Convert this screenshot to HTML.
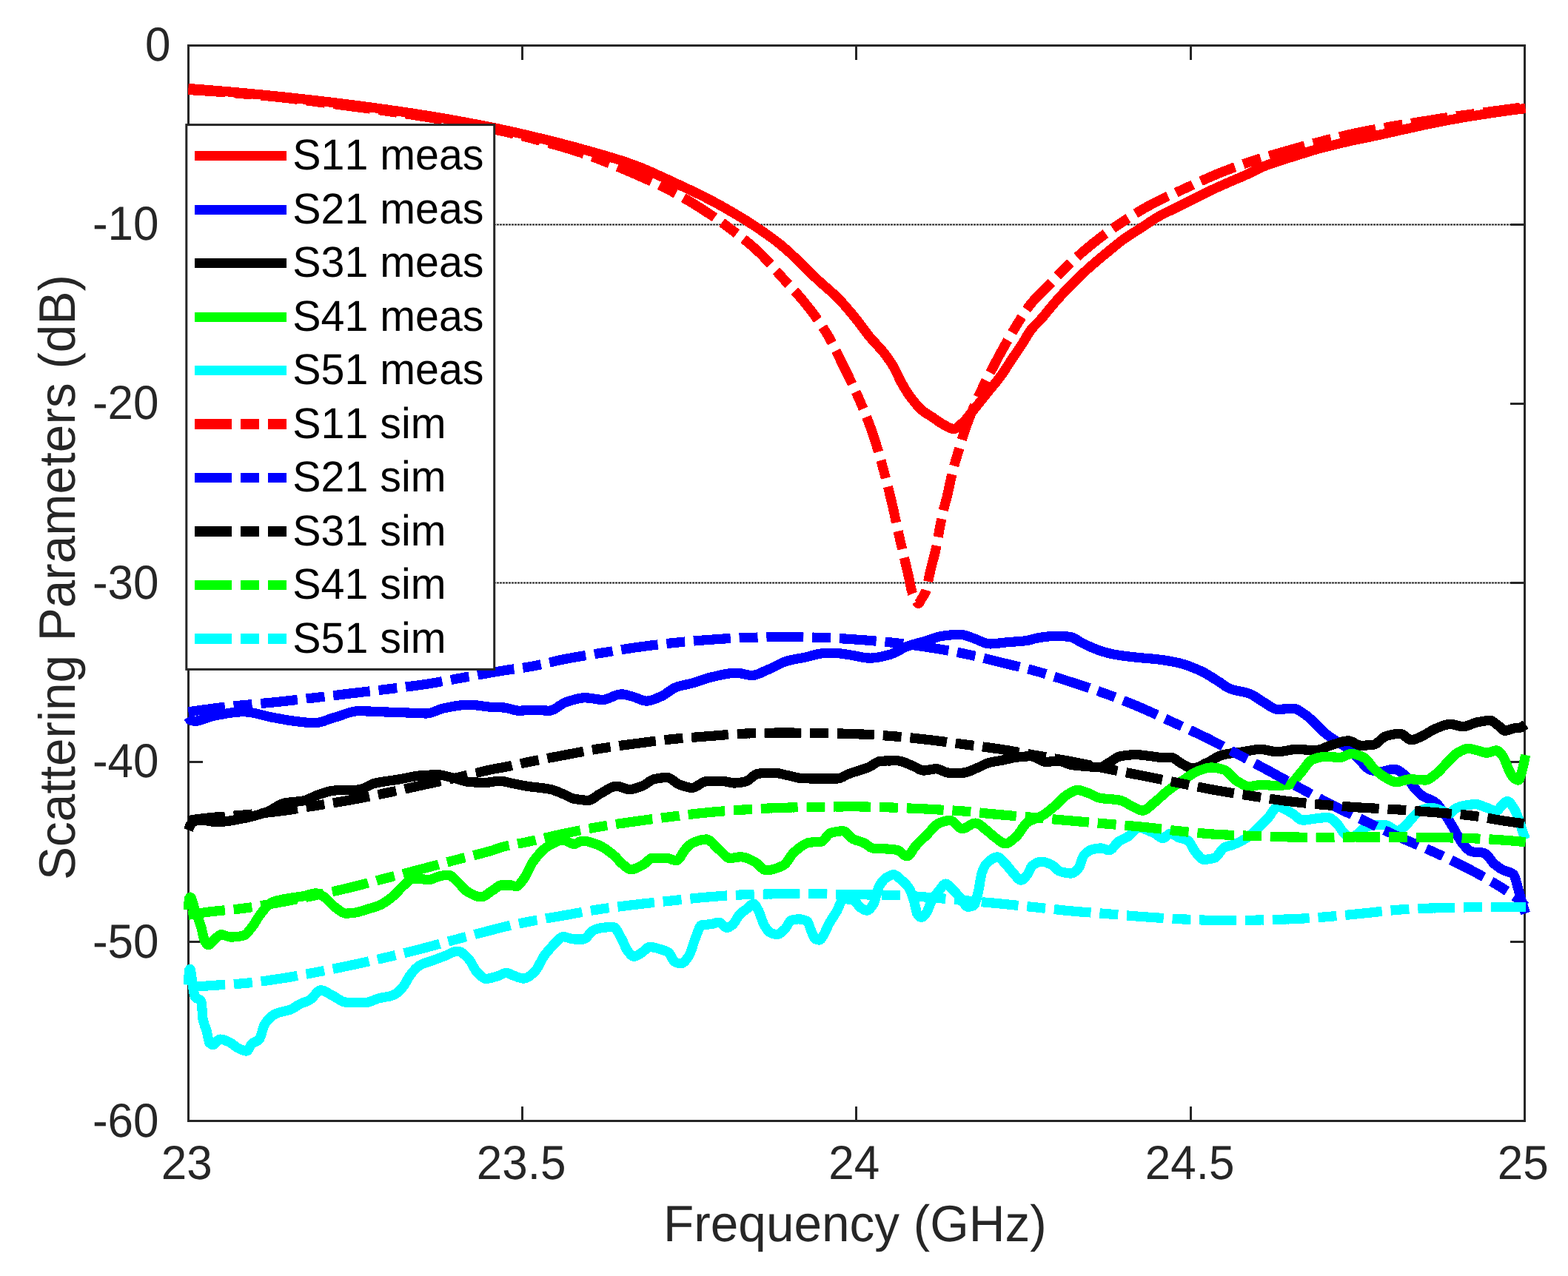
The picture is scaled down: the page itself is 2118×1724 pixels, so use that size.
<!DOCTYPE html>
<html lang="en"><head><meta charset="utf-8">
<style>html,body{margin:0;padding:0;background:#fff;}body{width:2118px;height:1724px;overflow:hidden;}svg{display:block;}text{font-family:'Liberation Sans', sans-serif;font-kerning:none;text-rendering:geometricPrecision;}</style>
</head><body>
<svg width="2118" height="1724" viewBox="0 0 2118 1724">
<rect x="0" y="0" width="2118" height="1724" fill="#ffffff"/>
<g stroke="#262626" stroke-width="1" shape-rendering="crispEdges" fill="none">
<line x1="255" y1="303.5" x2="2041" y2="303.5" stroke-dasharray="3 1"/>
<line x1="256" y1="302.5" x2="2041" y2="302.5" stroke-dasharray="1 3"/>
<line x1="258" y1="302.5" x2="2041" y2="302.5" stroke-dasharray="1 3" stroke-opacity="0.6"/>
<line x1="256" y1="304.5" x2="2041" y2="304.5" stroke-dasharray="1 3"/>
<line x1="258" y1="304.5" x2="2041" y2="304.5" stroke-dasharray="1 3" stroke-opacity="0.6"/>
<line x1="255" y1="787.5" x2="2041" y2="787.5" stroke-dasharray="3 1"/>
<line x1="256" y1="786.5" x2="2041" y2="786.5" stroke-dasharray="1 3"/>
<line x1="258" y1="786.5" x2="2041" y2="786.5" stroke-dasharray="1 3" stroke-opacity="0.6"/>
<line x1="256" y1="788.5" x2="2041" y2="788.5" stroke-dasharray="1 3"/>
<line x1="258" y1="788.5" x2="2041" y2="788.5" stroke-dasharray="1 3" stroke-opacity="0.6"/>
</g>
<rect x="254.5" y="61.5" width="1805.0" height="1453.0" fill="none" stroke="#262626" stroke-width="3"/>
<rect x="256" y="302.0" width="18" height="3" fill="#262626"/>
<rect x="2040" y="302.0" width="18" height="3" fill="#262626"/>
<rect x="256" y="544.0" width="18" height="3" fill="#262626"/>
<rect x="2040" y="544.0" width="18" height="3" fill="#262626"/>
<rect x="256" y="786.0" width="18" height="3" fill="#262626"/>
<rect x="2040" y="786.0" width="18" height="3" fill="#262626"/>
<rect x="256" y="1028.0" width="18" height="3" fill="#262626"/>
<rect x="2040" y="1028.0" width="18" height="3" fill="#262626"/>
<rect x="256" y="1271.0" width="18" height="3" fill="#262626"/>
<rect x="2040" y="1271.0" width="18" height="3" fill="#262626"/>
<rect x="704.0" y="63" width="3" height="18" fill="#262626"/>
<rect x="704.0" y="1495" width="3" height="18" fill="#262626"/>
<rect x="1155.0" y="63" width="3" height="18" fill="#262626"/>
<rect x="1155.0" y="1495" width="3" height="18" fill="#262626"/>
<rect x="1607.0" y="63" width="3" height="18" fill="#262626"/>
<rect x="1607.0" y="1495" width="3" height="18" fill="#262626"/>
<g fill="none" stroke-linejoin="round" stroke-linecap="butt">
<path stroke="#ff0000" stroke-width="11.8" d="M254.5 119.5 L256.5 119.6 L258.5 119.8 L260.5 120.0 L262.5 120.1 L264.5 120.3 L266.5 120.4 L268.5 120.6 L270.5 120.7 L272.5 120.9 L274.5 121.0 L276.5 121.2 L278.5 121.4 L280.5 121.5 L282.5 121.7 L284.5 121.8 L286.5 122.0 L288.5 122.2 L290.5 122.3 L292.5 122.5 L294.5 122.7 L296.5 122.8 L298.5 123.0 L300.5 123.2 L302.5 123.4 L304.5 123.5 L306.5 123.7 L308.5 123.9 L310.5 124.0 L312.5 124.2 L314.5 124.4 L316.5 124.6 L318.5 124.8 L320.5 124.9 L322.5 125.1 L324.5 125.3 L326.5 125.5 L328.5 125.7 L330.5 125.8 L332.5 126.0 L334.5 126.2 L336.5 126.4 L338.5 126.6 L340.5 126.8 L342.5 127.0 L344.5 127.2 L346.5 127.3 L348.5 127.5 L350.5 127.7 L352.5 127.9 L353.3 128.0 L354.5 128.1 L356.5 128.3 L358.5 128.5 L360.5 128.7 L362.5 128.9 L364.5 129.1 L366.5 129.3 L368.5 129.5 L370.5 129.7 L372.5 129.9 L374.5 130.1 L376.5 130.3 L378.5 130.5 L380.5 130.7 L382.5 130.9 L384.5 131.1 L386.5 131.4 L388.5 131.6 L390.5 131.8 L392.5 132.0 L394.5 132.2 L396.5 132.4 L398.5 132.6 L400.5 132.9 L402.5 133.1 L404.5 133.3 L406.5 133.5 L408.5 133.7 L410.5 134.0 L412.5 134.2 L414.5 134.4 L416.5 134.6 L418.5 134.9 L420.5 135.1 L422.5 135.3 L424.5 135.6 L426.5 135.8 L428.5 136.0 L430.5 136.2 L432.5 136.5 L434.5 136.7 L436.5 136.9 L438.5 137.2 L440.5 137.4 L442.5 137.7 L444.5 137.9 L446.5 138.1 L448.5 138.4 L450.5 138.6 L452.5 138.9 L454.5 139.1 L456.5 139.4 L458.5 139.6 L460.5 139.8 L462.5 140.1 L464.5 140.3 L466.5 140.6 L466.6 140.6 L468.5 140.8 L470.5 141.1 L472.5 141.3 L474.5 141.6 L476.5 141.8 L478.5 142.1 L480.5 142.4 L482.5 142.6 L484.5 142.9 L486.5 143.1 L488.5 143.4 L490.5 143.7 L492.5 143.9 L494.5 144.2 L496.5 144.5 L498.5 144.7 L500.5 145.0 L502.5 145.3 L504.5 145.5 L506.5 145.8 L508.5 146.1 L510.5 146.3 L512.5 146.6 L514.5 146.9 L516.5 147.2 L518.5 147.5 L520.5 147.7 L522.5 148.0 L524.5 148.3 L526.5 148.6 L528.5 148.9 L530.5 149.2 L532.5 149.4 L534.5 149.7 L536.5 150.0 L538.5 150.3 L540.5 150.6 L542.5 150.9 L544.5 151.2 L546.5 151.5 L548.5 151.8 L550.5 152.1 L552.5 152.4 L554.5 152.7 L556.5 153.0 L558.5 153.3 L560.5 153.6 L562.5 153.9 L564.5 154.2 L566.5 154.6 L568.5 154.9 L570.5 155.2 L572.5 155.5 L574.5 155.8 L576.5 156.1 L578.5 156.5 L580.0 156.7 L580.5 156.8 L582.5 157.1 L584.5 157.4 L586.5 157.8 L588.5 158.1 L590.5 158.4 L592.5 158.8 L594.5 159.1 L596.5 159.4 L598.5 159.8 L600.5 160.1 L602.5 160.5 L604.5 160.8 L606.5 161.2 L608.5 161.5 L610.5 161.9 L612.5 162.2 L614.5 162.6 L616.5 163.0 L618.5 163.3 L620.5 163.7 L622.5 164.1 L624.5 164.4 L626.5 164.8 L628.5 165.2 L630.5 165.5 L632.5 165.9 L634.5 166.3 L636.5 166.7 L638.5 167.1 L640.5 167.4 L642.5 167.8 L644.5 168.2 L646.5 168.6 L648.5 169.0 L650.5 169.4 L652.5 169.8 L654.5 170.2 L656.5 170.6 L658.5 171.0 L660.5 171.4 L662.5 171.8 L664.5 172.2 L666.5 172.6 L668.5 173.0 L669.0 173.1 L670.5 173.4 L672.5 173.8 L674.5 174.2 L676.5 174.7 L678.5 175.1 L680.5 175.5 L682.5 175.9 L684.5 176.4 L686.5 176.8 L688.5 177.2 L690.5 177.7 L692.5 178.1 L694.5 178.6 L696.5 179.0 L698.5 179.5 L700.5 179.9 L702.5 180.4 L704.5 180.9 L706.5 181.3 L708.5 181.8 L710.5 182.3 L712.5 182.7 L714.5 183.2 L716.5 183.7 L718.5 184.1 L720.5 184.6 L722.5 185.1 L724.5 185.6 L726.5 186.1 L728.5 186.5 L730.0 186.9 L730.5 187.0 L732.5 187.5 L734.5 188.0 L736.5 188.5 L738.5 189.0 L740.5 189.5 L742.5 190.0 L744.5 190.5 L746.5 191.0 L748.5 191.5 L750.5 192.0 L752.5 192.5 L754.5 193.0 L756.5 193.5 L758.5 194.0 L760.5 194.6 L762.5 195.1 L764.5 195.6 L766.5 196.1 L768.5 196.7 L770.5 197.2 L772.5 197.7 L774.5 198.3 L776.5 198.8 L778.5 199.3 L780.5 199.9 L782.5 200.4 L784.5 201.0 L786.5 201.5 L788.5 202.1 L790.5 202.6 L791.4 202.9 L792.5 203.2 L794.5 203.8 L796.5 204.3 L798.5 204.9 L800.5 205.5 L802.5 206.0 L804.5 206.6 L806.5 207.1 L808.5 207.7 L810.5 208.3 L812.5 208.9 L814.5 209.4 L816.5 210.0 L818.5 210.6 L820.5 211.2 L822.5 211.8 L824.5 212.4 L826.5 213.0 L828.5 213.6 L830.5 214.2 L832.5 214.8 L834.5 215.5 L836.5 216.1 L838.5 216.7 L840.5 217.4 L842.5 218.0 L844.5 218.7 L846.5 219.4 L848.5 220.1 L850.5 220.8 L852.5 221.5 L852.8 221.6 L854.5 222.2 L856.5 223.0 L858.5 223.7 L860.5 224.5 L862.5 225.2 L864.5 226.0 L866.5 226.8 L868.5 227.7 L870.5 228.5 L872.5 229.3 L874.5 230.2 L876.5 231.0 L878.5 231.9 L880.5 232.8 L882.5 233.7 L884.5 234.6 L886.5 235.4 L888.5 236.4 L890.5 237.3 L892.5 238.2 L894.5 239.1 L896.5 240.0 L898.5 240.9 L900.5 241.9 L902.5 242.8 L904.5 243.7 L906.5 244.7 L908.5 245.6 L910.5 246.5 L912.5 247.5 L914.1 248.2 L914.5 248.4 L916.5 249.3 L918.5 250.2 L920.5 251.2 L922.5 252.1 L924.5 253.1 L926.5 254.0 L928.5 254.9 L930.5 255.9 L932.5 256.8 L934.5 257.8 L936.5 258.8 L938.5 259.7 L940.5 260.7 L942.5 261.7 L944.5 262.6 L946.5 263.6 L948.5 264.6 L950.5 265.6 L952.5 266.6 L954.5 267.7 L956.5 268.7 L958.5 269.7 L960.5 270.8 L962.5 271.8 L964.5 272.9 L966.5 273.9 L968.5 275.0 L970.5 276.1 L972.5 277.2 L974.5 278.3 L975.5 278.9 L976.5 279.5 L978.5 280.6 L980.5 281.7 L982.5 282.9 L984.5 284.0 L986.5 285.2 L988.5 286.3 L990.5 287.5 L992.5 288.7 L994.5 289.9 L996.5 291.1 L998.5 292.3 L1000.5 293.5 L1002.5 294.7 L1004.5 295.9 L1006.5 297.2 L1008.5 298.4 L1010.5 299.7 L1012.5 301.0 L1014.5 302.3 L1016.5 303.5 L1018.5 304.9 L1020.5 306.2 L1022.5 307.5 L1024.5 308.8 L1026.5 310.2 L1028.5 311.6 L1030.5 313.0 L1032.5 314.3 L1034.5 315.8 L1036.5 317.2 L1038.5 318.6 L1040.5 320.1 L1042.5 321.5 L1044.5 323.0 L1046.5 324.5 L1048.5 326.0 L1050.5 327.6 L1051.3 328.2 L1052.5 329.1 L1054.5 330.7 L1056.5 332.4 L1058.5 334.1 L1060.5 335.8 L1062.5 337.6 L1064.5 339.3 L1066.5 341.2 L1068.5 343.0 L1070.5 344.9 L1072.5 346.8 L1074.5 348.7 L1076.5 350.6 L1078.5 352.6 L1080.5 354.6 L1082.5 356.5 L1084.5 358.5 L1086.5 360.5 L1088.5 362.4 L1090.5 364.4 L1092.5 366.4 L1094.5 368.4 L1096.5 370.3 L1098.5 372.2 L1100.5 374.2 L1102.5 376.1 L1104.5 378.0 L1106.5 379.8 L1106.7 380.0 L1108.5 381.6 L1110.5 383.4 L1112.5 385.2 L1114.5 387.0 L1116.5 388.7 L1118.5 390.5 L1120.5 392.2 L1122.5 394.0 L1124.5 395.8 L1126.5 397.7 L1128.5 399.6 L1130.5 401.5 L1132.5 403.5 L1132.6 403.6 L1134.5 405.6 L1136.5 407.7 L1138.5 409.9 L1140.5 412.1 L1142.5 414.4 L1144.5 416.7 L1146.5 419.1 L1148.5 421.4 L1150.5 423.8 L1152.5 426.3 L1154.5 428.7 L1156.2 430.8 L1156.5 431.2 L1158.5 433.7 L1160.5 436.3 L1162.5 438.9 L1164.5 441.6 L1166.5 444.3 L1168.5 447.0 L1170.5 449.7 L1172.5 452.3 L1174.5 454.8 L1175.1 455.5 L1176.5 457.2 L1178.5 459.4 L1180.5 461.6 L1182.5 463.8 L1184.5 465.9 L1186.5 468.1 L1188.5 470.3 L1190.5 472.5 L1192.5 474.9 L1194.0 476.8 L1194.5 477.4 L1196.5 480.1 L1198.5 482.8 L1200.5 485.6 L1202.5 488.5 L1204.5 491.6 L1206.5 494.9 L1207.0 495.7 L1208.5 498.4 L1210.5 502.4 L1212.5 506.6 L1214.5 510.8 L1216.5 514.9 L1217.6 516.9 L1218.5 518.5 L1220.5 522.0 L1222.5 525.4 L1224.5 528.6 L1226.5 531.7 L1228.5 534.6 L1229.4 535.8 L1230.5 537.3 L1232.5 539.9 L1234.5 542.4 L1236.5 544.9 L1238.5 547.2 L1240.5 549.4 L1242.5 551.5 L1244.5 553.4 L1246.0 554.7 L1246.5 555.1 L1248.5 556.7 L1250.5 558.1 L1252.5 559.3 L1254.5 560.6 L1256.5 561.8 L1258.5 563.1 L1260.1 564.1 L1260.5 564.4 L1262.5 565.8 L1264.5 567.2 L1266.5 568.6 L1268.5 570.0 L1270.5 571.4 L1272.5 572.6 L1274.3 573.6 L1274.5 573.7 L1276.5 574.8 L1278.5 575.9 L1280.5 577.0 L1282.5 578.0 L1284.5 578.8 L1286.5 579.3 L1288.4 579.5 L1288.5 579.5 L1290.5 579.1 L1292.5 578.0 L1294.5 576.5 L1296.5 574.7 L1298.5 572.8 L1300.2 571.2 L1300.5 570.9 L1302.5 569.0 L1304.5 566.9 L1306.5 564.5 L1308.5 562.1 L1310.5 559.5 L1312.5 557.0 L1314.4 554.7 L1314.5 554.6 L1316.5 552.2 L1318.5 549.7 L1320.5 547.2 L1322.5 544.7 L1324.5 542.2 L1326.5 539.7 L1328.5 537.1 L1330.5 534.6 L1332.5 532.1 L1333.3 531.1 L1334.5 529.6 L1336.5 527.2 L1338.5 524.7 L1340.5 522.3 L1342.5 519.9 L1344.5 517.5 L1346.5 515.0 L1348.5 512.4 L1350.5 509.8 L1352.2 507.5 L1352.5 507.1 L1354.5 504.2 L1356.5 501.3 L1358.5 498.2 L1360.5 495.1 L1362.5 492.0 L1364.5 488.9 L1366.3 486.2 L1366.5 485.9 L1368.5 482.9 L1370.5 480.0 L1372.5 477.0 L1374.5 474.1 L1376.5 471.1 L1378.5 468.1 L1380.5 465.0 L1382.5 461.8 L1384.5 458.4 L1386.5 455.0 L1388.5 451.7 L1390.5 448.6 L1392.3 446.1 L1392.5 445.8 L1394.5 443.4 L1396.5 441.2 L1398.5 439.1 L1400.5 437.1 L1402.5 435.1 L1404.5 433.0 L1406.5 430.8 L1408.5 428.5 L1410.5 426.1 L1412.5 423.7 L1414.5 421.2 L1416.5 418.8 L1418.5 416.3 L1420.5 413.9 L1422.5 411.5 L1423.3 410.6 L1424.5 409.2 L1426.5 406.9 L1428.5 404.7 L1430.5 402.4 L1432.5 400.2 L1434.5 398.0 L1436.5 395.8 L1438.5 393.6 L1440.5 391.5 L1442.5 389.4 L1444.5 387.3 L1446.5 385.2 L1447.2 384.5 L1448.5 383.2 L1450.5 381.2 L1452.5 379.2 L1454.5 377.2 L1456.5 375.3 L1458.5 373.4 L1460.5 371.5 L1462.5 369.6 L1464.5 367.7 L1466.5 365.9 L1468.5 364.1 L1470.5 362.3 L1470.8 362.0 L1472.5 360.5 L1474.5 358.7 L1476.5 357.0 L1478.5 355.3 L1480.5 353.6 L1482.5 351.9 L1484.5 350.2 L1486.5 348.5 L1488.5 346.9 L1490.5 345.2 L1492.5 343.6 L1494.4 342.0 L1494.5 341.9 L1496.5 340.3 L1498.5 338.6 L1500.5 336.9 L1502.5 335.3 L1504.5 333.6 L1506.5 332.0 L1508.5 330.4 L1510.5 328.8 L1512.5 327.2 L1514.5 325.7 L1516.5 324.2 L1518.0 323.1 L1518.5 322.7 L1520.5 321.3 L1522.5 320.0 L1524.5 318.6 L1526.5 317.3 L1528.5 316.0 L1530.5 314.7 L1532.5 313.5 L1534.5 312.2 L1536.5 311.0 L1538.5 309.7 L1540.5 308.4 L1541.6 307.7 L1542.5 307.1 L1544.5 305.8 L1546.5 304.5 L1548.5 303.1 L1550.5 301.8 L1552.5 300.4 L1554.5 299.1 L1556.5 297.8 L1558.5 296.5 L1560.5 295.2 L1562.5 294.0 L1564.5 292.9 L1565.3 292.4 L1566.5 291.7 L1568.5 290.6 L1570.5 289.6 L1572.5 288.6 L1574.5 287.6 L1576.5 286.6 L1578.5 285.6 L1580.5 284.7 L1582.5 283.7 L1584.5 282.8 L1586.5 281.8 L1588.5 280.8 L1588.9 280.6 L1590.5 279.8 L1592.5 278.8 L1594.5 277.8 L1596.5 276.8 L1598.5 275.8 L1600.5 274.8 L1602.5 273.8 L1604.5 272.8 L1606.5 271.8 L1608.5 270.8 L1610.5 269.8 L1612.5 268.8 L1614.5 267.8 L1616.5 266.8 L1618.5 265.8 L1620.5 264.8 L1622.5 263.7 L1624.5 262.7 L1626.5 261.7 L1628.5 260.7 L1630.5 259.7 L1632.5 258.7 L1634.5 257.8 L1636.1 257.0 L1636.5 256.8 L1638.5 255.9 L1640.5 254.9 L1642.5 254.0 L1644.5 253.1 L1646.5 252.2 L1648.5 251.3 L1650.5 250.4 L1652.5 249.6 L1654.5 248.7 L1656.5 247.8 L1658.5 246.9 L1659.7 246.4 L1660.5 246.0 L1662.5 245.2 L1664.5 244.3 L1666.5 243.5 L1668.5 242.6 L1670.5 241.8 L1672.5 240.9 L1674.5 240.1 L1676.5 239.2 L1678.5 238.3 L1680.5 237.5 L1682.5 236.6 L1683.3 236.2 L1684.5 235.7 L1686.5 234.7 L1688.5 233.7 L1690.5 232.8 L1692.5 231.8 L1694.5 230.8 L1696.5 229.8 L1698.5 228.8 L1700.5 227.8 L1702.5 226.9 L1704.5 226.0 L1706.5 225.2 L1706.9 225.0 L1708.5 224.4 L1710.5 223.6 L1712.5 222.8 L1714.5 222.1 L1716.5 221.4 L1718.5 220.7 L1720.5 220.0 L1722.5 219.3 L1724.5 218.7 L1726.5 218.0 L1728.5 217.4 L1730.5 216.7 L1732.5 216.0 L1734.5 215.4 L1736.5 214.8 L1738.5 214.1 L1740.5 213.5 L1742.5 212.9 L1744.5 212.3 L1746.5 211.6 L1748.5 211.0 L1750.5 210.4 L1752.5 209.8 L1754.1 209.3 L1754.5 209.2 L1756.5 208.5 L1758.5 207.9 L1760.5 207.3 L1762.5 206.6 L1764.5 206.0 L1766.5 205.4 L1768.5 204.7 L1770.5 204.1 L1772.5 203.5 L1774.5 202.9 L1776.5 202.3 L1777.7 202.0 L1778.5 201.8 L1780.5 201.2 L1782.5 200.7 L1784.5 200.2 L1786.5 199.7 L1788.5 199.2 L1790.5 198.7 L1792.5 198.2 L1794.5 197.7 L1796.5 197.2 L1798.5 196.7 L1800.5 196.2 L1801.3 196.0 L1802.5 195.7 L1804.5 195.2 L1806.5 194.7 L1808.5 194.2 L1810.5 193.7 L1812.5 193.2 L1814.5 192.7 L1816.5 192.3 L1818.5 191.8 L1820.5 191.3 L1822.5 190.8 L1824.5 190.4 L1824.9 190.3 L1826.5 189.9 L1828.5 189.5 L1830.5 189.1 L1832.5 188.7 L1834.5 188.3 L1836.5 187.9 L1838.5 187.5 L1840.5 187.0 L1842.5 186.6 L1844.5 186.2 L1846.5 185.8 L1848.5 185.4 L1850.5 185.0 L1852.5 184.5 L1854.5 184.1 L1856.5 183.7 L1858.5 183.3 L1860.5 182.8 L1862.5 182.4 L1864.5 182.0 L1866.5 181.5 L1868.5 181.1 L1870.5 180.7 L1872.1 180.3 L1872.5 180.2 L1874.5 179.8 L1876.5 179.3 L1878.5 178.9 L1880.5 178.4 L1882.5 178.0 L1884.5 177.5 L1886.5 177.1 L1888.5 176.6 L1890.5 176.2 L1892.5 175.7 L1894.5 175.3 L1895.8 175.0 L1896.5 174.8 L1898.5 174.4 L1900.5 174.0 L1902.5 173.5 L1904.5 173.1 L1906.5 172.6 L1908.5 172.2 L1910.5 171.8 L1912.5 171.3 L1914.5 170.9 L1916.5 170.4 L1918.5 170.0 L1920.5 169.6 L1922.5 169.1 L1924.5 168.7 L1926.5 168.3 L1928.5 167.8 L1930.5 167.4 L1932.5 167.0 L1934.5 166.6 L1936.5 166.2 L1938.5 165.8 L1940.5 165.4 L1942.5 165.0 L1944.5 164.6 L1946.5 164.2 L1948.5 163.8 L1950.0 163.5 L1950.5 163.4 L1952.5 163.0 L1954.5 162.7 L1956.5 162.3 L1958.5 161.9 L1960.5 161.6 L1962.5 161.2 L1964.5 160.9 L1966.5 160.5 L1968.5 160.2 L1970.5 159.8 L1972.5 159.5 L1974.5 159.1 L1976.5 158.8 L1978.5 158.4 L1980.5 158.1 L1982.5 157.8 L1984.5 157.5 L1986.5 157.1 L1988.5 156.8 L1990.5 156.5 L1992.5 156.2 L1994.5 155.9 L1996.5 155.5 L1998.5 155.2 L2000.0 155.0 L2000.5 154.9 L2002.5 154.6 L2004.5 154.3 L2006.5 154.0 L2008.5 153.7 L2010.5 153.4 L2012.5 153.1 L2014.5 152.8 L2016.5 152.5 L2018.5 152.2 L2020.5 151.9 L2022.5 151.6 L2024.5 151.3 L2026.5 151.1 L2028.5 150.8 L2030.5 150.5 L2032.5 150.2 L2034.5 149.9 L2036.5 149.7 L2038.5 149.4 L2040.5 149.1 L2042.5 148.8 L2044.5 148.6 L2046.5 148.3 L2048.5 148.0 L2050.5 147.8 L2052.5 147.5 L2054.5 147.3 L2056.5 147.0 L2058.5 146.7 L2060.5 146.5"/>
<path stroke="#ff0000" stroke-width="13.2" shape-rendering="crispEdges" d="M254.5 119.5 L256.5 119.6 L258.5 119.8 L260.5 120.0 L262.5 120.1 L264.5 120.3 L266.5 120.4 L268.5 120.6 L270.5 120.7 L272.5 120.9 L274.5 121.0 L276.5 121.2 L278.5 121.4 L280.5 121.5 L282.5 121.7 L284.5 121.8 L286.5 122.0 L288.5 122.2 L290.5 122.3 L292.5 122.5 L294.5 122.7 L296.5 122.8 L298.5 123.0 L300.5 123.2 L302.5 123.4 L304.5 123.5 L306.5 123.7 L308.5 123.9 L310.5 124.0 L312.5 124.2 L314.5 124.4 L316.5 124.6 L318.5 124.8 L320.5 124.9 L322.5 125.1 L324.5 125.3 L326.5 125.5 L328.5 125.7 L330.5 125.8 L332.5 126.0 L334.5 126.2 L336.5 126.4 L338.5 126.6 L340.5 126.8 L342.5 127.0 L344.5 127.2 L346.5 127.3 L348.5 127.5 L350.5 127.7 L352.5 127.9 L353.3 128.0 L354.5 128.1 L356.5 128.3 L358.5 128.5 L360.5 128.7 L362.5 128.9 L364.5 129.1 L366.5 129.3 L368.5 129.5 L370.5 129.7 L372.5 129.9 L374.5 130.1 L376.5 130.3 L378.5 130.5 L380.5 130.7 L382.5 130.9 L384.5 131.1 L386.5 131.4 L388.5 131.6 L390.5 131.8 L392.5 132.0 L394.5 132.2 L396.5 132.4 L398.5 132.6 L400.5 132.9 L402.5 133.1 L404.5 133.3 L406.5 133.5 L408.5 133.7 L410.5 134.0 L412.5 134.2 L414.5 134.4 L416.5 134.6 L418.5 134.9 L420.5 135.1 L422.5 135.3 L424.5 135.6 L426.5 135.8 L428.5 136.0 L430.5 136.2 L432.5 136.5 L434.5 136.7 L436.5 136.9 L438.5 137.2 L440.5 137.4 L442.5 137.7 L444.5 137.9 L446.5 138.1 L448.5 138.4 L450.5 138.6 L452.5 138.9 L454.5 139.1 L456.5 139.4 L458.5 139.6 L460.5 139.8 L462.5 140.1 L464.5 140.3 L466.5 140.6 L466.6 140.6 L468.5 140.8 L470.5 141.1 L472.5 141.3 L474.5 141.6 L476.5 141.8 L478.5 142.1 L480.5 142.4 L482.5 142.6 L484.5 142.9 L486.5 143.1 L488.5 143.4 L490.5 143.7 L492.5 143.9 L494.5 144.2 L496.5 144.5 L498.5 144.7 L500.5 145.0 L502.5 145.3 L504.5 145.5 L506.5 145.8 L508.5 146.1 L510.5 146.3 L512.5 146.6 L514.5 146.9 L516.5 147.2 L518.5 147.5 L520.5 147.7 L522.5 148.0 L524.5 148.3 L526.5 148.6 L528.5 148.9 L530.5 149.2 L532.5 149.4 L534.5 149.7 L536.5 150.0 L538.5 150.3 L540.5 150.6 L542.5 150.9 L544.5 151.2 L546.5 151.5 L548.5 151.8 L550.5 152.1 L552.5 152.4 L554.5 152.7 L556.5 153.0 L558.5 153.3 L560.5 153.6 L562.5 153.9 L564.5 154.2 L566.5 154.6 L568.5 154.9 L570.5 155.2 L572.5 155.5 L574.5 155.8 L576.5 156.1 L578.5 156.5 L580.0 156.7 L580.5 156.8 L582.5 157.1 L584.5 157.4 L586.5 157.8 L588.5 158.1 L590.5 158.4 L592.5 158.8 L594.5 159.1 L596.5 159.4 L598.5 159.8 L600.5 160.1 L602.5 160.5 L604.5 160.8 L606.5 161.2 L608.5 161.5 L610.5 161.9 L612.5 162.2 L614.5 162.6 L616.5 163.0 L618.5 163.3 L620.5 163.7 L622.5 164.1 L624.5 164.4 L626.5 164.8 L628.5 165.2 L630.5 165.5 L632.5 165.9 L634.5 166.3 L636.5 166.7 L638.5 167.1 L640.5 167.4 L642.5 167.8 L644.5 168.2 L646.5 168.6 L648.5 169.0 L650.5 169.4 L652.5 169.8 L654.5 170.2 L656.5 170.6 L658.5 171.0 L660.5 171.4 L662.5 171.8 L664.5 172.2 L666.5 172.6 L668.5 173.0 L669.0 173.1 L670.5 173.4 L672.5 173.8 L674.5 174.2 L676.5 174.7 L678.5 175.1 L680.5 175.5 L682.5 175.9 L684.5 176.4 L686.5 176.8 L688.5 177.2 L690.5 177.7 L692.5 178.1 L694.5 178.6 L696.5 179.0 L698.5 179.5 L700.5 179.9 L702.5 180.4 L704.5 180.9 L706.5 181.3 L708.5 181.8 L710.5 182.3 L712.5 182.7 L714.5 183.2 L716.5 183.7 L718.5 184.1 L720.5 184.6 L722.5 185.1 L724.5 185.6 L726.5 186.1 L728.5 186.5 L730.0 186.9 L730.5 187.0 L732.5 187.5 L734.5 188.0 L736.5 188.5 L738.5 189.0 L740.5 189.5 L742.5 190.0 L744.5 190.5 L746.5 191.0 L748.5 191.5 L750.5 192.0 L752.5 192.5 L754.5 193.0 L756.5 193.5 L758.5 194.0 L760.5 194.6 L762.5 195.1 L764.5 195.6 L766.5 196.1 L768.5 196.7 L770.5 197.2 L772.5 197.7 L774.5 198.3 L776.5 198.8 L778.5 199.3 L780.5 199.9 L782.5 200.4 L784.5 201.0 L786.5 201.5 L788.5 202.1 L790.5 202.6 L791.4 202.9 L792.5 203.2 L794.5 203.8 L796.5 204.3 L798.5 204.9 L800.5 205.5 L802.5 206.0 L804.5 206.6 L806.5 207.1 L808.5 207.7 L810.5 208.3 L812.5 208.9 L814.5 209.4 L816.5 210.0 L818.5 210.6 L820.5 211.2 L822.5 211.8 L824.5 212.4 L826.5 213.0 L828.5 213.6 L830.5 214.2 L832.5 214.8 L834.5 215.5 L836.5 216.1 L838.5 216.7 L840.5 217.4 L842.5 218.0 L844.5 218.7 L846.5 219.4 L848.5 220.1 L850.5 220.8 L852.5 221.5 L852.8 221.6 L854.5 222.2 L856.5 223.0 L858.5 223.7 L860.5 224.5 L862.5 225.2 L864.5 226.0 L866.5 226.8 L868.5 227.7 L870.5 228.5 L872.5 229.3 L874.5 230.2 L876.5 231.0 L878.5 231.9 L880.5 232.8 L882.5 233.7 L884.5 234.6 L886.5 235.4 L888.5 236.4 L890.5 237.3 L892.5 238.2 L894.5 239.1 L896.5 240.0 L898.5 240.9 L900.5 241.9 L902.5 242.8 L904.5 243.7 L906.5 244.7 L908.5 245.6 L910.5 246.5 L912.5 247.5 L914.1 248.2 L914.5 248.4 L916.5 249.3 L918.5 250.2 L920.5 251.2 L922.5 252.1 L924.5 253.1 L926.5 254.0 L928.5 254.9 L930.5 255.9 L932.5 256.8 L934.5 257.8 L936.5 258.8 L938.5 259.7 L940.5 260.7 L942.5 261.7 L944.5 262.6 L946.5 263.6 L948.5 264.6 L950.5 265.6 L952.5 266.6 L954.5 267.7 L956.5 268.7 L958.5 269.7 L960.5 270.8 L962.5 271.8 L964.5 272.9 L966.5 273.9 L968.5 275.0 L970.5 276.1 L972.5 277.2 L974.5 278.3 L975.5 278.9 L976.5 279.5 L978.5 280.6 L980.5 281.7 L982.5 282.9 L984.5 284.0 L986.5 285.2 L988.5 286.3 L990.5 287.5 L992.5 288.7 L994.5 289.9 L996.5 291.1 L998.5 292.3 L1000.5 293.5 L1002.5 294.7 L1004.5 295.9 L1006.5 297.2 L1008.5 298.4 L1010.5 299.7 L1012.5 301.0 L1014.5 302.3 L1016.5 303.5 L1018.5 304.9 L1020.5 306.2 L1022.5 307.5 L1024.5 308.8 L1026.5 310.2 L1028.5 311.6 L1030.5 313.0 L1032.5 314.3 L1034.5 315.8 L1036.5 317.2 L1038.5 318.6 L1040.5 320.1 L1042.5 321.5 L1044.5 323.0 L1046.5 324.5 L1048.5 326.0 L1050.5 327.6 L1051.3 328.2 L1052.5 329.1 L1054.5 330.7 L1056.5 332.4 L1058.5 334.1 L1060.5 335.8 L1062.5 337.6 L1064.5 339.3 L1066.5 341.2 L1068.5 343.0 L1070.5 344.9 L1072.5 346.8 L1074.5 348.7 L1076.5 350.6 L1078.5 352.6 L1080.5 354.6 L1082.5 356.5 L1084.5 358.5 L1086.5 360.5 L1088.5 362.4 L1090.5 364.4 L1092.5 366.4 L1094.5 368.4 L1096.5 370.3 L1098.5 372.2 L1100.5 374.2 L1102.5 376.1 L1104.5 378.0 L1106.5 379.8 L1106.7 380.0 L1108.5 381.6 L1110.5 383.4 L1112.5 385.2 L1114.5 387.0 L1116.5 388.7 L1118.5 390.5 L1120.5 392.2 L1122.5 394.0 L1124.5 395.8 L1126.5 397.7 L1128.5 399.6 L1130.5 401.5 L1132.5 403.5 L1132.6 403.6 L1134.5 405.6 L1136.5 407.7 L1138.5 409.9 L1140.5 412.1 L1142.5 414.4 L1144.5 416.7 L1146.5 419.1 L1148.5 421.4 L1150.5 423.8 L1152.5 426.3 L1154.5 428.7 L1156.2 430.8 L1156.5 431.2 L1158.5 433.7 L1160.5 436.3 L1162.5 438.9 L1164.5 441.6 L1166.5 444.3 L1168.5 447.0 L1170.5 449.7 L1172.5 452.3 L1174.5 454.8 L1175.1 455.5 L1176.5 457.2 L1178.5 459.4 L1180.5 461.6 L1182.5 463.8 L1184.5 465.9 L1186.5 468.1 L1188.5 470.3 L1190.5 472.5 L1192.5 474.9 L1194.0 476.8 L1194.5 477.4 L1196.5 480.1 L1198.5 482.8 L1200.5 485.6 L1202.5 488.5 L1204.5 491.6 L1206.5 494.9 L1207.0 495.7 L1208.5 498.4 L1210.5 502.4 L1212.5 506.6 L1214.5 510.8 L1216.5 514.9 L1217.6 516.9 L1218.5 518.5 L1220.5 522.0 L1222.5 525.4 L1224.5 528.6 L1226.5 531.7 L1228.5 534.6 L1229.4 535.8 L1230.5 537.3 L1232.5 539.9 L1234.5 542.4 L1236.5 544.9 L1238.5 547.2 L1240.5 549.4 L1242.5 551.5 L1244.5 553.4 L1246.0 554.7 L1246.5 555.1 L1248.5 556.7 L1250.5 558.1 L1252.5 559.3 L1254.5 560.6 L1256.5 561.8 L1258.5 563.1 L1260.1 564.1 L1260.5 564.4 L1262.5 565.8 L1264.5 567.2 L1266.5 568.6 L1268.5 570.0 L1270.5 571.4 L1272.5 572.6 L1274.3 573.6 L1274.5 573.7 L1276.5 574.8 L1278.5 575.9 L1280.5 577.0 L1282.5 578.0 L1284.5 578.8 L1286.5 579.3 L1288.4 579.5 L1288.5 579.5 L1290.5 579.1 L1292.5 578.0 L1294.5 576.5 L1296.5 574.7 L1298.5 572.8 L1300.2 571.2 L1300.5 570.9 L1302.5 569.0 L1304.5 566.9 L1306.5 564.5 L1308.5 562.1 L1310.5 559.5 L1312.5 557.0 L1314.4 554.7 L1314.5 554.6 L1316.5 552.2 L1318.5 549.7 L1320.5 547.2 L1322.5 544.7 L1324.5 542.2 L1326.5 539.7 L1328.5 537.1 L1330.5 534.6 L1332.5 532.1 L1333.3 531.1 L1334.5 529.6 L1336.5 527.2 L1338.5 524.7 L1340.5 522.3 L1342.5 519.9 L1344.5 517.5 L1346.5 515.0 L1348.5 512.4 L1350.5 509.8 L1352.2 507.5 L1352.5 507.1 L1354.5 504.2 L1356.5 501.3 L1358.5 498.2 L1360.5 495.1 L1362.5 492.0 L1364.5 488.9 L1366.3 486.2 L1366.5 485.9 L1368.5 482.9 L1370.5 480.0 L1372.5 477.0 L1374.5 474.1 L1376.5 471.1 L1378.5 468.1 L1380.5 465.0 L1382.5 461.8 L1384.5 458.4 L1386.5 455.0 L1388.5 451.7 L1390.5 448.6 L1392.3 446.1 L1392.5 445.8 L1394.5 443.4 L1396.5 441.2 L1398.5 439.1 L1400.5 437.1 L1402.5 435.1 L1404.5 433.0 L1406.5 430.8 L1408.5 428.5 L1410.5 426.1 L1412.5 423.7 L1414.5 421.2 L1416.5 418.8 L1418.5 416.3 L1420.5 413.9 L1422.5 411.5 L1423.3 410.6 L1424.5 409.2 L1426.5 406.9 L1428.5 404.7 L1430.5 402.4 L1432.5 400.2 L1434.5 398.0 L1436.5 395.8 L1438.5 393.6 L1440.5 391.5 L1442.5 389.4 L1444.5 387.3 L1446.5 385.2 L1447.2 384.5 L1448.5 383.2 L1450.5 381.2 L1452.5 379.2 L1454.5 377.2 L1456.5 375.3 L1458.5 373.4 L1460.5 371.5 L1462.5 369.6 L1464.5 367.7 L1466.5 365.9 L1468.5 364.1 L1470.5 362.3 L1470.8 362.0 L1472.5 360.5 L1474.5 358.7 L1476.5 357.0 L1478.5 355.3 L1480.5 353.6 L1482.5 351.9 L1484.5 350.2 L1486.5 348.5 L1488.5 346.9 L1490.5 345.2 L1492.5 343.6 L1494.4 342.0 L1494.5 341.9 L1496.5 340.3 L1498.5 338.6 L1500.5 336.9 L1502.5 335.3 L1504.5 333.6 L1506.5 332.0 L1508.5 330.4 L1510.5 328.8 L1512.5 327.2 L1514.5 325.7 L1516.5 324.2 L1518.0 323.1 L1518.5 322.7 L1520.5 321.3 L1522.5 320.0 L1524.5 318.6 L1526.5 317.3 L1528.5 316.0 L1530.5 314.7 L1532.5 313.5 L1534.5 312.2 L1536.5 311.0 L1538.5 309.7 L1540.5 308.4 L1541.6 307.7 L1542.5 307.1 L1544.5 305.8 L1546.5 304.5 L1548.5 303.1 L1550.5 301.8 L1552.5 300.4 L1554.5 299.1 L1556.5 297.8 L1558.5 296.5 L1560.5 295.2 L1562.5 294.0 L1564.5 292.9 L1565.3 292.4 L1566.5 291.7 L1568.5 290.6 L1570.5 289.6 L1572.5 288.6 L1574.5 287.6 L1576.5 286.6 L1578.5 285.6 L1580.5 284.7 L1582.5 283.7 L1584.5 282.8 L1586.5 281.8 L1588.5 280.8 L1588.9 280.6 L1590.5 279.8 L1592.5 278.8 L1594.5 277.8 L1596.5 276.8 L1598.5 275.8 L1600.5 274.8 L1602.5 273.8 L1604.5 272.8 L1606.5 271.8 L1608.5 270.8 L1610.5 269.8 L1612.5 268.8 L1614.5 267.8 L1616.5 266.8 L1618.5 265.8 L1620.5 264.8 L1622.5 263.7 L1624.5 262.7 L1626.5 261.7 L1628.5 260.7 L1630.5 259.7 L1632.5 258.7 L1634.5 257.8 L1636.1 257.0 L1636.5 256.8 L1638.5 255.9 L1640.5 254.9 L1642.5 254.0 L1644.5 253.1 L1646.5 252.2 L1648.5 251.3 L1650.5 250.4 L1652.5 249.6 L1654.5 248.7 L1656.5 247.8 L1658.5 246.9 L1659.7 246.4 L1660.5 246.0 L1662.5 245.2 L1664.5 244.3 L1666.5 243.5 L1668.5 242.6 L1670.5 241.8 L1672.5 240.9 L1674.5 240.1 L1676.5 239.2 L1678.5 238.3 L1680.5 237.5 L1682.5 236.6 L1683.3 236.2 L1684.5 235.7 L1686.5 234.7 L1688.5 233.7 L1690.5 232.8 L1692.5 231.8 L1694.5 230.8 L1696.5 229.8 L1698.5 228.8 L1700.5 227.8 L1702.5 226.9 L1704.5 226.0 L1706.5 225.2 L1706.9 225.0 L1708.5 224.4 L1710.5 223.6 L1712.5 222.8 L1714.5 222.1 L1716.5 221.4 L1718.5 220.7 L1720.5 220.0 L1722.5 219.3 L1724.5 218.7 L1726.5 218.0 L1728.5 217.4 L1730.5 216.7 L1732.5 216.0 L1734.5 215.4 L1736.5 214.8 L1738.5 214.1 L1740.5 213.5 L1742.5 212.9 L1744.5 212.3 L1746.5 211.6 L1748.5 211.0 L1750.5 210.4 L1752.5 209.8 L1754.1 209.3 L1754.5 209.2 L1756.5 208.5 L1758.5 207.9 L1760.5 207.3 L1762.5 206.6 L1764.5 206.0 L1766.5 205.4 L1768.5 204.7 L1770.5 204.1 L1772.5 203.5 L1774.5 202.9 L1776.5 202.3 L1777.7 202.0 L1778.5 201.8 L1780.5 201.2 L1782.5 200.7 L1784.5 200.2 L1786.5 199.7 L1788.5 199.2 L1790.5 198.7 L1792.5 198.2 L1794.5 197.7 L1796.5 197.2 L1798.5 196.7 L1800.5 196.2 L1801.3 196.0 L1802.5 195.7 L1804.5 195.2 L1806.5 194.7 L1808.5 194.2 L1810.5 193.7 L1812.5 193.2 L1814.5 192.7 L1816.5 192.3 L1818.5 191.8 L1820.5 191.3 L1822.5 190.8 L1824.5 190.4 L1824.9 190.3 L1826.5 189.9 L1828.5 189.5 L1830.5 189.1 L1832.5 188.7 L1834.5 188.3 L1836.5 187.9 L1838.5 187.5 L1840.5 187.0 L1842.5 186.6 L1844.5 186.2 L1846.5 185.8 L1848.5 185.4 L1850.5 185.0 L1852.5 184.5 L1854.5 184.1 L1856.5 183.7 L1858.5 183.3 L1860.5 182.8 L1862.5 182.4 L1864.5 182.0 L1866.5 181.5 L1868.5 181.1 L1870.5 180.7 L1872.1 180.3 L1872.5 180.2 L1874.5 179.8 L1876.5 179.3 L1878.5 178.9 L1880.5 178.4 L1882.5 178.0 L1884.5 177.5 L1886.5 177.1 L1888.5 176.6 L1890.5 176.2 L1892.5 175.7 L1894.5 175.3 L1895.8 175.0 L1896.5 174.8 L1898.5 174.4 L1900.5 174.0 L1902.5 173.5 L1904.5 173.1 L1906.5 172.6 L1908.5 172.2 L1910.5 171.8 L1912.5 171.3 L1914.5 170.9 L1916.5 170.4 L1918.5 170.0 L1920.5 169.6 L1922.5 169.1 L1924.5 168.7 L1926.5 168.3 L1928.5 167.8 L1930.5 167.4 L1932.5 167.0 L1934.5 166.6 L1936.5 166.2 L1938.5 165.8 L1940.5 165.4 L1942.5 165.0 L1944.5 164.6 L1946.5 164.2 L1948.5 163.8 L1950.0 163.5 L1950.5 163.4 L1952.5 163.0 L1954.5 162.7 L1956.5 162.3 L1958.5 161.9 L1960.5 161.6 L1962.5 161.2 L1964.5 160.9 L1966.5 160.5 L1968.5 160.2 L1970.5 159.8 L1972.5 159.5 L1974.5 159.1 L1976.5 158.8 L1978.5 158.4 L1980.5 158.1 L1982.5 157.8 L1984.5 157.5 L1986.5 157.1 L1988.5 156.8 L1990.5 156.5 L1992.5 156.2 L1994.5 155.9 L1996.5 155.5 L1998.5 155.2 L2000.0 155.0 L2000.5 154.9 L2002.5 154.6 L2004.5 154.3 L2006.5 154.0 L2008.5 153.7 L2010.5 153.4 L2012.5 153.1 L2014.5 152.8 L2016.5 152.5 L2018.5 152.2 L2020.5 151.9 L2022.5 151.6 L2024.5 151.3 L2026.5 151.1 L2028.5 150.8 L2030.5 150.5 L2032.5 150.2 L2034.5 149.9 L2036.5 149.7 L2038.5 149.4 L2040.5 149.1 L2042.5 148.8 L2044.5 148.6 L2046.5 148.3 L2048.5 148.0 L2050.5 147.8 L2052.5 147.5 L2054.5 147.3 L2056.5 147.0 L2058.5 146.7 L2060.5 146.5"/>
<path stroke="#0000ff" stroke-width="11.8" d="M254.5 969.0 L256.5 972.4 L257.5 973.2 L258.5 973.5 L260.5 973.9 L262.5 974.1 L264.0 974.2 L264.5 974.2 L266.5 974.0 L268.5 973.6 L270.5 973.0 L272.5 972.3 L274.5 971.6 L276.5 970.9 L278.5 970.3 L278.7 970.2 L280.5 969.7 L282.5 969.1 L284.5 968.5 L286.5 967.9 L288.5 967.4 L290.5 966.8 L292.5 966.4 L293.1 966.3 L294.5 966.0 L296.5 965.7 L298.5 965.3 L300.5 965.0 L302.5 964.6 L304.5 964.3 L306.5 963.9 L308.5 963.6 L310.5 963.3 L312.5 963.0 L314.5 962.8 L316.5 962.6 L318.5 962.3 L320.5 962.2 L322.5 962.0 L324.5 961.9 L326.5 961.8 L328.5 961.8 L329.2 961.8 L330.5 961.8 L332.5 961.9 L334.5 962.1 L336.5 962.3 L338.5 962.6 L340.5 962.9 L342.5 963.3 L344.5 963.7 L346.5 964.2 L348.5 964.7 L350.5 965.2 L352.5 965.7 L354.5 966.2 L356.5 966.7 L358.5 967.2 L360.5 967.7 L362.5 968.2 L364.5 968.6 L366.5 969.0 L367.5 969.2 L368.5 969.4 L370.5 969.7 L372.5 970.1 L374.5 970.5 L376.5 970.8 L378.5 971.2 L380.5 971.6 L382.5 971.9 L384.5 972.3 L386.5 972.6 L388.5 973.0 L390.5 973.3 L392.5 973.6 L394.5 973.9 L396.5 974.1 L398.5 974.4 L399.4 974.5 L400.5 974.6 L402.5 974.9 L404.5 975.1 L406.5 975.3 L408.5 975.6 L410.5 975.8 L412.5 976.0 L414.5 976.2 L416.5 976.4 L418.5 976.5 L420.5 976.6 L422.5 976.7 L424.5 976.7 L424.8 976.7 L426.5 976.6 L428.5 976.4 L430.5 976.1 L432.5 975.7 L434.5 975.2 L436.5 974.6 L438.5 973.9 L440.5 973.2 L442.5 972.5 L444.5 971.8 L446.5 971.1 L448.5 970.4 L450.5 969.8 L452.5 969.2 L454.5 968.6 L456.5 968.0 L458.5 967.3 L460.5 966.7 L462.5 965.9 L464.5 965.2 L466.5 964.5 L468.5 963.8 L470.5 963.2 L472.5 962.6 L474.5 962.1 L476.5 961.6 L478.5 961.2 L480.5 960.9 L482.5 960.8 L484.3 960.7 L484.5 960.7 L486.5 960.7 L488.5 960.7 L490.5 960.8 L492.5 960.8 L494.5 960.9 L496.5 961.0 L498.5 961.0 L500.5 961.1 L502.5 961.2 L504.5 961.3 L506.5 961.4 L508.5 961.5 L510.5 961.6 L512.5 961.7 L514.5 961.7 L516.2 961.8 L516.5 961.8 L518.5 961.9 L520.5 961.9 L522.5 962.0 L524.5 962.1 L526.5 962.2 L528.5 962.2 L530.5 962.3 L532.5 962.4 L534.5 962.4 L536.5 962.5 L538.5 962.6 L540.5 962.6 L542.5 962.7 L544.5 962.8 L546.5 962.8 L548.1 962.9 L548.5 962.9 L550.5 963.0 L552.5 963.1 L554.5 963.2 L556.5 963.3 L558.5 963.4 L560.5 963.5 L562.5 963.5 L564.5 963.6 L566.5 963.7 L568.5 963.8 L570.5 963.8 L572.5 963.9 L574.5 963.9 L575.7 963.9 L576.5 963.9 L578.5 963.7 L580.5 963.3 L582.5 962.9 L584.5 962.2 L586.5 961.5 L588.5 960.8 L590.5 960.0 L592.5 959.2 L594.5 958.4 L596.5 957.7 L598.5 957.1 L600.5 956.6 L601.2 956.5 L602.5 956.3 L604.5 955.9 L606.5 955.5 L608.5 955.1 L610.5 954.7 L612.5 954.4 L614.5 954.0 L616.5 953.7 L618.5 953.4 L620.5 953.1 L622.5 952.9 L624.5 952.7 L626.5 952.5 L628.5 952.3 L630.5 952.2 L632.5 952.2 L633.1 952.2 L634.5 952.2 L636.5 952.3 L638.5 952.4 L640.5 952.6 L642.5 952.8 L644.5 953.0 L646.5 953.2 L648.5 953.5 L650.5 953.8 L652.5 954.1 L654.5 954.3 L656.5 954.6 L658.5 954.8 L660.5 955.1 L662.5 955.2 L664.5 955.4 L664.9 955.4 L666.5 955.5 L668.5 955.6 L670.5 955.6 L672.5 955.7 L674.5 955.7 L676.5 955.8 L678.5 955.9 L680.0 956.0 L680.5 956.0 L682.5 956.3 L684.5 956.7 L686.5 957.1 L688.5 957.7 L690.5 958.2 L692.5 958.8 L694.5 959.3 L696.5 959.7 L698.5 960.0 L700.5 960.2 L701.2 960.2 L702.5 960.2 L704.5 960.1 L706.5 960.0 L708.5 959.9 L710.5 959.8 L712.5 959.7 L714.5 959.5 L716.5 959.4 L718.5 959.3 L720.5 959.2 L722.5 959.2 L724.5 959.2 L726.5 959.3 L728.5 959.4 L730.5 959.6 L732.5 959.7 L734.5 959.9 L736.5 960.0 L738.5 960.1 L740.5 960.2 L741.6 960.2 L742.5 960.2 L744.5 959.8 L746.5 959.1 L748.5 958.2 L750.5 957.1 L752.5 955.8 L754.5 954.4 L756.5 953.1 L758.5 951.8 L760.5 950.5 L762.5 949.5 L764.5 948.7 L765.0 948.5 L766.5 948.0 L768.5 947.4 L770.5 946.8 L772.5 946.1 L774.5 945.6 L776.5 945.0 L778.5 944.5 L780.5 944.0 L782.5 943.6 L784.5 943.3 L786.5 943.0 L788.5 942.9 L790.5 942.8 L792.5 942.9 L794.5 943.0 L796.5 943.2 L798.5 943.5 L800.5 943.8 L802.5 944.1 L804.5 944.5 L806.5 944.8 L808.5 945.0 L810.5 945.3 L812.5 945.4 L813.9 945.4 L814.5 945.4 L816.5 945.2 L818.5 944.8 L820.5 944.1 L822.5 943.4 L824.5 942.6 L826.5 941.7 L828.5 940.8 L830.5 940.0 L832.5 939.2 L834.5 938.6 L836.5 938.2 L838.5 937.9 L839.3 937.9 L840.5 937.9 L842.5 938.1 L844.5 938.5 L846.5 939.0 L848.5 939.5 L850.5 940.1 L852.5 940.6 L854.2 941.1 L854.5 941.2 L856.5 941.8 L858.5 942.5 L860.5 943.3 L862.5 944.2 L864.5 945.0 L866.5 945.8 L868.5 946.4 L870.5 946.8 L872.5 947.1 L873.3 947.1 L874.5 947.1 L876.5 946.8 L878.5 946.4 L880.5 945.9 L882.5 945.2 L884.5 944.5 L886.5 943.7 L888.5 942.8 L890.5 941.9 L892.5 941.1 L894.5 940.2 L896.5 939.1 L898.5 937.8 L900.5 936.4 L902.5 935.0 L904.5 933.6 L906.5 932.3 L908.5 931.0 L910.5 929.8 L912.5 928.9 L913.7 928.4 L914.5 928.1 L916.5 927.5 L918.5 926.9 L920.5 926.4 L922.5 925.9 L924.5 925.5 L926.5 925.0 L928.5 924.6 L930.5 924.1 L932.5 923.7 L934.5 923.1 L935.0 923.0 L936.5 922.6 L938.5 922.0 L940.5 921.3 L942.5 920.7 L944.5 920.0 L946.5 919.3 L948.5 918.6 L950.5 918.0 L952.5 917.3 L954.5 916.7 L956.5 916.1 L958.5 915.5 L960.5 915.0 L962.5 914.5 L962.6 914.5 L964.5 914.1 L966.5 913.6 L968.5 913.2 L970.5 912.7 L972.5 912.3 L974.5 911.8 L976.5 911.4 L978.5 911.0 L980.5 910.6 L982.5 910.3 L984.5 910.0 L986.5 909.7 L988.5 909.5 L990.5 909.3 L992.5 909.2 L994.5 909.2 L996.5 909.3 L998.5 909.5 L1000.5 909.8 L1002.5 910.2 L1004.5 910.7 L1006.5 911.1 L1008.5 911.5 L1010.5 911.9 L1012.5 912.2 L1014.5 912.4 L1015.7 912.4 L1016.5 912.4 L1018.5 912.2 L1020.5 911.8 L1022.5 911.2 L1024.5 910.5 L1026.5 909.7 L1028.5 908.8 L1030.5 907.8 L1032.5 906.9 L1034.5 906.0 L1036.5 905.2 L1036.9 905.0 L1038.5 904.3 L1040.5 903.4 L1042.5 902.5 L1044.5 901.5 L1046.5 900.4 L1048.5 899.4 L1050.5 898.4 L1052.5 897.4 L1054.5 896.4 L1056.5 895.5 L1058.5 894.6 L1060.5 893.9 L1062.4 893.3 L1062.5 893.3 L1064.5 892.7 L1066.5 892.2 L1068.5 891.8 L1070.5 891.3 L1072.5 890.9 L1074.5 890.5 L1076.5 890.1 L1078.5 889.8 L1080.5 889.4 L1082.5 889.1 L1084.5 888.7 L1086.5 888.3 L1087.9 888.0 L1088.5 887.9 L1090.5 887.4 L1092.5 886.9 L1094.5 886.4 L1096.5 885.8 L1098.5 885.3 L1100.5 884.7 L1102.5 884.2 L1104.5 883.8 L1106.5 883.4 L1108.5 883.1 L1110.5 882.8 L1112.5 882.7 L1113.4 882.7 L1114.5 882.7 L1116.5 882.7 L1118.5 882.7 L1120.5 882.7 L1122.5 882.7 L1124.5 882.7 L1126.5 882.7 L1128.5 882.7 L1130.0 882.7 L1130.5 882.7 L1132.5 882.8 L1134.5 882.9 L1136.5 883.1 L1138.5 883.4 L1140.5 883.7 L1142.5 884.0 L1144.5 884.3 L1146.5 884.6 L1147.6 884.8 L1148.5 884.9 L1150.5 885.2 L1152.5 885.6 L1154.5 886.0 L1156.5 886.4 L1158.5 886.8 L1160.5 887.2 L1162.5 887.6 L1164.5 888.0 L1166.5 888.3 L1168.5 888.6 L1170.5 888.9 L1172.5 889.0 L1174.5 889.1 L1175.2 889.1 L1176.5 889.1 L1178.5 889.0 L1180.5 888.8 L1182.5 888.6 L1184.5 888.3 L1186.5 888.0 L1188.5 887.6 L1190.5 887.2 L1192.5 886.8 L1194.5 886.3 L1196.5 885.8 L1198.5 885.3 L1200.5 884.8 L1200.7 884.8 L1202.5 884.3 L1204.5 883.6 L1206.5 882.8 L1208.5 881.8 L1210.5 880.9 L1212.5 879.8 L1214.5 878.7 L1216.5 877.7 L1218.5 876.6 L1220.5 875.6 L1222.5 874.6 L1224.5 873.7 L1226.2 873.1 L1226.5 873.0 L1228.5 872.3 L1230.5 871.7 L1232.5 871.0 L1234.5 870.5 L1236.5 869.9 L1238.5 869.3 L1240.5 868.8 L1242.5 868.3 L1244.5 867.7 L1246.5 867.2 L1248.5 866.6 L1250.5 866.1 L1251.7 865.7 L1252.5 865.5 L1254.5 864.8 L1256.5 864.1 L1258.5 863.4 L1260.5 862.7 L1262.5 862.0 L1264.5 861.4 L1266.5 860.8 L1268.5 860.2 L1270.5 859.7 L1272.5 859.4 L1273.0 859.3 L1274.5 859.1 L1276.5 858.8 L1278.5 858.6 L1280.5 858.3 L1282.5 858.1 L1284.5 857.9 L1286.5 857.7 L1288.5 857.5 L1290.5 857.4 L1292.5 857.3 L1294.5 857.2 L1296.3 857.2 L1296.5 857.2 L1298.5 857.3 L1300.5 857.6 L1302.5 858.1 L1304.5 858.7 L1306.5 859.3 L1308.5 860.0 L1310.5 860.8 L1312.5 861.5 L1314.5 862.2 L1315.5 862.5 L1316.5 862.8 L1318.5 863.6 L1320.5 864.4 L1322.5 865.4 L1324.5 866.3 L1326.5 867.2 L1328.5 868.0 L1330.5 868.8 L1332.5 869.3 L1334.5 869.7 L1336.5 869.9 L1336.7 869.9 L1338.5 869.9 L1340.5 869.8 L1342.5 869.7 L1344.5 869.5 L1346.5 869.3 L1348.5 869.1 L1350.5 868.9 L1352.5 868.6 L1354.5 868.4 L1356.5 868.2 L1358.5 867.9 L1360.1 867.8 L1360.5 867.8 L1362.5 867.6 L1364.5 867.5 L1366.5 867.3 L1368.5 867.2 L1370.5 867.0 L1372.5 866.9 L1374.5 866.7 L1376.5 866.6 L1378.5 866.4 L1380.5 866.3 L1382.5 866.1 L1384.5 865.8 L1385.6 865.7 L1386.5 865.6 L1388.5 865.2 L1390.5 864.8 L1392.5 864.3 L1394.5 863.8 L1396.5 863.2 L1398.5 862.7 L1400.5 862.2 L1402.5 861.8 L1404.5 861.4 L1404.7 861.4 L1406.5 861.1 L1408.5 860.9 L1410.5 860.6 L1412.5 860.3 L1414.5 860.1 L1416.5 859.9 L1418.5 859.7 L1420.5 859.5 L1422.5 859.4 L1424.5 859.3 L1426.0 859.3 L1426.5 859.3 L1428.5 859.3 L1430.5 859.4 L1432.5 859.4 L1434.5 859.5 L1436.5 859.7 L1438.5 859.8 L1440.5 860.0 L1442.5 860.1 L1444.5 860.3 L1445.1 860.4 L1446.5 860.6 L1448.5 861.3 L1450.5 862.1 L1452.5 863.2 L1454.5 864.4 L1456.5 865.7 L1458.5 866.9 L1460.5 868.1 L1462.1 868.9 L1462.5 869.1 L1464.5 870.0 L1466.5 871.0 L1468.5 871.9 L1470.5 872.9 L1472.5 873.8 L1474.5 874.7 L1476.5 875.6 L1478.5 876.4 L1480.5 877.1 L1481.2 877.4 L1482.5 877.9 L1484.5 878.6 L1486.5 879.3 L1488.5 879.9 L1490.5 880.6 L1492.5 881.2 L1494.5 881.8 L1496.5 882.3 L1498.5 882.8 L1500.5 883.3 L1502.4 883.7 L1502.5 883.7 L1504.5 884.1 L1506.5 884.5 L1508.5 884.8 L1510.5 885.1 L1512.5 885.4 L1514.5 885.7 L1516.5 886.0 L1518.5 886.2 L1520.5 886.5 L1522.5 886.8 L1523.7 886.9 L1524.5 887.0 L1526.5 887.2 L1528.5 887.5 L1530.5 887.7 L1532.5 887.9 L1534.5 888.1 L1536.5 888.3 L1538.5 888.5 L1540.5 888.7 L1542.5 888.9 L1544.5 889.1 L1544.9 889.1 L1546.5 889.2 L1548.5 889.4 L1550.5 889.6 L1552.5 889.7 L1554.5 889.9 L1556.5 890.1 L1558.5 890.2 L1560.0 890.4 L1560.5 890.5 L1562.5 890.7 L1564.5 890.9 L1566.5 891.2 L1568.5 891.4 L1570.5 891.7 L1572.5 892.0 L1574.5 892.3 L1576.5 892.7 L1578.5 893.0 L1580.5 893.4 L1582.5 893.7 L1584.5 894.1 L1586.5 894.5 L1588.5 894.9 L1590.5 895.4 L1591.9 895.7 L1592.5 895.8 L1594.5 896.3 L1596.5 896.9 L1598.5 897.4 L1600.5 898.1 L1602.5 898.7 L1604.5 899.4 L1606.5 900.1 L1608.5 900.9 L1610.5 901.7 L1612.5 902.5 L1614.5 903.3 L1616.5 904.2 L1618.5 905.0 L1620.5 905.9 L1622.5 906.8 L1623.7 907.4 L1624.5 907.8 L1626.5 908.8 L1628.5 909.9 L1630.5 911.0 L1632.5 912.2 L1634.5 913.5 L1636.5 914.7 L1638.5 916.0 L1640.5 917.3 L1642.5 918.5 L1644.5 919.8 L1645.0 920.1 L1646.5 921.0 L1648.5 922.4 L1650.5 923.8 L1652.5 925.2 L1654.5 926.6 L1656.5 927.9 L1658.5 929.1 L1660.5 930.1 L1662.0 930.7 L1662.5 930.9 L1664.5 931.5 L1666.5 932.1 L1668.5 932.6 L1670.5 933.1 L1672.5 933.5 L1674.5 933.9 L1676.5 934.3 L1678.5 934.7 L1680.5 935.1 L1682.5 935.6 L1684.5 936.1 L1686.5 936.8 L1687.5 937.1 L1688.5 937.5 L1690.5 938.4 L1692.5 939.5 L1694.5 940.6 L1696.5 941.9 L1698.5 943.3 L1700.5 944.7 L1702.5 946.0 L1704.5 947.4 L1706.5 948.6 L1708.5 949.8 L1708.7 949.9 L1710.5 951.0 L1712.5 952.2 L1714.5 953.6 L1716.5 954.9 L1718.5 956.1 L1720.5 957.1 L1722.5 957.9 L1724.5 958.3 L1725.7 958.4 L1726.5 958.4 L1728.5 958.3 L1730.5 958.3 L1732.5 958.1 L1734.5 958.0 L1736.5 957.8 L1738.5 957.7 L1740.5 957.5 L1742.5 957.4 L1744.5 957.3 L1746.5 957.3 L1747.0 957.3 L1748.5 957.4 L1750.5 957.9 L1752.5 958.8 L1754.5 959.9 L1756.5 961.2 L1758.5 962.5 L1760.5 963.9 L1761.8 964.7 L1762.5 965.2 L1764.5 966.6 L1766.5 968.2 L1768.5 969.9 L1770.5 971.7 L1772.5 973.6 L1774.5 975.4 L1776.5 977.3 L1776.7 977.5 L1778.5 979.2 L1780.5 981.3 L1782.5 983.4 L1784.5 985.4 L1786.5 987.5 L1788.5 989.3 L1789.5 990.2 L1790.5 991.0 L1792.5 992.6 L1794.5 994.1 L1796.5 995.6 L1798.5 997.0 L1800.5 998.3 L1802.5 999.7 L1804.3 1000.9 L1804.5 1001.0 L1806.5 1002.3 L1808.5 1003.5 L1810.5 1004.7 L1812.5 1005.8 L1814.5 1007.0 L1816.5 1008.2 L1818.5 1009.5 L1820.5 1010.9 L1821.3 1011.5 L1822.5 1012.5 L1824.5 1014.3 L1826.5 1016.2 L1828.5 1018.3 L1830.5 1020.5 L1832.5 1022.6 L1834.5 1024.7 L1836.2 1026.4 L1836.5 1026.7 L1838.5 1028.8 L1840.5 1031.1 L1842.5 1033.4 L1844.5 1035.5 L1846.5 1037.5 L1848.5 1039.0 L1850.5 1040.0 L1851.1 1040.2 L1852.5 1040.5 L1854.5 1041.0 L1856.5 1041.4 L1858.5 1041.7 L1860.5 1042.0 L1862.5 1042.2 L1864.5 1042.3 L1865.9 1042.3 L1866.5 1042.3 L1868.5 1042.1 L1870.5 1041.7 L1872.5 1041.2 L1874.5 1040.7 L1876.5 1040.1 L1878.5 1039.6 L1880.5 1039.3 L1882.5 1039.1 L1882.9 1039.1 L1884.5 1039.2 L1886.5 1039.8 L1888.5 1040.7 L1890.5 1041.9 L1892.5 1043.4 L1894.5 1044.9 L1896.5 1046.5 L1897.8 1047.6 L1898.5 1048.2 L1900.5 1050.4 L1902.5 1053.1 L1904.5 1056.0 L1906.5 1059.1 L1908.5 1061.9 L1910.5 1064.5 L1910.6 1064.6 L1912.5 1066.8 L1914.5 1069.0 L1916.5 1071.1 L1918.5 1073.0 L1920.5 1074.7 L1921.2 1075.2 L1922.5 1076.0 L1924.5 1077.1 L1926.5 1078.1 L1928.5 1078.9 L1930.5 1079.7 L1932.5 1080.5 L1934.5 1081.5 L1936.5 1082.6 L1938.2 1083.7 L1938.5 1083.9 L1940.5 1085.7 L1942.5 1087.8 L1944.5 1090.2 L1946.5 1092.9 L1948.5 1095.7 L1950.5 1098.4 L1950.9 1099.0 L1952.5 1101.3 L1954.5 1104.3 L1956.5 1107.5 L1958.5 1110.8 L1960.5 1114.2 L1962.5 1117.5 L1963.7 1119.5 L1964.5 1120.8 L1966.5 1124.4 L1968.5 1128.2 L1970.5 1131.8 L1972.5 1135.3 L1974.5 1138.2 L1975.5 1139.5 L1976.5 1140.7 L1978.5 1143.1 L1980.5 1145.3 L1982.5 1147.4 L1984.5 1149.0 L1986.5 1150.2 L1988.0 1150.7 L1988.5 1150.8 L1990.5 1151.1 L1992.5 1151.3 L1994.5 1151.4 L1996.5 1151.5 L1998.5 1151.7 L2000.5 1151.8 L2002.5 1152.1 L2004.0 1152.3 L2004.5 1152.4 L2006.5 1153.5 L2008.5 1155.2 L2010.5 1157.5 L2012.5 1160.1 L2014.5 1162.7 L2016.5 1165.2 L2018.5 1167.3 L2019.1 1167.8 L2020.5 1168.9 L2022.5 1170.5 L2024.5 1171.9 L2026.5 1173.3 L2028.5 1174.5 L2029.7 1175.2 L2030.5 1175.6 L2032.5 1176.4 L2034.5 1177.1 L2036.5 1177.7 L2038.5 1178.3 L2040.5 1179.1 L2042.5 1180.1 L2044.5 1181.6 L2046.5 1185.6 L2048.5 1192.7 L2050.5 1200.4 L2050.9 1201.8 L2052.5 1207.5 L2054.5 1214.9 L2056.2 1220.9 L2056.5 1221.9 L2058.5 1228.2 L2060.5 1234.0"/>
<path stroke="#0000ff" stroke-width="13.2" shape-rendering="crispEdges" d="M254.5 969.0 L256.5 972.4 L257.5 973.2 L258.5 973.5 L260.5 973.9 L262.5 974.1 L264.0 974.2 L264.5 974.2 L266.5 974.0 L268.5 973.6 L270.5 973.0 L272.5 972.3 L274.5 971.6 L276.5 970.9 L278.5 970.3 L278.7 970.2 L280.5 969.7 L282.5 969.1 L284.5 968.5 L286.5 967.9 L288.5 967.4 L290.5 966.8 L292.5 966.4 L293.1 966.3 L294.5 966.0 L296.5 965.7 L298.5 965.3 L300.5 965.0 L302.5 964.6 L304.5 964.3 L306.5 963.9 L308.5 963.6 L310.5 963.3 L312.5 963.0 L314.5 962.8 L316.5 962.6 L318.5 962.3 L320.5 962.2 L322.5 962.0 L324.5 961.9 L326.5 961.8 L328.5 961.8 L329.2 961.8 L330.5 961.8 L332.5 961.9 L334.5 962.1 L336.5 962.3 L338.5 962.6 L340.5 962.9 L342.5 963.3 L344.5 963.7 L346.5 964.2 L348.5 964.7 L350.5 965.2 L352.5 965.7 L354.5 966.2 L356.5 966.7 L358.5 967.2 L360.5 967.7 L362.5 968.2 L364.5 968.6 L366.5 969.0 L367.5 969.2 L368.5 969.4 L370.5 969.7 L372.5 970.1 L374.5 970.5 L376.5 970.8 L378.5 971.2 L380.5 971.6 L382.5 971.9 L384.5 972.3 L386.5 972.6 L388.5 973.0 L390.5 973.3 L392.5 973.6 L394.5 973.9 L396.5 974.1 L398.5 974.4 L399.4 974.5 L400.5 974.6 L402.5 974.9 L404.5 975.1 L406.5 975.3 L408.5 975.6 L410.5 975.8 L412.5 976.0 L414.5 976.2 L416.5 976.4 L418.5 976.5 L420.5 976.6 L422.5 976.7 L424.5 976.7 L424.8 976.7 L426.5 976.6 L428.5 976.4 L430.5 976.1 L432.5 975.7 L434.5 975.2 L436.5 974.6 L438.5 973.9 L440.5 973.2 L442.5 972.5 L444.5 971.8 L446.5 971.1 L448.5 970.4 L450.5 969.8 L452.5 969.2 L454.5 968.6 L456.5 968.0 L458.5 967.3 L460.5 966.7 L462.5 965.9 L464.5 965.2 L466.5 964.5 L468.5 963.8 L470.5 963.2 L472.5 962.6 L474.5 962.1 L476.5 961.6 L478.5 961.2 L480.5 960.9 L482.5 960.8 L484.3 960.7 L484.5 960.7 L486.5 960.7 L488.5 960.7 L490.5 960.8 L492.5 960.8 L494.5 960.9 L496.5 961.0 L498.5 961.0 L500.5 961.1 L502.5 961.2 L504.5 961.3 L506.5 961.4 L508.5 961.5 L510.5 961.6 L512.5 961.7 L514.5 961.7 L516.2 961.8 L516.5 961.8 L518.5 961.9 L520.5 961.9 L522.5 962.0 L524.5 962.1 L526.5 962.2 L528.5 962.2 L530.5 962.3 L532.5 962.4 L534.5 962.4 L536.5 962.5 L538.5 962.6 L540.5 962.6 L542.5 962.7 L544.5 962.8 L546.5 962.8 L548.1 962.9 L548.5 962.9 L550.5 963.0 L552.5 963.1 L554.5 963.2 L556.5 963.3 L558.5 963.4 L560.5 963.5 L562.5 963.5 L564.5 963.6 L566.5 963.7 L568.5 963.8 L570.5 963.8 L572.5 963.9 L574.5 963.9 L575.7 963.9 L576.5 963.9 L578.5 963.7 L580.5 963.3 L582.5 962.9 L584.5 962.2 L586.5 961.5 L588.5 960.8 L590.5 960.0 L592.5 959.2 L594.5 958.4 L596.5 957.7 L598.5 957.1 L600.5 956.6 L601.2 956.5 L602.5 956.3 L604.5 955.9 L606.5 955.5 L608.5 955.1 L610.5 954.7 L612.5 954.4 L614.5 954.0 L616.5 953.7 L618.5 953.4 L620.5 953.1 L622.5 952.9 L624.5 952.7 L626.5 952.5 L628.5 952.3 L630.5 952.2 L632.5 952.2 L633.1 952.2 L634.5 952.2 L636.5 952.3 L638.5 952.4 L640.5 952.6 L642.5 952.8 L644.5 953.0 L646.5 953.2 L648.5 953.5 L650.5 953.8 L652.5 954.1 L654.5 954.3 L656.5 954.6 L658.5 954.8 L660.5 955.1 L662.5 955.2 L664.5 955.4 L664.9 955.4 L666.5 955.5 L668.5 955.6 L670.5 955.6 L672.5 955.7 L674.5 955.7 L676.5 955.8 L678.5 955.9 L680.0 956.0 L680.5 956.0 L682.5 956.3 L684.5 956.7 L686.5 957.1 L688.5 957.7 L690.5 958.2 L692.5 958.8 L694.5 959.3 L696.5 959.7 L698.5 960.0 L700.5 960.2 L701.2 960.2 L702.5 960.2 L704.5 960.1 L706.5 960.0 L708.5 959.9 L710.5 959.8 L712.5 959.7 L714.5 959.5 L716.5 959.4 L718.5 959.3 L720.5 959.2 L722.5 959.2 L724.5 959.2 L726.5 959.3 L728.5 959.4 L730.5 959.6 L732.5 959.7 L734.5 959.9 L736.5 960.0 L738.5 960.1 L740.5 960.2 L741.6 960.2 L742.5 960.2 L744.5 959.8 L746.5 959.1 L748.5 958.2 L750.5 957.1 L752.5 955.8 L754.5 954.4 L756.5 953.1 L758.5 951.8 L760.5 950.5 L762.5 949.5 L764.5 948.7 L765.0 948.5 L766.5 948.0 L768.5 947.4 L770.5 946.8 L772.5 946.1 L774.5 945.6 L776.5 945.0 L778.5 944.5 L780.5 944.0 L782.5 943.6 L784.5 943.3 L786.5 943.0 L788.5 942.9 L790.5 942.8 L792.5 942.9 L794.5 943.0 L796.5 943.2 L798.5 943.5 L800.5 943.8 L802.5 944.1 L804.5 944.5 L806.5 944.8 L808.5 945.0 L810.5 945.3 L812.5 945.4 L813.9 945.4 L814.5 945.4 L816.5 945.2 L818.5 944.8 L820.5 944.1 L822.5 943.4 L824.5 942.6 L826.5 941.7 L828.5 940.8 L830.5 940.0 L832.5 939.2 L834.5 938.6 L836.5 938.2 L838.5 937.9 L839.3 937.9 L840.5 937.9 L842.5 938.1 L844.5 938.5 L846.5 939.0 L848.5 939.5 L850.5 940.1 L852.5 940.6 L854.2 941.1 L854.5 941.2 L856.5 941.8 L858.5 942.5 L860.5 943.3 L862.5 944.2 L864.5 945.0 L866.5 945.8 L868.5 946.4 L870.5 946.8 L872.5 947.1 L873.3 947.1 L874.5 947.1 L876.5 946.8 L878.5 946.4 L880.5 945.9 L882.5 945.2 L884.5 944.5 L886.5 943.7 L888.5 942.8 L890.5 941.9 L892.5 941.1 L894.5 940.2 L896.5 939.1 L898.5 937.8 L900.5 936.4 L902.5 935.0 L904.5 933.6 L906.5 932.3 L908.5 931.0 L910.5 929.8 L912.5 928.9 L913.7 928.4 L914.5 928.1 L916.5 927.5 L918.5 926.9 L920.5 926.4 L922.5 925.9 L924.5 925.5 L926.5 925.0 L928.5 924.6 L930.5 924.1 L932.5 923.7 L934.5 923.1 L935.0 923.0 L936.5 922.6 L938.5 922.0 L940.5 921.3 L942.5 920.7 L944.5 920.0 L946.5 919.3 L948.5 918.6 L950.5 918.0 L952.5 917.3 L954.5 916.7 L956.5 916.1 L958.5 915.5 L960.5 915.0 L962.5 914.5 L962.6 914.5 L964.5 914.1 L966.5 913.6 L968.5 913.2 L970.5 912.7 L972.5 912.3 L974.5 911.8 L976.5 911.4 L978.5 911.0 L980.5 910.6 L982.5 910.3 L984.5 910.0 L986.5 909.7 L988.5 909.5 L990.5 909.3 L992.5 909.2 L994.5 909.2 L996.5 909.3 L998.5 909.5 L1000.5 909.8 L1002.5 910.2 L1004.5 910.7 L1006.5 911.1 L1008.5 911.5 L1010.5 911.9 L1012.5 912.2 L1014.5 912.4 L1015.7 912.4 L1016.5 912.4 L1018.5 912.2 L1020.5 911.8 L1022.5 911.2 L1024.5 910.5 L1026.5 909.7 L1028.5 908.8 L1030.5 907.8 L1032.5 906.9 L1034.5 906.0 L1036.5 905.2 L1036.9 905.0 L1038.5 904.3 L1040.5 903.4 L1042.5 902.5 L1044.5 901.5 L1046.5 900.4 L1048.5 899.4 L1050.5 898.4 L1052.5 897.4 L1054.5 896.4 L1056.5 895.5 L1058.5 894.6 L1060.5 893.9 L1062.4 893.3 L1062.5 893.3 L1064.5 892.7 L1066.5 892.2 L1068.5 891.8 L1070.5 891.3 L1072.5 890.9 L1074.5 890.5 L1076.5 890.1 L1078.5 889.8 L1080.5 889.4 L1082.5 889.1 L1084.5 888.7 L1086.5 888.3 L1087.9 888.0 L1088.5 887.9 L1090.5 887.4 L1092.5 886.9 L1094.5 886.4 L1096.5 885.8 L1098.5 885.3 L1100.5 884.7 L1102.5 884.2 L1104.5 883.8 L1106.5 883.4 L1108.5 883.1 L1110.5 882.8 L1112.5 882.7 L1113.4 882.7 L1114.5 882.7 L1116.5 882.7 L1118.5 882.7 L1120.5 882.7 L1122.5 882.7 L1124.5 882.7 L1126.5 882.7 L1128.5 882.7 L1130.0 882.7 L1130.5 882.7 L1132.5 882.8 L1134.5 882.9 L1136.5 883.1 L1138.5 883.4 L1140.5 883.7 L1142.5 884.0 L1144.5 884.3 L1146.5 884.6 L1147.6 884.8 L1148.5 884.9 L1150.5 885.2 L1152.5 885.6 L1154.5 886.0 L1156.5 886.4 L1158.5 886.8 L1160.5 887.2 L1162.5 887.6 L1164.5 888.0 L1166.5 888.3 L1168.5 888.6 L1170.5 888.9 L1172.5 889.0 L1174.5 889.1 L1175.2 889.1 L1176.5 889.1 L1178.5 889.0 L1180.5 888.8 L1182.5 888.6 L1184.5 888.3 L1186.5 888.0 L1188.5 887.6 L1190.5 887.2 L1192.5 886.8 L1194.5 886.3 L1196.5 885.8 L1198.5 885.3 L1200.5 884.8 L1200.7 884.8 L1202.5 884.3 L1204.5 883.6 L1206.5 882.8 L1208.5 881.8 L1210.5 880.9 L1212.5 879.8 L1214.5 878.7 L1216.5 877.7 L1218.5 876.6 L1220.5 875.6 L1222.5 874.6 L1224.5 873.7 L1226.2 873.1 L1226.5 873.0 L1228.5 872.3 L1230.5 871.7 L1232.5 871.0 L1234.5 870.5 L1236.5 869.9 L1238.5 869.3 L1240.5 868.8 L1242.5 868.3 L1244.5 867.7 L1246.5 867.2 L1248.5 866.6 L1250.5 866.1 L1251.7 865.7 L1252.5 865.5 L1254.5 864.8 L1256.5 864.1 L1258.5 863.4 L1260.5 862.7 L1262.5 862.0 L1264.5 861.4 L1266.5 860.8 L1268.5 860.2 L1270.5 859.7 L1272.5 859.4 L1273.0 859.3 L1274.5 859.1 L1276.5 858.8 L1278.5 858.6 L1280.5 858.3 L1282.5 858.1 L1284.5 857.9 L1286.5 857.7 L1288.5 857.5 L1290.5 857.4 L1292.5 857.3 L1294.5 857.2 L1296.3 857.2 L1296.5 857.2 L1298.5 857.3 L1300.5 857.6 L1302.5 858.1 L1304.5 858.7 L1306.5 859.3 L1308.5 860.0 L1310.5 860.8 L1312.5 861.5 L1314.5 862.2 L1315.5 862.5 L1316.5 862.8 L1318.5 863.6 L1320.5 864.4 L1322.5 865.4 L1324.5 866.3 L1326.5 867.2 L1328.5 868.0 L1330.5 868.8 L1332.5 869.3 L1334.5 869.7 L1336.5 869.9 L1336.7 869.9 L1338.5 869.9 L1340.5 869.8 L1342.5 869.7 L1344.5 869.5 L1346.5 869.3 L1348.5 869.1 L1350.5 868.9 L1352.5 868.6 L1354.5 868.4 L1356.5 868.2 L1358.5 867.9 L1360.1 867.8 L1360.5 867.8 L1362.5 867.6 L1364.5 867.5 L1366.5 867.3 L1368.5 867.2 L1370.5 867.0 L1372.5 866.9 L1374.5 866.7 L1376.5 866.6 L1378.5 866.4 L1380.5 866.3 L1382.5 866.1 L1384.5 865.8 L1385.6 865.7 L1386.5 865.6 L1388.5 865.2 L1390.5 864.8 L1392.5 864.3 L1394.5 863.8 L1396.5 863.2 L1398.5 862.7 L1400.5 862.2 L1402.5 861.8 L1404.5 861.4 L1404.7 861.4 L1406.5 861.1 L1408.5 860.9 L1410.5 860.6 L1412.5 860.3 L1414.5 860.1 L1416.5 859.9 L1418.5 859.7 L1420.5 859.5 L1422.5 859.4 L1424.5 859.3 L1426.0 859.3 L1426.5 859.3 L1428.5 859.3 L1430.5 859.4 L1432.5 859.4 L1434.5 859.5 L1436.5 859.7 L1438.5 859.8 L1440.5 860.0 L1442.5 860.1 L1444.5 860.3 L1445.1 860.4 L1446.5 860.6 L1448.5 861.3 L1450.5 862.1 L1452.5 863.2 L1454.5 864.4 L1456.5 865.7 L1458.5 866.9 L1460.5 868.1 L1462.1 868.9 L1462.5 869.1 L1464.5 870.0 L1466.5 871.0 L1468.5 871.9 L1470.5 872.9 L1472.5 873.8 L1474.5 874.7 L1476.5 875.6 L1478.5 876.4 L1480.5 877.1 L1481.2 877.4 L1482.5 877.9 L1484.5 878.6 L1486.5 879.3 L1488.5 879.9 L1490.5 880.6 L1492.5 881.2 L1494.5 881.8 L1496.5 882.3 L1498.5 882.8 L1500.5 883.3 L1502.4 883.7 L1502.5 883.7 L1504.5 884.1 L1506.5 884.5 L1508.5 884.8 L1510.5 885.1 L1512.5 885.4 L1514.5 885.7 L1516.5 886.0 L1518.5 886.2 L1520.5 886.5 L1522.5 886.8 L1523.7 886.9 L1524.5 887.0 L1526.5 887.2 L1528.5 887.5 L1530.5 887.7 L1532.5 887.9 L1534.5 888.1 L1536.5 888.3 L1538.5 888.5 L1540.5 888.7 L1542.5 888.9 L1544.5 889.1 L1544.9 889.1 L1546.5 889.2 L1548.5 889.4 L1550.5 889.6 L1552.5 889.7 L1554.5 889.9 L1556.5 890.1 L1558.5 890.2 L1560.0 890.4 L1560.5 890.5 L1562.5 890.7 L1564.5 890.9 L1566.5 891.2 L1568.5 891.4 L1570.5 891.7 L1572.5 892.0 L1574.5 892.3 L1576.5 892.7 L1578.5 893.0 L1580.5 893.4 L1582.5 893.7 L1584.5 894.1 L1586.5 894.5 L1588.5 894.9 L1590.5 895.4 L1591.9 895.7 L1592.5 895.8 L1594.5 896.3 L1596.5 896.9 L1598.5 897.4 L1600.5 898.1 L1602.5 898.7 L1604.5 899.4 L1606.5 900.1 L1608.5 900.9 L1610.5 901.7 L1612.5 902.5 L1614.5 903.3 L1616.5 904.2 L1618.5 905.0 L1620.5 905.9 L1622.5 906.8 L1623.7 907.4 L1624.5 907.8 L1626.5 908.8 L1628.5 909.9 L1630.5 911.0 L1632.5 912.2 L1634.5 913.5 L1636.5 914.7 L1638.5 916.0 L1640.5 917.3 L1642.5 918.5 L1644.5 919.8 L1645.0 920.1 L1646.5 921.0 L1648.5 922.4 L1650.5 923.8 L1652.5 925.2 L1654.5 926.6 L1656.5 927.9 L1658.5 929.1 L1660.5 930.1 L1662.0 930.7 L1662.5 930.9 L1664.5 931.5 L1666.5 932.1 L1668.5 932.6 L1670.5 933.1 L1672.5 933.5 L1674.5 933.9 L1676.5 934.3 L1678.5 934.7 L1680.5 935.1 L1682.5 935.6 L1684.5 936.1 L1686.5 936.8 L1687.5 937.1 L1688.5 937.5 L1690.5 938.4 L1692.5 939.5 L1694.5 940.6 L1696.5 941.9 L1698.5 943.3 L1700.5 944.7 L1702.5 946.0 L1704.5 947.4 L1706.5 948.6 L1708.5 949.8 L1708.7 949.9 L1710.5 951.0 L1712.5 952.2 L1714.5 953.6 L1716.5 954.9 L1718.5 956.1 L1720.5 957.1 L1722.5 957.9 L1724.5 958.3 L1725.7 958.4 L1726.5 958.4 L1728.5 958.3 L1730.5 958.3 L1732.5 958.1 L1734.5 958.0 L1736.5 957.8 L1738.5 957.7 L1740.5 957.5 L1742.5 957.4 L1744.5 957.3 L1746.5 957.3 L1747.0 957.3 L1748.5 957.4 L1750.5 957.9 L1752.5 958.8 L1754.5 959.9 L1756.5 961.2 L1758.5 962.5 L1760.5 963.9 L1761.8 964.7 L1762.5 965.2 L1764.5 966.6 L1766.5 968.2 L1768.5 969.9 L1770.5 971.7 L1772.5 973.6 L1774.5 975.4 L1776.5 977.3 L1776.7 977.5 L1778.5 979.2 L1780.5 981.3 L1782.5 983.4 L1784.5 985.4 L1786.5 987.5 L1788.5 989.3 L1789.5 990.2 L1790.5 991.0 L1792.5 992.6 L1794.5 994.1 L1796.5 995.6 L1798.5 997.0 L1800.5 998.3 L1802.5 999.7 L1804.3 1000.9 L1804.5 1001.0 L1806.5 1002.3 L1808.5 1003.5 L1810.5 1004.7 L1812.5 1005.8 L1814.5 1007.0 L1816.5 1008.2 L1818.5 1009.5 L1820.5 1010.9 L1821.3 1011.5 L1822.5 1012.5 L1824.5 1014.3 L1826.5 1016.2 L1828.5 1018.3 L1830.5 1020.5 L1832.5 1022.6 L1834.5 1024.7 L1836.2 1026.4 L1836.5 1026.7 L1838.5 1028.8 L1840.5 1031.1 L1842.5 1033.4 L1844.5 1035.5 L1846.5 1037.5 L1848.5 1039.0 L1850.5 1040.0 L1851.1 1040.2 L1852.5 1040.5 L1854.5 1041.0 L1856.5 1041.4 L1858.5 1041.7 L1860.5 1042.0 L1862.5 1042.2 L1864.5 1042.3 L1865.9 1042.3 L1866.5 1042.3 L1868.5 1042.1 L1870.5 1041.7 L1872.5 1041.2 L1874.5 1040.7 L1876.5 1040.1 L1878.5 1039.6 L1880.5 1039.3 L1882.5 1039.1 L1882.9 1039.1 L1884.5 1039.2 L1886.5 1039.8 L1888.5 1040.7 L1890.5 1041.9 L1892.5 1043.4 L1894.5 1044.9 L1896.5 1046.5 L1897.8 1047.6 L1898.5 1048.2 L1900.5 1050.4 L1902.5 1053.1 L1904.5 1056.0 L1906.5 1059.1 L1908.5 1061.9 L1910.5 1064.5 L1910.6 1064.6 L1912.5 1066.8 L1914.5 1069.0 L1916.5 1071.1 L1918.5 1073.0 L1920.5 1074.7 L1921.2 1075.2 L1922.5 1076.0 L1924.5 1077.1 L1926.5 1078.1 L1928.5 1078.9 L1930.5 1079.7 L1932.5 1080.5 L1934.5 1081.5 L1936.5 1082.6 L1938.2 1083.7 L1938.5 1083.9 L1940.5 1085.7 L1942.5 1087.8 L1944.5 1090.2 L1946.5 1092.9 L1948.5 1095.7 L1950.5 1098.4 L1950.9 1099.0 L1952.5 1101.3 L1954.5 1104.3 L1956.5 1107.5 L1958.5 1110.8 L1960.5 1114.2 L1962.5 1117.5 L1963.7 1119.5 L1964.5 1120.8 L1966.5 1124.4 L1968.5 1128.2 L1970.5 1131.8 L1972.5 1135.3 L1974.5 1138.2 L1975.5 1139.5 L1976.5 1140.7 L1978.5 1143.1 L1980.5 1145.3 L1982.5 1147.4 L1984.5 1149.0 L1986.5 1150.2 L1988.0 1150.7 L1988.5 1150.8 L1990.5 1151.1 L1992.5 1151.3 L1994.5 1151.4 L1996.5 1151.5 L1998.5 1151.7 L2000.5 1151.8 L2002.5 1152.1 L2004.0 1152.3 L2004.5 1152.4 L2006.5 1153.5 L2008.5 1155.2 L2010.5 1157.5 L2012.5 1160.1 L2014.5 1162.7 L2016.5 1165.2 L2018.5 1167.3 L2019.1 1167.8 L2020.5 1168.9 L2022.5 1170.5 L2024.5 1171.9 L2026.5 1173.3 L2028.5 1174.5 L2029.7 1175.2 L2030.5 1175.6 L2032.5 1176.4 L2034.5 1177.1 L2036.5 1177.7 L2038.5 1178.3 L2040.5 1179.1 L2042.5 1180.1 L2044.5 1181.6 L2046.5 1185.6 L2048.5 1192.7 L2050.5 1200.4 L2050.9 1201.8 L2052.5 1207.5 L2054.5 1214.9 L2056.2 1220.9 L2056.5 1221.9 L2058.5 1228.2 L2060.5 1234.0"/>
<path stroke="#000000" stroke-width="11.8" d="M254.5 1121.5 L256.5 1115.8 L257.5 1114.0 L258.5 1112.8 L260.5 1110.9 L262.5 1109.7 L263.0 1109.5 L264.5 1109.0 L266.5 1108.4 L268.5 1108.1 L269.7 1108.0 L270.5 1108.0 L272.5 1108.1 L274.5 1108.3 L276.5 1108.5 L278.5 1108.8 L280.5 1109.1 L282.5 1109.4 L284.5 1109.7 L286.5 1110.0 L288.5 1110.2 L290.5 1110.4 L292.5 1110.5 L293.1 1110.5 L294.5 1110.5 L296.5 1110.4 L298.5 1110.3 L300.5 1110.2 L302.5 1110.0 L304.5 1109.8 L306.5 1109.6 L308.5 1109.3 L310.5 1109.0 L312.5 1108.7 L314.5 1108.4 L316.5 1108.0 L318.5 1107.7 L320.5 1107.3 L322.5 1106.9 L324.5 1106.5 L326.5 1106.1 L328.5 1105.8 L330.5 1105.4 L331.4 1105.2 L332.5 1105.0 L334.5 1104.6 L336.5 1104.1 L338.5 1103.7 L340.5 1103.2 L342.5 1102.7 L344.5 1102.1 L346.5 1101.5 L348.5 1100.9 L350.5 1100.3 L352.5 1099.7 L354.5 1099.0 L356.5 1098.3 L358.5 1097.6 L360.5 1096.9 L361.1 1096.7 L362.5 1096.1 L364.5 1095.2 L366.5 1094.1 L368.5 1093.0 L370.5 1091.8 L372.5 1090.5 L374.5 1089.3 L376.5 1088.2 L378.5 1087.2 L380.5 1086.3 L382.5 1085.5 L384.5 1085.0 L386.5 1084.6 L388.5 1084.3 L390.5 1084.1 L392.5 1083.8 L394.5 1083.6 L396.5 1083.4 L398.5 1083.3 L400.5 1083.1 L402.5 1082.9 L404.5 1082.7 L406.5 1082.4 L408.5 1082.1 L410.0 1081.8 L410.5 1081.7 L412.5 1081.2 L414.5 1080.5 L416.5 1079.7 L418.5 1078.8 L420.5 1077.9 L422.5 1076.9 L424.5 1076.0 L426.5 1075.1 L428.5 1074.3 L430.5 1073.5 L431.2 1073.3 L432.5 1072.9 L434.5 1072.3 L436.5 1071.6 L438.5 1071.0 L440.5 1070.4 L442.5 1069.8 L444.5 1069.3 L446.5 1068.8 L448.5 1068.5 L450.5 1068.2 L452.5 1068.0 L454.5 1067.9 L456.5 1067.8 L458.5 1067.7 L460.5 1067.7 L462.5 1067.6 L464.5 1067.6 L466.5 1067.5 L468.5 1067.5 L470.5 1067.5 L472.5 1067.4 L474.5 1067.4 L476.5 1067.3 L478.5 1067.3 L480.5 1067.2 L482.5 1067.1 L484.3 1067.0 L484.5 1067.0 L486.5 1066.7 L488.5 1066.1 L490.5 1065.4 L492.5 1064.5 L494.5 1063.5 L496.5 1062.4 L498.5 1061.4 L500.5 1060.4 L502.5 1059.5 L504.5 1058.8 L505.6 1058.5 L506.5 1058.3 L508.5 1057.8 L510.5 1057.4 L512.5 1057.0 L514.5 1056.7 L516.5 1056.3 L518.5 1056.0 L520.5 1055.7 L522.5 1055.4 L524.5 1055.1 L526.5 1054.8 L528.5 1054.6 L530.5 1054.3 L532.5 1054.0 L534.5 1053.7 L536.5 1053.4 L537.5 1053.2 L538.5 1053.0 L540.5 1052.7 L542.5 1052.3 L544.5 1051.9 L546.5 1051.5 L548.5 1051.1 L550.5 1050.7 L552.5 1050.3 L554.5 1049.9 L556.5 1049.5 L558.5 1049.2 L560.5 1048.8 L562.5 1048.5 L564.5 1048.3 L566.5 1048.0 L568.5 1047.9 L569.3 1047.8 L570.5 1047.7 L572.5 1047.6 L574.5 1047.4 L576.5 1047.3 L578.5 1047.2 L580.5 1047.1 L582.5 1047.0 L584.5 1046.9 L586.5 1046.9 L588.5 1046.8 L590.5 1046.8 L590.6 1046.8 L592.5 1046.9 L594.5 1047.0 L596.5 1047.3 L598.5 1047.7 L600.5 1048.1 L602.5 1048.6 L604.5 1049.2 L606.5 1049.7 L608.5 1050.2 L610.5 1050.7 L611.8 1051.0 L612.5 1051.2 L614.5 1051.7 L616.5 1052.2 L618.5 1052.8 L620.5 1053.4 L622.5 1054.0 L624.5 1054.6 L626.5 1055.1 L628.5 1055.6 L630.5 1056.0 L632.5 1056.2 L633.1 1056.3 L634.5 1056.4 L636.5 1056.6 L638.5 1056.7 L640.5 1056.9 L642.5 1057.0 L644.5 1057.1 L646.5 1057.2 L648.5 1057.3 L650.5 1057.4 L652.5 1057.4 L654.3 1057.4 L654.5 1057.4 L656.5 1057.3 L658.5 1057.2 L660.5 1057.0 L662.5 1056.7 L664.5 1056.4 L666.5 1056.1 L668.5 1055.8 L670.5 1055.6 L672.5 1055.4 L674.5 1055.3 L675.6 1055.3 L676.5 1055.3 L678.5 1055.5 L680.5 1055.8 L682.5 1056.2 L684.5 1056.7 L686.5 1057.2 L688.5 1057.7 L690.0 1058.0 L690.5 1058.1 L692.5 1058.5 L694.5 1058.9 L696.5 1059.3 L698.5 1059.7 L700.5 1060.1 L702.5 1060.5 L704.5 1060.9 L706.5 1061.3 L708.5 1061.6 L710.5 1062.0 L711.9 1062.2 L712.5 1062.3 L714.5 1062.6 L716.5 1062.9 L718.5 1063.1 L720.5 1063.4 L722.5 1063.6 L724.5 1063.8 L726.5 1064.0 L728.5 1064.2 L730.5 1064.5 L732.5 1064.7 L734.5 1065.0 L736.5 1065.2 L738.5 1065.6 L740.5 1065.9 L742.5 1066.3 L743.7 1066.5 L744.5 1066.7 L746.5 1067.2 L748.5 1067.8 L750.5 1068.6 L752.5 1069.4 L754.5 1070.2 L756.5 1071.0 L758.5 1071.9 L760.5 1072.7 L760.7 1072.8 L762.5 1073.6 L764.5 1074.5 L766.5 1075.6 L768.5 1076.6 L770.5 1077.5 L772.5 1078.3 L774.5 1079.0 L775.6 1079.2 L776.5 1079.4 L778.5 1079.7 L780.5 1080.0 L782.5 1080.3 L784.5 1080.6 L786.5 1080.8 L788.5 1081.0 L790.5 1081.2 L792.5 1081.3 L794.5 1081.3 L794.7 1081.3 L796.5 1081.1 L798.5 1080.4 L800.5 1079.4 L802.5 1078.1 L804.5 1076.7 L806.5 1075.2 L808.5 1073.7 L810.5 1072.5 L811.7 1071.8 L812.5 1071.4 L814.5 1070.3 L816.5 1069.1 L818.5 1067.9 L820.5 1066.7 L822.5 1065.6 L824.5 1064.5 L826.5 1063.6 L828.5 1062.9 L830.5 1062.4 L832.5 1062.2 L833.0 1062.2 L834.5 1062.3 L836.5 1062.7 L838.5 1063.3 L840.5 1064.0 L842.5 1064.7 L844.5 1065.4 L846.5 1066.0 L848.5 1066.4 L850.0 1066.5 L850.5 1066.5 L852.5 1066.4 L854.5 1066.1 L856.5 1065.6 L858.5 1065.1 L860.5 1064.5 L862.5 1063.8 L864.5 1063.1 L866.5 1062.4 L867.0 1062.2 L868.5 1061.6 L870.5 1060.5 L872.5 1059.2 L874.5 1057.8 L876.5 1056.4 L878.5 1055.1 L880.5 1053.9 L882.5 1053.0 L884.0 1052.6 L884.5 1052.5 L886.5 1052.1 L888.5 1051.7 L890.5 1051.4 L892.5 1051.1 L894.5 1050.9 L896.5 1050.7 L898.5 1050.6 L900.5 1050.5 L901.0 1050.5 L902.5 1050.7 L904.5 1051.4 L906.5 1052.5 L908.5 1053.8 L910.5 1055.3 L912.5 1056.9 L914.5 1058.3 L916.5 1059.5 L918.0 1060.1 L918.5 1060.3 L920.5 1061.0 L922.5 1061.7 L924.5 1062.3 L926.5 1062.9 L928.5 1063.5 L930.5 1063.9 L932.5 1064.2 L934.5 1064.3 L935.0 1064.3 L936.5 1064.2 L938.5 1063.5 L940.5 1062.6 L942.5 1061.4 L944.5 1060.1 L946.5 1058.8 L948.5 1057.6 L950.5 1056.6 L952.5 1056.0 L954.1 1055.8 L954.5 1055.8 L956.5 1055.8 L958.5 1055.8 L960.5 1055.8 L962.5 1055.8 L964.5 1055.8 L966.5 1055.8 L968.5 1055.8 L970.5 1055.8 L972.5 1055.8 L974.5 1055.8 L976.5 1055.8 L977.4 1055.8 L978.5 1055.8 L980.5 1056.0 L982.5 1056.4 L984.5 1056.8 L986.5 1057.3 L988.5 1057.6 L990.5 1057.9 L992.3 1058.0 L992.5 1058.0 L994.5 1057.9 L996.5 1057.8 L998.5 1057.5 L1000.5 1057.2 L1002.5 1056.8 L1004.5 1056.4 L1006.5 1056.0 L1007.2 1055.8 L1008.5 1055.4 L1010.5 1054.3 L1012.5 1052.9 L1014.5 1051.2 L1016.5 1049.5 L1018.5 1047.9 L1020.5 1046.6 L1022.5 1045.6 L1024.2 1045.2 L1024.5 1045.2 L1026.5 1045.0 L1028.5 1044.8 L1030.5 1044.7 L1032.5 1044.5 L1034.5 1044.4 L1036.5 1044.3 L1038.5 1044.2 L1040.5 1044.2 L1042.5 1044.1 L1044.5 1044.1 L1045.4 1044.1 L1046.5 1044.1 L1048.5 1044.3 L1050.5 1044.6 L1052.5 1045.0 L1054.5 1045.4 L1056.5 1045.9 L1058.5 1046.4 L1060.5 1046.9 L1062.4 1047.3 L1062.5 1047.3 L1064.5 1047.7 L1066.5 1048.2 L1068.5 1048.7 L1070.5 1049.2 L1072.5 1049.7 L1074.5 1050.2 L1076.5 1050.7 L1078.5 1051.0 L1080.5 1051.3 L1082.5 1051.5 L1083.7 1051.6 L1084.5 1051.6 L1086.5 1051.7 L1088.5 1051.8 L1090.5 1051.8 L1092.5 1051.9 L1094.5 1051.9 L1096.5 1051.9 L1098.5 1052.0 L1100.5 1052.0 L1102.5 1052.0 L1104.5 1052.0 L1104.9 1052.0 L1106.5 1052.0 L1108.5 1052.0 L1110.5 1052.0 L1112.5 1052.0 L1114.5 1052.0 L1116.5 1052.0 L1118.5 1052.0 L1120.5 1052.0 L1122.5 1052.0 L1124.5 1052.0 L1126.5 1052.0 L1128.5 1052.0 L1130.5 1052.0 L1130.6 1052.0 L1132.5 1051.8 L1134.5 1051.3 L1136.5 1050.6 L1138.5 1049.7 L1140.5 1048.6 L1142.5 1047.6 L1144.5 1046.6 L1146.5 1045.6 L1147.6 1045.2 L1148.5 1044.9 L1150.5 1044.2 L1152.5 1043.5 L1154.5 1042.9 L1156.5 1042.3 L1158.5 1041.6 L1160.5 1041.0 L1162.5 1040.4 L1164.5 1039.8 L1166.5 1039.1 L1168.5 1038.4 L1170.5 1037.7 L1172.5 1036.9 L1173.1 1036.7 L1174.5 1036.1 L1176.5 1035.0 L1178.5 1033.7 L1180.5 1032.4 L1182.5 1031.1 L1184.5 1030.0 L1186.5 1029.0 L1188.5 1028.4 L1190.1 1028.2 L1190.5 1028.2 L1192.5 1028.1 L1194.5 1028.1 L1196.5 1028.0 L1198.5 1027.9 L1200.5 1027.9 L1202.5 1027.9 L1204.5 1027.8 L1206.5 1027.8 L1208.5 1027.8 L1210.5 1027.8 L1211.4 1027.8 L1212.5 1027.8 L1214.5 1028.1 L1216.5 1028.4 L1218.5 1029.0 L1220.5 1029.7 L1222.5 1030.4 L1224.5 1031.2 L1226.5 1032.1 L1228.5 1032.9 L1230.5 1033.8 L1232.5 1034.6 L1232.6 1034.6 L1234.5 1035.4 L1236.5 1036.5 L1238.5 1037.6 L1240.5 1038.7 L1242.5 1039.7 L1244.5 1040.5 L1246.5 1040.9 L1247.5 1041.0 L1248.5 1041.0 L1250.5 1040.8 L1252.5 1040.5 L1254.5 1040.2 L1256.5 1039.8 L1258.5 1039.4 L1260.5 1039.1 L1262.5 1038.9 L1264.5 1038.8 L1266.5 1039.0 L1268.5 1039.5 L1270.5 1040.3 L1272.5 1041.2 L1274.5 1042.1 L1276.5 1043.0 L1278.5 1043.7 L1280.5 1044.0 L1281.5 1044.1 L1282.5 1044.1 L1284.5 1044.1 L1286.5 1044.1 L1288.5 1044.1 L1290.5 1044.1 L1292.5 1044.1 L1294.5 1044.1 L1296.5 1044.1 L1298.5 1044.1 L1300.5 1044.1 L1300.6 1044.1 L1302.5 1044.0 L1304.5 1043.6 L1306.5 1043.1 L1308.5 1042.4 L1310.5 1041.7 L1312.5 1040.8 L1314.5 1039.9 L1316.5 1039.0 L1318.5 1038.2 L1319.7 1037.7 L1320.5 1037.4 L1322.5 1036.5 L1324.5 1035.6 L1326.5 1034.6 L1328.5 1033.6 L1330.5 1032.6 L1332.5 1031.7 L1334.5 1031.0 L1336.5 1030.4 L1336.7 1030.3 L1338.5 1029.9 L1340.5 1029.4 L1342.5 1029.1 L1344.5 1028.7 L1346.5 1028.4 L1348.5 1028.1 L1350.5 1027.8 L1352.5 1027.4 L1353.7 1027.2 L1354.5 1027.0 L1356.5 1026.6 L1358.5 1026.2 L1360.5 1025.7 L1362.5 1025.2 L1364.5 1024.8 L1366.5 1024.3 L1368.5 1023.9 L1370.5 1023.5 L1372.5 1023.2 L1374.5 1023.0 L1375.0 1022.9 L1376.5 1022.8 L1378.5 1022.6 L1380.5 1022.4 L1382.5 1022.2 L1384.5 1022.1 L1386.5 1022.0 L1388.5 1021.9 L1390.5 1021.8 L1392.0 1021.8 L1392.5 1021.8 L1394.5 1022.1 L1396.5 1022.7 L1398.5 1023.5 L1400.5 1024.5 L1402.5 1025.5 L1404.5 1026.5 L1406.5 1027.5 L1408.5 1028.4 L1410.5 1029.0 L1412.5 1029.3 L1413.2 1029.3 L1414.5 1029.3 L1416.5 1029.2 L1418.5 1029.0 L1420.5 1028.9 L1422.5 1028.7 L1424.5 1028.5 L1426.5 1028.3 L1428.5 1028.2 L1430.2 1028.2 L1430.5 1028.2 L1432.5 1028.4 L1434.5 1028.9 L1436.5 1029.6 L1438.5 1030.4 L1440.5 1031.3 L1442.5 1032.1 L1444.5 1032.9 L1446.5 1033.4 L1447.2 1033.5 L1448.5 1033.7 L1450.5 1033.9 L1452.5 1034.2 L1454.5 1034.4 L1456.5 1034.6 L1458.5 1034.8 L1460.5 1034.9 L1462.5 1035.1 L1464.5 1035.2 L1466.5 1035.4 L1468.5 1035.5 L1470.5 1035.7 L1470.6 1035.7 L1472.5 1035.9 L1474.5 1036.0 L1476.5 1036.2 L1478.5 1036.4 L1480.5 1036.5 L1482.5 1036.6 L1484.5 1036.7 L1485.4 1036.7 L1486.5 1036.6 L1488.5 1036.1 L1490.5 1035.1 L1492.5 1033.9 L1494.5 1032.6 L1496.5 1031.3 L1498.2 1030.3 L1498.5 1030.1 L1500.5 1028.9 L1502.5 1027.6 L1504.5 1026.2 L1506.5 1024.8 L1508.5 1023.6 L1510.5 1022.6 L1512.5 1021.9 L1513.1 1021.8 L1514.5 1021.6 L1516.5 1021.2 L1518.5 1020.9 L1520.5 1020.7 L1522.5 1020.4 L1524.5 1020.2 L1526.5 1020.0 L1528.5 1019.9 L1530.5 1019.8 L1532.5 1019.7 L1534.3 1019.7 L1534.5 1019.7 L1536.5 1019.7 L1538.5 1019.8 L1540.5 1020.0 L1542.5 1020.2 L1544.5 1020.4 L1546.5 1020.7 L1548.5 1020.9 L1550.5 1021.2 L1552.5 1021.4 L1554.5 1021.7 L1555.5 1021.8 L1556.5 1021.9 L1558.5 1022.2 L1560.5 1022.5 L1562.5 1022.8 L1564.5 1023.1 L1566.5 1023.3 L1568.5 1023.5 L1570.0 1023.5 L1570.5 1023.5 L1572.5 1023.5 L1574.5 1023.4 L1576.5 1023.3 L1578.5 1023.2 L1580.5 1023.2 L1581.2 1023.2 L1582.5 1023.3 L1584.5 1024.0 L1586.5 1025.1 L1588.5 1026.4 L1590.5 1027.9 L1592.5 1029.4 L1594.5 1030.8 L1596.1 1031.7 L1596.5 1031.9 L1598.5 1033.0 L1600.5 1034.1 L1602.5 1035.2 L1604.5 1036.2 L1606.5 1037.1 L1608.5 1037.7 L1610.5 1038.0 L1611.0 1038.0 L1612.5 1037.9 L1614.5 1037.6 L1616.5 1037.0 L1618.5 1036.3 L1620.5 1035.4 L1622.5 1034.4 L1624.5 1033.4 L1626.5 1032.3 L1628.5 1031.3 L1630.1 1030.6 L1630.5 1030.4 L1632.5 1029.5 L1634.5 1028.4 L1636.5 1027.3 L1638.5 1026.1 L1640.5 1024.9 L1642.5 1023.8 L1644.5 1022.7 L1646.5 1021.8 L1648.5 1020.9 L1650.5 1020.2 L1651.4 1020.0 L1652.5 1019.7 L1654.5 1019.3 L1656.5 1018.9 L1658.5 1018.5 L1660.5 1018.2 L1662.5 1017.9 L1664.5 1017.6 L1666.5 1017.3 L1668.5 1017.1 L1670.5 1016.8 L1672.5 1016.6 L1674.5 1016.3 L1676.5 1016.1 L1678.5 1015.8 L1679.0 1015.7 L1680.5 1015.5 L1682.5 1015.1 L1684.5 1014.8 L1686.5 1014.4 L1688.5 1014.1 L1690.5 1013.7 L1692.5 1013.4 L1694.5 1013.1 L1696.5 1012.8 L1698.5 1012.7 L1700.5 1012.5 L1702.4 1012.5 L1702.5 1012.5 L1704.5 1012.6 L1706.5 1012.8 L1708.5 1013.0 L1710.5 1013.4 L1712.5 1013.8 L1714.5 1014.2 L1716.5 1014.6 L1718.5 1015.0 L1720.5 1015.3 L1722.5 1015.5 L1724.5 1015.7 L1725.7 1015.7 L1726.5 1015.7 L1728.5 1015.6 L1730.5 1015.4 L1732.5 1015.1 L1734.5 1014.8 L1736.5 1014.5 L1738.5 1014.1 L1740.5 1013.7 L1742.5 1013.4 L1744.5 1013.0 L1746.5 1012.8 L1748.5 1012.6 L1750.5 1012.5 L1751.2 1012.5 L1752.5 1012.5 L1754.5 1012.6 L1756.5 1012.6 L1758.5 1012.7 L1760.5 1012.8 L1762.5 1013.0 L1764.5 1013.1 L1766.5 1013.2 L1768.5 1013.3 L1770.5 1013.4 L1772.5 1013.5 L1774.5 1013.6 L1776.5 1013.6 L1776.7 1013.6 L1778.5 1013.5 L1780.5 1013.2 L1782.5 1012.8 L1784.5 1012.2 L1786.5 1011.5 L1788.5 1010.7 L1790.5 1009.8 L1792.5 1009.0 L1794.5 1008.2 L1796.5 1007.4 L1798.5 1006.7 L1800.1 1006.2 L1800.5 1006.1 L1802.5 1005.5 L1804.5 1004.8 L1806.5 1004.2 L1808.5 1003.5 L1810.5 1002.9 L1812.5 1002.3 L1814.5 1001.8 L1816.5 1001.4 L1818.5 1001.1 L1820.5 1000.9 L1821.3 1000.9 L1822.5 1001.0 L1824.5 1001.5 L1826.5 1002.3 L1828.5 1003.3 L1830.5 1004.4 L1832.5 1005.5 L1834.5 1006.4 L1836.5 1007.0 L1838.3 1007.2 L1838.5 1007.2 L1840.5 1007.2 L1842.5 1007.1 L1844.5 1007.1 L1846.5 1006.9 L1848.5 1006.8 L1850.5 1006.7 L1852.5 1006.5 L1854.5 1006.3 L1855.3 1006.2 L1856.5 1005.9 L1858.5 1005.0 L1860.5 1003.6 L1862.5 1001.9 L1864.5 1000.0 L1866.5 998.2 L1868.5 996.5 L1870.5 995.2 L1872.3 994.5 L1872.5 994.4 L1874.5 993.9 L1876.5 993.4 L1878.5 992.9 L1880.5 992.5 L1882.5 992.1 L1884.5 991.8 L1886.5 991.6 L1888.5 991.4 L1890.5 991.3 L1891.4 991.3 L1892.5 991.4 L1894.5 992.3 L1896.5 993.6 L1898.5 995.3 L1900.5 996.9 L1902.5 998.4 L1904.5 999.5 L1906.3 999.8 L1906.5 999.8 L1908.5 999.6 L1910.5 999.1 L1912.5 998.5 L1914.5 997.6 L1916.5 996.7 L1918.5 995.7 L1920.5 994.8 L1921.2 994.5 L1922.5 993.9 L1924.5 992.8 L1926.5 991.6 L1928.5 990.4 L1930.5 989.1 L1932.5 987.9 L1934.5 986.7 L1936.5 985.7 L1938.2 984.9 L1938.5 984.8 L1940.5 984.0 L1942.5 983.1 L1944.5 982.3 L1946.5 981.5 L1948.5 980.8 L1950.5 980.1 L1952.5 979.5 L1954.5 979.0 L1956.5 978.7 L1958.5 978.5 L1959.4 978.5 L1960.5 978.5 L1962.5 978.8 L1964.5 979.2 L1966.5 979.7 L1968.5 980.3 L1970.5 980.8 L1972.5 981.3 L1974.5 981.6 L1976.4 981.7 L1976.5 981.7 L1978.5 981.5 L1980.5 981.1 L1982.5 980.5 L1984.5 979.8 L1986.5 979.0 L1988.5 978.1 L1990.5 977.3 L1992.5 976.6 L1994.5 976.0 L1995.5 975.8 L1996.5 975.6 L1998.5 975.2 L2000.5 974.9 L2002.5 974.5 L2004.5 974.2 L2006.5 973.9 L2008.5 973.7 L2010.5 973.6 L2012.5 973.5 L2012.7 973.5 L2014.5 973.8 L2016.5 974.8 L2018.5 976.2 L2020.5 977.8 L2022.5 979.3 L2023.3 979.9 L2024.5 980.8 L2026.5 982.8 L2028.5 984.8 L2030.5 986.4 L2032.5 987.3 L2032.9 987.3 L2034.5 987.2 L2036.5 986.7 L2038.5 986.0 L2040.5 985.3 L2042.5 984.6 L2044.5 984.1 L2046.5 983.8 L2048.5 983.7 L2050.5 983.5 L2052.5 983.2 L2053.0 983.1 L2054.5 982.7 L2056.5 981.7 L2058.5 980.3 L2060.5 978.8"/>
<path stroke="#000000" stroke-width="13.2" shape-rendering="crispEdges" d="M254.5 1121.5 L256.5 1115.8 L257.5 1114.0 L258.5 1112.8 L260.5 1110.9 L262.5 1109.7 L263.0 1109.5 L264.5 1109.0 L266.5 1108.4 L268.5 1108.1 L269.7 1108.0 L270.5 1108.0 L272.5 1108.1 L274.5 1108.3 L276.5 1108.5 L278.5 1108.8 L280.5 1109.1 L282.5 1109.4 L284.5 1109.7 L286.5 1110.0 L288.5 1110.2 L290.5 1110.4 L292.5 1110.5 L293.1 1110.5 L294.5 1110.5 L296.5 1110.4 L298.5 1110.3 L300.5 1110.2 L302.5 1110.0 L304.5 1109.8 L306.5 1109.6 L308.5 1109.3 L310.5 1109.0 L312.5 1108.7 L314.5 1108.4 L316.5 1108.0 L318.5 1107.7 L320.5 1107.3 L322.5 1106.9 L324.5 1106.5 L326.5 1106.1 L328.5 1105.8 L330.5 1105.4 L331.4 1105.2 L332.5 1105.0 L334.5 1104.6 L336.5 1104.1 L338.5 1103.7 L340.5 1103.2 L342.5 1102.7 L344.5 1102.1 L346.5 1101.5 L348.5 1100.9 L350.5 1100.3 L352.5 1099.7 L354.5 1099.0 L356.5 1098.3 L358.5 1097.6 L360.5 1096.9 L361.1 1096.7 L362.5 1096.1 L364.5 1095.2 L366.5 1094.1 L368.5 1093.0 L370.5 1091.8 L372.5 1090.5 L374.5 1089.3 L376.5 1088.2 L378.5 1087.2 L380.5 1086.3 L382.5 1085.5 L384.5 1085.0 L386.5 1084.6 L388.5 1084.3 L390.5 1084.1 L392.5 1083.8 L394.5 1083.6 L396.5 1083.4 L398.5 1083.3 L400.5 1083.1 L402.5 1082.9 L404.5 1082.7 L406.5 1082.4 L408.5 1082.1 L410.0 1081.8 L410.5 1081.7 L412.5 1081.2 L414.5 1080.5 L416.5 1079.7 L418.5 1078.8 L420.5 1077.9 L422.5 1076.9 L424.5 1076.0 L426.5 1075.1 L428.5 1074.3 L430.5 1073.5 L431.2 1073.3 L432.5 1072.9 L434.5 1072.3 L436.5 1071.6 L438.5 1071.0 L440.5 1070.4 L442.5 1069.8 L444.5 1069.3 L446.5 1068.8 L448.5 1068.5 L450.5 1068.2 L452.5 1068.0 L454.5 1067.9 L456.5 1067.8 L458.5 1067.7 L460.5 1067.7 L462.5 1067.6 L464.5 1067.6 L466.5 1067.5 L468.5 1067.5 L470.5 1067.5 L472.5 1067.4 L474.5 1067.4 L476.5 1067.3 L478.5 1067.3 L480.5 1067.2 L482.5 1067.1 L484.3 1067.0 L484.5 1067.0 L486.5 1066.7 L488.5 1066.1 L490.5 1065.4 L492.5 1064.5 L494.5 1063.5 L496.5 1062.4 L498.5 1061.4 L500.5 1060.4 L502.5 1059.5 L504.5 1058.8 L505.6 1058.5 L506.5 1058.3 L508.5 1057.8 L510.5 1057.4 L512.5 1057.0 L514.5 1056.7 L516.5 1056.3 L518.5 1056.0 L520.5 1055.7 L522.5 1055.4 L524.5 1055.1 L526.5 1054.8 L528.5 1054.6 L530.5 1054.3 L532.5 1054.0 L534.5 1053.7 L536.5 1053.4 L537.5 1053.2 L538.5 1053.0 L540.5 1052.7 L542.5 1052.3 L544.5 1051.9 L546.5 1051.5 L548.5 1051.1 L550.5 1050.7 L552.5 1050.3 L554.5 1049.9 L556.5 1049.5 L558.5 1049.2 L560.5 1048.8 L562.5 1048.5 L564.5 1048.3 L566.5 1048.0 L568.5 1047.9 L569.3 1047.8 L570.5 1047.7 L572.5 1047.6 L574.5 1047.4 L576.5 1047.3 L578.5 1047.2 L580.5 1047.1 L582.5 1047.0 L584.5 1046.9 L586.5 1046.9 L588.5 1046.8 L590.5 1046.8 L590.6 1046.8 L592.5 1046.9 L594.5 1047.0 L596.5 1047.3 L598.5 1047.7 L600.5 1048.1 L602.5 1048.6 L604.5 1049.2 L606.5 1049.7 L608.5 1050.2 L610.5 1050.7 L611.8 1051.0 L612.5 1051.2 L614.5 1051.7 L616.5 1052.2 L618.5 1052.8 L620.5 1053.4 L622.5 1054.0 L624.5 1054.6 L626.5 1055.1 L628.5 1055.6 L630.5 1056.0 L632.5 1056.2 L633.1 1056.3 L634.5 1056.4 L636.5 1056.6 L638.5 1056.7 L640.5 1056.9 L642.5 1057.0 L644.5 1057.1 L646.5 1057.2 L648.5 1057.3 L650.5 1057.4 L652.5 1057.4 L654.3 1057.4 L654.5 1057.4 L656.5 1057.3 L658.5 1057.2 L660.5 1057.0 L662.5 1056.7 L664.5 1056.4 L666.5 1056.1 L668.5 1055.8 L670.5 1055.6 L672.5 1055.4 L674.5 1055.3 L675.6 1055.3 L676.5 1055.3 L678.5 1055.5 L680.5 1055.8 L682.5 1056.2 L684.5 1056.7 L686.5 1057.2 L688.5 1057.7 L690.0 1058.0 L690.5 1058.1 L692.5 1058.5 L694.5 1058.9 L696.5 1059.3 L698.5 1059.7 L700.5 1060.1 L702.5 1060.5 L704.5 1060.9 L706.5 1061.3 L708.5 1061.6 L710.5 1062.0 L711.9 1062.2 L712.5 1062.3 L714.5 1062.6 L716.5 1062.9 L718.5 1063.1 L720.5 1063.4 L722.5 1063.6 L724.5 1063.8 L726.5 1064.0 L728.5 1064.2 L730.5 1064.5 L732.5 1064.7 L734.5 1065.0 L736.5 1065.2 L738.5 1065.6 L740.5 1065.9 L742.5 1066.3 L743.7 1066.5 L744.5 1066.7 L746.5 1067.2 L748.5 1067.8 L750.5 1068.6 L752.5 1069.4 L754.5 1070.2 L756.5 1071.0 L758.5 1071.9 L760.5 1072.7 L760.7 1072.8 L762.5 1073.6 L764.5 1074.5 L766.5 1075.6 L768.5 1076.6 L770.5 1077.5 L772.5 1078.3 L774.5 1079.0 L775.6 1079.2 L776.5 1079.4 L778.5 1079.7 L780.5 1080.0 L782.5 1080.3 L784.5 1080.6 L786.5 1080.8 L788.5 1081.0 L790.5 1081.2 L792.5 1081.3 L794.5 1081.3 L794.7 1081.3 L796.5 1081.1 L798.5 1080.4 L800.5 1079.4 L802.5 1078.1 L804.5 1076.7 L806.5 1075.2 L808.5 1073.7 L810.5 1072.5 L811.7 1071.8 L812.5 1071.4 L814.5 1070.3 L816.5 1069.1 L818.5 1067.9 L820.5 1066.7 L822.5 1065.6 L824.5 1064.5 L826.5 1063.6 L828.5 1062.9 L830.5 1062.4 L832.5 1062.2 L833.0 1062.2 L834.5 1062.3 L836.5 1062.7 L838.5 1063.3 L840.5 1064.0 L842.5 1064.7 L844.5 1065.4 L846.5 1066.0 L848.5 1066.4 L850.0 1066.5 L850.5 1066.5 L852.5 1066.4 L854.5 1066.1 L856.5 1065.6 L858.5 1065.1 L860.5 1064.5 L862.5 1063.8 L864.5 1063.1 L866.5 1062.4 L867.0 1062.2 L868.5 1061.6 L870.5 1060.5 L872.5 1059.2 L874.5 1057.8 L876.5 1056.4 L878.5 1055.1 L880.5 1053.9 L882.5 1053.0 L884.0 1052.6 L884.5 1052.5 L886.5 1052.1 L888.5 1051.7 L890.5 1051.4 L892.5 1051.1 L894.5 1050.9 L896.5 1050.7 L898.5 1050.6 L900.5 1050.5 L901.0 1050.5 L902.5 1050.7 L904.5 1051.4 L906.5 1052.5 L908.5 1053.8 L910.5 1055.3 L912.5 1056.9 L914.5 1058.3 L916.5 1059.5 L918.0 1060.1 L918.5 1060.3 L920.5 1061.0 L922.5 1061.7 L924.5 1062.3 L926.5 1062.9 L928.5 1063.5 L930.5 1063.9 L932.5 1064.2 L934.5 1064.3 L935.0 1064.3 L936.5 1064.2 L938.5 1063.5 L940.5 1062.6 L942.5 1061.4 L944.5 1060.1 L946.5 1058.8 L948.5 1057.6 L950.5 1056.6 L952.5 1056.0 L954.1 1055.8 L954.5 1055.8 L956.5 1055.8 L958.5 1055.8 L960.5 1055.8 L962.5 1055.8 L964.5 1055.8 L966.5 1055.8 L968.5 1055.8 L970.5 1055.8 L972.5 1055.8 L974.5 1055.8 L976.5 1055.8 L977.4 1055.8 L978.5 1055.8 L980.5 1056.0 L982.5 1056.4 L984.5 1056.8 L986.5 1057.3 L988.5 1057.6 L990.5 1057.9 L992.3 1058.0 L992.5 1058.0 L994.5 1057.9 L996.5 1057.8 L998.5 1057.5 L1000.5 1057.2 L1002.5 1056.8 L1004.5 1056.4 L1006.5 1056.0 L1007.2 1055.8 L1008.5 1055.4 L1010.5 1054.3 L1012.5 1052.9 L1014.5 1051.2 L1016.5 1049.5 L1018.5 1047.9 L1020.5 1046.6 L1022.5 1045.6 L1024.2 1045.2 L1024.5 1045.2 L1026.5 1045.0 L1028.5 1044.8 L1030.5 1044.7 L1032.5 1044.5 L1034.5 1044.4 L1036.5 1044.3 L1038.5 1044.2 L1040.5 1044.2 L1042.5 1044.1 L1044.5 1044.1 L1045.4 1044.1 L1046.5 1044.1 L1048.5 1044.3 L1050.5 1044.6 L1052.5 1045.0 L1054.5 1045.4 L1056.5 1045.9 L1058.5 1046.4 L1060.5 1046.9 L1062.4 1047.3 L1062.5 1047.3 L1064.5 1047.7 L1066.5 1048.2 L1068.5 1048.7 L1070.5 1049.2 L1072.5 1049.7 L1074.5 1050.2 L1076.5 1050.7 L1078.5 1051.0 L1080.5 1051.3 L1082.5 1051.5 L1083.7 1051.6 L1084.5 1051.6 L1086.5 1051.7 L1088.5 1051.8 L1090.5 1051.8 L1092.5 1051.9 L1094.5 1051.9 L1096.5 1051.9 L1098.5 1052.0 L1100.5 1052.0 L1102.5 1052.0 L1104.5 1052.0 L1104.9 1052.0 L1106.5 1052.0 L1108.5 1052.0 L1110.5 1052.0 L1112.5 1052.0 L1114.5 1052.0 L1116.5 1052.0 L1118.5 1052.0 L1120.5 1052.0 L1122.5 1052.0 L1124.5 1052.0 L1126.5 1052.0 L1128.5 1052.0 L1130.5 1052.0 L1130.6 1052.0 L1132.5 1051.8 L1134.5 1051.3 L1136.5 1050.6 L1138.5 1049.7 L1140.5 1048.6 L1142.5 1047.6 L1144.5 1046.6 L1146.5 1045.6 L1147.6 1045.2 L1148.5 1044.9 L1150.5 1044.2 L1152.5 1043.5 L1154.5 1042.9 L1156.5 1042.3 L1158.5 1041.6 L1160.5 1041.0 L1162.5 1040.4 L1164.5 1039.8 L1166.5 1039.1 L1168.5 1038.4 L1170.5 1037.7 L1172.5 1036.9 L1173.1 1036.7 L1174.5 1036.1 L1176.5 1035.0 L1178.5 1033.7 L1180.5 1032.4 L1182.5 1031.1 L1184.5 1030.0 L1186.5 1029.0 L1188.5 1028.4 L1190.1 1028.2 L1190.5 1028.2 L1192.5 1028.1 L1194.5 1028.1 L1196.5 1028.0 L1198.5 1027.9 L1200.5 1027.9 L1202.5 1027.9 L1204.5 1027.8 L1206.5 1027.8 L1208.5 1027.8 L1210.5 1027.8 L1211.4 1027.8 L1212.5 1027.8 L1214.5 1028.1 L1216.5 1028.4 L1218.5 1029.0 L1220.5 1029.7 L1222.5 1030.4 L1224.5 1031.2 L1226.5 1032.1 L1228.5 1032.9 L1230.5 1033.8 L1232.5 1034.6 L1232.6 1034.6 L1234.5 1035.4 L1236.5 1036.5 L1238.5 1037.6 L1240.5 1038.7 L1242.5 1039.7 L1244.5 1040.5 L1246.5 1040.9 L1247.5 1041.0 L1248.5 1041.0 L1250.5 1040.8 L1252.5 1040.5 L1254.5 1040.2 L1256.5 1039.8 L1258.5 1039.4 L1260.5 1039.1 L1262.5 1038.9 L1264.5 1038.8 L1266.5 1039.0 L1268.5 1039.5 L1270.5 1040.3 L1272.5 1041.2 L1274.5 1042.1 L1276.5 1043.0 L1278.5 1043.7 L1280.5 1044.0 L1281.5 1044.1 L1282.5 1044.1 L1284.5 1044.1 L1286.5 1044.1 L1288.5 1044.1 L1290.5 1044.1 L1292.5 1044.1 L1294.5 1044.1 L1296.5 1044.1 L1298.5 1044.1 L1300.5 1044.1 L1300.6 1044.1 L1302.5 1044.0 L1304.5 1043.6 L1306.5 1043.1 L1308.5 1042.4 L1310.5 1041.7 L1312.5 1040.8 L1314.5 1039.9 L1316.5 1039.0 L1318.5 1038.2 L1319.7 1037.7 L1320.5 1037.4 L1322.5 1036.5 L1324.5 1035.6 L1326.5 1034.6 L1328.5 1033.6 L1330.5 1032.6 L1332.5 1031.7 L1334.5 1031.0 L1336.5 1030.4 L1336.7 1030.3 L1338.5 1029.9 L1340.5 1029.4 L1342.5 1029.1 L1344.5 1028.7 L1346.5 1028.4 L1348.5 1028.1 L1350.5 1027.8 L1352.5 1027.4 L1353.7 1027.2 L1354.5 1027.0 L1356.5 1026.6 L1358.5 1026.2 L1360.5 1025.7 L1362.5 1025.2 L1364.5 1024.8 L1366.5 1024.3 L1368.5 1023.9 L1370.5 1023.5 L1372.5 1023.2 L1374.5 1023.0 L1375.0 1022.9 L1376.5 1022.8 L1378.5 1022.6 L1380.5 1022.4 L1382.5 1022.2 L1384.5 1022.1 L1386.5 1022.0 L1388.5 1021.9 L1390.5 1021.8 L1392.0 1021.8 L1392.5 1021.8 L1394.5 1022.1 L1396.5 1022.7 L1398.5 1023.5 L1400.5 1024.5 L1402.5 1025.5 L1404.5 1026.5 L1406.5 1027.5 L1408.5 1028.4 L1410.5 1029.0 L1412.5 1029.3 L1413.2 1029.3 L1414.5 1029.3 L1416.5 1029.2 L1418.5 1029.0 L1420.5 1028.9 L1422.5 1028.7 L1424.5 1028.5 L1426.5 1028.3 L1428.5 1028.2 L1430.2 1028.2 L1430.5 1028.2 L1432.5 1028.4 L1434.5 1028.9 L1436.5 1029.6 L1438.5 1030.4 L1440.5 1031.3 L1442.5 1032.1 L1444.5 1032.9 L1446.5 1033.4 L1447.2 1033.5 L1448.5 1033.7 L1450.5 1033.9 L1452.5 1034.2 L1454.5 1034.4 L1456.5 1034.6 L1458.5 1034.8 L1460.5 1034.9 L1462.5 1035.1 L1464.5 1035.2 L1466.5 1035.4 L1468.5 1035.5 L1470.5 1035.7 L1470.6 1035.7 L1472.5 1035.9 L1474.5 1036.0 L1476.5 1036.2 L1478.5 1036.4 L1480.5 1036.5 L1482.5 1036.6 L1484.5 1036.7 L1485.4 1036.7 L1486.5 1036.6 L1488.5 1036.1 L1490.5 1035.1 L1492.5 1033.9 L1494.5 1032.6 L1496.5 1031.3 L1498.2 1030.3 L1498.5 1030.1 L1500.5 1028.9 L1502.5 1027.6 L1504.5 1026.2 L1506.5 1024.8 L1508.5 1023.6 L1510.5 1022.6 L1512.5 1021.9 L1513.1 1021.8 L1514.5 1021.6 L1516.5 1021.2 L1518.5 1020.9 L1520.5 1020.7 L1522.5 1020.4 L1524.5 1020.2 L1526.5 1020.0 L1528.5 1019.9 L1530.5 1019.8 L1532.5 1019.7 L1534.3 1019.7 L1534.5 1019.7 L1536.5 1019.7 L1538.5 1019.8 L1540.5 1020.0 L1542.5 1020.2 L1544.5 1020.4 L1546.5 1020.7 L1548.5 1020.9 L1550.5 1021.2 L1552.5 1021.4 L1554.5 1021.7 L1555.5 1021.8 L1556.5 1021.9 L1558.5 1022.2 L1560.5 1022.5 L1562.5 1022.8 L1564.5 1023.1 L1566.5 1023.3 L1568.5 1023.5 L1570.0 1023.5 L1570.5 1023.5 L1572.5 1023.5 L1574.5 1023.4 L1576.5 1023.3 L1578.5 1023.2 L1580.5 1023.2 L1581.2 1023.2 L1582.5 1023.3 L1584.5 1024.0 L1586.5 1025.1 L1588.5 1026.4 L1590.5 1027.9 L1592.5 1029.4 L1594.5 1030.8 L1596.1 1031.7 L1596.5 1031.9 L1598.5 1033.0 L1600.5 1034.1 L1602.5 1035.2 L1604.5 1036.2 L1606.5 1037.1 L1608.5 1037.7 L1610.5 1038.0 L1611.0 1038.0 L1612.5 1037.9 L1614.5 1037.6 L1616.5 1037.0 L1618.5 1036.3 L1620.5 1035.4 L1622.5 1034.4 L1624.5 1033.4 L1626.5 1032.3 L1628.5 1031.3 L1630.1 1030.6 L1630.5 1030.4 L1632.5 1029.5 L1634.5 1028.4 L1636.5 1027.3 L1638.5 1026.1 L1640.5 1024.9 L1642.5 1023.8 L1644.5 1022.7 L1646.5 1021.8 L1648.5 1020.9 L1650.5 1020.2 L1651.4 1020.0 L1652.5 1019.7 L1654.5 1019.3 L1656.5 1018.9 L1658.5 1018.5 L1660.5 1018.2 L1662.5 1017.9 L1664.5 1017.6 L1666.5 1017.3 L1668.5 1017.1 L1670.5 1016.8 L1672.5 1016.6 L1674.5 1016.3 L1676.5 1016.1 L1678.5 1015.8 L1679.0 1015.7 L1680.5 1015.5 L1682.5 1015.1 L1684.5 1014.8 L1686.5 1014.4 L1688.5 1014.1 L1690.5 1013.7 L1692.5 1013.4 L1694.5 1013.1 L1696.5 1012.8 L1698.5 1012.7 L1700.5 1012.5 L1702.4 1012.5 L1702.5 1012.5 L1704.5 1012.6 L1706.5 1012.8 L1708.5 1013.0 L1710.5 1013.4 L1712.5 1013.8 L1714.5 1014.2 L1716.5 1014.6 L1718.5 1015.0 L1720.5 1015.3 L1722.5 1015.5 L1724.5 1015.7 L1725.7 1015.7 L1726.5 1015.7 L1728.5 1015.6 L1730.5 1015.4 L1732.5 1015.1 L1734.5 1014.8 L1736.5 1014.5 L1738.5 1014.1 L1740.5 1013.7 L1742.5 1013.4 L1744.5 1013.0 L1746.5 1012.8 L1748.5 1012.6 L1750.5 1012.5 L1751.2 1012.5 L1752.5 1012.5 L1754.5 1012.6 L1756.5 1012.6 L1758.5 1012.7 L1760.5 1012.8 L1762.5 1013.0 L1764.5 1013.1 L1766.5 1013.2 L1768.5 1013.3 L1770.5 1013.4 L1772.5 1013.5 L1774.5 1013.6 L1776.5 1013.6 L1776.7 1013.6 L1778.5 1013.5 L1780.5 1013.2 L1782.5 1012.8 L1784.5 1012.2 L1786.5 1011.5 L1788.5 1010.7 L1790.5 1009.8 L1792.5 1009.0 L1794.5 1008.2 L1796.5 1007.4 L1798.5 1006.7 L1800.1 1006.2 L1800.5 1006.1 L1802.5 1005.5 L1804.5 1004.8 L1806.5 1004.2 L1808.5 1003.5 L1810.5 1002.9 L1812.5 1002.3 L1814.5 1001.8 L1816.5 1001.4 L1818.5 1001.1 L1820.5 1000.9 L1821.3 1000.9 L1822.5 1001.0 L1824.5 1001.5 L1826.5 1002.3 L1828.5 1003.3 L1830.5 1004.4 L1832.5 1005.5 L1834.5 1006.4 L1836.5 1007.0 L1838.3 1007.2 L1838.5 1007.2 L1840.5 1007.2 L1842.5 1007.1 L1844.5 1007.1 L1846.5 1006.9 L1848.5 1006.8 L1850.5 1006.7 L1852.5 1006.5 L1854.5 1006.3 L1855.3 1006.2 L1856.5 1005.9 L1858.5 1005.0 L1860.5 1003.6 L1862.5 1001.9 L1864.5 1000.0 L1866.5 998.2 L1868.5 996.5 L1870.5 995.2 L1872.3 994.5 L1872.5 994.4 L1874.5 993.9 L1876.5 993.4 L1878.5 992.9 L1880.5 992.5 L1882.5 992.1 L1884.5 991.8 L1886.5 991.6 L1888.5 991.4 L1890.5 991.3 L1891.4 991.3 L1892.5 991.4 L1894.5 992.3 L1896.5 993.6 L1898.5 995.3 L1900.5 996.9 L1902.5 998.4 L1904.5 999.5 L1906.3 999.8 L1906.5 999.8 L1908.5 999.6 L1910.5 999.1 L1912.5 998.5 L1914.5 997.6 L1916.5 996.7 L1918.5 995.7 L1920.5 994.8 L1921.2 994.5 L1922.5 993.9 L1924.5 992.8 L1926.5 991.6 L1928.5 990.4 L1930.5 989.1 L1932.5 987.9 L1934.5 986.7 L1936.5 985.7 L1938.2 984.9 L1938.5 984.8 L1940.5 984.0 L1942.5 983.1 L1944.5 982.3 L1946.5 981.5 L1948.5 980.8 L1950.5 980.1 L1952.5 979.5 L1954.5 979.0 L1956.5 978.7 L1958.5 978.5 L1959.4 978.5 L1960.5 978.5 L1962.5 978.8 L1964.5 979.2 L1966.5 979.7 L1968.5 980.3 L1970.5 980.8 L1972.5 981.3 L1974.5 981.6 L1976.4 981.7 L1976.5 981.7 L1978.5 981.5 L1980.5 981.1 L1982.5 980.5 L1984.5 979.8 L1986.5 979.0 L1988.5 978.1 L1990.5 977.3 L1992.5 976.6 L1994.5 976.0 L1995.5 975.8 L1996.5 975.6 L1998.5 975.2 L2000.5 974.9 L2002.5 974.5 L2004.5 974.2 L2006.5 973.9 L2008.5 973.7 L2010.5 973.6 L2012.5 973.5 L2012.7 973.5 L2014.5 973.8 L2016.5 974.8 L2018.5 976.2 L2020.5 977.8 L2022.5 979.3 L2023.3 979.9 L2024.5 980.8 L2026.5 982.8 L2028.5 984.8 L2030.5 986.4 L2032.5 987.3 L2032.9 987.3 L2034.5 987.2 L2036.5 986.7 L2038.5 986.0 L2040.5 985.3 L2042.5 984.6 L2044.5 984.1 L2046.5 983.8 L2048.5 983.7 L2050.5 983.5 L2052.5 983.2 L2053.0 983.1 L2054.5 982.7 L2056.5 981.7 L2058.5 980.3 L2060.5 978.8"/>
<path stroke="#00ff00" stroke-width="11.8" d="M254.5 1229.0 L255.4 1214.0 L256.5 1212.5 L257.2 1212.2 L258.5 1213.6 L260.5 1219.6 L262.5 1227.0 L263.4 1229.9 L264.5 1232.9 L266.5 1238.0 L268.5 1243.2 L270.5 1248.8 L271.9 1253.2 L272.5 1255.5 L274.5 1264.8 L276.1 1270.2 L276.5 1271.0 L278.5 1274.3 L280.5 1276.4 L281.4 1276.6 L282.5 1276.4 L284.5 1275.0 L286.5 1273.0 L288.5 1270.6 L290.5 1268.5 L291.0 1268.1 L292.5 1266.8 L294.5 1264.9 L296.5 1263.4 L298.4 1262.8 L298.5 1262.8 L300.5 1263.0 L302.5 1263.5 L304.5 1264.1 L306.5 1264.8 L308.5 1265.4 L310.5 1265.9 L312.2 1266.0 L312.5 1266.0 L314.5 1266.0 L316.5 1265.9 L318.5 1265.7 L320.5 1265.5 L322.5 1265.2 L324.5 1264.9 L326.5 1264.5 L328.5 1264.1 L329.2 1263.9 L330.5 1263.4 L332.5 1261.9 L334.5 1259.9 L336.5 1257.5 L338.5 1254.9 L339.9 1253.2 L340.5 1252.5 L342.5 1249.7 L344.5 1246.5 L346.5 1243.3 L348.5 1240.0 L350.5 1236.9 L352.5 1234.2 L352.6 1234.1 L354.5 1231.8 L356.5 1229.3 L358.5 1226.9 L360.5 1224.7 L362.5 1222.7 L364.5 1221.0 L366.5 1219.7 L367.5 1219.2 L368.5 1218.8 L370.5 1218.1 L372.5 1217.4 L374.5 1216.8 L376.5 1216.3 L378.5 1215.9 L380.5 1215.4 L382.5 1215.0 L384.5 1214.7 L386.5 1214.3 L388.5 1213.9 L388.7 1213.9 L390.5 1213.6 L392.5 1213.3 L394.5 1212.9 L396.5 1212.7 L398.5 1212.4 L400.5 1212.1 L402.5 1211.9 L404.5 1211.6 L406.5 1211.3 L408.5 1211.0 L410.0 1210.7 L410.5 1210.6 L412.5 1210.1 L414.5 1209.6 L416.5 1209.0 L418.5 1208.4 L420.5 1207.9 L422.5 1207.4 L424.5 1207.1 L426.5 1206.9 L427.0 1206.9 L428.5 1207.1 L430.5 1207.7 L432.5 1208.7 L434.5 1209.8 L436.5 1211.1 L437.6 1211.8 L438.5 1212.4 L440.5 1214.0 L442.5 1215.9 L444.5 1217.9 L446.5 1220.0 L448.5 1222.1 L450.5 1224.0 L452.5 1225.6 L454.5 1227.1 L456.5 1228.6 L458.5 1230.2 L460.5 1231.6 L462.5 1232.7 L464.5 1233.6 L466.5 1234.1 L467.3 1234.1 L468.5 1234.1 L470.5 1234.0 L472.5 1233.9 L474.5 1233.7 L476.5 1233.5 L478.5 1233.2 L480.1 1233.0 L480.5 1232.9 L482.5 1232.6 L484.5 1232.1 L486.5 1231.5 L488.5 1230.9 L490.5 1230.3 L492.5 1229.6 L494.5 1229.0 L495.0 1228.8 L496.5 1228.3 L498.5 1227.8 L500.5 1227.2 L502.5 1226.6 L504.5 1226.0 L506.5 1225.3 L508.5 1224.6 L510.5 1223.9 L512.5 1223.1 L514.1 1222.4 L514.5 1222.2 L516.5 1221.2 L518.5 1220.0 L520.5 1218.8 L522.5 1217.4 L524.5 1215.9 L526.5 1214.4 L528.5 1212.8 L530.5 1211.2 L531.1 1210.7 L532.5 1209.5 L534.5 1207.6 L536.5 1205.5 L538.5 1203.3 L540.5 1201.1 L542.5 1199.1 L544.5 1197.1 L545.9 1195.9 L546.5 1195.4 L548.5 1193.6 L550.5 1191.7 L552.5 1189.9 L554.5 1188.4 L556.5 1187.3 L558.5 1186.9 L558.7 1186.9 L560.5 1186.9 L562.5 1187.0 L564.5 1187.2 L566.5 1187.4 L568.5 1187.6 L570.5 1187.8 L572.5 1188.0 L574.5 1188.2 L576.5 1188.3 L578.5 1188.4 L580.0 1188.4 L580.5 1188.4 L582.5 1188.1 L584.5 1187.4 L586.5 1186.6 L588.5 1185.7 L590.5 1184.9 L592.5 1184.2 L592.7 1184.2 L594.5 1183.8 L596.5 1183.3 L598.5 1182.9 L600.5 1182.5 L602.5 1182.3 L604.5 1182.1 L605.4 1182.1 L606.5 1182.2 L608.5 1183.0 L610.5 1184.4 L612.5 1186.1 L614.5 1188.1 L616.5 1190.0 L618.2 1191.6 L618.5 1191.9 L620.5 1193.8 L622.5 1196.1 L624.5 1198.4 L626.5 1200.6 L628.5 1202.6 L630.5 1204.2 L630.9 1204.4 L632.5 1205.3 L634.5 1206.5 L636.5 1207.5 L638.5 1208.6 L640.5 1209.5 L642.5 1210.3 L644.5 1211.0 L646.5 1211.4 L648.5 1211.7 L650.0 1211.8 L650.5 1211.8 L652.5 1211.4 L654.5 1210.5 L656.5 1209.3 L658.5 1207.9 L660.5 1206.3 L662.5 1204.9 L664.5 1203.5 L664.9 1203.3 L666.5 1202.3 L668.5 1200.8 L670.5 1199.3 L672.5 1197.9 L674.5 1196.7 L676.5 1196.0 L677.7 1195.9 L678.5 1195.9 L680.5 1195.9 L682.5 1195.9 L684.5 1195.9 L686.5 1195.9 L688.5 1196.0 L690.0 1196.0 L690.5 1196.0 L692.5 1196.5 L694.5 1197.2 L696.5 1197.7 L697.0 1197.7 L698.5 1197.4 L700.5 1196.0 L702.5 1193.9 L704.5 1191.3 L706.5 1188.6 L707.6 1187.1 L708.5 1185.9 L710.5 1182.5 L712.5 1178.6 L714.5 1174.4 L716.5 1170.3 L718.5 1166.6 L720.4 1163.7 L720.5 1163.6 L722.5 1161.0 L724.5 1158.4 L726.5 1156.0 L728.5 1153.7 L730.5 1151.6 L732.5 1149.6 L734.5 1147.7 L736.5 1146.0 L738.5 1144.5 L740.5 1143.1 L741.6 1142.5 L742.5 1142.0 L744.5 1140.9 L746.5 1139.8 L748.5 1138.7 L750.5 1137.8 L752.5 1136.9 L754.5 1136.2 L756.5 1135.6 L758.5 1135.2 L760.5 1135.1 L760.7 1135.1 L762.5 1135.3 L764.5 1136.0 L766.5 1136.9 L768.5 1137.9 L770.5 1139.0 L772.5 1139.8 L774.5 1140.3 L775.6 1140.4 L776.5 1140.3 L778.5 1139.6 L780.5 1138.5 L782.5 1137.3 L784.5 1136.4 L786.2 1136.1 L786.5 1136.1 L788.5 1136.2 L790.5 1136.4 L792.5 1136.7 L794.5 1137.2 L796.5 1137.7 L798.5 1138.3 L800.5 1138.9 L802.5 1139.6 L804.5 1140.3 L806.5 1141.0 L807.5 1141.4 L808.5 1141.8 L810.5 1142.7 L812.5 1143.7 L814.5 1144.8 L816.5 1146.1 L818.5 1147.4 L820.5 1148.8 L822.5 1150.3 L824.5 1151.9 L826.5 1153.4 L828.5 1155.0 L828.7 1155.2 L830.5 1156.8 L832.5 1158.8 L834.5 1161.0 L836.5 1163.2 L838.5 1165.3 L840.5 1167.2 L841.5 1168.0 L842.5 1168.8 L844.5 1170.5 L846.5 1172.2 L848.5 1173.6 L850.5 1174.5 L852.1 1174.8 L852.5 1174.8 L854.5 1174.6 L856.5 1174.1 L858.5 1173.4 L860.5 1172.5 L862.5 1171.6 L864.5 1170.5 L866.5 1169.4 L868.5 1168.3 L869.1 1168.0 L870.5 1167.1 L872.5 1165.5 L874.5 1163.6 L876.5 1161.8 L878.5 1160.3 L880.5 1159.3 L881.8 1159.1 L882.5 1159.1 L884.5 1159.1 L886.5 1159.1 L888.5 1159.1 L890.5 1159.2 L892.5 1159.2 L894.5 1159.3 L896.5 1159.3 L898.5 1159.4 L900.5 1159.5 L901.0 1159.5 L902.5 1159.7 L904.5 1160.2 L906.5 1160.9 L908.5 1161.6 L910.5 1162.2 L912.5 1162.6 L913.7 1162.7 L914.5 1162.6 L916.5 1161.2 L918.5 1158.8 L920.5 1155.7 L922.5 1152.3 L924.5 1149.2 L926.5 1146.7 L928.5 1144.6 L930.5 1142.6 L932.5 1140.9 L934.5 1139.5 L935.0 1139.3 L936.5 1138.6 L938.5 1137.8 L940.5 1137.0 L942.5 1136.2 L944.5 1135.6 L946.5 1135.0 L948.5 1134.6 L950.5 1134.2 L952.5 1134.1 L954.1 1134.0 L954.5 1134.0 L956.5 1134.5 L958.5 1135.6 L960.5 1137.2 L962.5 1139.1 L964.5 1141.2 L966.5 1143.4 L968.5 1145.4 L970.5 1147.3 L971.1 1147.8 L972.5 1149.0 L974.5 1151.0 L976.5 1153.0 L978.5 1155.1 L980.5 1156.9 L982.5 1158.4 L984.5 1159.3 L986.0 1159.5 L986.5 1159.5 L988.5 1159.4 L990.5 1159.1 L992.5 1158.8 L994.5 1158.5 L996.5 1158.1 L998.5 1157.9 L1000.5 1157.8 L1000.8 1157.8 L1002.5 1157.9 L1004.5 1158.2 L1006.5 1158.7 L1008.5 1159.4 L1010.5 1160.2 L1012.5 1161.0 L1014.5 1162.0 L1016.5 1163.0 L1018.5 1164.0 L1020.0 1164.8 L1020.5 1165.1 L1022.5 1166.5 L1024.5 1168.3 L1026.5 1170.3 L1028.5 1172.3 L1030.5 1174.0 L1032.5 1175.2 L1034.5 1175.8 L1034.8 1175.8 L1036.5 1175.8 L1038.5 1175.6 L1040.5 1175.3 L1042.5 1174.9 L1044.5 1174.4 L1046.5 1173.9 L1048.5 1173.2 L1050.5 1172.5 L1052.5 1171.7 L1054.5 1170.8 L1056.5 1169.9 L1058.2 1169.1 L1058.5 1168.9 L1060.5 1167.4 L1062.5 1165.1 L1064.5 1162.3 L1066.5 1159.3 L1068.5 1156.3 L1070.5 1153.6 L1072.5 1151.4 L1073.0 1151.0 L1074.5 1149.8 L1076.5 1148.1 L1078.5 1146.5 L1080.5 1145.0 L1082.5 1143.5 L1084.5 1142.2 L1086.5 1141.0 L1088.5 1139.9 L1090.5 1139.1 L1092.5 1138.5 L1094.3 1138.2 L1094.5 1138.2 L1096.5 1138.0 L1098.5 1137.9 L1100.5 1137.8 L1102.5 1137.7 L1104.5 1137.6 L1106.5 1137.5 L1108.5 1137.3 L1109.2 1137.2 L1110.5 1136.8 L1112.5 1135.2 L1114.5 1132.9 L1116.5 1130.4 L1118.5 1128.0 L1120.5 1126.2 L1121.9 1125.5 L1122.5 1125.3 L1124.5 1124.8 L1126.5 1124.3 L1128.5 1123.9 L1130.5 1123.6 L1132.5 1123.3 L1134.5 1123.0 L1136.5 1122.9 L1138.5 1122.8 L1139.1 1122.8 L1140.5 1123.1 L1142.5 1124.3 L1144.5 1126.2 L1146.5 1128.4 L1148.5 1130.6 L1150.5 1132.5 L1151.9 1133.4 L1152.5 1133.7 L1154.5 1134.6 L1156.5 1135.3 L1158.5 1135.9 L1160.5 1136.5 L1162.5 1137.1 L1164.5 1137.8 L1166.5 1138.6 L1166.7 1138.7 L1168.5 1139.7 L1170.5 1141.0 L1172.5 1142.5 L1174.5 1144.0 L1176.5 1145.2 L1178.5 1145.9 L1179.5 1146.1 L1180.5 1146.2 L1182.5 1146.3 L1184.5 1146.4 L1186.5 1146.5 L1188.5 1146.6 L1190.5 1146.6 L1192.5 1146.7 L1194.4 1146.8 L1194.5 1146.8 L1196.5 1146.9 L1198.5 1147.0 L1200.5 1147.2 L1202.5 1147.3 L1204.5 1147.5 L1206.5 1147.7 L1208.5 1147.9 L1210.5 1148.2 L1211.4 1148.3 L1212.5 1148.6 L1214.5 1149.7 L1216.5 1151.2 L1218.5 1153.0 L1220.5 1154.7 L1222.5 1156.0 L1224.5 1156.7 L1225.2 1156.8 L1226.5 1156.5 L1228.5 1154.8 L1230.5 1152.3 L1232.5 1149.2 L1234.5 1146.1 L1236.5 1143.4 L1236.9 1142.9 L1238.5 1141.2 L1240.5 1139.1 L1242.5 1137.1 L1244.5 1135.1 L1246.5 1133.1 L1248.5 1131.2 L1250.5 1129.3 L1251.7 1128.1 L1252.5 1127.3 L1254.5 1125.2 L1256.5 1123.0 L1258.5 1120.7 L1260.5 1118.5 L1262.5 1116.5 L1264.5 1114.7 L1266.5 1113.2 L1268.5 1112.2 L1268.7 1112.1 L1270.5 1111.4 L1272.5 1110.7 L1274.5 1110.1 L1276.5 1109.5 L1278.5 1109.0 L1280.5 1108.7 L1282.5 1108.5 L1283.6 1108.5 L1284.5 1108.6 L1286.5 1109.5 L1288.5 1111.0 L1290.5 1113.0 L1292.5 1115.0 L1294.5 1117.0 L1296.5 1118.6 L1298.5 1119.5 L1299.5 1119.6 L1300.5 1119.5 L1302.5 1119.1 L1304.5 1118.2 L1306.5 1117.1 L1308.5 1115.9 L1310.5 1114.7 L1312.5 1113.6 L1314.5 1112.7 L1316.5 1112.2 L1317.6 1112.1 L1318.5 1112.2 L1320.5 1112.7 L1322.5 1113.7 L1324.5 1115.1 L1326.5 1116.7 L1328.5 1118.4 L1330.5 1120.1 L1332.5 1121.7 L1334.5 1123.3 L1336.5 1125.0 L1338.5 1126.8 L1340.5 1128.5 L1342.5 1130.2 L1344.5 1131.8 L1345.2 1132.3 L1346.5 1133.2 L1348.5 1134.8 L1350.5 1136.3 L1352.5 1137.8 L1354.5 1138.9 L1356.5 1139.6 L1358.0 1139.8 L1358.5 1139.8 L1360.5 1139.4 L1362.5 1138.5 L1364.5 1137.2 L1366.5 1135.7 L1368.5 1134.0 L1370.5 1132.2 L1372.5 1130.5 L1372.8 1130.2 L1374.5 1128.5 L1376.5 1125.9 L1378.5 1123.0 L1380.5 1119.9 L1382.5 1116.9 L1384.5 1114.2 L1386.5 1112.1 L1387.7 1111.1 L1388.5 1110.6 L1390.5 1109.4 L1392.5 1108.5 L1394.5 1107.6 L1396.5 1106.9 L1398.5 1106.1 L1400.5 1105.4 L1402.5 1104.6 L1404.5 1103.8 L1406.5 1102.8 L1406.8 1102.6 L1408.5 1101.6 L1410.5 1100.3 L1412.5 1098.9 L1414.5 1097.4 L1416.5 1095.8 L1418.5 1094.2 L1420.5 1092.5 L1422.5 1090.9 L1423.8 1089.8 L1424.5 1089.2 L1426.5 1087.4 L1428.5 1085.5 L1430.5 1083.5 L1432.5 1081.5 L1434.5 1079.5 L1436.5 1077.6 L1438.5 1075.9 L1440.5 1074.3 L1442.5 1073.0 L1442.9 1072.8 L1444.5 1071.9 L1446.5 1070.8 L1448.5 1069.7 L1450.5 1068.7 L1452.5 1068.0 L1454.5 1067.6 L1455.7 1067.5 L1456.5 1067.5 L1458.5 1067.8 L1460.5 1068.2 L1462.5 1068.8 L1464.5 1069.5 L1466.5 1070.3 L1468.5 1071.0 L1470.5 1071.8 L1470.6 1071.8 L1472.5 1072.5 L1474.5 1073.5 L1476.5 1074.5 L1478.5 1075.5 L1480.5 1076.4 L1482.5 1077.3 L1484.5 1077.9 L1485.4 1078.1 L1486.5 1078.3 L1488.5 1078.6 L1490.5 1078.9 L1492.5 1079.1 L1494.5 1079.3 L1496.5 1079.5 L1498.5 1079.6 L1500.5 1079.8 L1502.5 1079.9 L1504.5 1080.1 L1506.5 1080.3 L1508.5 1080.6 L1510.5 1080.8 L1512.5 1081.2 L1513.1 1081.3 L1514.5 1081.7 L1516.5 1082.4 L1518.5 1083.3 L1520.5 1084.4 L1522.5 1085.6 L1524.5 1086.8 L1526.5 1088.0 L1528.5 1089.0 L1530.1 1089.8 L1530.5 1090.0 L1532.5 1090.9 L1534.5 1092.0 L1536.5 1093.0 L1538.5 1093.9 L1540.5 1094.6 L1542.5 1095.0 L1543.9 1095.1 L1544.5 1095.1 L1546.5 1094.5 L1548.5 1093.4 L1550.5 1091.9 L1552.5 1090.2 L1554.5 1088.3 L1556.5 1086.6 L1557.7 1085.6 L1558.5 1085.0 L1560.5 1083.3 L1562.5 1081.6 L1564.5 1079.8 L1566.5 1078.0 L1568.5 1076.2 L1570.5 1074.3 L1572.5 1072.6 L1574.5 1070.8 L1576.5 1069.2 L1577.0 1068.8 L1578.5 1067.6 L1580.5 1066.1 L1582.5 1064.7 L1584.5 1063.2 L1586.5 1061.8 L1588.5 1060.4 L1590.5 1059.1 L1592.5 1057.7 L1594.5 1056.4 L1596.5 1055.1 L1598.2 1054.0 L1598.5 1053.8 L1600.5 1052.5 L1602.5 1051.1 L1604.5 1049.7 L1606.5 1048.4 L1608.5 1047.0 L1610.5 1045.7 L1612.5 1044.5 L1614.5 1043.4 L1616.5 1042.4 L1618.5 1041.6 L1619.5 1041.2 L1620.5 1040.9 L1622.5 1040.2 L1624.5 1039.5 L1626.5 1038.8 L1628.5 1038.2 L1630.5 1037.7 L1632.5 1037.3 L1634.5 1037.1 L1636.5 1037.0 L1638.5 1037.1 L1640.5 1037.2 L1642.5 1037.5 L1644.5 1037.8 L1646.5 1038.3 L1648.5 1038.8 L1650.5 1039.3 L1652.5 1039.9 L1653.5 1040.2 L1654.5 1040.6 L1656.5 1041.8 L1658.5 1043.5 L1660.5 1045.4 L1662.5 1047.6 L1664.5 1049.7 L1666.5 1051.8 L1668.5 1053.6 L1670.5 1055.0 L1672.5 1056.2 L1674.5 1057.4 L1676.5 1058.6 L1678.5 1059.7 L1680.5 1060.7 L1682.5 1061.5 L1684.5 1062.1 L1686.5 1062.5 L1687.5 1062.5 L1688.5 1062.5 L1690.5 1062.3 L1692.5 1062.0 L1694.5 1061.7 L1696.5 1061.3 L1698.5 1060.9 L1700.5 1060.6 L1702.5 1060.4 L1704.5 1060.3 L1706.5 1060.3 L1708.5 1060.5 L1710.5 1060.6 L1712.5 1060.8 L1714.5 1061.0 L1716.5 1061.2 L1718.5 1061.3 L1720.5 1061.4 L1721.5 1061.4 L1722.5 1061.4 L1724.5 1061.4 L1726.5 1061.3 L1728.5 1061.2 L1730.5 1061.1 L1732.5 1061.0 L1734.5 1060.9 L1736.5 1060.7 L1738.5 1060.5 L1740.5 1060.3 L1740.6 1060.3 L1742.5 1059.7 L1744.5 1058.5 L1746.5 1056.7 L1748.5 1054.5 L1750.5 1052.1 L1752.5 1049.5 L1754.5 1047.0 L1756.5 1044.5 L1757.6 1043.3 L1758.5 1042.3 L1760.5 1039.8 L1762.5 1037.0 L1764.5 1034.3 L1766.5 1031.6 L1768.5 1029.3 L1770.5 1027.5 L1772.5 1026.3 L1774.5 1025.6 L1776.5 1024.9 L1778.5 1024.3 L1780.5 1023.7 L1782.5 1023.3 L1784.5 1022.9 L1786.5 1022.6 L1788.5 1022.5 L1789.5 1022.5 L1790.5 1022.5 L1792.5 1022.5 L1794.5 1022.6 L1796.5 1022.7 L1798.5 1022.8 L1800.5 1022.9 L1802.5 1023.0 L1804.5 1023.1 L1806.5 1023.1 L1808.5 1023.2 L1810.5 1023.2 L1810.7 1023.2 L1812.5 1023.0 L1814.5 1022.4 L1816.5 1021.5 L1818.5 1020.5 L1820.5 1019.6 L1822.5 1018.9 L1824.5 1018.5 L1825.0 1018.5 L1826.5 1018.6 L1828.5 1018.8 L1830.5 1019.1 L1832.5 1019.6 L1834.5 1020.3 L1836.5 1021.0 L1838.5 1021.8 L1840.5 1022.6 L1842.0 1023.3 L1842.5 1023.6 L1844.5 1025.0 L1846.5 1027.1 L1848.5 1029.5 L1850.5 1032.1 L1852.5 1034.6 L1854.5 1037.0 L1856.0 1038.5 L1856.5 1039.0 L1858.5 1040.8 L1860.5 1042.5 L1862.5 1044.2 L1864.5 1045.8 L1866.5 1047.3 L1868.5 1048.7 L1870.5 1049.9 L1871.0 1050.2 L1872.5 1051.0 L1874.5 1052.2 L1876.5 1053.3 L1878.5 1054.4 L1880.5 1055.3 L1882.5 1056.0 L1884.5 1056.4 L1886.0 1056.5 L1886.5 1056.5 L1888.5 1056.3 L1890.5 1056.0 L1892.5 1055.5 L1894.5 1054.9 L1896.5 1054.4 L1898.5 1053.8 L1900.5 1053.3 L1902.5 1053.0 L1904.5 1052.8 L1905.0 1052.8 L1906.5 1052.8 L1908.5 1052.9 L1910.5 1053.0 L1912.5 1053.2 L1914.5 1053.3 L1916.5 1053.5 L1918.5 1053.7 L1920.5 1053.8 L1922.5 1053.9 L1924.5 1054.0 L1925.5 1054.0 L1926.5 1053.9 L1928.5 1053.4 L1930.5 1052.5 L1932.5 1051.2 L1934.5 1049.7 L1936.5 1048.2 L1938.5 1046.7 L1939.0 1046.3 L1940.5 1045.1 L1942.5 1043.4 L1944.5 1041.4 L1946.5 1039.3 L1948.5 1037.1 L1950.5 1034.9 L1952.5 1032.8 L1954.0 1031.3 L1954.5 1030.8 L1956.5 1028.7 L1958.5 1026.6 L1960.5 1024.4 L1962.5 1022.3 L1964.5 1020.4 L1966.5 1018.7 L1968.5 1017.3 L1969.0 1017.0 L1970.5 1016.2 L1972.5 1015.1 L1974.5 1014.1 L1976.5 1013.2 L1978.5 1012.4 L1980.5 1011.8 L1982.5 1011.5 L1983.5 1011.5 L1984.5 1011.5 L1986.5 1011.7 L1988.5 1012.1 L1990.5 1012.6 L1992.5 1013.1 L1994.5 1013.6 L1996.0 1014.0 L1996.5 1014.1 L1998.5 1014.7 L2000.5 1015.3 L2002.5 1016.0 L2004.5 1016.6 L2006.5 1017.0 L2008.4 1017.1 L2008.5 1017.1 L2010.5 1016.9 L2012.5 1016.3 L2014.5 1015.6 L2016.5 1014.9 L2018.5 1014.3 L2020.5 1013.9 L2021.2 1013.9 L2022.5 1014.2 L2024.5 1015.4 L2026.5 1017.4 L2028.5 1019.8 L2029.7 1021.3 L2030.5 1022.5 L2032.5 1026.6 L2034.5 1031.6 L2036.5 1036.7 L2038.2 1040.4 L2038.5 1041.0 L2040.5 1045.0 L2042.5 1048.6 L2044.5 1051.0 L2046.5 1052.5 L2048.5 1053.6 L2050.5 1054.2 L2050.9 1054.2 L2052.5 1052.3 L2054.5 1046.4 L2056.2 1040.4 L2056.5 1039.3 L2058.5 1030.8 L2060.5 1020.2"/>
<path stroke="#00ff00" stroke-width="13.2" shape-rendering="crispEdges" d="M254.5 1229.0 L255.4 1214.0 L256.5 1212.5 L257.2 1212.2 L258.5 1213.6 L260.5 1219.6 L262.5 1227.0 L263.4 1229.9 L264.5 1232.9 L266.5 1238.0 L268.5 1243.2 L270.5 1248.8 L271.9 1253.2 L272.5 1255.5 L274.5 1264.8 L276.1 1270.2 L276.5 1271.0 L278.5 1274.3 L280.5 1276.4 L281.4 1276.6 L282.5 1276.4 L284.5 1275.0 L286.5 1273.0 L288.5 1270.6 L290.5 1268.5 L291.0 1268.1 L292.5 1266.8 L294.5 1264.9 L296.5 1263.4 L298.4 1262.8 L298.5 1262.8 L300.5 1263.0 L302.5 1263.5 L304.5 1264.1 L306.5 1264.8 L308.5 1265.4 L310.5 1265.9 L312.2 1266.0 L312.5 1266.0 L314.5 1266.0 L316.5 1265.9 L318.5 1265.7 L320.5 1265.5 L322.5 1265.2 L324.5 1264.9 L326.5 1264.5 L328.5 1264.1 L329.2 1263.9 L330.5 1263.4 L332.5 1261.9 L334.5 1259.9 L336.5 1257.5 L338.5 1254.9 L339.9 1253.2 L340.5 1252.5 L342.5 1249.7 L344.5 1246.5 L346.5 1243.3 L348.5 1240.0 L350.5 1236.9 L352.5 1234.2 L352.6 1234.1 L354.5 1231.8 L356.5 1229.3 L358.5 1226.9 L360.5 1224.7 L362.5 1222.7 L364.5 1221.0 L366.5 1219.7 L367.5 1219.2 L368.5 1218.8 L370.5 1218.1 L372.5 1217.4 L374.5 1216.8 L376.5 1216.3 L378.5 1215.9 L380.5 1215.4 L382.5 1215.0 L384.5 1214.7 L386.5 1214.3 L388.5 1213.9 L388.7 1213.9 L390.5 1213.6 L392.5 1213.3 L394.5 1212.9 L396.5 1212.7 L398.5 1212.4 L400.5 1212.1 L402.5 1211.9 L404.5 1211.6 L406.5 1211.3 L408.5 1211.0 L410.0 1210.7 L410.5 1210.6 L412.5 1210.1 L414.5 1209.6 L416.5 1209.0 L418.5 1208.4 L420.5 1207.9 L422.5 1207.4 L424.5 1207.1 L426.5 1206.9 L427.0 1206.9 L428.5 1207.1 L430.5 1207.7 L432.5 1208.7 L434.5 1209.8 L436.5 1211.1 L437.6 1211.8 L438.5 1212.4 L440.5 1214.0 L442.5 1215.9 L444.5 1217.9 L446.5 1220.0 L448.5 1222.1 L450.5 1224.0 L452.5 1225.6 L454.5 1227.1 L456.5 1228.6 L458.5 1230.2 L460.5 1231.6 L462.5 1232.7 L464.5 1233.6 L466.5 1234.1 L467.3 1234.1 L468.5 1234.1 L470.5 1234.0 L472.5 1233.9 L474.5 1233.7 L476.5 1233.5 L478.5 1233.2 L480.1 1233.0 L480.5 1232.9 L482.5 1232.6 L484.5 1232.1 L486.5 1231.5 L488.5 1230.9 L490.5 1230.3 L492.5 1229.6 L494.5 1229.0 L495.0 1228.8 L496.5 1228.3 L498.5 1227.8 L500.5 1227.2 L502.5 1226.6 L504.5 1226.0 L506.5 1225.3 L508.5 1224.6 L510.5 1223.9 L512.5 1223.1 L514.1 1222.4 L514.5 1222.2 L516.5 1221.2 L518.5 1220.0 L520.5 1218.8 L522.5 1217.4 L524.5 1215.9 L526.5 1214.4 L528.5 1212.8 L530.5 1211.2 L531.1 1210.7 L532.5 1209.5 L534.5 1207.6 L536.5 1205.5 L538.5 1203.3 L540.5 1201.1 L542.5 1199.1 L544.5 1197.1 L545.9 1195.9 L546.5 1195.4 L548.5 1193.6 L550.5 1191.7 L552.5 1189.9 L554.5 1188.4 L556.5 1187.3 L558.5 1186.9 L558.7 1186.9 L560.5 1186.9 L562.5 1187.0 L564.5 1187.2 L566.5 1187.4 L568.5 1187.6 L570.5 1187.8 L572.5 1188.0 L574.5 1188.2 L576.5 1188.3 L578.5 1188.4 L580.0 1188.4 L580.5 1188.4 L582.5 1188.1 L584.5 1187.4 L586.5 1186.6 L588.5 1185.7 L590.5 1184.9 L592.5 1184.2 L592.7 1184.2 L594.5 1183.8 L596.5 1183.3 L598.5 1182.9 L600.5 1182.5 L602.5 1182.3 L604.5 1182.1 L605.4 1182.1 L606.5 1182.2 L608.5 1183.0 L610.5 1184.4 L612.5 1186.1 L614.5 1188.1 L616.5 1190.0 L618.2 1191.6 L618.5 1191.9 L620.5 1193.8 L622.5 1196.1 L624.5 1198.4 L626.5 1200.6 L628.5 1202.6 L630.5 1204.2 L630.9 1204.4 L632.5 1205.3 L634.5 1206.5 L636.5 1207.5 L638.5 1208.6 L640.5 1209.5 L642.5 1210.3 L644.5 1211.0 L646.5 1211.4 L648.5 1211.7 L650.0 1211.8 L650.5 1211.8 L652.5 1211.4 L654.5 1210.5 L656.5 1209.3 L658.5 1207.9 L660.5 1206.3 L662.5 1204.9 L664.5 1203.5 L664.9 1203.3 L666.5 1202.3 L668.5 1200.8 L670.5 1199.3 L672.5 1197.9 L674.5 1196.7 L676.5 1196.0 L677.7 1195.9 L678.5 1195.9 L680.5 1195.9 L682.5 1195.9 L684.5 1195.9 L686.5 1195.9 L688.5 1196.0 L690.0 1196.0 L690.5 1196.0 L692.5 1196.5 L694.5 1197.2 L696.5 1197.7 L697.0 1197.7 L698.5 1197.4 L700.5 1196.0 L702.5 1193.9 L704.5 1191.3 L706.5 1188.6 L707.6 1187.1 L708.5 1185.9 L710.5 1182.5 L712.5 1178.6 L714.5 1174.4 L716.5 1170.3 L718.5 1166.6 L720.4 1163.7 L720.5 1163.6 L722.5 1161.0 L724.5 1158.4 L726.5 1156.0 L728.5 1153.7 L730.5 1151.6 L732.5 1149.6 L734.5 1147.7 L736.5 1146.0 L738.5 1144.5 L740.5 1143.1 L741.6 1142.5 L742.5 1142.0 L744.5 1140.9 L746.5 1139.8 L748.5 1138.7 L750.5 1137.8 L752.5 1136.9 L754.5 1136.2 L756.5 1135.6 L758.5 1135.2 L760.5 1135.1 L760.7 1135.1 L762.5 1135.3 L764.5 1136.0 L766.5 1136.9 L768.5 1137.9 L770.5 1139.0 L772.5 1139.8 L774.5 1140.3 L775.6 1140.4 L776.5 1140.3 L778.5 1139.6 L780.5 1138.5 L782.5 1137.3 L784.5 1136.4 L786.2 1136.1 L786.5 1136.1 L788.5 1136.2 L790.5 1136.4 L792.5 1136.7 L794.5 1137.2 L796.5 1137.7 L798.5 1138.3 L800.5 1138.9 L802.5 1139.6 L804.5 1140.3 L806.5 1141.0 L807.5 1141.4 L808.5 1141.8 L810.5 1142.7 L812.5 1143.7 L814.5 1144.8 L816.5 1146.1 L818.5 1147.4 L820.5 1148.8 L822.5 1150.3 L824.5 1151.9 L826.5 1153.4 L828.5 1155.0 L828.7 1155.2 L830.5 1156.8 L832.5 1158.8 L834.5 1161.0 L836.5 1163.2 L838.5 1165.3 L840.5 1167.2 L841.5 1168.0 L842.5 1168.8 L844.5 1170.5 L846.5 1172.2 L848.5 1173.6 L850.5 1174.5 L852.1 1174.8 L852.5 1174.8 L854.5 1174.6 L856.5 1174.1 L858.5 1173.4 L860.5 1172.5 L862.5 1171.6 L864.5 1170.5 L866.5 1169.4 L868.5 1168.3 L869.1 1168.0 L870.5 1167.1 L872.5 1165.5 L874.5 1163.6 L876.5 1161.8 L878.5 1160.3 L880.5 1159.3 L881.8 1159.1 L882.5 1159.1 L884.5 1159.1 L886.5 1159.1 L888.5 1159.1 L890.5 1159.2 L892.5 1159.2 L894.5 1159.3 L896.5 1159.3 L898.5 1159.4 L900.5 1159.5 L901.0 1159.5 L902.5 1159.7 L904.5 1160.2 L906.5 1160.9 L908.5 1161.6 L910.5 1162.2 L912.5 1162.6 L913.7 1162.7 L914.5 1162.6 L916.5 1161.2 L918.5 1158.8 L920.5 1155.7 L922.5 1152.3 L924.5 1149.2 L926.5 1146.7 L928.5 1144.6 L930.5 1142.6 L932.5 1140.9 L934.5 1139.5 L935.0 1139.3 L936.5 1138.6 L938.5 1137.8 L940.5 1137.0 L942.5 1136.2 L944.5 1135.6 L946.5 1135.0 L948.5 1134.6 L950.5 1134.2 L952.5 1134.1 L954.1 1134.0 L954.5 1134.0 L956.5 1134.5 L958.5 1135.6 L960.5 1137.2 L962.5 1139.1 L964.5 1141.2 L966.5 1143.4 L968.5 1145.4 L970.5 1147.3 L971.1 1147.8 L972.5 1149.0 L974.5 1151.0 L976.5 1153.0 L978.5 1155.1 L980.5 1156.9 L982.5 1158.4 L984.5 1159.3 L986.0 1159.5 L986.5 1159.5 L988.5 1159.4 L990.5 1159.1 L992.5 1158.8 L994.5 1158.5 L996.5 1158.1 L998.5 1157.9 L1000.5 1157.8 L1000.8 1157.8 L1002.5 1157.9 L1004.5 1158.2 L1006.5 1158.7 L1008.5 1159.4 L1010.5 1160.2 L1012.5 1161.0 L1014.5 1162.0 L1016.5 1163.0 L1018.5 1164.0 L1020.0 1164.8 L1020.5 1165.1 L1022.5 1166.5 L1024.5 1168.3 L1026.5 1170.3 L1028.5 1172.3 L1030.5 1174.0 L1032.5 1175.2 L1034.5 1175.8 L1034.8 1175.8 L1036.5 1175.8 L1038.5 1175.6 L1040.5 1175.3 L1042.5 1174.9 L1044.5 1174.4 L1046.5 1173.9 L1048.5 1173.2 L1050.5 1172.5 L1052.5 1171.7 L1054.5 1170.8 L1056.5 1169.9 L1058.2 1169.1 L1058.5 1168.9 L1060.5 1167.4 L1062.5 1165.1 L1064.5 1162.3 L1066.5 1159.3 L1068.5 1156.3 L1070.5 1153.6 L1072.5 1151.4 L1073.0 1151.0 L1074.5 1149.8 L1076.5 1148.1 L1078.5 1146.5 L1080.5 1145.0 L1082.5 1143.5 L1084.5 1142.2 L1086.5 1141.0 L1088.5 1139.9 L1090.5 1139.1 L1092.5 1138.5 L1094.3 1138.2 L1094.5 1138.2 L1096.5 1138.0 L1098.5 1137.9 L1100.5 1137.8 L1102.5 1137.7 L1104.5 1137.6 L1106.5 1137.5 L1108.5 1137.3 L1109.2 1137.2 L1110.5 1136.8 L1112.5 1135.2 L1114.5 1132.9 L1116.5 1130.4 L1118.5 1128.0 L1120.5 1126.2 L1121.9 1125.5 L1122.5 1125.3 L1124.5 1124.8 L1126.5 1124.3 L1128.5 1123.9 L1130.5 1123.6 L1132.5 1123.3 L1134.5 1123.0 L1136.5 1122.9 L1138.5 1122.8 L1139.1 1122.8 L1140.5 1123.1 L1142.5 1124.3 L1144.5 1126.2 L1146.5 1128.4 L1148.5 1130.6 L1150.5 1132.5 L1151.9 1133.4 L1152.5 1133.7 L1154.5 1134.6 L1156.5 1135.3 L1158.5 1135.9 L1160.5 1136.5 L1162.5 1137.1 L1164.5 1137.8 L1166.5 1138.6 L1166.7 1138.7 L1168.5 1139.7 L1170.5 1141.0 L1172.5 1142.5 L1174.5 1144.0 L1176.5 1145.2 L1178.5 1145.9 L1179.5 1146.1 L1180.5 1146.2 L1182.5 1146.3 L1184.5 1146.4 L1186.5 1146.5 L1188.5 1146.6 L1190.5 1146.6 L1192.5 1146.7 L1194.4 1146.8 L1194.5 1146.8 L1196.5 1146.9 L1198.5 1147.0 L1200.5 1147.2 L1202.5 1147.3 L1204.5 1147.5 L1206.5 1147.7 L1208.5 1147.9 L1210.5 1148.2 L1211.4 1148.3 L1212.5 1148.6 L1214.5 1149.7 L1216.5 1151.2 L1218.5 1153.0 L1220.5 1154.7 L1222.5 1156.0 L1224.5 1156.7 L1225.2 1156.8 L1226.5 1156.5 L1228.5 1154.8 L1230.5 1152.3 L1232.5 1149.2 L1234.5 1146.1 L1236.5 1143.4 L1236.9 1142.9 L1238.5 1141.2 L1240.5 1139.1 L1242.5 1137.1 L1244.5 1135.1 L1246.5 1133.1 L1248.5 1131.2 L1250.5 1129.3 L1251.7 1128.1 L1252.5 1127.3 L1254.5 1125.2 L1256.5 1123.0 L1258.5 1120.7 L1260.5 1118.5 L1262.5 1116.5 L1264.5 1114.7 L1266.5 1113.2 L1268.5 1112.2 L1268.7 1112.1 L1270.5 1111.4 L1272.5 1110.7 L1274.5 1110.1 L1276.5 1109.5 L1278.5 1109.0 L1280.5 1108.7 L1282.5 1108.5 L1283.6 1108.5 L1284.5 1108.6 L1286.5 1109.5 L1288.5 1111.0 L1290.5 1113.0 L1292.5 1115.0 L1294.5 1117.0 L1296.5 1118.6 L1298.5 1119.5 L1299.5 1119.6 L1300.5 1119.5 L1302.5 1119.1 L1304.5 1118.2 L1306.5 1117.1 L1308.5 1115.9 L1310.5 1114.7 L1312.5 1113.6 L1314.5 1112.7 L1316.5 1112.2 L1317.6 1112.1 L1318.5 1112.2 L1320.5 1112.7 L1322.5 1113.7 L1324.5 1115.1 L1326.5 1116.7 L1328.5 1118.4 L1330.5 1120.1 L1332.5 1121.7 L1334.5 1123.3 L1336.5 1125.0 L1338.5 1126.8 L1340.5 1128.5 L1342.5 1130.2 L1344.5 1131.8 L1345.2 1132.3 L1346.5 1133.2 L1348.5 1134.8 L1350.5 1136.3 L1352.5 1137.8 L1354.5 1138.9 L1356.5 1139.6 L1358.0 1139.8 L1358.5 1139.8 L1360.5 1139.4 L1362.5 1138.5 L1364.5 1137.2 L1366.5 1135.7 L1368.5 1134.0 L1370.5 1132.2 L1372.5 1130.5 L1372.8 1130.2 L1374.5 1128.5 L1376.5 1125.9 L1378.5 1123.0 L1380.5 1119.9 L1382.5 1116.9 L1384.5 1114.2 L1386.5 1112.1 L1387.7 1111.1 L1388.5 1110.6 L1390.5 1109.4 L1392.5 1108.5 L1394.5 1107.6 L1396.5 1106.9 L1398.5 1106.1 L1400.5 1105.4 L1402.5 1104.6 L1404.5 1103.8 L1406.5 1102.8 L1406.8 1102.6 L1408.5 1101.6 L1410.5 1100.3 L1412.5 1098.9 L1414.5 1097.4 L1416.5 1095.8 L1418.5 1094.2 L1420.5 1092.5 L1422.5 1090.9 L1423.8 1089.8 L1424.5 1089.2 L1426.5 1087.4 L1428.5 1085.5 L1430.5 1083.5 L1432.5 1081.5 L1434.5 1079.5 L1436.5 1077.6 L1438.5 1075.9 L1440.5 1074.3 L1442.5 1073.0 L1442.9 1072.8 L1444.5 1071.9 L1446.5 1070.8 L1448.5 1069.7 L1450.5 1068.7 L1452.5 1068.0 L1454.5 1067.6 L1455.7 1067.5 L1456.5 1067.5 L1458.5 1067.8 L1460.5 1068.2 L1462.5 1068.8 L1464.5 1069.5 L1466.5 1070.3 L1468.5 1071.0 L1470.5 1071.8 L1470.6 1071.8 L1472.5 1072.5 L1474.5 1073.5 L1476.5 1074.5 L1478.5 1075.5 L1480.5 1076.4 L1482.5 1077.3 L1484.5 1077.9 L1485.4 1078.1 L1486.5 1078.3 L1488.5 1078.6 L1490.5 1078.9 L1492.5 1079.1 L1494.5 1079.3 L1496.5 1079.5 L1498.5 1079.6 L1500.5 1079.8 L1502.5 1079.9 L1504.5 1080.1 L1506.5 1080.3 L1508.5 1080.6 L1510.5 1080.8 L1512.5 1081.2 L1513.1 1081.3 L1514.5 1081.7 L1516.5 1082.4 L1518.5 1083.3 L1520.5 1084.4 L1522.5 1085.6 L1524.5 1086.8 L1526.5 1088.0 L1528.5 1089.0 L1530.1 1089.8 L1530.5 1090.0 L1532.5 1090.9 L1534.5 1092.0 L1536.5 1093.0 L1538.5 1093.9 L1540.5 1094.6 L1542.5 1095.0 L1543.9 1095.1 L1544.5 1095.1 L1546.5 1094.5 L1548.5 1093.4 L1550.5 1091.9 L1552.5 1090.2 L1554.5 1088.3 L1556.5 1086.6 L1557.7 1085.6 L1558.5 1085.0 L1560.5 1083.3 L1562.5 1081.6 L1564.5 1079.8 L1566.5 1078.0 L1568.5 1076.2 L1570.5 1074.3 L1572.5 1072.6 L1574.5 1070.8 L1576.5 1069.2 L1577.0 1068.8 L1578.5 1067.6 L1580.5 1066.1 L1582.5 1064.7 L1584.5 1063.2 L1586.5 1061.8 L1588.5 1060.4 L1590.5 1059.1 L1592.5 1057.7 L1594.5 1056.4 L1596.5 1055.1 L1598.2 1054.0 L1598.5 1053.8 L1600.5 1052.5 L1602.5 1051.1 L1604.5 1049.7 L1606.5 1048.4 L1608.5 1047.0 L1610.5 1045.7 L1612.5 1044.5 L1614.5 1043.4 L1616.5 1042.4 L1618.5 1041.6 L1619.5 1041.2 L1620.5 1040.9 L1622.5 1040.2 L1624.5 1039.5 L1626.5 1038.8 L1628.5 1038.2 L1630.5 1037.7 L1632.5 1037.3 L1634.5 1037.1 L1636.5 1037.0 L1638.5 1037.1 L1640.5 1037.2 L1642.5 1037.5 L1644.5 1037.8 L1646.5 1038.3 L1648.5 1038.8 L1650.5 1039.3 L1652.5 1039.9 L1653.5 1040.2 L1654.5 1040.6 L1656.5 1041.8 L1658.5 1043.5 L1660.5 1045.4 L1662.5 1047.6 L1664.5 1049.7 L1666.5 1051.8 L1668.5 1053.6 L1670.5 1055.0 L1672.5 1056.2 L1674.5 1057.4 L1676.5 1058.6 L1678.5 1059.7 L1680.5 1060.7 L1682.5 1061.5 L1684.5 1062.1 L1686.5 1062.5 L1687.5 1062.5 L1688.5 1062.5 L1690.5 1062.3 L1692.5 1062.0 L1694.5 1061.7 L1696.5 1061.3 L1698.5 1060.9 L1700.5 1060.6 L1702.5 1060.4 L1704.5 1060.3 L1706.5 1060.3 L1708.5 1060.5 L1710.5 1060.6 L1712.5 1060.8 L1714.5 1061.0 L1716.5 1061.2 L1718.5 1061.3 L1720.5 1061.4 L1721.5 1061.4 L1722.5 1061.4 L1724.5 1061.4 L1726.5 1061.3 L1728.5 1061.2 L1730.5 1061.1 L1732.5 1061.0 L1734.5 1060.9 L1736.5 1060.7 L1738.5 1060.5 L1740.5 1060.3 L1740.6 1060.3 L1742.5 1059.7 L1744.5 1058.5 L1746.5 1056.7 L1748.5 1054.5 L1750.5 1052.1 L1752.5 1049.5 L1754.5 1047.0 L1756.5 1044.5 L1757.6 1043.3 L1758.5 1042.3 L1760.5 1039.8 L1762.5 1037.0 L1764.5 1034.3 L1766.5 1031.6 L1768.5 1029.3 L1770.5 1027.5 L1772.5 1026.3 L1774.5 1025.6 L1776.5 1024.9 L1778.5 1024.3 L1780.5 1023.7 L1782.5 1023.3 L1784.5 1022.9 L1786.5 1022.6 L1788.5 1022.5 L1789.5 1022.5 L1790.5 1022.5 L1792.5 1022.5 L1794.5 1022.6 L1796.5 1022.7 L1798.5 1022.8 L1800.5 1022.9 L1802.5 1023.0 L1804.5 1023.1 L1806.5 1023.1 L1808.5 1023.2 L1810.5 1023.2 L1810.7 1023.2 L1812.5 1023.0 L1814.5 1022.4 L1816.5 1021.5 L1818.5 1020.5 L1820.5 1019.6 L1822.5 1018.9 L1824.5 1018.5 L1825.0 1018.5 L1826.5 1018.6 L1828.5 1018.8 L1830.5 1019.1 L1832.5 1019.6 L1834.5 1020.3 L1836.5 1021.0 L1838.5 1021.8 L1840.5 1022.6 L1842.0 1023.3 L1842.5 1023.6 L1844.5 1025.0 L1846.5 1027.1 L1848.5 1029.5 L1850.5 1032.1 L1852.5 1034.6 L1854.5 1037.0 L1856.0 1038.5 L1856.5 1039.0 L1858.5 1040.8 L1860.5 1042.5 L1862.5 1044.2 L1864.5 1045.8 L1866.5 1047.3 L1868.5 1048.7 L1870.5 1049.9 L1871.0 1050.2 L1872.5 1051.0 L1874.5 1052.2 L1876.5 1053.3 L1878.5 1054.4 L1880.5 1055.3 L1882.5 1056.0 L1884.5 1056.4 L1886.0 1056.5 L1886.5 1056.5 L1888.5 1056.3 L1890.5 1056.0 L1892.5 1055.5 L1894.5 1054.9 L1896.5 1054.4 L1898.5 1053.8 L1900.5 1053.3 L1902.5 1053.0 L1904.5 1052.8 L1905.0 1052.8 L1906.5 1052.8 L1908.5 1052.9 L1910.5 1053.0 L1912.5 1053.2 L1914.5 1053.3 L1916.5 1053.5 L1918.5 1053.7 L1920.5 1053.8 L1922.5 1053.9 L1924.5 1054.0 L1925.5 1054.0 L1926.5 1053.9 L1928.5 1053.4 L1930.5 1052.5 L1932.5 1051.2 L1934.5 1049.7 L1936.5 1048.2 L1938.5 1046.7 L1939.0 1046.3 L1940.5 1045.1 L1942.5 1043.4 L1944.5 1041.4 L1946.5 1039.3 L1948.5 1037.1 L1950.5 1034.9 L1952.5 1032.8 L1954.0 1031.3 L1954.5 1030.8 L1956.5 1028.7 L1958.5 1026.6 L1960.5 1024.4 L1962.5 1022.3 L1964.5 1020.4 L1966.5 1018.7 L1968.5 1017.3 L1969.0 1017.0 L1970.5 1016.2 L1972.5 1015.1 L1974.5 1014.1 L1976.5 1013.2 L1978.5 1012.4 L1980.5 1011.8 L1982.5 1011.5 L1983.5 1011.5 L1984.5 1011.5 L1986.5 1011.7 L1988.5 1012.1 L1990.5 1012.6 L1992.5 1013.1 L1994.5 1013.6 L1996.0 1014.0 L1996.5 1014.1 L1998.5 1014.7 L2000.5 1015.3 L2002.5 1016.0 L2004.5 1016.6 L2006.5 1017.0 L2008.4 1017.1 L2008.5 1017.1 L2010.5 1016.9 L2012.5 1016.3 L2014.5 1015.6 L2016.5 1014.9 L2018.5 1014.3 L2020.5 1013.9 L2021.2 1013.9 L2022.5 1014.2 L2024.5 1015.4 L2026.5 1017.4 L2028.5 1019.8 L2029.7 1021.3 L2030.5 1022.5 L2032.5 1026.6 L2034.5 1031.6 L2036.5 1036.7 L2038.2 1040.4 L2038.5 1041.0 L2040.5 1045.0 L2042.5 1048.6 L2044.5 1051.0 L2046.5 1052.5 L2048.5 1053.6 L2050.5 1054.2 L2050.9 1054.2 L2052.5 1052.3 L2054.5 1046.4 L2056.2 1040.4 L2056.5 1039.3 L2058.5 1030.8 L2060.5 1020.2"/>
<path stroke="#00ffff" stroke-width="11.8" d="M254.5 1330.5 L255.4 1311.0 L256.5 1309.7 L257.2 1309.5 L258.5 1316.6 L260.2 1331.8 L260.5 1333.5 L262.5 1344.2 L263.4 1346.7 L264.5 1348.0 L266.5 1349.2 L268.5 1349.9 L270.5 1351.2 L271.9 1353.1 L272.5 1357.6 L274.0 1376.5 L274.5 1379.0 L276.5 1385.7 L278.5 1390.8 L279.3 1393.5 L280.5 1399.7 L282.5 1408.3 L284.5 1410.2 L286.5 1411.3 L287.8 1411.5 L288.5 1411.4 L290.5 1410.1 L292.5 1407.9 L294.5 1405.7 L296.5 1404.3 L297.4 1404.1 L298.5 1404.2 L300.5 1404.5 L302.5 1405.0 L304.5 1405.8 L306.5 1406.7 L308.5 1407.6 L310.1 1408.3 L310.5 1408.5 L312.5 1409.6 L314.5 1411.1 L316.5 1412.6 L318.5 1414.1 L320.5 1415.5 L322.5 1416.6 L322.9 1416.8 L324.5 1417.5 L326.5 1418.3 L328.5 1419.0 L330.5 1419.6 L332.5 1420.0 L333.5 1420.0 L334.5 1419.5 L336.5 1416.4 L338.5 1412.4 L339.9 1410.5 L340.5 1410.0 L342.5 1408.7 L344.5 1407.8 L346.5 1407.0 L348.5 1405.8 L350.5 1404.1 L352.5 1399.4 L354.5 1392.0 L356.5 1385.8 L356.9 1385.0 L358.5 1382.5 L360.5 1379.8 L362.5 1377.4 L364.5 1375.3 L366.5 1373.5 L368.5 1372.0 L370.5 1370.7 L371.7 1370.1 L372.5 1369.7 L374.5 1368.9 L376.5 1368.2 L378.5 1367.7 L380.5 1367.1 L382.5 1366.7 L384.5 1366.2 L386.5 1365.7 L388.5 1365.2 L390.5 1364.6 L392.5 1363.9 L393.0 1363.7 L394.5 1363.0 L396.5 1361.9 L398.5 1360.7 L400.5 1359.4 L402.5 1358.1 L404.5 1356.9 L405.7 1356.3 L406.5 1355.9 L408.5 1355.1 L410.5 1354.3 L412.5 1353.6 L414.5 1352.9 L416.5 1352.0 L418.5 1351.0 L420.5 1349.5 L422.5 1347.4 L424.5 1345.1 L426.5 1342.7 L428.5 1340.5 L430.5 1338.8 L432.5 1337.9 L433.3 1337.8 L434.5 1337.9 L436.5 1338.3 L438.5 1339.1 L440.5 1340.2 L442.5 1341.3 L444.5 1342.6 L446.5 1343.7 L448.2 1344.6 L448.5 1344.7 L450.5 1345.8 L452.5 1347.0 L454.5 1348.3 L456.5 1349.6 L458.5 1350.8 L460.5 1351.9 L462.5 1352.9 L464.5 1353.6 L466.5 1354.0 L467.3 1354.1 L468.5 1354.2 L470.5 1354.3 L472.5 1354.4 L474.5 1354.4 L476.5 1354.5 L478.5 1354.6 L480.5 1354.6 L482.5 1354.7 L484.5 1354.7 L486.5 1354.8 L488.5 1354.8 L490.5 1354.8 L492.5 1354.8 L492.8 1354.8 L494.5 1354.7 L496.5 1354.4 L498.5 1353.8 L500.5 1353.2 L502.5 1352.4 L504.5 1351.6 L506.5 1350.7 L508.5 1349.9 L510.5 1349.2 L512.0 1348.8 L512.5 1348.7 L514.5 1348.2 L516.5 1347.8 L518.5 1347.5 L520.5 1347.1 L522.5 1346.8 L524.5 1346.4 L526.5 1346.0 L528.5 1345.4 L530.5 1344.8 L531.1 1344.6 L532.5 1344.0 L534.5 1342.8 L536.5 1341.3 L538.5 1339.5 L540.5 1337.5 L542.5 1335.4 L543.8 1334.0 L544.5 1333.2 L546.5 1330.2 L548.5 1326.8 L550.5 1323.1 L552.5 1319.7 L554.4 1317.0 L554.5 1316.9 L556.5 1314.4 L558.5 1312.0 L560.5 1309.8 L562.5 1307.8 L564.5 1306.1 L566.5 1304.6 L567.2 1304.2 L568.5 1303.5 L570.5 1302.6 L572.5 1301.7 L574.5 1301.0 L576.5 1300.3 L578.5 1299.7 L580.5 1299.1 L582.5 1298.4 L584.2 1297.8 L584.5 1297.7 L586.5 1296.9 L588.5 1296.2 L590.5 1295.5 L592.5 1294.7 L594.5 1294.0 L596.5 1293.2 L598.5 1292.5 L600.5 1291.8 L601.2 1291.5 L602.5 1291.0 L604.5 1290.1 L606.5 1289.1 L608.5 1288.1 L610.5 1287.1 L612.5 1286.3 L614.5 1285.6 L616.5 1285.2 L618.2 1285.1 L618.5 1285.1 L620.5 1285.5 L622.5 1286.3 L624.5 1287.6 L626.5 1289.2 L628.5 1291.1 L630.5 1293.1 L632.5 1295.1 L633.1 1295.7 L634.5 1297.4 L636.5 1300.6 L638.5 1304.3 L640.5 1308.0 L642.5 1311.2 L643.7 1312.7 L644.5 1313.5 L646.5 1315.7 L648.5 1317.7 L650.5 1319.5 L652.5 1321.0 L654.5 1322.0 L656.4 1322.3 L656.5 1322.3 L658.5 1322.2 L660.5 1321.9 L662.5 1321.5 L664.5 1321.0 L666.5 1320.5 L668.5 1319.9 L670.5 1319.3 L671.3 1319.1 L672.5 1318.7 L674.5 1317.9 L676.5 1316.9 L678.5 1316.0 L680.5 1315.2 L682.5 1314.7 L684.1 1314.5 L684.5 1314.5 L686.5 1315.0 L688.5 1315.8 L690.5 1316.9 L692.5 1317.7 L692.7 1317.8 L694.5 1318.4 L696.5 1319.2 L698.5 1319.9 L700.5 1320.6 L702.5 1321.2 L704.5 1321.7 L706.5 1322.0 L707.6 1322.0 L708.5 1321.9 L710.5 1321.5 L712.5 1320.6 L714.5 1319.4 L716.5 1317.9 L718.5 1316.2 L720.5 1314.4 L722.5 1312.5 L724.5 1310.1 L726.5 1306.9 L728.5 1303.2 L730.5 1299.3 L732.5 1295.6 L734.5 1292.2 L735.2 1291.2 L736.5 1289.4 L738.5 1286.9 L740.5 1284.4 L742.5 1282.1 L744.5 1279.9 L746.5 1277.8 L748.0 1276.3 L748.5 1275.8 L750.5 1273.7 L752.5 1271.4 L754.5 1269.3 L756.5 1267.5 L758.5 1266.2 L760.5 1265.7 L760.7 1265.7 L762.5 1265.8 L764.5 1266.2 L766.5 1266.8 L768.5 1267.4 L770.5 1268.0 L772.5 1268.5 L774.5 1268.9 L775.6 1268.9 L776.5 1268.9 L778.5 1268.9 L780.5 1268.9 L782.5 1268.9 L784.5 1268.9 L786.5 1268.9 L788.4 1268.9 L788.5 1268.9 L790.5 1268.2 L792.5 1266.4 L794.5 1264.1 L796.5 1261.5 L798.5 1259.2 L800.5 1257.5 L801.1 1257.2 L802.5 1256.6 L804.5 1255.8 L806.5 1255.1 L808.5 1254.5 L810.5 1254.0 L812.5 1253.6 L813.9 1253.4 L814.5 1253.3 L816.5 1253.1 L818.5 1253.0 L820.5 1252.8 L822.5 1252.7 L824.5 1252.6 L826.5 1252.5 L828.5 1252.5 L828.7 1252.5 L830.5 1253.2 L832.5 1255.5 L834.5 1258.8 L836.5 1262.6 L838.5 1266.4 L839.3 1267.8 L840.5 1270.0 L842.5 1274.4 L844.5 1278.9 L846.5 1282.9 L847.8 1284.8 L848.5 1285.7 L850.5 1288.1 L852.5 1290.3 L854.5 1291.8 L856.3 1292.3 L856.5 1292.3 L858.5 1291.9 L860.5 1291.1 L862.5 1289.9 L864.5 1288.6 L866.5 1287.3 L867.0 1287.0 L868.5 1285.9 L870.5 1284.2 L872.5 1282.3 L874.5 1280.7 L876.5 1279.7 L877.6 1279.5 L878.5 1279.5 L880.5 1279.7 L882.5 1280.0 L884.5 1280.4 L886.5 1280.9 L888.5 1281.5 L890.5 1282.1 L892.5 1282.7 L894.5 1283.3 L896.5 1283.9 L898.5 1284.6 L900.5 1285.5 L902.5 1286.6 L903.1 1287.0 L904.5 1288.5 L906.5 1291.9 L908.5 1295.8 L910.5 1298.8 L911.6 1299.7 L912.5 1300.1 L914.5 1300.8 L916.5 1301.4 L918.5 1301.7 L920.1 1301.8 L920.5 1301.8 L922.5 1301.0 L924.5 1299.4 L926.5 1297.2 L928.5 1294.4 L930.5 1291.5 L930.7 1291.2 L932.5 1287.5 L934.5 1281.9 L936.5 1275.5 L938.5 1269.6 L939.2 1267.8 L940.5 1264.5 L942.5 1258.9 L944.5 1254.0 L946.5 1250.6 L947.7 1249.8 L948.5 1249.7 L950.5 1249.4 L952.5 1249.3 L954.5 1249.2 L956.5 1249.0 L958.5 1248.9 L960.5 1248.7 L962.5 1248.3 L964.5 1247.7 L966.5 1247.1 L968.5 1246.5 L970.5 1246.2 L971.1 1246.2 L972.5 1246.5 L974.5 1247.9 L976.5 1249.9 L978.5 1251.8 L980.5 1253.1 L981.7 1253.4 L982.5 1253.3 L984.5 1252.7 L986.5 1251.5 L988.5 1250.1 L990.2 1248.7 L990.5 1248.4 L992.5 1245.9 L994.5 1242.5 L996.5 1239.0 L998.5 1236.2 L998.7 1236.0 L1000.5 1234.2 L1002.5 1232.5 L1004.5 1231.0 L1006.5 1229.6 L1008.5 1228.1 L1009.3 1227.5 L1010.5 1226.5 L1012.5 1224.5 L1014.5 1222.6 L1016.5 1221.4 L1017.8 1221.1 L1018.5 1221.3 L1020.5 1223.2 L1022.5 1226.6 L1024.2 1229.6 L1024.5 1230.1 L1026.5 1234.8 L1028.5 1240.5 L1030.5 1246.1 L1032.5 1250.5 L1032.7 1250.8 L1034.5 1253.5 L1036.5 1256.3 L1038.5 1258.5 L1040.5 1260.1 L1041.2 1260.4 L1042.5 1260.9 L1044.5 1261.6 L1046.5 1262.1 L1048.5 1262.4 L1049.7 1262.5 L1050.5 1262.4 L1052.5 1261.7 L1054.5 1260.4 L1056.5 1258.7 L1058.5 1256.8 L1060.3 1255.1 L1060.5 1254.9 L1062.5 1252.1 L1064.5 1248.6 L1066.5 1245.4 L1068.5 1243.5 L1068.8 1243.4 L1070.5 1243.0 L1072.5 1242.6 L1074.5 1242.2 L1076.5 1242.0 L1078.5 1241.9 L1079.4 1241.9 L1080.5 1241.9 L1082.5 1242.1 L1084.5 1242.5 L1086.5 1243.1 L1088.5 1243.8 L1090.1 1244.5 L1090.5 1244.8 L1092.5 1248.6 L1094.5 1254.4 L1096.4 1259.3 L1096.5 1259.5 L1098.5 1264.0 L1100.5 1267.8 L1101.7 1268.9 L1102.5 1269.2 L1104.5 1269.7 L1106.5 1270.0 L1107.1 1270.0 L1108.5 1269.3 L1110.5 1266.6 L1112.5 1263.1 L1113.4 1261.5 L1114.5 1259.5 L1116.5 1255.1 L1118.5 1250.6 L1119.8 1248.0 L1120.5 1246.7 L1122.5 1243.4 L1124.5 1240.2 L1126.5 1237.2 L1128.5 1234.1 L1130.5 1230.8 L1130.6 1230.6 L1132.5 1226.6 L1134.5 1221.6 L1136.5 1217.3 L1138.5 1214.9 L1139.1 1214.7 L1140.5 1214.7 L1142.5 1214.8 L1144.5 1214.9 L1146.5 1215.0 L1148.5 1215.3 L1150.5 1215.5 L1151.9 1215.7 L1152.5 1215.9 L1154.5 1217.2 L1156.5 1219.5 L1158.5 1222.1 L1160.5 1224.5 L1162.5 1226.3 L1164.5 1227.6 L1166.5 1228.8 L1168.5 1229.7 L1170.5 1230.2 L1171.0 1230.2 L1172.5 1229.8 L1174.5 1228.4 L1176.5 1226.2 L1178.5 1223.5 L1179.5 1222.1 L1180.5 1220.2 L1182.5 1214.1 L1184.5 1206.8 L1186.5 1200.1 L1188.0 1196.6 L1188.5 1195.8 L1190.5 1192.8 L1192.5 1190.2 L1194.5 1188.1 L1196.5 1186.3 L1198.5 1185.0 L1198.6 1184.9 L1200.5 1183.9 L1202.5 1182.9 L1204.5 1182.1 L1206.5 1181.7 L1207.1 1181.7 L1208.5 1181.9 L1210.5 1182.9 L1212.5 1184.4 L1214.5 1186.2 L1216.5 1188.1 L1217.7 1189.2 L1218.5 1189.9 L1220.5 1191.6 L1222.5 1193.5 L1224.5 1195.6 L1226.5 1198.1 L1228.4 1200.9 L1228.5 1201.1 L1230.5 1205.3 L1232.5 1210.8 L1234.5 1217.2 L1234.7 1217.8 L1236.5 1225.6 L1238.5 1233.8 L1239.0 1234.8 L1240.5 1236.9 L1242.5 1238.8 L1244.3 1239.5 L1244.5 1239.5 L1246.5 1238.7 L1248.5 1236.8 L1250.5 1234.3 L1251.7 1232.7 L1252.5 1231.4 L1254.5 1226.7 L1256.5 1221.3 L1258.1 1217.8 L1258.5 1217.1 L1260.5 1213.8 L1262.5 1210.9 L1264.5 1208.2 L1266.5 1205.6 L1268.5 1203.2 L1268.7 1203.0 L1270.5 1200.6 L1272.5 1197.9 L1274.5 1195.5 L1276.5 1194.2 L1277.2 1194.1 L1278.5 1194.3 L1280.5 1195.5 L1282.5 1197.3 L1284.5 1199.5 L1286.5 1201.7 L1287.8 1203.0 L1288.5 1203.7 L1290.5 1205.7 L1292.5 1207.8 L1294.5 1210.1 L1296.5 1212.4 L1298.5 1214.7 L1300.5 1217.6 L1302.5 1220.8 L1304.5 1223.7 L1306.5 1225.2 L1307.0 1225.3 L1308.5 1225.2 L1310.5 1224.9 L1312.5 1224.4 L1314.5 1223.7 L1315.5 1223.2 L1316.5 1222.0 L1318.5 1216.5 L1320.5 1208.5 L1321.8 1203.0 L1322.5 1199.6 L1324.5 1187.3 L1326.1 1179.6 L1326.5 1178.4 L1328.5 1173.3 L1330.5 1169.5 L1332.5 1166.9 L1334.5 1165.0 L1336.5 1163.2 L1338.5 1161.5 L1340.5 1160.2 L1342.5 1159.1 L1344.5 1158.3 L1346.5 1157.9 L1347.3 1157.9 L1348.5 1158.1 L1350.5 1159.2 L1352.5 1160.9 L1354.5 1163.1 L1356.5 1165.3 L1358.0 1166.9 L1358.5 1167.4 L1360.5 1169.7 L1362.5 1172.2 L1364.5 1174.7 L1366.5 1177.2 L1368.5 1179.5 L1368.6 1179.6 L1370.5 1181.7 L1372.5 1184.1 L1374.5 1186.4 L1376.5 1188.2 L1378.5 1189.1 L1379.2 1189.2 L1380.5 1188.9 L1382.5 1187.6 L1384.5 1185.6 L1386.5 1183.2 L1387.7 1181.7 L1388.5 1180.5 L1390.5 1176.4 L1392.5 1172.2 L1394.1 1170.0 L1394.5 1169.7 L1396.5 1168.2 L1398.5 1166.9 L1400.5 1165.8 L1402.5 1164.9 L1404.5 1164.3 L1406.5 1164.1 L1406.8 1164.1 L1408.5 1164.2 L1410.5 1164.5 L1412.5 1165.1 L1414.5 1165.8 L1416.5 1166.6 L1418.5 1167.4 L1419.6 1167.9 L1420.5 1168.4 L1422.5 1169.8 L1424.5 1171.5 L1426.5 1173.5 L1428.5 1175.3 L1430.5 1176.7 L1432.3 1177.5 L1432.5 1177.6 L1434.5 1178.1 L1436.5 1178.6 L1438.5 1179.0 L1440.5 1179.4 L1442.5 1179.7 L1444.5 1179.9 L1446.5 1180.0 L1447.2 1180.0 L1448.5 1179.8 L1450.5 1179.0 L1452.5 1177.5 L1454.5 1175.7 L1456.5 1173.5 L1456.8 1173.2 L1458.5 1170.0 L1460.5 1164.1 L1462.5 1158.3 L1464.2 1155.2 L1464.5 1154.9 L1466.5 1153.0 L1468.5 1151.3 L1470.5 1149.9 L1472.5 1148.8 L1474.5 1148.0 L1476.5 1147.4 L1476.9 1147.3 L1478.5 1147.0 L1480.5 1146.6 L1482.5 1146.4 L1484.5 1146.1 L1486.5 1146.0 L1487.6 1146.0 L1488.5 1146.1 L1490.5 1146.5 L1492.5 1147.2 L1494.5 1148.0 L1496.5 1148.6 L1498.2 1148.8 L1498.5 1148.8 L1500.5 1148.0 L1502.5 1146.3 L1504.5 1144.1 L1506.5 1141.6 L1508.5 1139.3 L1510.5 1137.4 L1510.9 1137.1 L1512.5 1136.1 L1514.5 1135.0 L1516.5 1134.0 L1518.5 1133.1 L1520.5 1132.1 L1522.5 1131.0 L1523.7 1130.3 L1524.5 1129.7 L1526.5 1128.0 L1528.5 1125.8 L1530.5 1123.6 L1532.5 1121.5 L1534.5 1119.7 L1536.5 1118.5 L1538.5 1118.0 L1540.5 1118.2 L1542.5 1118.6 L1544.5 1119.3 L1546.5 1120.2 L1548.5 1121.1 L1550.5 1122.0 L1552.5 1122.9 L1553.4 1123.3 L1554.5 1123.7 L1556.5 1124.6 L1558.5 1125.5 L1560.0 1126.2 L1560.5 1126.5 L1562.5 1127.8 L1564.5 1129.4 L1566.5 1131.0 L1568.5 1132.1 L1570.5 1132.6 L1570.6 1132.6 L1572.5 1132.1 L1574.5 1130.6 L1576.5 1128.9 L1578.5 1127.2 L1580.5 1126.3 L1581.2 1126.2 L1582.5 1126.4 L1584.5 1127.1 L1586.5 1128.3 L1588.5 1129.6 L1590.5 1130.8 L1591.9 1131.5 L1592.5 1131.7 L1594.5 1132.4 L1596.5 1132.9 L1598.5 1133.5 L1600.5 1134.0 L1602.5 1134.8 L1604.5 1135.7 L1604.6 1135.8 L1606.5 1137.6 L1608.5 1140.5 L1610.5 1144.1 L1612.5 1147.7 L1614.5 1150.8 L1615.2 1151.7 L1616.5 1153.2 L1618.5 1155.6 L1620.5 1157.9 L1622.5 1159.8 L1624.5 1161.0 L1625.9 1161.3 L1626.5 1161.3 L1628.5 1161.2 L1630.5 1161.1 L1632.5 1160.8 L1634.5 1160.5 L1636.5 1160.1 L1638.5 1159.7 L1640.5 1159.2 L1640.7 1159.1 L1642.5 1158.1 L1644.5 1156.1 L1646.5 1153.4 L1648.5 1150.6 L1650.5 1148.0 L1652.5 1146.0 L1653.5 1145.3 L1654.5 1144.8 L1656.5 1144.0 L1658.5 1143.4 L1660.5 1142.8 L1662.5 1142.3 L1664.5 1141.7 L1666.2 1141.1 L1666.5 1141.0 L1668.5 1140.2 L1670.5 1139.3 L1672.5 1138.4 L1674.5 1137.5 L1676.5 1136.5 L1678.5 1135.4 L1680.5 1134.2 L1682.5 1133.0 L1683.2 1132.6 L1684.5 1131.7 L1686.5 1130.2 L1688.5 1128.6 L1690.5 1126.9 L1692.5 1125.0 L1694.5 1123.2 L1696.5 1121.3 L1698.1 1119.8 L1698.5 1119.4 L1700.5 1117.6 L1702.5 1115.7 L1704.5 1113.7 L1706.5 1111.7 L1708.5 1109.7 L1710.5 1107.7 L1712.5 1105.5 L1713.0 1105.0 L1714.5 1103.2 L1716.5 1100.2 L1718.5 1097.1 L1720.5 1094.2 L1722.5 1091.8 L1724.5 1090.4 L1725.7 1090.1 L1726.5 1090.1 L1728.5 1090.4 L1730.5 1091.0 L1732.5 1091.7 L1734.5 1092.7 L1736.5 1093.8 L1738.5 1094.9 L1740.5 1096.1 L1742.5 1097.3 L1744.5 1098.4 L1744.8 1098.6 L1746.5 1099.6 L1748.5 1101.2 L1750.5 1102.9 L1752.5 1104.5 L1754.5 1106.1 L1756.5 1107.3 L1758.5 1108.0 L1759.7 1108.1 L1760.5 1108.1 L1762.5 1108.0 L1764.5 1107.8 L1766.5 1107.5 L1768.5 1107.2 L1770.5 1106.9 L1772.5 1106.6 L1774.5 1106.3 L1776.5 1106.1 L1777.0 1106.0 L1778.5 1105.8 L1780.5 1105.6 L1782.5 1105.4 L1784.5 1105.1 L1786.5 1104.9 L1788.5 1104.7 L1790.5 1104.6 L1792.5 1104.5 L1794.0 1104.5 L1794.5 1104.5 L1796.5 1105.1 L1798.5 1106.2 L1800.5 1107.8 L1802.5 1109.6 L1804.5 1111.6 L1806.0 1113.0 L1806.5 1113.5 L1808.5 1116.0 L1810.5 1119.0 L1812.5 1122.0 L1814.5 1124.6 L1815.2 1125.3 L1816.5 1126.6 L1818.5 1128.6 L1820.5 1130.3 L1822.5 1131.4 L1823.7 1131.6 L1824.5 1131.6 L1826.5 1131.0 L1828.5 1130.1 L1830.5 1128.9 L1832.5 1127.6 L1834.3 1126.4 L1834.5 1126.3 L1836.5 1124.7 L1838.5 1122.7 L1840.5 1120.7 L1842.5 1118.9 L1844.5 1117.7 L1844.9 1117.5 L1846.5 1117.0 L1848.5 1116.4 L1850.5 1115.8 L1852.5 1115.3 L1854.5 1115.0 L1856.5 1114.7 L1858.5 1114.5 L1859.8 1114.5 L1860.5 1114.5 L1862.5 1114.5 L1864.5 1114.6 L1866.5 1114.7 L1868.5 1114.7 L1870.5 1114.9 L1872.5 1115.0 L1874.5 1115.5 L1876.5 1116.5 L1878.5 1117.9 L1880.5 1119.3 L1882.5 1120.7 L1884.5 1121.8 L1886.5 1122.4 L1887.3 1122.5 L1888.5 1122.4 L1890.5 1121.6 L1892.5 1120.4 L1894.5 1118.9 L1896.5 1117.4 L1897.0 1117.0 L1898.5 1115.7 L1900.5 1113.6 L1902.5 1111.3 L1904.5 1108.8 L1906.5 1106.4 L1908.5 1104.2 L1908.6 1104.1 L1910.5 1102.1 L1912.5 1100.0 L1914.5 1098.0 L1916.5 1096.2 L1918.5 1094.9 L1919.3 1094.6 L1920.5 1094.2 L1922.5 1093.5 L1924.5 1093.0 L1926.5 1092.4 L1928.5 1092.0 L1930.5 1091.7 L1932.5 1091.5 L1934.1 1091.5 L1934.5 1091.5 L1936.5 1091.7 L1938.5 1092.1 L1940.5 1092.7 L1942.5 1093.4 L1944.5 1094.1 L1946.5 1094.9 L1946.9 1095.0 L1948.5 1095.7 L1950.5 1096.7 L1952.5 1097.9 L1954.5 1098.8 L1956.5 1099.4 L1957.5 1099.5 L1958.5 1099.3 L1960.5 1097.8 L1962.5 1095.6 L1964.5 1093.5 L1966.0 1092.4 L1966.5 1092.2 L1968.5 1091.3 L1970.5 1090.4 L1972.5 1089.7 L1974.5 1089.1 L1976.5 1088.6 L1978.5 1088.2 L1978.7 1088.2 L1980.5 1087.9 L1982.5 1087.6 L1984.5 1087.4 L1986.5 1087.1 L1988.5 1086.9 L1990.5 1086.8 L1992.5 1086.7 L1993.6 1086.7 L1994.5 1086.7 L1996.5 1087.0 L1998.5 1087.6 L2000.5 1088.3 L2002.5 1089.1 L2004.5 1089.9 L2006.5 1090.7 L2008.4 1091.4 L2008.5 1091.4 L2010.5 1092.2 L2012.5 1093.0 L2014.5 1093.9 L2016.5 1094.7 L2018.5 1095.3 L2020.5 1095.6 L2021.2 1095.6 L2022.5 1095.2 L2024.5 1093.4 L2026.5 1090.8 L2028.5 1088.3 L2029.7 1087.1 L2030.5 1086.4 L2032.5 1084.5 L2034.5 1082.9 L2036.0 1082.5 L2036.5 1082.5 L2038.5 1083.6 L2040.5 1085.7 L2042.5 1088.5 L2044.5 1091.4 L2046.5 1094.9 L2048.5 1099.3 L2050.5 1104.4 L2052.0 1108.4 L2052.5 1109.8 L2054.5 1116.2 L2056.5 1122.9 L2057.3 1125.3 L2058.5 1128.6 L2060.5 1133.8"/>
<path stroke="#00ffff" stroke-width="13.2" shape-rendering="crispEdges" d="M254.5 1330.5 L255.4 1311.0 L256.5 1309.7 L257.2 1309.5 L258.5 1316.6 L260.2 1331.8 L260.5 1333.5 L262.5 1344.2 L263.4 1346.7 L264.5 1348.0 L266.5 1349.2 L268.5 1349.9 L270.5 1351.2 L271.9 1353.1 L272.5 1357.6 L274.0 1376.5 L274.5 1379.0 L276.5 1385.7 L278.5 1390.8 L279.3 1393.5 L280.5 1399.7 L282.5 1408.3 L284.5 1410.2 L286.5 1411.3 L287.8 1411.5 L288.5 1411.4 L290.5 1410.1 L292.5 1407.9 L294.5 1405.7 L296.5 1404.3 L297.4 1404.1 L298.5 1404.2 L300.5 1404.5 L302.5 1405.0 L304.5 1405.8 L306.5 1406.7 L308.5 1407.6 L310.1 1408.3 L310.5 1408.5 L312.5 1409.6 L314.5 1411.1 L316.5 1412.6 L318.5 1414.1 L320.5 1415.5 L322.5 1416.6 L322.9 1416.8 L324.5 1417.5 L326.5 1418.3 L328.5 1419.0 L330.5 1419.6 L332.5 1420.0 L333.5 1420.0 L334.5 1419.5 L336.5 1416.4 L338.5 1412.4 L339.9 1410.5 L340.5 1410.0 L342.5 1408.7 L344.5 1407.8 L346.5 1407.0 L348.5 1405.8 L350.5 1404.1 L352.5 1399.4 L354.5 1392.0 L356.5 1385.8 L356.9 1385.0 L358.5 1382.5 L360.5 1379.8 L362.5 1377.4 L364.5 1375.3 L366.5 1373.5 L368.5 1372.0 L370.5 1370.7 L371.7 1370.1 L372.5 1369.7 L374.5 1368.9 L376.5 1368.2 L378.5 1367.7 L380.5 1367.1 L382.5 1366.7 L384.5 1366.2 L386.5 1365.7 L388.5 1365.2 L390.5 1364.6 L392.5 1363.9 L393.0 1363.7 L394.5 1363.0 L396.5 1361.9 L398.5 1360.7 L400.5 1359.4 L402.5 1358.1 L404.5 1356.9 L405.7 1356.3 L406.5 1355.9 L408.5 1355.1 L410.5 1354.3 L412.5 1353.6 L414.5 1352.9 L416.5 1352.0 L418.5 1351.0 L420.5 1349.5 L422.5 1347.4 L424.5 1345.1 L426.5 1342.7 L428.5 1340.5 L430.5 1338.8 L432.5 1337.9 L433.3 1337.8 L434.5 1337.9 L436.5 1338.3 L438.5 1339.1 L440.5 1340.2 L442.5 1341.3 L444.5 1342.6 L446.5 1343.7 L448.2 1344.6 L448.5 1344.7 L450.5 1345.8 L452.5 1347.0 L454.5 1348.3 L456.5 1349.6 L458.5 1350.8 L460.5 1351.9 L462.5 1352.9 L464.5 1353.6 L466.5 1354.0 L467.3 1354.1 L468.5 1354.2 L470.5 1354.3 L472.5 1354.4 L474.5 1354.4 L476.5 1354.5 L478.5 1354.6 L480.5 1354.6 L482.5 1354.7 L484.5 1354.7 L486.5 1354.8 L488.5 1354.8 L490.5 1354.8 L492.5 1354.8 L492.8 1354.8 L494.5 1354.7 L496.5 1354.4 L498.5 1353.8 L500.5 1353.2 L502.5 1352.4 L504.5 1351.6 L506.5 1350.7 L508.5 1349.9 L510.5 1349.2 L512.0 1348.8 L512.5 1348.7 L514.5 1348.2 L516.5 1347.8 L518.5 1347.5 L520.5 1347.1 L522.5 1346.8 L524.5 1346.4 L526.5 1346.0 L528.5 1345.4 L530.5 1344.8 L531.1 1344.6 L532.5 1344.0 L534.5 1342.8 L536.5 1341.3 L538.5 1339.5 L540.5 1337.5 L542.5 1335.4 L543.8 1334.0 L544.5 1333.2 L546.5 1330.2 L548.5 1326.8 L550.5 1323.1 L552.5 1319.7 L554.4 1317.0 L554.5 1316.9 L556.5 1314.4 L558.5 1312.0 L560.5 1309.8 L562.5 1307.8 L564.5 1306.1 L566.5 1304.6 L567.2 1304.2 L568.5 1303.5 L570.5 1302.6 L572.5 1301.7 L574.5 1301.0 L576.5 1300.3 L578.5 1299.7 L580.5 1299.1 L582.5 1298.4 L584.2 1297.8 L584.5 1297.7 L586.5 1296.9 L588.5 1296.2 L590.5 1295.5 L592.5 1294.7 L594.5 1294.0 L596.5 1293.2 L598.5 1292.5 L600.5 1291.8 L601.2 1291.5 L602.5 1291.0 L604.5 1290.1 L606.5 1289.1 L608.5 1288.1 L610.5 1287.1 L612.5 1286.3 L614.5 1285.6 L616.5 1285.2 L618.2 1285.1 L618.5 1285.1 L620.5 1285.5 L622.5 1286.3 L624.5 1287.6 L626.5 1289.2 L628.5 1291.1 L630.5 1293.1 L632.5 1295.1 L633.1 1295.7 L634.5 1297.4 L636.5 1300.6 L638.5 1304.3 L640.5 1308.0 L642.5 1311.2 L643.7 1312.7 L644.5 1313.5 L646.5 1315.7 L648.5 1317.7 L650.5 1319.5 L652.5 1321.0 L654.5 1322.0 L656.4 1322.3 L656.5 1322.3 L658.5 1322.2 L660.5 1321.9 L662.5 1321.5 L664.5 1321.0 L666.5 1320.5 L668.5 1319.9 L670.5 1319.3 L671.3 1319.1 L672.5 1318.7 L674.5 1317.9 L676.5 1316.9 L678.5 1316.0 L680.5 1315.2 L682.5 1314.7 L684.1 1314.5 L684.5 1314.5 L686.5 1315.0 L688.5 1315.8 L690.5 1316.9 L692.5 1317.7 L692.7 1317.8 L694.5 1318.4 L696.5 1319.2 L698.5 1319.9 L700.5 1320.6 L702.5 1321.2 L704.5 1321.7 L706.5 1322.0 L707.6 1322.0 L708.5 1321.9 L710.5 1321.5 L712.5 1320.6 L714.5 1319.4 L716.5 1317.9 L718.5 1316.2 L720.5 1314.4 L722.5 1312.5 L724.5 1310.1 L726.5 1306.9 L728.5 1303.2 L730.5 1299.3 L732.5 1295.6 L734.5 1292.2 L735.2 1291.2 L736.5 1289.4 L738.5 1286.9 L740.5 1284.4 L742.5 1282.1 L744.5 1279.9 L746.5 1277.8 L748.0 1276.3 L748.5 1275.8 L750.5 1273.7 L752.5 1271.4 L754.5 1269.3 L756.5 1267.5 L758.5 1266.2 L760.5 1265.7 L760.7 1265.7 L762.5 1265.8 L764.5 1266.2 L766.5 1266.8 L768.5 1267.4 L770.5 1268.0 L772.5 1268.5 L774.5 1268.9 L775.6 1268.9 L776.5 1268.9 L778.5 1268.9 L780.5 1268.9 L782.5 1268.9 L784.5 1268.9 L786.5 1268.9 L788.4 1268.9 L788.5 1268.9 L790.5 1268.2 L792.5 1266.4 L794.5 1264.1 L796.5 1261.5 L798.5 1259.2 L800.5 1257.5 L801.1 1257.2 L802.5 1256.6 L804.5 1255.8 L806.5 1255.1 L808.5 1254.5 L810.5 1254.0 L812.5 1253.6 L813.9 1253.4 L814.5 1253.3 L816.5 1253.1 L818.5 1253.0 L820.5 1252.8 L822.5 1252.7 L824.5 1252.6 L826.5 1252.5 L828.5 1252.5 L828.7 1252.5 L830.5 1253.2 L832.5 1255.5 L834.5 1258.8 L836.5 1262.6 L838.5 1266.4 L839.3 1267.8 L840.5 1270.0 L842.5 1274.4 L844.5 1278.9 L846.5 1282.9 L847.8 1284.8 L848.5 1285.7 L850.5 1288.1 L852.5 1290.3 L854.5 1291.8 L856.3 1292.3 L856.5 1292.3 L858.5 1291.9 L860.5 1291.1 L862.5 1289.9 L864.5 1288.6 L866.5 1287.3 L867.0 1287.0 L868.5 1285.9 L870.5 1284.2 L872.5 1282.3 L874.5 1280.7 L876.5 1279.7 L877.6 1279.5 L878.5 1279.5 L880.5 1279.7 L882.5 1280.0 L884.5 1280.4 L886.5 1280.9 L888.5 1281.5 L890.5 1282.1 L892.5 1282.7 L894.5 1283.3 L896.5 1283.9 L898.5 1284.6 L900.5 1285.5 L902.5 1286.6 L903.1 1287.0 L904.5 1288.5 L906.5 1291.9 L908.5 1295.8 L910.5 1298.8 L911.6 1299.7 L912.5 1300.1 L914.5 1300.8 L916.5 1301.4 L918.5 1301.7 L920.1 1301.8 L920.5 1301.8 L922.5 1301.0 L924.5 1299.4 L926.5 1297.2 L928.5 1294.4 L930.5 1291.5 L930.7 1291.2 L932.5 1287.5 L934.5 1281.9 L936.5 1275.5 L938.5 1269.6 L939.2 1267.8 L940.5 1264.5 L942.5 1258.9 L944.5 1254.0 L946.5 1250.6 L947.7 1249.8 L948.5 1249.7 L950.5 1249.4 L952.5 1249.3 L954.5 1249.2 L956.5 1249.0 L958.5 1248.9 L960.5 1248.7 L962.5 1248.3 L964.5 1247.7 L966.5 1247.1 L968.5 1246.5 L970.5 1246.2 L971.1 1246.2 L972.5 1246.5 L974.5 1247.9 L976.5 1249.9 L978.5 1251.8 L980.5 1253.1 L981.7 1253.4 L982.5 1253.3 L984.5 1252.7 L986.5 1251.5 L988.5 1250.1 L990.2 1248.7 L990.5 1248.4 L992.5 1245.9 L994.5 1242.5 L996.5 1239.0 L998.5 1236.2 L998.7 1236.0 L1000.5 1234.2 L1002.5 1232.5 L1004.5 1231.0 L1006.5 1229.6 L1008.5 1228.1 L1009.3 1227.5 L1010.5 1226.5 L1012.5 1224.5 L1014.5 1222.6 L1016.5 1221.4 L1017.8 1221.1 L1018.5 1221.3 L1020.5 1223.2 L1022.5 1226.6 L1024.2 1229.6 L1024.5 1230.1 L1026.5 1234.8 L1028.5 1240.5 L1030.5 1246.1 L1032.5 1250.5 L1032.7 1250.8 L1034.5 1253.5 L1036.5 1256.3 L1038.5 1258.5 L1040.5 1260.1 L1041.2 1260.4 L1042.5 1260.9 L1044.5 1261.6 L1046.5 1262.1 L1048.5 1262.4 L1049.7 1262.5 L1050.5 1262.4 L1052.5 1261.7 L1054.5 1260.4 L1056.5 1258.7 L1058.5 1256.8 L1060.3 1255.1 L1060.5 1254.9 L1062.5 1252.1 L1064.5 1248.6 L1066.5 1245.4 L1068.5 1243.5 L1068.8 1243.4 L1070.5 1243.0 L1072.5 1242.6 L1074.5 1242.2 L1076.5 1242.0 L1078.5 1241.9 L1079.4 1241.9 L1080.5 1241.9 L1082.5 1242.1 L1084.5 1242.5 L1086.5 1243.1 L1088.5 1243.8 L1090.1 1244.5 L1090.5 1244.8 L1092.5 1248.6 L1094.5 1254.4 L1096.4 1259.3 L1096.5 1259.5 L1098.5 1264.0 L1100.5 1267.8 L1101.7 1268.9 L1102.5 1269.2 L1104.5 1269.7 L1106.5 1270.0 L1107.1 1270.0 L1108.5 1269.3 L1110.5 1266.6 L1112.5 1263.1 L1113.4 1261.5 L1114.5 1259.5 L1116.5 1255.1 L1118.5 1250.6 L1119.8 1248.0 L1120.5 1246.7 L1122.5 1243.4 L1124.5 1240.2 L1126.5 1237.2 L1128.5 1234.1 L1130.5 1230.8 L1130.6 1230.6 L1132.5 1226.6 L1134.5 1221.6 L1136.5 1217.3 L1138.5 1214.9 L1139.1 1214.7 L1140.5 1214.7 L1142.5 1214.8 L1144.5 1214.9 L1146.5 1215.0 L1148.5 1215.3 L1150.5 1215.5 L1151.9 1215.7 L1152.5 1215.9 L1154.5 1217.2 L1156.5 1219.5 L1158.5 1222.1 L1160.5 1224.5 L1162.5 1226.3 L1164.5 1227.6 L1166.5 1228.8 L1168.5 1229.7 L1170.5 1230.2 L1171.0 1230.2 L1172.5 1229.8 L1174.5 1228.4 L1176.5 1226.2 L1178.5 1223.5 L1179.5 1222.1 L1180.5 1220.2 L1182.5 1214.1 L1184.5 1206.8 L1186.5 1200.1 L1188.0 1196.6 L1188.5 1195.8 L1190.5 1192.8 L1192.5 1190.2 L1194.5 1188.1 L1196.5 1186.3 L1198.5 1185.0 L1198.6 1184.9 L1200.5 1183.9 L1202.5 1182.9 L1204.5 1182.1 L1206.5 1181.7 L1207.1 1181.7 L1208.5 1181.9 L1210.5 1182.9 L1212.5 1184.4 L1214.5 1186.2 L1216.5 1188.1 L1217.7 1189.2 L1218.5 1189.9 L1220.5 1191.6 L1222.5 1193.5 L1224.5 1195.6 L1226.5 1198.1 L1228.4 1200.9 L1228.5 1201.1 L1230.5 1205.3 L1232.5 1210.8 L1234.5 1217.2 L1234.7 1217.8 L1236.5 1225.6 L1238.5 1233.8 L1239.0 1234.8 L1240.5 1236.9 L1242.5 1238.8 L1244.3 1239.5 L1244.5 1239.5 L1246.5 1238.7 L1248.5 1236.8 L1250.5 1234.3 L1251.7 1232.7 L1252.5 1231.4 L1254.5 1226.7 L1256.5 1221.3 L1258.1 1217.8 L1258.5 1217.1 L1260.5 1213.8 L1262.5 1210.9 L1264.5 1208.2 L1266.5 1205.6 L1268.5 1203.2 L1268.7 1203.0 L1270.5 1200.6 L1272.5 1197.9 L1274.5 1195.5 L1276.5 1194.2 L1277.2 1194.1 L1278.5 1194.3 L1280.5 1195.5 L1282.5 1197.3 L1284.5 1199.5 L1286.5 1201.7 L1287.8 1203.0 L1288.5 1203.7 L1290.5 1205.7 L1292.5 1207.8 L1294.5 1210.1 L1296.5 1212.4 L1298.5 1214.7 L1300.5 1217.6 L1302.5 1220.8 L1304.5 1223.7 L1306.5 1225.2 L1307.0 1225.3 L1308.5 1225.2 L1310.5 1224.9 L1312.5 1224.4 L1314.5 1223.7 L1315.5 1223.2 L1316.5 1222.0 L1318.5 1216.5 L1320.5 1208.5 L1321.8 1203.0 L1322.5 1199.6 L1324.5 1187.3 L1326.1 1179.6 L1326.5 1178.4 L1328.5 1173.3 L1330.5 1169.5 L1332.5 1166.9 L1334.5 1165.0 L1336.5 1163.2 L1338.5 1161.5 L1340.5 1160.2 L1342.5 1159.1 L1344.5 1158.3 L1346.5 1157.9 L1347.3 1157.9 L1348.5 1158.1 L1350.5 1159.2 L1352.5 1160.9 L1354.5 1163.1 L1356.5 1165.3 L1358.0 1166.9 L1358.5 1167.4 L1360.5 1169.7 L1362.5 1172.2 L1364.5 1174.7 L1366.5 1177.2 L1368.5 1179.5 L1368.6 1179.6 L1370.5 1181.7 L1372.5 1184.1 L1374.5 1186.4 L1376.5 1188.2 L1378.5 1189.1 L1379.2 1189.2 L1380.5 1188.9 L1382.5 1187.6 L1384.5 1185.6 L1386.5 1183.2 L1387.7 1181.7 L1388.5 1180.5 L1390.5 1176.4 L1392.5 1172.2 L1394.1 1170.0 L1394.5 1169.7 L1396.5 1168.2 L1398.5 1166.9 L1400.5 1165.8 L1402.5 1164.9 L1404.5 1164.3 L1406.5 1164.1 L1406.8 1164.1 L1408.5 1164.2 L1410.5 1164.5 L1412.5 1165.1 L1414.5 1165.8 L1416.5 1166.6 L1418.5 1167.4 L1419.6 1167.9 L1420.5 1168.4 L1422.5 1169.8 L1424.5 1171.5 L1426.5 1173.5 L1428.5 1175.3 L1430.5 1176.7 L1432.3 1177.5 L1432.5 1177.6 L1434.5 1178.1 L1436.5 1178.6 L1438.5 1179.0 L1440.5 1179.4 L1442.5 1179.7 L1444.5 1179.9 L1446.5 1180.0 L1447.2 1180.0 L1448.5 1179.8 L1450.5 1179.0 L1452.5 1177.5 L1454.5 1175.7 L1456.5 1173.5 L1456.8 1173.2 L1458.5 1170.0 L1460.5 1164.1 L1462.5 1158.3 L1464.2 1155.2 L1464.5 1154.9 L1466.5 1153.0 L1468.5 1151.3 L1470.5 1149.9 L1472.5 1148.8 L1474.5 1148.0 L1476.5 1147.4 L1476.9 1147.3 L1478.5 1147.0 L1480.5 1146.6 L1482.5 1146.4 L1484.5 1146.1 L1486.5 1146.0 L1487.6 1146.0 L1488.5 1146.1 L1490.5 1146.5 L1492.5 1147.2 L1494.5 1148.0 L1496.5 1148.6 L1498.2 1148.8 L1498.5 1148.8 L1500.5 1148.0 L1502.5 1146.3 L1504.5 1144.1 L1506.5 1141.6 L1508.5 1139.3 L1510.5 1137.4 L1510.9 1137.1 L1512.5 1136.1 L1514.5 1135.0 L1516.5 1134.0 L1518.5 1133.1 L1520.5 1132.1 L1522.5 1131.0 L1523.7 1130.3 L1524.5 1129.7 L1526.5 1128.0 L1528.5 1125.8 L1530.5 1123.6 L1532.5 1121.5 L1534.5 1119.7 L1536.5 1118.5 L1538.5 1118.0 L1540.5 1118.2 L1542.5 1118.6 L1544.5 1119.3 L1546.5 1120.2 L1548.5 1121.1 L1550.5 1122.0 L1552.5 1122.9 L1553.4 1123.3 L1554.5 1123.7 L1556.5 1124.6 L1558.5 1125.5 L1560.0 1126.2 L1560.5 1126.5 L1562.5 1127.8 L1564.5 1129.4 L1566.5 1131.0 L1568.5 1132.1 L1570.5 1132.6 L1570.6 1132.6 L1572.5 1132.1 L1574.5 1130.6 L1576.5 1128.9 L1578.5 1127.2 L1580.5 1126.3 L1581.2 1126.2 L1582.5 1126.4 L1584.5 1127.1 L1586.5 1128.3 L1588.5 1129.6 L1590.5 1130.8 L1591.9 1131.5 L1592.5 1131.7 L1594.5 1132.4 L1596.5 1132.9 L1598.5 1133.5 L1600.5 1134.0 L1602.5 1134.8 L1604.5 1135.7 L1604.6 1135.8 L1606.5 1137.6 L1608.5 1140.5 L1610.5 1144.1 L1612.5 1147.7 L1614.5 1150.8 L1615.2 1151.7 L1616.5 1153.2 L1618.5 1155.6 L1620.5 1157.9 L1622.5 1159.8 L1624.5 1161.0 L1625.9 1161.3 L1626.5 1161.3 L1628.5 1161.2 L1630.5 1161.1 L1632.5 1160.8 L1634.5 1160.5 L1636.5 1160.1 L1638.5 1159.7 L1640.5 1159.2 L1640.7 1159.1 L1642.5 1158.1 L1644.5 1156.1 L1646.5 1153.4 L1648.5 1150.6 L1650.5 1148.0 L1652.5 1146.0 L1653.5 1145.3 L1654.5 1144.8 L1656.5 1144.0 L1658.5 1143.4 L1660.5 1142.8 L1662.5 1142.3 L1664.5 1141.7 L1666.2 1141.1 L1666.5 1141.0 L1668.5 1140.2 L1670.5 1139.3 L1672.5 1138.4 L1674.5 1137.5 L1676.5 1136.5 L1678.5 1135.4 L1680.5 1134.2 L1682.5 1133.0 L1683.2 1132.6 L1684.5 1131.7 L1686.5 1130.2 L1688.5 1128.6 L1690.5 1126.9 L1692.5 1125.0 L1694.5 1123.2 L1696.5 1121.3 L1698.1 1119.8 L1698.5 1119.4 L1700.5 1117.6 L1702.5 1115.7 L1704.5 1113.7 L1706.5 1111.7 L1708.5 1109.7 L1710.5 1107.7 L1712.5 1105.5 L1713.0 1105.0 L1714.5 1103.2 L1716.5 1100.2 L1718.5 1097.1 L1720.5 1094.2 L1722.5 1091.8 L1724.5 1090.4 L1725.7 1090.1 L1726.5 1090.1 L1728.5 1090.4 L1730.5 1091.0 L1732.5 1091.7 L1734.5 1092.7 L1736.5 1093.8 L1738.5 1094.9 L1740.5 1096.1 L1742.5 1097.3 L1744.5 1098.4 L1744.8 1098.6 L1746.5 1099.6 L1748.5 1101.2 L1750.5 1102.9 L1752.5 1104.5 L1754.5 1106.1 L1756.5 1107.3 L1758.5 1108.0 L1759.7 1108.1 L1760.5 1108.1 L1762.5 1108.0 L1764.5 1107.8 L1766.5 1107.5 L1768.5 1107.2 L1770.5 1106.9 L1772.5 1106.6 L1774.5 1106.3 L1776.5 1106.1 L1777.0 1106.0 L1778.5 1105.8 L1780.5 1105.6 L1782.5 1105.4 L1784.5 1105.1 L1786.5 1104.9 L1788.5 1104.7 L1790.5 1104.6 L1792.5 1104.5 L1794.0 1104.5 L1794.5 1104.5 L1796.5 1105.1 L1798.5 1106.2 L1800.5 1107.8 L1802.5 1109.6 L1804.5 1111.6 L1806.0 1113.0 L1806.5 1113.5 L1808.5 1116.0 L1810.5 1119.0 L1812.5 1122.0 L1814.5 1124.6 L1815.2 1125.3 L1816.5 1126.6 L1818.5 1128.6 L1820.5 1130.3 L1822.5 1131.4 L1823.7 1131.6 L1824.5 1131.6 L1826.5 1131.0 L1828.5 1130.1 L1830.5 1128.9 L1832.5 1127.6 L1834.3 1126.4 L1834.5 1126.3 L1836.5 1124.7 L1838.5 1122.7 L1840.5 1120.7 L1842.5 1118.9 L1844.5 1117.7 L1844.9 1117.5 L1846.5 1117.0 L1848.5 1116.4 L1850.5 1115.8 L1852.5 1115.3 L1854.5 1115.0 L1856.5 1114.7 L1858.5 1114.5 L1859.8 1114.5 L1860.5 1114.5 L1862.5 1114.5 L1864.5 1114.6 L1866.5 1114.7 L1868.5 1114.7 L1870.5 1114.9 L1872.5 1115.0 L1874.5 1115.5 L1876.5 1116.5 L1878.5 1117.9 L1880.5 1119.3 L1882.5 1120.7 L1884.5 1121.8 L1886.5 1122.4 L1887.3 1122.5 L1888.5 1122.4 L1890.5 1121.6 L1892.5 1120.4 L1894.5 1118.9 L1896.5 1117.4 L1897.0 1117.0 L1898.5 1115.7 L1900.5 1113.6 L1902.5 1111.3 L1904.5 1108.8 L1906.5 1106.4 L1908.5 1104.2 L1908.6 1104.1 L1910.5 1102.1 L1912.5 1100.0 L1914.5 1098.0 L1916.5 1096.2 L1918.5 1094.9 L1919.3 1094.6 L1920.5 1094.2 L1922.5 1093.5 L1924.5 1093.0 L1926.5 1092.4 L1928.5 1092.0 L1930.5 1091.7 L1932.5 1091.5 L1934.1 1091.5 L1934.5 1091.5 L1936.5 1091.7 L1938.5 1092.1 L1940.5 1092.7 L1942.5 1093.4 L1944.5 1094.1 L1946.5 1094.9 L1946.9 1095.0 L1948.5 1095.7 L1950.5 1096.7 L1952.5 1097.9 L1954.5 1098.8 L1956.5 1099.4 L1957.5 1099.5 L1958.5 1099.3 L1960.5 1097.8 L1962.5 1095.6 L1964.5 1093.5 L1966.0 1092.4 L1966.5 1092.2 L1968.5 1091.3 L1970.5 1090.4 L1972.5 1089.7 L1974.5 1089.1 L1976.5 1088.6 L1978.5 1088.2 L1978.7 1088.2 L1980.5 1087.9 L1982.5 1087.6 L1984.5 1087.4 L1986.5 1087.1 L1988.5 1086.9 L1990.5 1086.8 L1992.5 1086.7 L1993.6 1086.7 L1994.5 1086.7 L1996.5 1087.0 L1998.5 1087.6 L2000.5 1088.3 L2002.5 1089.1 L2004.5 1089.9 L2006.5 1090.7 L2008.4 1091.4 L2008.5 1091.4 L2010.5 1092.2 L2012.5 1093.0 L2014.5 1093.9 L2016.5 1094.7 L2018.5 1095.3 L2020.5 1095.6 L2021.2 1095.6 L2022.5 1095.2 L2024.5 1093.4 L2026.5 1090.8 L2028.5 1088.3 L2029.7 1087.1 L2030.5 1086.4 L2032.5 1084.5 L2034.5 1082.9 L2036.0 1082.5 L2036.5 1082.5 L2038.5 1083.6 L2040.5 1085.7 L2042.5 1088.5 L2044.5 1091.4 L2046.5 1094.9 L2048.5 1099.3 L2050.5 1104.4 L2052.0 1108.4 L2052.5 1109.8 L2054.5 1116.2 L2056.5 1122.9 L2057.3 1125.3 L2058.5 1128.6 L2060.5 1133.8"/>
<path stroke="#ff0000" stroke-width="11.8" stroke-dasharray="49.7 12.05 24.75 12.05" d="M254.5 121.5 L256.5 121.6 L258.5 121.7 L260.5 121.8 L262.5 122.0 L264.5 122.1 L266.5 122.2 L268.5 122.3 L270.5 122.4 L272.5 122.6 L274.5 122.7 L276.5 122.8 L278.5 123.0 L280.5 123.1 L282.5 123.2 L284.5 123.4 L286.5 123.5 L288.5 123.6 L290.5 123.8 L292.5 123.9 L294.5 124.1 L296.5 124.2 L298.5 124.4 L300.5 124.5 L302.5 124.7 L304.5 124.8 L306.5 125.0 L308.5 125.1 L310.5 125.3 L312.5 125.5 L314.5 125.6 L316.5 125.8 L318.5 125.9 L320.5 126.1 L322.5 126.3 L324.5 126.4 L326.5 126.6 L328.5 126.8 L330.5 127.0 L332.5 127.1 L334.5 127.3 L336.5 127.5 L338.5 127.7 L340.5 127.8 L342.5 128.0 L344.5 128.2 L346.5 128.4 L348.5 128.6 L350.5 128.7 L352.5 128.9 L353.3 129.0 L354.5 129.1 L356.5 129.3 L358.5 129.5 L360.5 129.7 L362.5 129.9 L364.5 130.1 L366.5 130.3 L368.5 130.5 L370.5 130.7 L372.5 130.9 L374.5 131.1 L376.5 131.4 L378.5 131.6 L380.5 131.8 L382.5 132.0 L384.5 132.3 L386.5 132.5 L388.5 132.7 L390.5 132.9 L392.5 133.2 L394.5 133.4 L396.5 133.7 L398.5 133.9 L400.5 134.1 L402.5 134.4 L404.5 134.6 L406.5 134.9 L408.5 135.1 L410.5 135.4 L412.5 135.6 L414.5 135.9 L416.5 136.1 L418.5 136.4 L420.5 136.7 L422.5 136.9 L424.5 137.2 L426.5 137.4 L428.5 137.7 L430.5 138.0 L432.5 138.2 L434.5 138.5 L436.5 138.7 L438.5 139.0 L440.5 139.3 L442.5 139.5 L444.5 139.8 L446.5 140.1 L448.5 140.3 L450.5 140.6 L452.5 140.8 L454.5 141.1 L456.5 141.4 L458.5 141.6 L460.5 141.9 L462.5 142.2 L464.5 142.4 L466.5 142.7 L466.6 142.7 L468.5 142.9 L470.5 143.2 L472.5 143.5 L474.5 143.7 L476.5 144.0 L478.5 144.3 L480.5 144.5 L482.5 144.8 L484.5 145.1 L486.5 145.3 L488.5 145.6 L490.5 145.8 L492.5 146.1 L494.5 146.4 L496.5 146.6 L498.5 146.9 L500.5 147.2 L502.5 147.5 L504.5 147.7 L506.5 148.0 L508.5 148.3 L510.5 148.5 L512.5 148.8 L514.5 149.1 L516.5 149.4 L518.5 149.6 L520.5 149.9 L522.5 150.2 L524.5 150.5 L526.5 150.8 L528.5 151.0 L530.5 151.3 L532.5 151.6 L534.5 151.9 L536.5 152.2 L538.5 152.5 L540.5 152.8 L542.5 153.1 L544.5 153.4 L546.5 153.6 L548.5 153.9 L550.5 154.2 L552.5 154.5 L554.5 154.8 L556.5 155.1 L558.5 155.4 L560.5 155.7 L562.5 156.0 L564.5 156.4 L566.5 156.7 L568.5 157.0 L570.5 157.3 L572.5 157.6 L574.5 157.9 L576.5 158.2 L578.5 158.6 L580.0 158.8 L580.5 158.9 L582.5 159.2 L584.5 159.5 L586.5 159.9 L588.5 160.2 L590.5 160.5 L592.5 160.8 L594.5 161.2 L596.5 161.5 L598.5 161.9 L600.5 162.2 L602.5 162.5 L604.5 162.9 L606.5 163.2 L608.5 163.6 L610.5 163.9 L612.5 164.3 L614.5 164.6 L616.5 165.0 L618.5 165.3 L620.5 165.7 L622.5 166.1 L624.5 166.4 L626.5 166.8 L628.5 167.2 L630.5 167.5 L632.5 167.9 L634.5 168.3 L636.5 168.7 L638.5 169.0 L640.5 169.4 L642.5 169.8 L644.5 170.2 L646.5 170.6 L648.5 171.0 L650.5 171.4 L652.5 171.8 L654.5 172.2 L656.5 172.6 L658.5 173.0 L660.5 173.4 L662.5 173.8 L664.5 174.2 L666.5 174.7 L668.5 175.1 L669.0 175.2 L670.5 175.5 L672.5 176.0 L674.5 176.4 L676.5 176.8 L678.5 177.3 L680.5 177.7 L682.5 178.2 L684.5 178.7 L686.5 179.1 L688.5 179.6 L690.5 180.1 L692.5 180.6 L694.5 181.1 L696.5 181.6 L698.5 182.1 L700.5 182.6 L702.5 183.1 L704.5 183.6 L706.5 184.1 L708.5 184.6 L710.5 185.1 L712.5 185.6 L714.5 186.2 L716.5 186.7 L718.5 187.2 L720.5 187.7 L722.5 188.3 L724.5 188.8 L726.5 189.3 L728.5 189.9 L730.5 190.4 L732.5 191.0 L734.5 191.5 L736.5 192.1 L738.5 192.6 L739.2 192.8 L740.5 193.2 L742.5 193.7 L744.5 194.3 L746.5 194.8 L748.5 195.4 L750.5 195.9 L752.5 196.5 L754.5 197.1 L756.5 197.6 L758.5 198.2 L760.5 198.8 L762.5 199.4 L764.5 200.0 L766.5 200.6 L768.5 201.2 L770.5 201.8 L772.5 202.4 L774.5 203.0 L776.5 203.6 L778.5 204.3 L780.5 204.9 L782.5 205.6 L784.5 206.2 L786.5 206.9 L788.5 207.6 L790.5 208.3 L792.5 209.0 L794.5 209.7 L796.5 210.4 L798.5 211.2 L800.5 211.9 L802.5 212.7 L804.5 213.4 L806.5 214.2 L808.5 215.0 L810.5 215.8 L812.5 216.5 L814.5 217.3 L816.5 218.1 L818.5 218.9 L820.2 219.6 L820.5 219.7 L822.5 220.5 L824.5 221.3 L826.5 222.1 L828.5 222.9 L830.5 223.7 L832.5 224.6 L834.5 225.4 L836.5 226.2 L838.5 227.0 L840.5 227.9 L842.5 228.7 L844.5 229.5 L846.5 230.4 L848.5 231.2 L850.5 232.1 L852.5 232.9 L854.5 233.8 L856.5 234.7 L858.5 235.5 L860.5 236.4 L862.5 237.3 L864.5 238.2 L866.5 239.1 L868.5 240.0 L870.5 240.9 L872.5 241.8 L874.5 242.7 L876.1 243.4 L876.5 243.6 L878.5 244.5 L880.5 245.4 L882.5 246.3 L884.5 247.3 L886.5 248.2 L888.5 249.1 L890.5 250.1 L892.5 251.1 L894.5 252.0 L896.5 253.0 L898.5 254.0 L900.5 255.0 L902.5 256.0 L904.5 257.0 L906.5 258.1 L908.5 259.1 L909.8 259.8 L910.5 260.2 L912.5 261.3 L914.5 262.4 L916.5 263.5 L918.5 264.6 L920.5 265.7 L922.5 266.9 L924.5 268.0 L926.5 269.2 L928.5 270.4 L930.5 271.5 L932.5 272.7 L934.5 273.9 L936.5 275.2 L938.5 276.4 L940.5 277.6 L942.5 278.9 L944.5 280.1 L946.5 281.4 L948.5 282.7 L950.5 284.0 L952.5 285.3 L954.5 286.6 L956.5 287.9 L958.5 289.2 L960.5 290.5 L960.8 290.7 L962.5 291.8 L964.5 293.2 L966.5 294.6 L968.5 296.0 L970.5 297.4 L972.5 298.8 L974.5 300.2 L976.5 301.7 L978.5 303.2 L980.5 304.7 L982.5 306.2 L984.5 307.7 L985.2 308.2 L986.5 309.2 L988.5 310.7 L990.5 312.2 L992.5 313.7 L994.5 315.3 L996.5 316.8 L998.5 318.3 L1000.5 319.9 L1002.5 321.4 L1004.5 323.0 L1006.5 324.6 L1008.5 326.2 L1010.5 327.9 L1012.5 329.6 L1014.5 331.2 L1016.5 333.0 L1018.5 334.7 L1020.5 336.5 L1022.5 338.3 L1023.0 338.8 L1024.5 340.2 L1026.5 342.1 L1028.5 344.1 L1030.5 346.1 L1032.5 348.2 L1034.5 350.3 L1036.5 352.5 L1038.5 354.7 L1040.5 356.9 L1042.5 359.1 L1044.5 361.4 L1046.5 363.6 L1048.5 365.9 L1050.5 368.1 L1052.5 370.4 L1054.5 372.6 L1056.5 374.8 L1058.0 376.5 L1058.5 377.0 L1060.5 379.2 L1062.5 381.4 L1064.5 383.6 L1066.5 385.7 L1068.5 387.9 L1070.5 390.1 L1072.5 392.2 L1074.5 394.4 L1076.5 396.7 L1078.5 398.9 L1080.5 401.2 L1082.5 403.5 L1084.5 405.9 L1086.5 408.3 L1088.5 410.8 L1090.5 413.3 L1092.5 415.9 L1094.5 418.4 L1096.5 421.1 L1098.5 423.7 L1100.5 426.4 L1102.5 429.2 L1104.5 432.0 L1106.5 434.8 L1108.5 437.7 L1110.5 440.7 L1112.5 443.8 L1114.5 447.0 L1116.5 450.2 L1117.3 451.5 L1118.5 453.5 L1120.5 457.0 L1122.5 460.7 L1124.5 464.5 L1126.5 468.4 L1128.5 472.4 L1130.5 476.4 L1132.5 480.5 L1134.5 484.7 L1136.5 488.8 L1138.5 492.9 L1140.0 496.0 L1140.5 497.0 L1142.5 501.1 L1144.5 505.2 L1146.5 509.2 L1148.5 513.4 L1150.5 517.5 L1152.5 521.7 L1154.5 526.0 L1156.5 530.4 L1158.5 534.8 L1160.5 539.3 L1161.0 540.5 L1162.5 544.0 L1164.5 548.7 L1166.5 553.4 L1168.5 558.3 L1170.5 563.3 L1172.5 568.4 L1174.5 573.7 L1176.5 579.2 L1178.5 584.8 L1178.7 585.4 L1180.5 590.8 L1182.5 597.0 L1184.5 603.5 L1186.5 610.3 L1188.5 617.2 L1190.5 624.3 L1192.5 631.5 L1192.8 632.6 L1194.5 638.9 L1196.5 646.4 L1198.5 654.2 L1200.5 662.2 L1202.5 670.3 L1204.5 678.7 L1204.7 679.5 L1206.5 687.3 L1208.5 696.3 L1210.5 705.6 L1212.5 714.8 L1214.5 724.0 L1215.7 729.3 L1216.5 732.8 L1218.5 741.4 L1220.5 749.8 L1222.5 758.2 L1224.5 766.7 L1226.5 775.3 L1226.9 777.0 L1228.5 784.6 L1230.5 794.5 L1232.4 801.6 L1232.5 801.9 L1234.5 806.5 L1236.5 810.0 L1238.5 813.5 L1240.5 815.5 L1240.6 815.5 L1242.5 813.4 L1244.5 809.5 L1246.5 806.4 L1248.5 803.0 L1250.5 798.8 L1250.8 798.0 L1252.5 791.8 L1254.5 781.8 L1256.5 772.0 L1258.5 763.9 L1260.5 756.4 L1262.5 748.8 L1264.5 740.2 L1264.8 738.8 L1266.5 729.7 L1268.5 718.1 L1269.3 713.7 L1270.5 707.5 L1272.5 697.4 L1274.3 689.3 L1274.5 688.5 L1276.5 681.0 L1278.5 673.9 L1279.2 671.2 L1280.5 665.6 L1282.5 656.1 L1284.5 646.6 L1286.1 639.7 L1286.5 638.1 L1288.5 630.5 L1290.5 623.4 L1292.5 616.6 L1294.5 609.9 L1295.5 606.6 L1296.5 603.3 L1298.5 596.7 L1300.5 590.3 L1302.5 584.1 L1304.5 578.1 L1306.1 573.6 L1306.5 572.5 L1308.5 567.2 L1310.5 562.0 L1312.5 557.0 L1314.5 552.2 L1316.5 547.5 L1318.5 542.9 L1320.5 538.4 L1322.5 533.9 L1323.8 531.1 L1324.5 529.6 L1326.5 525.3 L1328.5 521.2 L1330.5 517.2 L1332.5 513.2 L1334.5 509.3 L1336.5 505.5 L1338.5 501.7 L1340.4 498.0 L1340.5 497.8 L1342.5 494.0 L1344.5 490.2 L1346.5 486.4 L1348.5 482.6 L1350.5 478.9 L1352.5 475.3 L1354.5 471.6 L1356.5 468.0 L1356.9 467.3 L1358.5 464.4 L1360.5 460.9 L1362.5 457.4 L1364.5 453.9 L1366.5 450.5 L1368.5 447.1 L1370.5 443.7 L1372.5 440.4 L1373.4 439.0 L1374.5 437.2 L1376.5 434.0 L1378.5 430.8 L1380.5 427.6 L1382.5 424.5 L1384.5 421.5 L1386.5 418.5 L1388.5 415.7 L1390.5 413.0 L1392.3 410.7 L1392.5 410.5 L1394.5 408.1 L1396.5 405.8 L1398.5 403.7 L1400.5 401.6 L1402.5 399.7 L1404.5 397.7 L1406.5 395.7 L1408.5 393.8 L1410.5 391.7 L1411.8 390.4 L1412.5 389.7 L1414.5 387.6 L1416.5 385.4 L1418.5 383.3 L1420.5 381.2 L1422.5 379.0 L1424.5 376.9 L1426.5 374.8 L1428.5 372.6 L1430.5 370.6 L1432.5 368.5 L1434.5 366.5 L1436.5 364.5 L1437.8 363.2 L1438.5 362.5 L1440.5 360.6 L1442.5 358.7 L1444.5 356.8 L1446.5 354.9 L1448.5 353.0 L1450.5 351.2 L1452.5 349.3 L1454.5 347.5 L1456.5 345.7 L1458.5 343.9 L1460.5 342.1 L1462.5 340.4 L1464.5 338.7 L1466.5 337.0 L1468.5 335.3 L1470.5 333.6 L1472.5 332.0 L1473.2 331.4 L1474.5 330.3 L1476.5 328.7 L1478.5 327.2 L1480.5 325.6 L1482.5 324.0 L1484.5 322.5 L1486.5 320.9 L1488.5 319.4 L1490.5 317.9 L1492.5 316.4 L1494.5 315.0 L1496.5 313.5 L1498.5 312.1 L1500.5 310.6 L1502.5 309.2 L1504.5 307.8 L1506.5 306.4 L1508.5 305.0 L1510.5 303.7 L1512.5 302.3 L1513.3 301.8 L1514.5 301.0 L1516.5 299.7 L1518.5 298.4 L1520.5 297.0 L1522.5 295.7 L1524.5 294.5 L1526.5 293.2 L1528.5 291.9 L1530.5 290.6 L1532.5 289.4 L1534.5 288.2 L1536.5 286.9 L1538.5 285.7 L1540.5 284.5 L1542.5 283.4 L1544.5 282.2 L1546.5 281.0 L1548.5 279.9 L1550.5 278.8 L1552.5 277.7 L1554.5 276.6 L1555.8 275.9 L1556.5 275.5 L1558.5 274.5 L1560.5 273.4 L1562.5 272.4 L1564.5 271.4 L1566.5 270.4 L1568.5 269.4 L1570.5 268.5 L1572.5 267.5 L1574.5 266.6 L1576.5 265.6 L1578.5 264.7 L1580.5 263.8 L1582.5 262.9 L1584.5 262.0 L1586.5 261.1 L1588.5 260.2 L1590.5 259.2 L1592.5 258.3 L1594.5 257.4 L1596.5 256.5 L1598.5 255.6 L1600.5 254.7 L1600.7 254.6 L1602.5 253.8 L1604.5 252.8 L1606.5 251.9 L1608.5 251.0 L1610.5 250.1 L1612.5 249.1 L1614.5 248.2 L1616.5 247.3 L1618.5 246.4 L1620.5 245.5 L1622.5 244.6 L1624.5 243.7 L1626.5 242.8 L1628.5 241.9 L1630.5 241.0 L1632.5 240.1 L1634.5 239.2 L1636.5 238.4 L1638.5 237.5 L1640.5 236.7 L1642.5 235.8 L1644.5 235.0 L1645.5 234.6 L1646.5 234.2 L1648.5 233.4 L1650.5 232.6 L1652.5 231.8 L1654.5 231.0 L1656.5 230.2 L1658.5 229.5 L1660.5 228.7 L1662.5 227.9 L1664.5 227.2 L1666.5 226.4 L1668.5 225.7 L1670.5 224.9 L1672.5 224.2 L1674.5 223.5 L1676.5 222.8 L1678.5 222.1 L1680.5 221.4 L1682.5 220.7 L1684.5 220.0 L1686.5 219.3 L1688.5 218.6 L1690.4 218.0 L1690.5 218.0 L1692.5 217.3 L1694.5 216.7 L1696.5 216.0 L1698.5 215.4 L1700.5 214.8 L1702.5 214.2 L1704.5 213.6 L1706.5 213.0 L1708.5 212.4 L1710.5 211.8 L1712.5 211.2 L1714.5 210.6 L1716.5 210.0 L1718.5 209.4 L1720.5 208.9 L1722.5 208.3 L1724.5 207.7 L1726.5 207.2 L1728.5 206.6 L1730.5 206.0 L1732.5 205.5 L1734.5 204.9 L1736.5 204.3 L1737.6 204.0 L1738.5 203.7 L1740.5 203.2 L1742.5 202.6 L1744.5 202.0 L1746.5 201.5 L1748.5 200.9 L1750.5 200.3 L1752.5 199.8 L1754.5 199.2 L1756.5 198.6 L1758.5 198.1 L1760.5 197.5 L1762.5 197.0 L1764.5 196.4 L1766.5 195.9 L1768.5 195.3 L1770.5 194.8 L1772.5 194.2 L1774.5 193.7 L1776.5 193.2 L1778.5 192.6 L1780.5 192.1 L1782.5 191.6 L1784.5 191.1 L1784.8 191.0 L1786.5 190.6 L1788.5 190.1 L1790.5 189.5 L1792.5 189.0 L1794.5 188.5 L1796.5 188.0 L1798.5 187.5 L1800.5 187.0 L1802.5 186.5 L1804.5 186.0 L1806.5 185.6 L1808.5 185.1 L1810.5 184.6 L1812.5 184.1 L1814.5 183.6 L1816.5 183.2 L1818.5 182.7 L1820.5 182.2 L1822.5 181.8 L1824.5 181.3 L1826.5 180.9 L1828.5 180.5 L1830.5 180.0 L1832.5 179.6 L1834.4 179.2 L1834.5 179.2 L1836.5 178.8 L1838.5 178.4 L1840.5 178.0 L1842.5 177.6 L1844.5 177.2 L1846.5 176.8 L1848.5 176.4 L1850.5 176.0 L1852.5 175.6 L1854.5 175.3 L1856.5 174.9 L1858.5 174.5 L1860.5 174.2 L1862.5 173.8 L1864.5 173.5 L1866.5 173.1 L1868.5 172.8 L1870.5 172.4 L1872.5 172.1 L1874.5 171.7 L1876.5 171.4 L1878.5 171.0 L1880.5 170.7 L1881.6 170.5 L1882.5 170.3 L1884.5 170.0 L1886.5 169.7 L1888.5 169.4 L1890.5 169.0 L1892.5 168.7 L1894.5 168.4 L1896.5 168.1 L1898.5 167.7 L1900.0 167.5 L1900.5 167.4 L1902.5 167.1 L1904.5 166.8 L1906.5 166.4 L1908.5 166.1 L1910.5 165.8 L1912.5 165.5 L1914.5 165.1 L1916.5 164.8 L1918.5 164.5 L1920.5 164.2 L1922.5 163.8 L1924.5 163.5 L1926.5 163.2 L1928.5 162.9 L1930.5 162.5 L1932.5 162.2 L1934.5 161.9 L1936.5 161.6 L1938.5 161.3 L1940.5 161.0 L1942.5 160.6 L1944.5 160.3 L1946.5 160.0 L1948.5 159.7 L1950.0 159.5 L1950.5 159.4 L1952.5 159.1 L1954.5 158.8 L1956.5 158.5 L1958.5 158.3 L1960.5 158.0 L1962.5 157.7 L1964.5 157.4 L1966.5 157.1 L1968.5 156.8 L1970.5 156.5 L1972.5 156.3 L1974.5 156.0 L1976.5 155.7 L1978.5 155.4 L1980.5 155.2 L1982.5 154.9 L1984.5 154.6 L1986.5 154.3 L1988.5 154.1 L1990.5 153.8 L1992.5 153.5 L1994.5 153.2 L1996.5 153.0 L1998.5 152.7 L2000.0 152.5 L2000.5 152.4 L2002.5 152.2 L2004.5 151.9 L2006.5 151.6 L2008.5 151.3 L2010.5 151.1 L2012.5 150.8 L2014.5 150.5 L2016.5 150.3 L2018.5 150.0 L2020.5 149.7 L2022.5 149.5 L2024.5 149.2 L2026.5 148.9 L2028.5 148.7 L2030.5 148.4 L2032.5 148.1 L2034.5 147.9 L2036.5 147.6 L2038.5 147.4 L2040.5 147.1 L2042.5 146.8 L2044.5 146.6 L2046.5 146.3 L2048.5 146.0 L2050.5 145.8 L2052.5 145.5 L2054.5 145.3 L2056.5 145.0 L2058.5 144.8 L2060.5 144.5"/>
<path stroke="#ff0000" stroke-width="13.2" shape-rendering="crispEdges" stroke-dasharray="49.7 12.05 24.75 12.05" d="M254.5 121.5 L256.5 121.6 L258.5 121.7 L260.5 121.8 L262.5 122.0 L264.5 122.1 L266.5 122.2 L268.5 122.3 L270.5 122.4 L272.5 122.6 L274.5 122.7 L276.5 122.8 L278.5 123.0 L280.5 123.1 L282.5 123.2 L284.5 123.4 L286.5 123.5 L288.5 123.6 L290.5 123.8 L292.5 123.9 L294.5 124.1 L296.5 124.2 L298.5 124.4 L300.5 124.5 L302.5 124.7 L304.5 124.8 L306.5 125.0 L308.5 125.1 L310.5 125.3 L312.5 125.5 L314.5 125.6 L316.5 125.8 L318.5 125.9 L320.5 126.1 L322.5 126.3 L324.5 126.4 L326.5 126.6 L328.5 126.8 L330.5 127.0 L332.5 127.1 L334.5 127.3 L336.5 127.5 L338.5 127.7 L340.5 127.8 L342.5 128.0 L344.5 128.2 L346.5 128.4 L348.5 128.6 L350.5 128.7 L352.5 128.9 L353.3 129.0 L354.5 129.1 L356.5 129.3 L358.5 129.5 L360.5 129.7 L362.5 129.9 L364.5 130.1 L366.5 130.3 L368.5 130.5 L370.5 130.7 L372.5 130.9 L374.5 131.1 L376.5 131.4 L378.5 131.6 L380.5 131.8 L382.5 132.0 L384.5 132.3 L386.5 132.5 L388.5 132.7 L390.5 132.9 L392.5 133.2 L394.5 133.4 L396.5 133.7 L398.5 133.9 L400.5 134.1 L402.5 134.4 L404.5 134.6 L406.5 134.9 L408.5 135.1 L410.5 135.4 L412.5 135.6 L414.5 135.9 L416.5 136.1 L418.5 136.4 L420.5 136.7 L422.5 136.9 L424.5 137.2 L426.5 137.4 L428.5 137.7 L430.5 138.0 L432.5 138.2 L434.5 138.5 L436.5 138.7 L438.5 139.0 L440.5 139.3 L442.5 139.5 L444.5 139.8 L446.5 140.1 L448.5 140.3 L450.5 140.6 L452.5 140.8 L454.5 141.1 L456.5 141.4 L458.5 141.6 L460.5 141.9 L462.5 142.2 L464.5 142.4 L466.5 142.7 L466.6 142.7 L468.5 142.9 L470.5 143.2 L472.5 143.5 L474.5 143.7 L476.5 144.0 L478.5 144.3 L480.5 144.5 L482.5 144.8 L484.5 145.1 L486.5 145.3 L488.5 145.6 L490.5 145.8 L492.5 146.1 L494.5 146.4 L496.5 146.6 L498.5 146.9 L500.5 147.2 L502.5 147.5 L504.5 147.7 L506.5 148.0 L508.5 148.3 L510.5 148.5 L512.5 148.8 L514.5 149.1 L516.5 149.4 L518.5 149.6 L520.5 149.9 L522.5 150.2 L524.5 150.5 L526.5 150.8 L528.5 151.0 L530.5 151.3 L532.5 151.6 L534.5 151.9 L536.5 152.2 L538.5 152.5 L540.5 152.8 L542.5 153.1 L544.5 153.4 L546.5 153.6 L548.5 153.9 L550.5 154.2 L552.5 154.5 L554.5 154.8 L556.5 155.1 L558.5 155.4 L560.5 155.7 L562.5 156.0 L564.5 156.4 L566.5 156.7 L568.5 157.0 L570.5 157.3 L572.5 157.6 L574.5 157.9 L576.5 158.2 L578.5 158.6 L580.0 158.8 L580.5 158.9 L582.5 159.2 L584.5 159.5 L586.5 159.9 L588.5 160.2 L590.5 160.5 L592.5 160.8 L594.5 161.2 L596.5 161.5 L598.5 161.9 L600.5 162.2 L602.5 162.5 L604.5 162.9 L606.5 163.2 L608.5 163.6 L610.5 163.9 L612.5 164.3 L614.5 164.6 L616.5 165.0 L618.5 165.3 L620.5 165.7 L622.5 166.1 L624.5 166.4 L626.5 166.8 L628.5 167.2 L630.5 167.5 L632.5 167.9 L634.5 168.3 L636.5 168.7 L638.5 169.0 L640.5 169.4 L642.5 169.8 L644.5 170.2 L646.5 170.6 L648.5 171.0 L650.5 171.4 L652.5 171.8 L654.5 172.2 L656.5 172.6 L658.5 173.0 L660.5 173.4 L662.5 173.8 L664.5 174.2 L666.5 174.7 L668.5 175.1 L669.0 175.2 L670.5 175.5 L672.5 176.0 L674.5 176.4 L676.5 176.8 L678.5 177.3 L680.5 177.7 L682.5 178.2 L684.5 178.7 L686.5 179.1 L688.5 179.6 L690.5 180.1 L692.5 180.6 L694.5 181.1 L696.5 181.6 L698.5 182.1 L700.5 182.6 L702.5 183.1 L704.5 183.6 L706.5 184.1 L708.5 184.6 L710.5 185.1 L712.5 185.6 L714.5 186.2 L716.5 186.7 L718.5 187.2 L720.5 187.7 L722.5 188.3 L724.5 188.8 L726.5 189.3 L728.5 189.9 L730.5 190.4 L732.5 191.0 L734.5 191.5 L736.5 192.1 L738.5 192.6 L739.2 192.8 L740.5 193.2 L742.5 193.7 L744.5 194.3 L746.5 194.8 L748.5 195.4 L750.5 195.9 L752.5 196.5 L754.5 197.1 L756.5 197.6 L758.5 198.2 L760.5 198.8 L762.5 199.4 L764.5 200.0 L766.5 200.6 L768.5 201.2 L770.5 201.8 L772.5 202.4 L774.5 203.0 L776.5 203.6 L778.5 204.3 L780.5 204.9 L782.5 205.6 L784.5 206.2 L786.5 206.9 L788.5 207.6 L790.5 208.3 L792.5 209.0 L794.5 209.7 L796.5 210.4 L798.5 211.2 L800.5 211.9 L802.5 212.7 L804.5 213.4 L806.5 214.2 L808.5 215.0 L810.5 215.8 L812.5 216.5 L814.5 217.3 L816.5 218.1 L818.5 218.9 L820.2 219.6 L820.5 219.7 L822.5 220.5 L824.5 221.3 L826.5 222.1 L828.5 222.9 L830.5 223.7 L832.5 224.6 L834.5 225.4 L836.5 226.2 L838.5 227.0 L840.5 227.9 L842.5 228.7 L844.5 229.5 L846.5 230.4 L848.5 231.2 L850.5 232.1 L852.5 232.9 L854.5 233.8 L856.5 234.7 L858.5 235.5 L860.5 236.4 L862.5 237.3 L864.5 238.2 L866.5 239.1 L868.5 240.0 L870.5 240.9 L872.5 241.8 L874.5 242.7 L876.1 243.4 L876.5 243.6 L878.5 244.5 L880.5 245.4 L882.5 246.3 L884.5 247.3 L886.5 248.2 L888.5 249.1 L890.5 250.1 L892.5 251.1 L894.5 252.0 L896.5 253.0 L898.5 254.0 L900.5 255.0 L902.5 256.0 L904.5 257.0 L906.5 258.1 L908.5 259.1 L909.8 259.8 L910.5 260.2 L912.5 261.3 L914.5 262.4 L916.5 263.5 L918.5 264.6 L920.5 265.7 L922.5 266.9 L924.5 268.0 L926.5 269.2 L928.5 270.4 L930.5 271.5 L932.5 272.7 L934.5 273.9 L936.5 275.2 L938.5 276.4 L940.5 277.6 L942.5 278.9 L944.5 280.1 L946.5 281.4 L948.5 282.7 L950.5 284.0 L952.5 285.3 L954.5 286.6 L956.5 287.9 L958.5 289.2 L960.5 290.5 L960.8 290.7 L962.5 291.8 L964.5 293.2 L966.5 294.6 L968.5 296.0 L970.5 297.4 L972.5 298.8 L974.5 300.2 L976.5 301.7 L978.5 303.2 L980.5 304.7 L982.5 306.2 L984.5 307.7 L985.2 308.2 L986.5 309.2 L988.5 310.7 L990.5 312.2 L992.5 313.7 L994.5 315.3 L996.5 316.8 L998.5 318.3 L1000.5 319.9 L1002.5 321.4 L1004.5 323.0 L1006.5 324.6 L1008.5 326.2 L1010.5 327.9 L1012.5 329.6 L1014.5 331.2 L1016.5 333.0 L1018.5 334.7 L1020.5 336.5 L1022.5 338.3 L1023.0 338.8 L1024.5 340.2 L1026.5 342.1 L1028.5 344.1 L1030.5 346.1 L1032.5 348.2 L1034.5 350.3 L1036.5 352.5 L1038.5 354.7 L1040.5 356.9 L1042.5 359.1 L1044.5 361.4 L1046.5 363.6 L1048.5 365.9 L1050.5 368.1 L1052.5 370.4 L1054.5 372.6 L1056.5 374.8 L1058.0 376.5 L1058.5 377.0 L1060.5 379.2 L1062.5 381.4 L1064.5 383.6 L1066.5 385.7 L1068.5 387.9 L1070.5 390.1 L1072.5 392.2 L1074.5 394.4 L1076.5 396.7 L1078.5 398.9 L1080.5 401.2 L1082.5 403.5 L1084.5 405.9 L1086.5 408.3 L1088.5 410.8 L1090.5 413.3 L1092.5 415.9 L1094.5 418.4 L1096.5 421.1 L1098.5 423.7 L1100.5 426.4 L1102.5 429.2 L1104.5 432.0 L1106.5 434.8 L1108.5 437.7 L1110.5 440.7 L1112.5 443.8 L1114.5 447.0 L1116.5 450.2 L1117.3 451.5 L1118.5 453.5 L1120.5 457.0 L1122.5 460.7 L1124.5 464.5 L1126.5 468.4 L1128.5 472.4 L1130.5 476.4 L1132.5 480.5 L1134.5 484.7 L1136.5 488.8 L1138.5 492.9 L1140.0 496.0 L1140.5 497.0 L1142.5 501.1 L1144.5 505.2 L1146.5 509.2 L1148.5 513.4 L1150.5 517.5 L1152.5 521.7 L1154.5 526.0 L1156.5 530.4 L1158.5 534.8 L1160.5 539.3 L1161.0 540.5 L1162.5 544.0 L1164.5 548.7 L1166.5 553.4 L1168.5 558.3 L1170.5 563.3 L1172.5 568.4 L1174.5 573.7 L1176.5 579.2 L1178.5 584.8 L1178.7 585.4 L1180.5 590.8 L1182.5 597.0 L1184.5 603.5 L1186.5 610.3 L1188.5 617.2 L1190.5 624.3 L1192.5 631.5 L1192.8 632.6 L1194.5 638.9 L1196.5 646.4 L1198.5 654.2 L1200.5 662.2 L1202.5 670.3 L1204.5 678.7 L1204.7 679.5 L1206.5 687.3 L1208.5 696.3 L1210.5 705.6 L1212.5 714.8 L1214.5 724.0 L1215.7 729.3 L1216.5 732.8 L1218.5 741.4 L1220.5 749.8 L1222.5 758.2 L1224.5 766.7 L1226.5 775.3 L1226.9 777.0 L1228.5 784.6 L1230.5 794.5 L1232.4 801.6 L1232.5 801.9 L1234.5 806.5 L1236.5 810.0 L1238.5 813.5 L1240.5 815.5 L1240.6 815.5 L1242.5 813.4 L1244.5 809.5 L1246.5 806.4 L1248.5 803.0 L1250.5 798.8 L1250.8 798.0 L1252.5 791.8 L1254.5 781.8 L1256.5 772.0 L1258.5 763.9 L1260.5 756.4 L1262.5 748.8 L1264.5 740.2 L1264.8 738.8 L1266.5 729.7 L1268.5 718.1 L1269.3 713.7 L1270.5 707.5 L1272.5 697.4 L1274.3 689.3 L1274.5 688.5 L1276.5 681.0 L1278.5 673.9 L1279.2 671.2 L1280.5 665.6 L1282.5 656.1 L1284.5 646.6 L1286.1 639.7 L1286.5 638.1 L1288.5 630.5 L1290.5 623.4 L1292.5 616.6 L1294.5 609.9 L1295.5 606.6 L1296.5 603.3 L1298.5 596.7 L1300.5 590.3 L1302.5 584.1 L1304.5 578.1 L1306.1 573.6 L1306.5 572.5 L1308.5 567.2 L1310.5 562.0 L1312.5 557.0 L1314.5 552.2 L1316.5 547.5 L1318.5 542.9 L1320.5 538.4 L1322.5 533.9 L1323.8 531.1 L1324.5 529.6 L1326.5 525.3 L1328.5 521.2 L1330.5 517.2 L1332.5 513.2 L1334.5 509.3 L1336.5 505.5 L1338.5 501.7 L1340.4 498.0 L1340.5 497.8 L1342.5 494.0 L1344.5 490.2 L1346.5 486.4 L1348.5 482.6 L1350.5 478.9 L1352.5 475.3 L1354.5 471.6 L1356.5 468.0 L1356.9 467.3 L1358.5 464.4 L1360.5 460.9 L1362.5 457.4 L1364.5 453.9 L1366.5 450.5 L1368.5 447.1 L1370.5 443.7 L1372.5 440.4 L1373.4 439.0 L1374.5 437.2 L1376.5 434.0 L1378.5 430.8 L1380.5 427.6 L1382.5 424.5 L1384.5 421.5 L1386.5 418.5 L1388.5 415.7 L1390.5 413.0 L1392.3 410.7 L1392.5 410.5 L1394.5 408.1 L1396.5 405.8 L1398.5 403.7 L1400.5 401.6 L1402.5 399.7 L1404.5 397.7 L1406.5 395.7 L1408.5 393.8 L1410.5 391.7 L1411.8 390.4 L1412.5 389.7 L1414.5 387.6 L1416.5 385.4 L1418.5 383.3 L1420.5 381.2 L1422.5 379.0 L1424.5 376.9 L1426.5 374.8 L1428.5 372.6 L1430.5 370.6 L1432.5 368.5 L1434.5 366.5 L1436.5 364.5 L1437.8 363.2 L1438.5 362.5 L1440.5 360.6 L1442.5 358.7 L1444.5 356.8 L1446.5 354.9 L1448.5 353.0 L1450.5 351.2 L1452.5 349.3 L1454.5 347.5 L1456.5 345.7 L1458.5 343.9 L1460.5 342.1 L1462.5 340.4 L1464.5 338.7 L1466.5 337.0 L1468.5 335.3 L1470.5 333.6 L1472.5 332.0 L1473.2 331.4 L1474.5 330.3 L1476.5 328.7 L1478.5 327.2 L1480.5 325.6 L1482.5 324.0 L1484.5 322.5 L1486.5 320.9 L1488.5 319.4 L1490.5 317.9 L1492.5 316.4 L1494.5 315.0 L1496.5 313.5 L1498.5 312.1 L1500.5 310.6 L1502.5 309.2 L1504.5 307.8 L1506.5 306.4 L1508.5 305.0 L1510.5 303.7 L1512.5 302.3 L1513.3 301.8 L1514.5 301.0 L1516.5 299.7 L1518.5 298.4 L1520.5 297.0 L1522.5 295.7 L1524.5 294.5 L1526.5 293.2 L1528.5 291.9 L1530.5 290.6 L1532.5 289.4 L1534.5 288.2 L1536.5 286.9 L1538.5 285.7 L1540.5 284.5 L1542.5 283.4 L1544.5 282.2 L1546.5 281.0 L1548.5 279.9 L1550.5 278.8 L1552.5 277.7 L1554.5 276.6 L1555.8 275.9 L1556.5 275.5 L1558.5 274.5 L1560.5 273.4 L1562.5 272.4 L1564.5 271.4 L1566.5 270.4 L1568.5 269.4 L1570.5 268.5 L1572.5 267.5 L1574.5 266.6 L1576.5 265.6 L1578.5 264.7 L1580.5 263.8 L1582.5 262.9 L1584.5 262.0 L1586.5 261.1 L1588.5 260.2 L1590.5 259.2 L1592.5 258.3 L1594.5 257.4 L1596.5 256.5 L1598.5 255.6 L1600.5 254.7 L1600.7 254.6 L1602.5 253.8 L1604.5 252.8 L1606.5 251.9 L1608.5 251.0 L1610.5 250.1 L1612.5 249.1 L1614.5 248.2 L1616.5 247.3 L1618.5 246.4 L1620.5 245.5 L1622.5 244.6 L1624.5 243.7 L1626.5 242.8 L1628.5 241.9 L1630.5 241.0 L1632.5 240.1 L1634.5 239.2 L1636.5 238.4 L1638.5 237.5 L1640.5 236.7 L1642.5 235.8 L1644.5 235.0 L1645.5 234.6 L1646.5 234.2 L1648.5 233.4 L1650.5 232.6 L1652.5 231.8 L1654.5 231.0 L1656.5 230.2 L1658.5 229.5 L1660.5 228.7 L1662.5 227.9 L1664.5 227.2 L1666.5 226.4 L1668.5 225.7 L1670.5 224.9 L1672.5 224.2 L1674.5 223.5 L1676.5 222.8 L1678.5 222.1 L1680.5 221.4 L1682.5 220.7 L1684.5 220.0 L1686.5 219.3 L1688.5 218.6 L1690.4 218.0 L1690.5 218.0 L1692.5 217.3 L1694.5 216.7 L1696.5 216.0 L1698.5 215.4 L1700.5 214.8 L1702.5 214.2 L1704.5 213.6 L1706.5 213.0 L1708.5 212.4 L1710.5 211.8 L1712.5 211.2 L1714.5 210.6 L1716.5 210.0 L1718.5 209.4 L1720.5 208.9 L1722.5 208.3 L1724.5 207.7 L1726.5 207.2 L1728.5 206.6 L1730.5 206.0 L1732.5 205.5 L1734.5 204.9 L1736.5 204.3 L1737.6 204.0 L1738.5 203.7 L1740.5 203.2 L1742.5 202.6 L1744.5 202.0 L1746.5 201.5 L1748.5 200.9 L1750.5 200.3 L1752.5 199.8 L1754.5 199.2 L1756.5 198.6 L1758.5 198.1 L1760.5 197.5 L1762.5 197.0 L1764.5 196.4 L1766.5 195.9 L1768.5 195.3 L1770.5 194.8 L1772.5 194.2 L1774.5 193.7 L1776.5 193.2 L1778.5 192.6 L1780.5 192.1 L1782.5 191.6 L1784.5 191.1 L1784.8 191.0 L1786.5 190.6 L1788.5 190.1 L1790.5 189.5 L1792.5 189.0 L1794.5 188.5 L1796.5 188.0 L1798.5 187.5 L1800.5 187.0 L1802.5 186.5 L1804.5 186.0 L1806.5 185.6 L1808.5 185.1 L1810.5 184.6 L1812.5 184.1 L1814.5 183.6 L1816.5 183.2 L1818.5 182.7 L1820.5 182.2 L1822.5 181.8 L1824.5 181.3 L1826.5 180.9 L1828.5 180.5 L1830.5 180.0 L1832.5 179.6 L1834.4 179.2 L1834.5 179.2 L1836.5 178.8 L1838.5 178.4 L1840.5 178.0 L1842.5 177.6 L1844.5 177.2 L1846.5 176.8 L1848.5 176.4 L1850.5 176.0 L1852.5 175.6 L1854.5 175.3 L1856.5 174.9 L1858.5 174.5 L1860.5 174.2 L1862.5 173.8 L1864.5 173.5 L1866.5 173.1 L1868.5 172.8 L1870.5 172.4 L1872.5 172.1 L1874.5 171.7 L1876.5 171.4 L1878.5 171.0 L1880.5 170.7 L1881.6 170.5 L1882.5 170.3 L1884.5 170.0 L1886.5 169.7 L1888.5 169.4 L1890.5 169.0 L1892.5 168.7 L1894.5 168.4 L1896.5 168.1 L1898.5 167.7 L1900.0 167.5 L1900.5 167.4 L1902.5 167.1 L1904.5 166.8 L1906.5 166.4 L1908.5 166.1 L1910.5 165.8 L1912.5 165.5 L1914.5 165.1 L1916.5 164.8 L1918.5 164.5 L1920.5 164.2 L1922.5 163.8 L1924.5 163.5 L1926.5 163.2 L1928.5 162.9 L1930.5 162.5 L1932.5 162.2 L1934.5 161.9 L1936.5 161.6 L1938.5 161.3 L1940.5 161.0 L1942.5 160.6 L1944.5 160.3 L1946.5 160.0 L1948.5 159.7 L1950.0 159.5 L1950.5 159.4 L1952.5 159.1 L1954.5 158.8 L1956.5 158.5 L1958.5 158.3 L1960.5 158.0 L1962.5 157.7 L1964.5 157.4 L1966.5 157.1 L1968.5 156.8 L1970.5 156.5 L1972.5 156.3 L1974.5 156.0 L1976.5 155.7 L1978.5 155.4 L1980.5 155.2 L1982.5 154.9 L1984.5 154.6 L1986.5 154.3 L1988.5 154.1 L1990.5 153.8 L1992.5 153.5 L1994.5 153.2 L1996.5 153.0 L1998.5 152.7 L2000.0 152.5 L2000.5 152.4 L2002.5 152.2 L2004.5 151.9 L2006.5 151.6 L2008.5 151.3 L2010.5 151.1 L2012.5 150.8 L2014.5 150.5 L2016.5 150.3 L2018.5 150.0 L2020.5 149.7 L2022.5 149.5 L2024.5 149.2 L2026.5 148.9 L2028.5 148.7 L2030.5 148.4 L2032.5 148.1 L2034.5 147.9 L2036.5 147.6 L2038.5 147.4 L2040.5 147.1 L2042.5 146.8 L2044.5 146.6 L2046.5 146.3 L2048.5 146.0 L2050.5 145.8 L2052.5 145.5 L2054.5 145.3 L2056.5 145.0 L2058.5 144.8 L2060.5 144.5"/>
<path stroke="#0000ff" stroke-width="11.8" stroke-dasharray="49.7 12.05 24.75 12.05" d="M254.5 961.8 L256.5 961.5 L258.5 961.2 L260.5 960.9 L262.5 960.6 L264.5 960.4 L266.5 960.1 L268.5 959.8 L270.5 959.5 L272.5 959.2 L274.5 959.0 L276.5 958.7 L278.5 958.4 L280.5 958.2 L282.5 957.9 L284.5 957.6 L286.5 957.4 L288.5 957.1 L290.5 956.9 L292.5 956.6 L294.5 956.4 L296.5 956.1 L298.5 955.9 L300.5 955.7 L302.5 955.4 L303.7 955.3 L304.5 955.2 L306.5 955.0 L308.5 954.8 L310.5 954.5 L312.5 954.3 L314.5 954.1 L316.5 953.9 L318.5 953.7 L320.5 953.5 L322.5 953.3 L324.5 953.1 L326.5 952.9 L328.5 952.7 L330.5 952.5 L332.5 952.4 L334.5 952.2 L336.5 952.0 L338.5 951.8 L340.5 951.6 L342.5 951.4 L344.5 951.2 L346.5 951.1 L348.5 950.9 L350.5 950.7 L352.5 950.5 L354.5 950.3 L356.5 950.1 L358.5 949.9 L360.5 949.8 L362.5 949.6 L364.5 949.4 L366.5 949.2 L368.5 949.0 L370.5 948.8 L372.5 948.6 L374.5 948.4 L376.5 948.2 L378.1 948.0 L378.5 948.0 L380.5 947.7 L382.5 947.5 L384.5 947.3 L386.5 947.1 L388.5 946.9 L390.5 946.7 L392.5 946.4 L394.5 946.2 L396.5 946.0 L398.5 945.8 L400.5 945.5 L402.5 945.3 L404.5 945.1 L406.5 944.9 L408.5 944.6 L410.5 944.4 L412.5 944.2 L414.5 943.9 L416.5 943.7 L418.5 943.5 L420.5 943.2 L422.5 943.0 L424.5 942.8 L426.5 942.5 L428.5 942.3 L430.5 942.1 L432.5 941.8 L434.5 941.6 L436.5 941.4 L438.5 941.1 L440.5 940.9 L442.5 940.6 L444.5 940.4 L446.5 940.2 L448.5 939.9 L450.5 939.7 L452.5 939.4 L454.5 939.2 L456.5 939.0 L458.5 938.7 L460.5 938.5 L462.5 938.2 L464.5 938.0 L466.5 937.8 L468.5 937.5 L470.5 937.3 L472.5 937.0 L473.7 936.9 L474.5 936.8 L476.5 936.6 L478.5 936.3 L480.5 936.1 L482.5 935.9 L484.5 935.6 L486.5 935.4 L488.5 935.2 L490.5 934.9 L492.5 934.7 L494.5 934.5 L496.5 934.2 L498.5 934.0 L500.5 933.8 L502.5 933.5 L504.5 933.3 L506.5 933.1 L508.5 932.9 L510.5 932.6 L512.5 932.4 L514.5 932.2 L516.5 931.9 L518.5 931.7 L520.5 931.5 L522.5 931.2 L524.5 931.0 L526.5 930.8 L528.5 930.5 L530.5 930.3 L532.5 930.0 L534.5 929.8 L536.5 929.6 L538.5 929.3 L540.5 929.1 L542.5 928.8 L544.5 928.6 L546.5 928.3 L548.5 928.0 L550.5 927.8 L552.5 927.5 L554.5 927.3 L556.5 927.0 L558.5 926.7 L560.5 926.5 L562.5 926.2 L564.5 925.9 L566.5 925.6 L568.5 925.3 L570.5 925.1 L572.5 924.8 L573.6 924.6 L574.5 924.5 L576.5 924.2 L578.5 923.9 L580.5 923.5 L582.5 923.2 L584.5 922.9 L586.5 922.5 L588.5 922.2 L590.5 921.9 L592.5 921.5 L594.5 921.1 L596.5 920.8 L598.5 920.4 L600.5 920.1 L602.5 919.7 L604.5 919.3 L606.5 919.0 L608.5 918.6 L610.5 918.2 L612.5 917.9 L614.5 917.5 L616.5 917.1 L618.5 916.8 L620.5 916.4 L622.4 916.1 L622.5 916.1 L624.5 915.7 L626.5 915.4 L628.5 915.0 L630.5 914.7 L632.5 914.3 L634.5 914.0 L636.5 913.6 L638.5 913.2 L640.5 912.9 L642.5 912.5 L644.5 912.2 L646.5 911.8 L648.5 911.4 L650.5 911.1 L652.5 910.7 L654.5 910.4 L656.5 910.0 L658.5 909.6 L660.5 909.3 L662.5 908.9 L664.5 908.6 L666.5 908.3 L668.5 907.9 L670.5 907.6 L672.5 907.2 L674.5 906.9 L676.5 906.6 L678.5 906.2 L680.0 906.0 L680.5 905.9 L682.5 905.6 L684.5 905.3 L686.5 905.0 L688.5 904.7 L690.5 904.4 L692.5 904.1 L694.5 903.9 L696.5 903.6 L698.5 903.3 L700.5 903.0 L702.5 902.7 L704.5 902.5 L706.5 902.2 L708.5 901.9 L710.5 901.6 L712.5 901.3 L714.5 900.9 L716.5 900.6 L718.2 900.3 L718.5 900.2 L720.5 899.9 L722.5 899.5 L724.5 899.1 L726.5 898.7 L728.5 898.3 L730.5 897.8 L732.5 897.4 L734.5 896.9 L736.5 896.5 L738.5 896.0 L740.5 895.5 L742.5 895.1 L744.5 894.6 L746.5 894.1 L748.5 893.7 L750.5 893.2 L752.5 892.7 L754.5 892.3 L756.5 891.8 L758.5 891.4 L760.5 891.0 L762.5 890.6 L764.5 890.2 L765.0 890.1 L766.5 889.8 L768.5 889.4 L770.5 889.1 L772.5 888.7 L774.5 888.4 L776.5 888.0 L778.5 887.7 L780.5 887.3 L782.5 887.0 L784.5 886.7 L786.5 886.3 L788.5 886.0 L790.5 885.7 L792.5 885.4 L794.5 885.0 L796.5 884.7 L798.5 884.4 L800.5 884.1 L802.5 883.8 L804.5 883.4 L806.5 883.1 L808.5 882.8 L810.5 882.5 L812.5 882.2 L814.5 881.8 L816.0 881.6 L816.5 881.5 L818.5 881.2 L820.5 880.9 L822.5 880.5 L824.5 880.2 L826.5 879.9 L828.5 879.5 L830.5 879.2 L832.5 878.9 L834.5 878.5 L836.5 878.2 L838.5 877.9 L840.5 877.6 L842.5 877.2 L844.5 876.9 L846.5 876.6 L848.5 876.3 L850.5 876.0 L852.5 875.7 L854.5 875.4 L856.5 875.1 L858.5 874.8 L860.5 874.5 L862.5 874.2 L862.7 874.2 L864.5 874.0 L866.5 873.7 L868.5 873.4 L870.5 873.2 L872.5 872.9 L874.5 872.6 L876.5 872.4 L878.5 872.1 L880.5 871.9 L882.5 871.6 L884.5 871.4 L886.5 871.2 L888.5 870.9 L890.5 870.7 L892.5 870.5 L894.5 870.2 L896.5 870.0 L898.5 869.8 L900.5 869.6 L902.5 869.3 L904.5 869.1 L906.5 868.9 L908.5 868.7 L910.5 868.5 L911.6 868.4 L912.5 868.3 L914.5 868.1 L916.5 867.9 L918.5 867.7 L920.5 867.5 L922.5 867.3 L924.5 867.1 L926.5 867.0 L928.5 866.8 L930.5 866.6 L932.5 866.4 L934.5 866.2 L936.5 866.1 L938.5 865.9 L940.5 865.7 L942.5 865.6 L944.5 865.4 L946.5 865.2 L948.5 865.1 L950.5 864.9 L952.5 864.8 L954.5 864.6 L956.5 864.5 L958.5 864.3 L960.5 864.2 L962.5 864.1 L964.5 863.9 L966.5 863.8 L968.5 863.7 L970.5 863.5 L972.5 863.4 L974.5 863.3 L976.5 863.1 L978.5 863.0 L980.5 862.9 L982.5 862.8 L984.5 862.6 L986.5 862.5 L988.5 862.4 L990.5 862.3 L992.5 862.2 L994.5 862.1 L996.5 862.0 L998.5 861.9 L1000.5 861.8 L1002.5 861.7 L1004.5 861.6 L1006.5 861.6 L1008.5 861.5 L1010.5 861.4 L1011.4 861.4 L1012.5 861.4 L1014.5 861.3 L1016.5 861.2 L1018.5 861.2 L1020.5 861.1 L1022.5 861.1 L1024.5 861.0 L1026.5 861.0 L1028.5 860.9 L1030.5 860.9 L1032.5 860.8 L1034.5 860.8 L1036.5 860.7 L1038.5 860.7 L1040.5 860.6 L1042.5 860.6 L1044.5 860.5 L1046.5 860.5 L1048.5 860.5 L1050.5 860.5 L1052.5 860.4 L1054.5 860.4 L1056.5 860.4 L1058.5 860.4 L1060.3 860.4 L1060.5 860.4 L1062.5 860.4 L1064.5 860.4 L1066.5 860.4 L1068.5 860.4 L1070.5 860.5 L1072.5 860.5 L1074.5 860.5 L1076.5 860.5 L1078.5 860.6 L1080.5 860.6 L1082.5 860.7 L1084.5 860.7 L1086.5 860.8 L1088.5 860.8 L1090.5 860.9 L1092.5 860.9 L1094.5 861.0 L1096.5 861.0 L1098.5 861.1 L1100.5 861.1 L1102.5 861.2 L1104.5 861.3 L1106.5 861.3 L1108.5 861.4 L1109.2 861.4 L1110.5 861.4 L1112.5 861.5 L1114.5 861.6 L1116.5 861.7 L1118.5 861.8 L1120.5 861.8 L1122.5 861.9 L1124.5 862.0 L1126.5 862.1 L1128.5 862.3 L1130.5 862.4 L1132.5 862.5 L1134.5 862.6 L1136.5 862.7 L1138.5 862.9 L1140.5 863.0 L1142.5 863.1 L1144.5 863.3 L1146.5 863.4 L1148.5 863.5 L1150.5 863.7 L1152.5 863.8 L1154.5 863.9 L1156.5 864.1 L1158.2 864.2 L1158.5 864.2 L1160.5 864.4 L1162.5 864.5 L1164.5 864.6 L1166.5 864.8 L1168.5 864.9 L1170.5 865.1 L1172.5 865.3 L1174.5 865.4 L1176.5 865.6 L1178.5 865.7 L1180.5 865.9 L1182.5 866.1 L1184.5 866.2 L1186.5 866.4 L1188.5 866.6 L1190.5 866.8 L1192.5 867.0 L1194.5 867.1 L1196.5 867.3 L1198.5 867.5 L1200.5 867.7 L1202.5 867.9 L1204.5 868.1 L1206.5 868.3 L1207.1 868.4 L1208.5 868.5 L1210.5 868.8 L1212.5 869.0 L1214.5 869.2 L1216.5 869.4 L1218.5 869.7 L1220.5 869.9 L1222.5 870.2 L1224.5 870.4 L1226.5 870.7 L1228.5 870.9 L1230.5 871.2 L1232.5 871.5 L1234.5 871.7 L1236.5 872.0 L1238.5 872.3 L1240.5 872.6 L1242.5 872.9 L1244.5 873.2 L1246.5 873.4 L1248.5 873.7 L1250.5 874.0 L1252.5 874.3 L1254.5 874.6 L1256.5 875.0 L1258.1 875.2 L1258.5 875.3 L1260.5 875.6 L1262.5 875.9 L1264.5 876.2 L1266.5 876.5 L1268.5 876.9 L1270.5 877.2 L1272.5 877.6 L1274.5 877.9 L1276.5 878.3 L1278.5 878.6 L1280.5 879.0 L1282.5 879.3 L1284.5 879.7 L1286.5 880.1 L1288.5 880.5 L1290.5 880.8 L1292.5 881.2 L1294.5 881.6 L1296.5 882.0 L1298.5 882.4 L1300.5 882.8 L1302.5 883.2 L1304.5 883.6 L1304.8 883.7 L1306.5 884.1 L1308.5 884.5 L1310.5 884.9 L1312.5 885.4 L1314.5 885.8 L1316.5 886.3 L1318.5 886.7 L1320.5 887.2 L1322.5 887.7 L1324.5 888.2 L1326.5 888.6 L1328.5 889.1 L1330.5 889.6 L1332.5 890.1 L1334.5 890.6 L1336.5 891.1 L1338.5 891.6 L1340.5 892.1 L1342.5 892.6 L1344.5 893.1 L1346.5 893.6 L1348.5 894.1 L1350.5 894.6 L1352.5 895.1 L1353.7 895.4 L1354.5 895.6 L1356.5 896.1 L1358.5 896.6 L1360.5 897.0 L1362.5 897.5 L1364.5 898.0 L1366.5 898.5 L1368.5 899.0 L1370.5 899.5 L1372.5 899.9 L1374.5 900.4 L1376.5 900.9 L1378.5 901.4 L1380.5 901.9 L1382.5 902.4 L1384.5 902.9 L1386.5 903.4 L1388.5 903.9 L1390.5 904.4 L1392.5 904.9 L1394.5 905.5 L1396.5 906.0 L1398.5 906.5 L1400.5 907.1 L1402.5 907.7 L1404.5 908.2 L1406.5 908.8 L1408.5 909.4 L1410.5 910.0 L1412.5 910.6 L1414.5 911.2 L1416.5 911.8 L1418.5 912.4 L1420.5 913.0 L1422.5 913.7 L1424.5 914.3 L1426.5 914.9 L1428.5 915.6 L1430.5 916.2 L1432.5 916.9 L1434.5 917.5 L1436.5 918.2 L1438.5 918.8 L1440.5 919.5 L1442.5 920.1 L1444.5 920.8 L1446.5 921.4 L1448.3 922.0 L1448.5 922.1 L1450.5 922.7 L1452.5 923.4 L1454.5 924.0 L1456.5 924.7 L1458.5 925.3 L1460.5 926.0 L1462.5 926.7 L1464.5 927.3 L1466.5 928.0 L1468.5 928.7 L1470.5 929.3 L1472.5 930.0 L1474.5 930.7 L1476.5 931.4 L1478.5 932.0 L1480.5 932.7 L1482.5 933.4 L1484.5 934.1 L1486.5 934.8 L1488.5 935.6 L1490.5 936.3 L1492.5 937.0 L1494.5 937.7 L1495.0 937.9 L1496.5 938.5 L1498.5 939.2 L1500.5 939.9 L1502.5 940.7 L1504.5 941.4 L1506.5 942.2 L1508.5 943.0 L1510.5 943.7 L1512.5 944.5 L1514.5 945.3 L1516.5 946.1 L1518.5 946.9 L1520.5 947.7 L1522.5 948.5 L1524.5 949.3 L1526.5 950.1 L1528.5 950.9 L1530.5 951.7 L1532.5 952.6 L1534.5 953.4 L1536.5 954.2 L1538.5 955.1 L1540.5 955.9 L1540.7 956.0 L1542.5 956.8 L1544.5 957.6 L1546.5 958.5 L1548.5 959.4 L1550.5 960.3 L1552.5 961.2 L1554.5 962.1 L1556.5 963.0 L1558.5 963.9 L1560.5 964.8 L1562.5 965.7 L1564.5 966.6 L1566.5 967.6 L1568.5 968.5 L1570.5 969.4 L1572.5 970.4 L1574.5 971.3 L1576.5 972.2 L1578.5 973.2 L1580.5 974.1 L1582.5 975.0 L1584.5 975.9 L1585.5 976.4 L1586.5 976.9 L1588.5 977.8 L1590.5 978.7 L1592.5 979.6 L1594.5 980.5 L1596.5 981.4 L1598.5 982.3 L1600.5 983.2 L1602.5 984.2 L1604.5 985.1 L1606.5 986.0 L1608.5 986.9 L1610.5 987.8 L1612.5 988.7 L1614.5 989.7 L1616.5 990.6 L1618.5 991.5 L1620.5 992.5 L1622.5 993.4 L1624.5 994.4 L1626.5 995.4 L1628.5 996.4 L1629.0 996.6 L1630.5 997.3 L1632.5 998.3 L1634.5 999.3 L1636.5 1000.4 L1638.5 1001.4 L1640.5 1002.4 L1642.5 1003.4 L1644.5 1004.5 L1646.5 1005.5 L1648.5 1006.6 L1650.5 1007.6 L1652.5 1008.7 L1654.5 1009.8 L1656.5 1010.8 L1658.5 1011.9 L1660.5 1013.0 L1662.5 1014.0 L1664.5 1015.1 L1666.5 1016.2 L1668.5 1017.2 L1670.5 1018.3 L1672.5 1019.4 L1673.7 1020.0 L1674.5 1020.4 L1676.5 1021.5 L1678.5 1022.5 L1680.5 1023.6 L1682.5 1024.7 L1684.5 1025.7 L1686.5 1026.8 L1688.5 1027.9 L1690.5 1028.9 L1692.5 1030.0 L1694.5 1031.1 L1696.5 1032.1 L1698.5 1033.2 L1700.5 1034.3 L1702.5 1035.4 L1704.5 1036.4 L1706.5 1037.5 L1708.5 1038.6 L1710.5 1039.7 L1712.5 1040.8 L1714.5 1041.8 L1716.5 1042.9 L1717.2 1043.3 L1718.5 1044.0 L1720.5 1045.1 L1722.5 1046.2 L1724.5 1047.3 L1726.5 1048.4 L1728.5 1049.5 L1730.5 1050.6 L1732.5 1051.7 L1734.5 1052.8 L1736.5 1053.9 L1738.5 1055.1 L1740.5 1056.2 L1742.5 1057.3 L1744.5 1058.4 L1746.5 1059.5 L1748.5 1060.6 L1750.5 1061.7 L1752.5 1062.8 L1754.5 1063.9 L1756.5 1065.0 L1758.5 1066.1 L1759.7 1066.7 L1760.5 1067.1 L1762.5 1068.2 L1764.5 1069.3 L1766.5 1070.3 L1768.5 1071.4 L1770.5 1072.5 L1772.5 1073.6 L1774.5 1074.6 L1776.5 1075.7 L1778.5 1076.7 L1780.5 1077.8 L1782.5 1078.8 L1784.5 1079.9 L1786.5 1080.9 L1788.5 1082.0 L1790.5 1083.0 L1792.5 1084.1 L1794.5 1085.1 L1796.5 1086.1 L1798.5 1087.2 L1800.5 1088.2 L1802.5 1089.2 L1804.3 1090.1 L1804.5 1090.2 L1806.5 1091.2 L1808.5 1092.2 L1810.5 1093.2 L1812.5 1094.2 L1814.5 1095.2 L1816.5 1096.2 L1818.5 1097.2 L1820.5 1098.1 L1822.5 1099.1 L1824.5 1100.1 L1826.5 1101.1 L1828.5 1102.0 L1830.5 1103.0 L1832.5 1103.9 L1834.5 1104.9 L1836.5 1105.9 L1838.5 1106.8 L1840.5 1107.8 L1842.5 1108.7 L1844.5 1109.7 L1846.5 1110.6 L1847.9 1111.3 L1848.5 1111.6 L1850.5 1112.5 L1852.5 1113.5 L1854.5 1114.4 L1856.5 1115.4 L1858.5 1116.3 L1860.5 1117.3 L1862.5 1118.2 L1864.5 1119.1 L1866.5 1120.1 L1868.5 1121.0 L1870.5 1121.9 L1872.5 1122.9 L1874.5 1123.8 L1876.5 1124.7 L1878.5 1125.6 L1880.5 1126.5 L1882.5 1127.5 L1884.5 1128.4 L1886.5 1129.3 L1888.5 1130.2 L1890.5 1131.1 L1891.4 1131.5 L1892.5 1132.0 L1894.5 1132.9 L1896.5 1133.8 L1898.5 1134.6 L1900.5 1135.5 L1902.5 1136.4 L1904.5 1137.2 L1906.5 1138.1 L1908.5 1139.0 L1910.5 1139.8 L1912.5 1140.7 L1914.5 1141.5 L1916.5 1142.4 L1918.5 1143.2 L1920.5 1144.1 L1922.5 1145.0 L1924.5 1145.8 L1926.5 1146.7 L1928.5 1147.6 L1930.5 1148.4 L1932.5 1149.3 L1934.5 1150.2 L1936.5 1151.1 L1938.2 1151.9 L1938.5 1152.0 L1940.5 1153.0 L1942.5 1153.9 L1944.5 1154.8 L1946.5 1155.7 L1948.5 1156.6 L1950.5 1157.6 L1952.5 1158.5 L1954.5 1159.5 L1956.5 1160.4 L1958.5 1161.3 L1960.5 1162.3 L1962.5 1163.3 L1964.5 1164.2 L1966.5 1165.2 L1968.5 1166.2 L1970.5 1167.2 L1972.5 1168.2 L1974.5 1169.2 L1976.5 1170.2 L1978.5 1171.2 L1980.5 1172.2 L1982.5 1173.2 L1983.0 1173.5 L1984.5 1174.3 L1986.5 1175.3 L1988.5 1176.4 L1990.5 1177.4 L1992.5 1178.5 L1994.5 1179.6 L1996.5 1180.7 L1998.5 1181.8 L2000.5 1182.9 L2002.5 1184.0 L2004.5 1185.1 L2006.5 1186.2 L2008.5 1187.4 L2010.5 1188.5 L2012.5 1189.7 L2014.5 1190.9 L2016.5 1192.0 L2018.5 1193.2 L2020.5 1194.5 L2022.5 1195.7 L2024.5 1196.9 L2025.4 1197.5 L2026.5 1198.2 L2028.5 1199.4 L2030.5 1200.7 L2032.5 1202.0 L2034.5 1203.3 L2036.5 1204.6 L2038.5 1205.9 L2040.5 1207.2 L2042.5 1208.6 L2044.5 1210.1 L2046.5 1211.5 L2048.5 1213.1 L2050.5 1214.6 L2052.5 1216.3 L2053.0 1216.7 L2054.5 1218.0 L2056.5 1220.0 L2058.5 1222.0 L2060.5 1224.1"/>
<path stroke="#0000ff" stroke-width="13.2" shape-rendering="crispEdges" stroke-dasharray="49.7 12.05 24.75 12.05" d="M254.5 961.8 L256.5 961.5 L258.5 961.2 L260.5 960.9 L262.5 960.6 L264.5 960.4 L266.5 960.1 L268.5 959.8 L270.5 959.5 L272.5 959.2 L274.5 959.0 L276.5 958.7 L278.5 958.4 L280.5 958.2 L282.5 957.9 L284.5 957.6 L286.5 957.4 L288.5 957.1 L290.5 956.9 L292.5 956.6 L294.5 956.4 L296.5 956.1 L298.5 955.9 L300.5 955.7 L302.5 955.4 L303.7 955.3 L304.5 955.2 L306.5 955.0 L308.5 954.8 L310.5 954.5 L312.5 954.3 L314.5 954.1 L316.5 953.9 L318.5 953.7 L320.5 953.5 L322.5 953.3 L324.5 953.1 L326.5 952.9 L328.5 952.7 L330.5 952.5 L332.5 952.4 L334.5 952.2 L336.5 952.0 L338.5 951.8 L340.5 951.6 L342.5 951.4 L344.5 951.2 L346.5 951.1 L348.5 950.9 L350.5 950.7 L352.5 950.5 L354.5 950.3 L356.5 950.1 L358.5 949.9 L360.5 949.8 L362.5 949.6 L364.5 949.4 L366.5 949.2 L368.5 949.0 L370.5 948.8 L372.5 948.6 L374.5 948.4 L376.5 948.2 L378.1 948.0 L378.5 948.0 L380.5 947.7 L382.5 947.5 L384.5 947.3 L386.5 947.1 L388.5 946.9 L390.5 946.7 L392.5 946.4 L394.5 946.2 L396.5 946.0 L398.5 945.8 L400.5 945.5 L402.5 945.3 L404.5 945.1 L406.5 944.9 L408.5 944.6 L410.5 944.4 L412.5 944.2 L414.5 943.9 L416.5 943.7 L418.5 943.5 L420.5 943.2 L422.5 943.0 L424.5 942.8 L426.5 942.5 L428.5 942.3 L430.5 942.1 L432.5 941.8 L434.5 941.6 L436.5 941.4 L438.5 941.1 L440.5 940.9 L442.5 940.6 L444.5 940.4 L446.5 940.2 L448.5 939.9 L450.5 939.7 L452.5 939.4 L454.5 939.2 L456.5 939.0 L458.5 938.7 L460.5 938.5 L462.5 938.2 L464.5 938.0 L466.5 937.8 L468.5 937.5 L470.5 937.3 L472.5 937.0 L473.7 936.9 L474.5 936.8 L476.5 936.6 L478.5 936.3 L480.5 936.1 L482.5 935.9 L484.5 935.6 L486.5 935.4 L488.5 935.2 L490.5 934.9 L492.5 934.7 L494.5 934.5 L496.5 934.2 L498.5 934.0 L500.5 933.8 L502.5 933.5 L504.5 933.3 L506.5 933.1 L508.5 932.9 L510.5 932.6 L512.5 932.4 L514.5 932.2 L516.5 931.9 L518.5 931.7 L520.5 931.5 L522.5 931.2 L524.5 931.0 L526.5 930.8 L528.5 930.5 L530.5 930.3 L532.5 930.0 L534.5 929.8 L536.5 929.6 L538.5 929.3 L540.5 929.1 L542.5 928.8 L544.5 928.6 L546.5 928.3 L548.5 928.0 L550.5 927.8 L552.5 927.5 L554.5 927.3 L556.5 927.0 L558.5 926.7 L560.5 926.5 L562.5 926.2 L564.5 925.9 L566.5 925.6 L568.5 925.3 L570.5 925.1 L572.5 924.8 L573.6 924.6 L574.5 924.5 L576.5 924.2 L578.5 923.9 L580.5 923.5 L582.5 923.2 L584.5 922.9 L586.5 922.5 L588.5 922.2 L590.5 921.9 L592.5 921.5 L594.5 921.1 L596.5 920.8 L598.5 920.4 L600.5 920.1 L602.5 919.7 L604.5 919.3 L606.5 919.0 L608.5 918.6 L610.5 918.2 L612.5 917.9 L614.5 917.5 L616.5 917.1 L618.5 916.8 L620.5 916.4 L622.4 916.1 L622.5 916.1 L624.5 915.7 L626.5 915.4 L628.5 915.0 L630.5 914.7 L632.5 914.3 L634.5 914.0 L636.5 913.6 L638.5 913.2 L640.5 912.9 L642.5 912.5 L644.5 912.2 L646.5 911.8 L648.5 911.4 L650.5 911.1 L652.5 910.7 L654.5 910.4 L656.5 910.0 L658.5 909.6 L660.5 909.3 L662.5 908.9 L664.5 908.6 L666.5 908.3 L668.5 907.9 L670.5 907.6 L672.5 907.2 L674.5 906.9 L676.5 906.6 L678.5 906.2 L680.0 906.0 L680.5 905.9 L682.5 905.6 L684.5 905.3 L686.5 905.0 L688.5 904.7 L690.5 904.4 L692.5 904.1 L694.5 903.9 L696.5 903.6 L698.5 903.3 L700.5 903.0 L702.5 902.7 L704.5 902.5 L706.5 902.2 L708.5 901.9 L710.5 901.6 L712.5 901.3 L714.5 900.9 L716.5 900.6 L718.2 900.3 L718.5 900.2 L720.5 899.9 L722.5 899.5 L724.5 899.1 L726.5 898.7 L728.5 898.3 L730.5 897.8 L732.5 897.4 L734.5 896.9 L736.5 896.5 L738.5 896.0 L740.5 895.5 L742.5 895.1 L744.5 894.6 L746.5 894.1 L748.5 893.7 L750.5 893.2 L752.5 892.7 L754.5 892.3 L756.5 891.8 L758.5 891.4 L760.5 891.0 L762.5 890.6 L764.5 890.2 L765.0 890.1 L766.5 889.8 L768.5 889.4 L770.5 889.1 L772.5 888.7 L774.5 888.4 L776.5 888.0 L778.5 887.7 L780.5 887.3 L782.5 887.0 L784.5 886.7 L786.5 886.3 L788.5 886.0 L790.5 885.7 L792.5 885.4 L794.5 885.0 L796.5 884.7 L798.5 884.4 L800.5 884.1 L802.5 883.8 L804.5 883.4 L806.5 883.1 L808.5 882.8 L810.5 882.5 L812.5 882.2 L814.5 881.8 L816.0 881.6 L816.5 881.5 L818.5 881.2 L820.5 880.9 L822.5 880.5 L824.5 880.2 L826.5 879.9 L828.5 879.5 L830.5 879.2 L832.5 878.9 L834.5 878.5 L836.5 878.2 L838.5 877.9 L840.5 877.6 L842.5 877.2 L844.5 876.9 L846.5 876.6 L848.5 876.3 L850.5 876.0 L852.5 875.7 L854.5 875.4 L856.5 875.1 L858.5 874.8 L860.5 874.5 L862.5 874.2 L862.7 874.2 L864.5 874.0 L866.5 873.7 L868.5 873.4 L870.5 873.2 L872.5 872.9 L874.5 872.6 L876.5 872.4 L878.5 872.1 L880.5 871.9 L882.5 871.6 L884.5 871.4 L886.5 871.2 L888.5 870.9 L890.5 870.7 L892.5 870.5 L894.5 870.2 L896.5 870.0 L898.5 869.8 L900.5 869.6 L902.5 869.3 L904.5 869.1 L906.5 868.9 L908.5 868.7 L910.5 868.5 L911.6 868.4 L912.5 868.3 L914.5 868.1 L916.5 867.9 L918.5 867.7 L920.5 867.5 L922.5 867.3 L924.5 867.1 L926.5 867.0 L928.5 866.8 L930.5 866.6 L932.5 866.4 L934.5 866.2 L936.5 866.1 L938.5 865.9 L940.5 865.7 L942.5 865.6 L944.5 865.4 L946.5 865.2 L948.5 865.1 L950.5 864.9 L952.5 864.8 L954.5 864.6 L956.5 864.5 L958.5 864.3 L960.5 864.2 L962.5 864.1 L964.5 863.9 L966.5 863.8 L968.5 863.7 L970.5 863.5 L972.5 863.4 L974.5 863.3 L976.5 863.1 L978.5 863.0 L980.5 862.9 L982.5 862.8 L984.5 862.6 L986.5 862.5 L988.5 862.4 L990.5 862.3 L992.5 862.2 L994.5 862.1 L996.5 862.0 L998.5 861.9 L1000.5 861.8 L1002.5 861.7 L1004.5 861.6 L1006.5 861.6 L1008.5 861.5 L1010.5 861.4 L1011.4 861.4 L1012.5 861.4 L1014.5 861.3 L1016.5 861.2 L1018.5 861.2 L1020.5 861.1 L1022.5 861.1 L1024.5 861.0 L1026.5 861.0 L1028.5 860.9 L1030.5 860.9 L1032.5 860.8 L1034.5 860.8 L1036.5 860.7 L1038.5 860.7 L1040.5 860.6 L1042.5 860.6 L1044.5 860.5 L1046.5 860.5 L1048.5 860.5 L1050.5 860.5 L1052.5 860.4 L1054.5 860.4 L1056.5 860.4 L1058.5 860.4 L1060.3 860.4 L1060.5 860.4 L1062.5 860.4 L1064.5 860.4 L1066.5 860.4 L1068.5 860.4 L1070.5 860.5 L1072.5 860.5 L1074.5 860.5 L1076.5 860.5 L1078.5 860.6 L1080.5 860.6 L1082.5 860.7 L1084.5 860.7 L1086.5 860.8 L1088.5 860.8 L1090.5 860.9 L1092.5 860.9 L1094.5 861.0 L1096.5 861.0 L1098.5 861.1 L1100.5 861.1 L1102.5 861.2 L1104.5 861.3 L1106.5 861.3 L1108.5 861.4 L1109.2 861.4 L1110.5 861.4 L1112.5 861.5 L1114.5 861.6 L1116.5 861.7 L1118.5 861.8 L1120.5 861.8 L1122.5 861.9 L1124.5 862.0 L1126.5 862.1 L1128.5 862.3 L1130.5 862.4 L1132.5 862.5 L1134.5 862.6 L1136.5 862.7 L1138.5 862.9 L1140.5 863.0 L1142.5 863.1 L1144.5 863.3 L1146.5 863.4 L1148.5 863.5 L1150.5 863.7 L1152.5 863.8 L1154.5 863.9 L1156.5 864.1 L1158.2 864.2 L1158.5 864.2 L1160.5 864.4 L1162.5 864.5 L1164.5 864.6 L1166.5 864.8 L1168.5 864.9 L1170.5 865.1 L1172.5 865.3 L1174.5 865.4 L1176.5 865.6 L1178.5 865.7 L1180.5 865.9 L1182.5 866.1 L1184.5 866.2 L1186.5 866.4 L1188.5 866.6 L1190.5 866.8 L1192.5 867.0 L1194.5 867.1 L1196.5 867.3 L1198.5 867.5 L1200.5 867.7 L1202.5 867.9 L1204.5 868.1 L1206.5 868.3 L1207.1 868.4 L1208.5 868.5 L1210.5 868.8 L1212.5 869.0 L1214.5 869.2 L1216.5 869.4 L1218.5 869.7 L1220.5 869.9 L1222.5 870.2 L1224.5 870.4 L1226.5 870.7 L1228.5 870.9 L1230.5 871.2 L1232.5 871.5 L1234.5 871.7 L1236.5 872.0 L1238.5 872.3 L1240.5 872.6 L1242.5 872.9 L1244.5 873.2 L1246.5 873.4 L1248.5 873.7 L1250.5 874.0 L1252.5 874.3 L1254.5 874.6 L1256.5 875.0 L1258.1 875.2 L1258.5 875.3 L1260.5 875.6 L1262.5 875.9 L1264.5 876.2 L1266.5 876.5 L1268.5 876.9 L1270.5 877.2 L1272.5 877.6 L1274.5 877.9 L1276.5 878.3 L1278.5 878.6 L1280.5 879.0 L1282.5 879.3 L1284.5 879.7 L1286.5 880.1 L1288.5 880.5 L1290.5 880.8 L1292.5 881.2 L1294.5 881.6 L1296.5 882.0 L1298.5 882.4 L1300.5 882.8 L1302.5 883.2 L1304.5 883.6 L1304.8 883.7 L1306.5 884.1 L1308.5 884.5 L1310.5 884.9 L1312.5 885.4 L1314.5 885.8 L1316.5 886.3 L1318.5 886.7 L1320.5 887.2 L1322.5 887.7 L1324.5 888.2 L1326.5 888.6 L1328.5 889.1 L1330.5 889.6 L1332.5 890.1 L1334.5 890.6 L1336.5 891.1 L1338.5 891.6 L1340.5 892.1 L1342.5 892.6 L1344.5 893.1 L1346.5 893.6 L1348.5 894.1 L1350.5 894.6 L1352.5 895.1 L1353.7 895.4 L1354.5 895.6 L1356.5 896.1 L1358.5 896.6 L1360.5 897.0 L1362.5 897.5 L1364.5 898.0 L1366.5 898.5 L1368.5 899.0 L1370.5 899.5 L1372.5 899.9 L1374.5 900.4 L1376.5 900.9 L1378.5 901.4 L1380.5 901.9 L1382.5 902.4 L1384.5 902.9 L1386.5 903.4 L1388.5 903.9 L1390.5 904.4 L1392.5 904.9 L1394.5 905.5 L1396.5 906.0 L1398.5 906.5 L1400.5 907.1 L1402.5 907.7 L1404.5 908.2 L1406.5 908.8 L1408.5 909.4 L1410.5 910.0 L1412.5 910.6 L1414.5 911.2 L1416.5 911.8 L1418.5 912.4 L1420.5 913.0 L1422.5 913.7 L1424.5 914.3 L1426.5 914.9 L1428.5 915.6 L1430.5 916.2 L1432.5 916.9 L1434.5 917.5 L1436.5 918.2 L1438.5 918.8 L1440.5 919.5 L1442.5 920.1 L1444.5 920.8 L1446.5 921.4 L1448.3 922.0 L1448.5 922.1 L1450.5 922.7 L1452.5 923.4 L1454.5 924.0 L1456.5 924.7 L1458.5 925.3 L1460.5 926.0 L1462.5 926.7 L1464.5 927.3 L1466.5 928.0 L1468.5 928.7 L1470.5 929.3 L1472.5 930.0 L1474.5 930.7 L1476.5 931.4 L1478.5 932.0 L1480.5 932.7 L1482.5 933.4 L1484.5 934.1 L1486.5 934.8 L1488.5 935.6 L1490.5 936.3 L1492.5 937.0 L1494.5 937.7 L1495.0 937.9 L1496.5 938.5 L1498.5 939.2 L1500.5 939.9 L1502.5 940.7 L1504.5 941.4 L1506.5 942.2 L1508.5 943.0 L1510.5 943.7 L1512.5 944.5 L1514.5 945.3 L1516.5 946.1 L1518.5 946.9 L1520.5 947.7 L1522.5 948.5 L1524.5 949.3 L1526.5 950.1 L1528.5 950.9 L1530.5 951.7 L1532.5 952.6 L1534.5 953.4 L1536.5 954.2 L1538.5 955.1 L1540.5 955.9 L1540.7 956.0 L1542.5 956.8 L1544.5 957.6 L1546.5 958.5 L1548.5 959.4 L1550.5 960.3 L1552.5 961.2 L1554.5 962.1 L1556.5 963.0 L1558.5 963.9 L1560.5 964.8 L1562.5 965.7 L1564.5 966.6 L1566.5 967.6 L1568.5 968.5 L1570.5 969.4 L1572.5 970.4 L1574.5 971.3 L1576.5 972.2 L1578.5 973.2 L1580.5 974.1 L1582.5 975.0 L1584.5 975.9 L1585.5 976.4 L1586.5 976.9 L1588.5 977.8 L1590.5 978.7 L1592.5 979.6 L1594.5 980.5 L1596.5 981.4 L1598.5 982.3 L1600.5 983.2 L1602.5 984.2 L1604.5 985.1 L1606.5 986.0 L1608.5 986.9 L1610.5 987.8 L1612.5 988.7 L1614.5 989.7 L1616.5 990.6 L1618.5 991.5 L1620.5 992.5 L1622.5 993.4 L1624.5 994.4 L1626.5 995.4 L1628.5 996.4 L1629.0 996.6 L1630.5 997.3 L1632.5 998.3 L1634.5 999.3 L1636.5 1000.4 L1638.5 1001.4 L1640.5 1002.4 L1642.5 1003.4 L1644.5 1004.5 L1646.5 1005.5 L1648.5 1006.6 L1650.5 1007.6 L1652.5 1008.7 L1654.5 1009.8 L1656.5 1010.8 L1658.5 1011.9 L1660.5 1013.0 L1662.5 1014.0 L1664.5 1015.1 L1666.5 1016.2 L1668.5 1017.2 L1670.5 1018.3 L1672.5 1019.4 L1673.7 1020.0 L1674.5 1020.4 L1676.5 1021.5 L1678.5 1022.5 L1680.5 1023.6 L1682.5 1024.7 L1684.5 1025.7 L1686.5 1026.8 L1688.5 1027.9 L1690.5 1028.9 L1692.5 1030.0 L1694.5 1031.1 L1696.5 1032.1 L1698.5 1033.2 L1700.5 1034.3 L1702.5 1035.4 L1704.5 1036.4 L1706.5 1037.5 L1708.5 1038.6 L1710.5 1039.7 L1712.5 1040.8 L1714.5 1041.8 L1716.5 1042.9 L1717.2 1043.3 L1718.5 1044.0 L1720.5 1045.1 L1722.5 1046.2 L1724.5 1047.3 L1726.5 1048.4 L1728.5 1049.5 L1730.5 1050.6 L1732.5 1051.7 L1734.5 1052.8 L1736.5 1053.9 L1738.5 1055.1 L1740.5 1056.2 L1742.5 1057.3 L1744.5 1058.4 L1746.5 1059.5 L1748.5 1060.6 L1750.5 1061.7 L1752.5 1062.8 L1754.5 1063.9 L1756.5 1065.0 L1758.5 1066.1 L1759.7 1066.7 L1760.5 1067.1 L1762.5 1068.2 L1764.5 1069.3 L1766.5 1070.3 L1768.5 1071.4 L1770.5 1072.5 L1772.5 1073.6 L1774.5 1074.6 L1776.5 1075.7 L1778.5 1076.7 L1780.5 1077.8 L1782.5 1078.8 L1784.5 1079.9 L1786.5 1080.9 L1788.5 1082.0 L1790.5 1083.0 L1792.5 1084.1 L1794.5 1085.1 L1796.5 1086.1 L1798.5 1087.2 L1800.5 1088.2 L1802.5 1089.2 L1804.3 1090.1 L1804.5 1090.2 L1806.5 1091.2 L1808.5 1092.2 L1810.5 1093.2 L1812.5 1094.2 L1814.5 1095.2 L1816.5 1096.2 L1818.5 1097.2 L1820.5 1098.1 L1822.5 1099.1 L1824.5 1100.1 L1826.5 1101.1 L1828.5 1102.0 L1830.5 1103.0 L1832.5 1103.9 L1834.5 1104.9 L1836.5 1105.9 L1838.5 1106.8 L1840.5 1107.8 L1842.5 1108.7 L1844.5 1109.7 L1846.5 1110.6 L1847.9 1111.3 L1848.5 1111.6 L1850.5 1112.5 L1852.5 1113.5 L1854.5 1114.4 L1856.5 1115.4 L1858.5 1116.3 L1860.5 1117.3 L1862.5 1118.2 L1864.5 1119.1 L1866.5 1120.1 L1868.5 1121.0 L1870.5 1121.9 L1872.5 1122.9 L1874.5 1123.8 L1876.5 1124.7 L1878.5 1125.6 L1880.5 1126.5 L1882.5 1127.5 L1884.5 1128.4 L1886.5 1129.3 L1888.5 1130.2 L1890.5 1131.1 L1891.4 1131.5 L1892.5 1132.0 L1894.5 1132.9 L1896.5 1133.8 L1898.5 1134.6 L1900.5 1135.5 L1902.5 1136.4 L1904.5 1137.2 L1906.5 1138.1 L1908.5 1139.0 L1910.5 1139.8 L1912.5 1140.7 L1914.5 1141.5 L1916.5 1142.4 L1918.5 1143.2 L1920.5 1144.1 L1922.5 1145.0 L1924.5 1145.8 L1926.5 1146.7 L1928.5 1147.6 L1930.5 1148.4 L1932.5 1149.3 L1934.5 1150.2 L1936.5 1151.1 L1938.2 1151.9 L1938.5 1152.0 L1940.5 1153.0 L1942.5 1153.9 L1944.5 1154.8 L1946.5 1155.7 L1948.5 1156.6 L1950.5 1157.6 L1952.5 1158.5 L1954.5 1159.5 L1956.5 1160.4 L1958.5 1161.3 L1960.5 1162.3 L1962.5 1163.3 L1964.5 1164.2 L1966.5 1165.2 L1968.5 1166.2 L1970.5 1167.2 L1972.5 1168.2 L1974.5 1169.2 L1976.5 1170.2 L1978.5 1171.2 L1980.5 1172.2 L1982.5 1173.2 L1983.0 1173.5 L1984.5 1174.3 L1986.5 1175.3 L1988.5 1176.4 L1990.5 1177.4 L1992.5 1178.5 L1994.5 1179.6 L1996.5 1180.7 L1998.5 1181.8 L2000.5 1182.9 L2002.5 1184.0 L2004.5 1185.1 L2006.5 1186.2 L2008.5 1187.4 L2010.5 1188.5 L2012.5 1189.7 L2014.5 1190.9 L2016.5 1192.0 L2018.5 1193.2 L2020.5 1194.5 L2022.5 1195.7 L2024.5 1196.9 L2025.4 1197.5 L2026.5 1198.2 L2028.5 1199.4 L2030.5 1200.7 L2032.5 1202.0 L2034.5 1203.3 L2036.5 1204.6 L2038.5 1205.9 L2040.5 1207.2 L2042.5 1208.6 L2044.5 1210.1 L2046.5 1211.5 L2048.5 1213.1 L2050.5 1214.6 L2052.5 1216.3 L2053.0 1216.7 L2054.5 1218.0 L2056.5 1220.0 L2058.5 1222.0 L2060.5 1224.1"/>
<path stroke="#000000" stroke-width="11.8" stroke-dasharray="49.7 12.05 24.75 12.05" d="M254.5 1108.5 L256.5 1108.2 L258.5 1107.9 L260.5 1107.6 L262.5 1107.3 L264.5 1107.0 L266.5 1106.7 L268.5 1106.5 L270.5 1106.2 L272.5 1106.0 L274.5 1105.7 L276.5 1105.5 L278.2 1105.3 L278.5 1105.3 L280.5 1105.1 L282.5 1104.9 L284.5 1104.7 L286.5 1104.5 L288.5 1104.3 L290.5 1104.1 L292.5 1104.0 L294.5 1103.8 L296.5 1103.7 L298.5 1103.5 L300.5 1103.3 L302.5 1103.2 L304.5 1103.0 L306.5 1102.9 L308.5 1102.7 L310.5 1102.6 L312.5 1102.4 L314.5 1102.3 L316.5 1102.1 L318.5 1102.0 L320.5 1101.8 L322.5 1101.6 L324.5 1101.5 L326.5 1101.3 L327.6 1101.2 L328.5 1101.1 L330.5 1100.9 L332.5 1100.7 L334.5 1100.6 L336.5 1100.4 L338.5 1100.2 L340.5 1100.0 L342.5 1099.8 L344.5 1099.6 L346.5 1099.4 L348.5 1099.2 L350.5 1099.0 L352.5 1098.8 L354.5 1098.6 L356.5 1098.4 L358.5 1098.2 L360.5 1098.0 L362.5 1097.8 L364.5 1097.6 L366.5 1097.4 L368.5 1097.1 L370.5 1096.9 L372.5 1096.7 L374.5 1096.4 L376.5 1096.2 L378.0 1096.0 L378.5 1095.9 L380.5 1095.7 L382.5 1095.4 L384.5 1095.1 L386.5 1094.9 L388.5 1094.6 L390.5 1094.3 L392.5 1094.0 L394.5 1093.7 L396.5 1093.4 L398.5 1093.1 L400.5 1092.7 L402.5 1092.4 L404.5 1092.1 L406.5 1091.8 L408.5 1091.5 L410.5 1091.1 L412.5 1090.8 L414.5 1090.5 L416.5 1090.1 L418.5 1089.8 L420.5 1089.5 L422.5 1089.2 L424.5 1088.8 L426.0 1088.6 L426.5 1088.5 L428.5 1088.2 L430.5 1087.9 L432.5 1087.6 L434.5 1087.3 L436.5 1086.9 L438.5 1086.6 L440.5 1086.3 L442.5 1086.0 L444.5 1085.7 L446.5 1085.4 L448.5 1085.0 L450.5 1084.7 L452.5 1084.4 L454.5 1084.1 L456.5 1083.7 L458.5 1083.4 L460.5 1083.1 L462.5 1082.7 L464.5 1082.4 L466.5 1082.1 L468.5 1081.7 L470.5 1081.4 L472.5 1081.0 L473.7 1080.8 L474.5 1080.7 L476.5 1080.3 L478.5 1079.9 L480.5 1079.6 L482.5 1079.2 L484.5 1078.8 L486.5 1078.4 L488.5 1078.1 L490.5 1077.7 L492.5 1077.3 L494.5 1076.9 L496.5 1076.5 L498.5 1076.1 L500.5 1075.7 L502.5 1075.3 L504.5 1074.9 L506.5 1074.5 L508.5 1074.1 L510.5 1073.7 L512.5 1073.3 L514.5 1072.9 L516.5 1072.5 L518.5 1072.0 L520.5 1071.6 L522.5 1071.2 L522.6 1071.2 L524.5 1070.8 L526.5 1070.4 L528.5 1070.0 L530.5 1069.5 L532.5 1069.1 L534.5 1068.7 L536.5 1068.3 L538.5 1067.8 L540.5 1067.4 L542.5 1067.0 L544.5 1066.5 L546.5 1066.1 L548.5 1065.6 L550.5 1065.2 L552.5 1064.8 L554.5 1064.3 L556.5 1063.9 L558.5 1063.4 L560.5 1063.0 L562.5 1062.6 L564.5 1062.1 L566.5 1061.7 L568.5 1061.2 L570.5 1060.8 L571.4 1060.6 L572.5 1060.4 L574.5 1059.9 L576.5 1059.5 L578.5 1059.1 L580.5 1058.6 L582.5 1058.2 L584.5 1057.8 L586.5 1057.3 L588.5 1056.9 L590.5 1056.5 L592.5 1056.0 L594.5 1055.6 L596.5 1055.2 L598.5 1054.7 L600.5 1054.3 L602.5 1053.9 L604.5 1053.4 L606.5 1053.0 L608.5 1052.6 L610.5 1052.1 L612.5 1051.7 L614.5 1051.2 L616.5 1050.8 L618.5 1050.3 L620.0 1050.0 L620.5 1049.9 L622.5 1049.4 L624.5 1049.0 L626.5 1048.5 L628.5 1048.0 L630.5 1047.5 L632.5 1047.0 L634.5 1046.5 L636.5 1046.0 L638.5 1045.5 L640.5 1045.0 L642.5 1044.5 L644.5 1044.1 L646.5 1043.6 L648.5 1043.1 L650.5 1042.6 L652.5 1042.1 L654.5 1041.7 L656.5 1041.2 L658.5 1040.8 L660.5 1040.3 L662.5 1039.9 L664.5 1039.5 L665.0 1039.4 L666.5 1039.1 L668.5 1038.7 L670.5 1038.4 L672.5 1038.0 L674.5 1037.7 L676.5 1037.3 L678.5 1037.0 L680.0 1036.7 L680.5 1036.6 L682.5 1036.2 L684.5 1035.8 L686.5 1035.4 L688.5 1035.0 L690.5 1034.6 L692.5 1034.1 L694.5 1033.7 L696.5 1033.3 L698.5 1032.8 L700.5 1032.4 L702.5 1032.0 L704.5 1031.5 L706.5 1031.1 L708.5 1030.7 L710.5 1030.2 L712.5 1029.8 L714.5 1029.4 L715.1 1029.3 L716.5 1029.0 L718.5 1028.6 L720.5 1028.2 L722.5 1027.8 L724.5 1027.4 L726.5 1027.0 L728.5 1026.6 L730.5 1026.3 L732.5 1025.9 L734.5 1025.5 L736.5 1025.1 L738.5 1024.7 L740.5 1024.3 L742.5 1023.9 L744.5 1023.6 L746.5 1023.2 L748.5 1022.8 L750.5 1022.4 L752.5 1022.1 L754.5 1021.7 L756.5 1021.3 L758.5 1020.9 L760.5 1020.5 L762.5 1020.2 L762.9 1020.1 L764.5 1019.8 L766.5 1019.4 L768.5 1019.0 L770.5 1018.7 L772.5 1018.3 L774.5 1017.9 L776.5 1017.5 L778.5 1017.1 L780.5 1016.8 L782.5 1016.4 L784.5 1016.0 L786.5 1015.6 L788.5 1015.2 L790.5 1014.9 L792.5 1014.5 L794.5 1014.1 L796.5 1013.8 L798.5 1013.4 L800.5 1013.1 L802.5 1012.7 L804.5 1012.4 L806.5 1012.0 L808.5 1011.7 L810.5 1011.4 L811.7 1011.2 L812.5 1011.1 L814.5 1010.8 L816.5 1010.5 L818.5 1010.2 L820.5 1009.9 L822.5 1009.6 L824.5 1009.3 L826.5 1009.0 L828.5 1008.7 L830.5 1008.4 L832.5 1008.1 L834.5 1007.9 L836.5 1007.6 L838.5 1007.3 L840.5 1007.0 L842.5 1006.8 L844.5 1006.5 L846.5 1006.2 L848.5 1006.0 L850.5 1005.7 L852.5 1005.4 L854.5 1005.2 L856.5 1004.9 L858.5 1004.7 L860.5 1004.4 L860.6 1004.4 L862.5 1004.2 L864.5 1003.9 L866.5 1003.6 L868.5 1003.4 L870.5 1003.1 L872.5 1002.9 L874.5 1002.6 L876.5 1002.3 L878.5 1002.1 L880.5 1001.8 L882.5 1001.6 L884.5 1001.3 L886.5 1001.1 L888.5 1000.8 L890.5 1000.6 L892.5 1000.3 L894.5 1000.1 L896.5 999.9 L898.5 999.6 L900.5 999.4 L902.5 999.2 L904.5 999.0 L906.5 998.8 L908.5 998.6 L909.5 998.5 L910.5 998.4 L912.5 998.2 L914.5 998.0 L916.5 997.9 L918.5 997.7 L920.5 997.5 L922.5 997.3 L924.5 997.2 L926.5 997.0 L928.5 996.8 L930.5 996.7 L932.5 996.5 L934.5 996.4 L936.5 996.2 L938.5 996.1 L940.5 995.9 L942.5 995.8 L944.5 995.6 L946.5 995.5 L948.5 995.3 L950.5 995.2 L952.5 995.0 L954.5 994.9 L956.5 994.7 L958.3 994.6 L958.5 994.6 L960.5 994.4 L962.5 994.3 L964.5 994.1 L966.5 993.9 L968.5 993.8 L970.5 993.6 L972.5 993.4 L974.5 993.3 L976.5 993.1 L978.5 992.9 L980.5 992.8 L982.5 992.6 L984.5 992.4 L986.5 992.3 L988.5 992.1 L990.5 992.0 L992.5 991.8 L994.5 991.7 L996.5 991.6 L998.5 991.4 L1000.5 991.3 L1002.5 991.2 L1004.5 991.1 L1006.5 991.1 L1008.3 991.0 L1008.5 991.0 L1010.5 990.9 L1012.5 990.9 L1014.5 990.8 L1016.5 990.7 L1018.5 990.7 L1020.5 990.6 L1022.5 990.6 L1024.5 990.5 L1026.5 990.5 L1028.5 990.4 L1030.5 990.4 L1032.5 990.3 L1034.5 990.3 L1036.5 990.2 L1038.5 990.2 L1040.5 990.1 L1042.5 990.1 L1044.5 990.1 L1046.5 990.1 L1048.5 990.0 L1050.5 990.0 L1052.5 990.0 L1054.5 990.0 L1056.5 990.0 L1057.1 990.0 L1058.5 990.0 L1060.5 990.0 L1062.5 990.0 L1064.5 990.0 L1066.5 990.0 L1068.5 990.0 L1070.5 990.0 L1072.5 990.1 L1074.5 990.1 L1076.5 990.1 L1078.5 990.1 L1080.5 990.1 L1082.5 990.1 L1084.5 990.1 L1086.5 990.2 L1088.5 990.2 L1090.5 990.2 L1092.5 990.2 L1094.5 990.2 L1096.5 990.3 L1098.5 990.3 L1100.5 990.3 L1102.5 990.3 L1104.5 990.4 L1106.5 990.4 L1107.1 990.4 L1108.5 990.4 L1110.5 990.4 L1112.5 990.5 L1114.5 990.5 L1116.5 990.5 L1118.5 990.6 L1120.5 990.6 L1122.5 990.7 L1124.5 990.7 L1126.5 990.8 L1128.5 990.8 L1130.5 990.9 L1132.5 990.9 L1134.5 991.0 L1136.5 991.0 L1138.5 991.1 L1140.5 991.2 L1142.5 991.2 L1144.5 991.3 L1146.5 991.4 L1148.5 991.4 L1150.5 991.5 L1152.5 991.6 L1154.5 991.6 L1156.1 991.7 L1156.5 991.7 L1158.5 991.8 L1160.5 991.9 L1162.5 992.0 L1164.5 992.0 L1166.5 992.1 L1168.5 992.2 L1170.5 992.3 L1172.5 992.5 L1174.5 992.6 L1176.5 992.7 L1178.5 992.8 L1180.5 992.9 L1182.5 993.0 L1184.5 993.2 L1186.5 993.3 L1188.5 993.4 L1190.5 993.6 L1192.5 993.7 L1194.5 993.8 L1196.5 994.0 L1198.5 994.1 L1200.5 994.3 L1202.5 994.4 L1204.5 994.6 L1205.0 994.6 L1206.5 994.7 L1208.5 994.9 L1210.5 995.0 L1212.5 995.2 L1214.5 995.4 L1216.5 995.6 L1218.5 995.7 L1220.5 995.9 L1222.5 996.1 L1224.5 996.3 L1226.5 996.5 L1228.5 996.7 L1230.5 996.9 L1232.5 997.1 L1234.5 997.4 L1236.5 997.6 L1238.5 997.8 L1240.5 998.0 L1242.5 998.2 L1244.5 998.4 L1246.5 998.7 L1248.5 998.9 L1250.5 999.1 L1252.5 999.3 L1253.9 999.5 L1254.5 999.6 L1256.5 999.8 L1258.5 1000.0 L1260.5 1000.3 L1262.5 1000.5 L1264.5 1000.8 L1266.5 1001.0 L1268.5 1001.2 L1270.5 1001.5 L1272.5 1001.8 L1274.5 1002.0 L1276.5 1002.3 L1278.5 1002.5 L1280.5 1002.8 L1282.5 1003.1 L1284.5 1003.3 L1286.5 1003.6 L1288.5 1003.9 L1290.5 1004.1 L1292.5 1004.4 L1294.5 1004.7 L1296.5 1004.9 L1298.5 1005.2 L1300.5 1005.5 L1302.5 1005.7 L1303.8 1005.9 L1304.5 1006.0 L1306.5 1006.3 L1308.5 1006.5 L1310.5 1006.8 L1312.5 1007.0 L1314.5 1007.3 L1316.5 1007.5 L1318.5 1007.8 L1320.5 1008.1 L1322.5 1008.3 L1324.5 1008.6 L1326.5 1008.8 L1328.5 1009.1 L1330.5 1009.3 L1332.5 1009.6 L1334.5 1009.9 L1336.5 1010.1 L1338.5 1010.4 L1340.5 1010.7 L1342.5 1011.0 L1344.5 1011.3 L1346.5 1011.5 L1348.5 1011.8 L1350.5 1012.1 L1351.6 1012.3 L1352.5 1012.4 L1354.5 1012.7 L1356.5 1013.1 L1358.5 1013.4 L1360.5 1013.7 L1362.5 1014.0 L1364.5 1014.4 L1366.5 1014.7 L1368.5 1015.1 L1370.5 1015.4 L1372.5 1015.8 L1374.5 1016.1 L1376.5 1016.5 L1378.5 1016.9 L1380.5 1017.2 L1382.5 1017.6 L1384.5 1017.9 L1386.5 1018.3 L1388.5 1018.7 L1390.5 1019.0 L1392.5 1019.4 L1394.5 1019.7 L1396.5 1020.1 L1398.5 1020.5 L1400.5 1020.8 L1402.5 1021.1 L1404.5 1021.5 L1406.5 1021.8 L1408.5 1022.2 L1410.5 1022.5 L1412.5 1022.9 L1414.5 1023.2 L1416.5 1023.5 L1418.5 1023.9 L1420.5 1024.2 L1422.5 1024.6 L1424.5 1024.9 L1426.5 1025.2 L1428.5 1025.6 L1430.5 1025.9 L1432.5 1026.3 L1434.5 1026.6 L1436.5 1027.0 L1438.5 1027.3 L1440.5 1027.7 L1442.5 1028.0 L1444.5 1028.4 L1446.5 1028.8 L1448.5 1029.2 L1449.3 1029.3 L1450.5 1029.5 L1452.5 1029.9 L1454.5 1030.3 L1456.5 1030.7 L1458.5 1031.1 L1460.5 1031.5 L1462.5 1031.9 L1464.5 1032.3 L1466.5 1032.7 L1468.5 1033.1 L1470.5 1033.5 L1472.5 1033.9 L1474.5 1034.4 L1476.5 1034.8 L1478.5 1035.2 L1480.5 1035.6 L1482.5 1036.0 L1484.5 1036.4 L1486.5 1036.8 L1488.5 1037.3 L1490.5 1037.7 L1492.5 1038.1 L1494.5 1038.5 L1496.1 1038.8 L1496.5 1038.9 L1498.5 1039.3 L1500.5 1039.7 L1502.5 1040.1 L1504.5 1040.5 L1506.5 1040.9 L1508.5 1041.3 L1510.5 1041.7 L1512.5 1042.0 L1514.5 1042.4 L1516.5 1042.8 L1518.5 1043.2 L1520.5 1043.6 L1522.5 1044.0 L1524.5 1044.4 L1526.5 1044.8 L1528.5 1045.2 L1530.5 1045.6 L1532.5 1046.0 L1534.5 1046.4 L1536.5 1046.7 L1538.5 1047.1 L1540.5 1047.5 L1542.5 1047.9 L1544.5 1048.3 L1544.9 1048.4 L1546.5 1048.7 L1548.5 1049.1 L1550.5 1049.5 L1552.5 1049.9 L1554.5 1050.3 L1556.5 1050.7 L1558.5 1051.1 L1560.5 1051.5 L1562.5 1051.9 L1564.5 1052.3 L1566.5 1052.7 L1568.5 1053.1 L1570.5 1053.5 L1572.5 1053.9 L1574.5 1054.3 L1576.5 1054.7 L1578.5 1055.1 L1580.5 1055.5 L1582.5 1055.9 L1584.5 1056.3 L1586.5 1056.7 L1588.5 1057.1 L1590.5 1057.5 L1592.5 1057.9 L1594.0 1058.2 L1594.5 1058.3 L1596.5 1058.7 L1598.5 1059.1 L1600.5 1059.5 L1602.5 1059.9 L1604.5 1060.3 L1606.5 1060.7 L1608.5 1061.1 L1610.5 1061.5 L1612.5 1061.9 L1614.5 1062.3 L1616.5 1062.7 L1618.5 1063.1 L1620.5 1063.5 L1622.5 1063.9 L1624.5 1064.3 L1626.5 1064.7 L1628.5 1065.1 L1630.5 1065.5 L1632.5 1065.9 L1634.5 1066.3 L1636.5 1066.6 L1638.5 1067.0 L1640.5 1067.4 L1642.5 1067.7 L1642.9 1067.8 L1644.5 1068.1 L1646.5 1068.4 L1648.5 1068.8 L1650.5 1069.1 L1652.5 1069.4 L1654.5 1069.8 L1656.5 1070.1 L1658.5 1070.4 L1660.5 1070.8 L1662.5 1071.1 L1664.5 1071.4 L1666.5 1071.7 L1668.5 1072.0 L1670.5 1072.4 L1672.5 1072.7 L1674.5 1073.0 L1676.5 1073.3 L1678.5 1073.6 L1680.5 1073.9 L1682.5 1074.2 L1684.5 1074.5 L1686.5 1074.8 L1688.5 1075.1 L1690.5 1075.4 L1691.7 1075.6 L1692.5 1075.7 L1694.5 1076.0 L1696.5 1076.3 L1698.5 1076.6 L1700.5 1076.9 L1702.5 1077.2 L1704.5 1077.5 L1706.5 1077.9 L1708.5 1078.2 L1710.5 1078.5 L1712.5 1078.8 L1714.5 1079.1 L1716.5 1079.4 L1718.5 1079.6 L1720.5 1079.9 L1722.5 1080.2 L1724.5 1080.5 L1726.5 1080.8 L1728.5 1081.1 L1730.5 1081.3 L1732.5 1081.6 L1734.5 1081.9 L1736.5 1082.1 L1738.5 1082.3 L1740.5 1082.6 L1740.6 1082.6 L1742.5 1082.8 L1744.5 1083.1 L1746.5 1083.3 L1748.5 1083.5 L1750.5 1083.7 L1752.5 1083.9 L1754.5 1084.2 L1756.5 1084.4 L1758.5 1084.6 L1760.5 1084.8 L1762.5 1085.0 L1764.5 1085.2 L1766.5 1085.4 L1768.5 1085.6 L1770.5 1085.8 L1772.5 1086.0 L1774.5 1086.2 L1776.5 1086.3 L1778.5 1086.5 L1780.5 1086.7 L1782.5 1086.9 L1784.5 1087.1 L1786.5 1087.2 L1788.5 1087.4 L1789.5 1087.5 L1790.5 1087.6 L1792.5 1087.8 L1794.5 1087.9 L1796.5 1088.1 L1798.5 1088.2 L1800.5 1088.4 L1802.5 1088.6 L1804.5 1088.7 L1806.5 1088.9 L1808.5 1089.0 L1810.5 1089.2 L1812.5 1089.3 L1814.5 1089.5 L1816.5 1089.6 L1818.5 1089.8 L1820.5 1089.9 L1822.5 1090.0 L1824.5 1090.2 L1826.5 1090.3 L1828.5 1090.5 L1830.5 1090.6 L1832.5 1090.7 L1834.5 1090.9 L1836.5 1091.0 L1838.3 1091.1 L1838.5 1091.1 L1840.5 1091.2 L1842.5 1091.4 L1844.5 1091.5 L1846.5 1091.6 L1848.5 1091.7 L1850.5 1091.8 L1852.5 1091.9 L1854.5 1092.0 L1856.5 1092.1 L1858.5 1092.2 L1860.5 1092.4 L1862.5 1092.5 L1864.5 1092.6 L1866.5 1092.7 L1868.5 1092.8 L1870.5 1092.9 L1872.5 1093.0 L1874.5 1093.1 L1876.5 1093.2 L1878.5 1093.3 L1880.5 1093.4 L1882.5 1093.5 L1884.5 1093.7 L1886.5 1093.8 L1888.3 1093.9 L1888.5 1093.9 L1890.5 1094.0 L1892.5 1094.2 L1894.5 1094.3 L1896.5 1094.4 L1898.5 1094.6 L1900.5 1094.7 L1902.5 1094.9 L1904.5 1095.0 L1906.5 1095.2 L1908.5 1095.3 L1910.5 1095.5 L1912.5 1095.6 L1914.5 1095.8 L1916.5 1095.9 L1918.5 1096.1 L1920.5 1096.3 L1922.5 1096.4 L1924.5 1096.6 L1926.5 1096.7 L1928.5 1096.9 L1930.5 1097.0 L1932.5 1097.2 L1934.5 1097.4 L1936.1 1097.5 L1936.5 1097.5 L1938.5 1097.7 L1940.5 1097.8 L1942.5 1098.0 L1944.5 1098.2 L1946.5 1098.3 L1948.5 1098.5 L1950.5 1098.6 L1952.5 1098.8 L1954.5 1098.9 L1956.5 1099.1 L1958.5 1099.2 L1960.5 1099.4 L1962.5 1099.6 L1964.5 1099.7 L1966.5 1099.9 L1968.5 1100.1 L1970.5 1100.3 L1972.5 1100.4 L1974.5 1100.6 L1976.5 1100.8 L1978.5 1101.0 L1980.5 1101.2 L1982.5 1101.4 L1984.5 1101.6 L1986.0 1101.8 L1986.5 1101.9 L1988.5 1102.1 L1990.5 1102.3 L1992.5 1102.6 L1994.5 1102.9 L1996.5 1103.2 L1998.5 1103.5 L2000.5 1103.8 L2002.5 1104.1 L2004.5 1104.5 L2006.5 1104.8 L2008.5 1105.2 L2010.5 1105.5 L2012.5 1105.8 L2014.5 1106.2 L2016.5 1106.5 L2018.5 1106.9 L2020.5 1107.2 L2022.5 1107.6 L2024.5 1107.9 L2026.5 1108.3 L2028.5 1108.6 L2030.5 1108.9 L2032.5 1109.2 L2033.9 1109.4 L2034.5 1109.5 L2036.5 1109.8 L2038.5 1110.1 L2040.5 1110.3 L2042.5 1110.6 L2044.5 1110.9 L2046.5 1111.2 L2048.5 1111.4 L2050.5 1111.7 L2052.5 1112.0 L2054.5 1112.2 L2056.5 1112.5 L2058.5 1112.7 L2060.5 1113.0"/>
<path stroke="#000000" stroke-width="13.2" shape-rendering="crispEdges" stroke-dasharray="49.7 12.05 24.75 12.05" d="M254.5 1108.5 L256.5 1108.2 L258.5 1107.9 L260.5 1107.6 L262.5 1107.3 L264.5 1107.0 L266.5 1106.7 L268.5 1106.5 L270.5 1106.2 L272.5 1106.0 L274.5 1105.7 L276.5 1105.5 L278.2 1105.3 L278.5 1105.3 L280.5 1105.1 L282.5 1104.9 L284.5 1104.7 L286.5 1104.5 L288.5 1104.3 L290.5 1104.1 L292.5 1104.0 L294.5 1103.8 L296.5 1103.7 L298.5 1103.5 L300.5 1103.3 L302.5 1103.2 L304.5 1103.0 L306.5 1102.9 L308.5 1102.7 L310.5 1102.6 L312.5 1102.4 L314.5 1102.3 L316.5 1102.1 L318.5 1102.0 L320.5 1101.8 L322.5 1101.6 L324.5 1101.5 L326.5 1101.3 L327.6 1101.2 L328.5 1101.1 L330.5 1100.9 L332.5 1100.7 L334.5 1100.6 L336.5 1100.4 L338.5 1100.2 L340.5 1100.0 L342.5 1099.8 L344.5 1099.6 L346.5 1099.4 L348.5 1099.2 L350.5 1099.0 L352.5 1098.8 L354.5 1098.6 L356.5 1098.4 L358.5 1098.2 L360.5 1098.0 L362.5 1097.8 L364.5 1097.6 L366.5 1097.4 L368.5 1097.1 L370.5 1096.9 L372.5 1096.7 L374.5 1096.4 L376.5 1096.2 L378.0 1096.0 L378.5 1095.9 L380.5 1095.7 L382.5 1095.4 L384.5 1095.1 L386.5 1094.9 L388.5 1094.6 L390.5 1094.3 L392.5 1094.0 L394.5 1093.7 L396.5 1093.4 L398.5 1093.1 L400.5 1092.7 L402.5 1092.4 L404.5 1092.1 L406.5 1091.8 L408.5 1091.5 L410.5 1091.1 L412.5 1090.8 L414.5 1090.5 L416.5 1090.1 L418.5 1089.8 L420.5 1089.5 L422.5 1089.2 L424.5 1088.8 L426.0 1088.6 L426.5 1088.5 L428.5 1088.2 L430.5 1087.9 L432.5 1087.6 L434.5 1087.3 L436.5 1086.9 L438.5 1086.6 L440.5 1086.3 L442.5 1086.0 L444.5 1085.7 L446.5 1085.4 L448.5 1085.0 L450.5 1084.7 L452.5 1084.4 L454.5 1084.1 L456.5 1083.7 L458.5 1083.4 L460.5 1083.1 L462.5 1082.7 L464.5 1082.4 L466.5 1082.1 L468.5 1081.7 L470.5 1081.4 L472.5 1081.0 L473.7 1080.8 L474.5 1080.7 L476.5 1080.3 L478.5 1079.9 L480.5 1079.6 L482.5 1079.2 L484.5 1078.8 L486.5 1078.4 L488.5 1078.1 L490.5 1077.7 L492.5 1077.3 L494.5 1076.9 L496.5 1076.5 L498.5 1076.1 L500.5 1075.7 L502.5 1075.3 L504.5 1074.9 L506.5 1074.5 L508.5 1074.1 L510.5 1073.7 L512.5 1073.3 L514.5 1072.9 L516.5 1072.5 L518.5 1072.0 L520.5 1071.6 L522.5 1071.2 L522.6 1071.2 L524.5 1070.8 L526.5 1070.4 L528.5 1070.0 L530.5 1069.5 L532.5 1069.1 L534.5 1068.7 L536.5 1068.3 L538.5 1067.8 L540.5 1067.4 L542.5 1067.0 L544.5 1066.5 L546.5 1066.1 L548.5 1065.6 L550.5 1065.2 L552.5 1064.8 L554.5 1064.3 L556.5 1063.9 L558.5 1063.4 L560.5 1063.0 L562.5 1062.6 L564.5 1062.1 L566.5 1061.7 L568.5 1061.2 L570.5 1060.8 L571.4 1060.6 L572.5 1060.4 L574.5 1059.9 L576.5 1059.5 L578.5 1059.1 L580.5 1058.6 L582.5 1058.2 L584.5 1057.8 L586.5 1057.3 L588.5 1056.9 L590.5 1056.5 L592.5 1056.0 L594.5 1055.6 L596.5 1055.2 L598.5 1054.7 L600.5 1054.3 L602.5 1053.9 L604.5 1053.4 L606.5 1053.0 L608.5 1052.6 L610.5 1052.1 L612.5 1051.7 L614.5 1051.2 L616.5 1050.8 L618.5 1050.3 L620.0 1050.0 L620.5 1049.9 L622.5 1049.4 L624.5 1049.0 L626.5 1048.5 L628.5 1048.0 L630.5 1047.5 L632.5 1047.0 L634.5 1046.5 L636.5 1046.0 L638.5 1045.5 L640.5 1045.0 L642.5 1044.5 L644.5 1044.1 L646.5 1043.6 L648.5 1043.1 L650.5 1042.6 L652.5 1042.1 L654.5 1041.7 L656.5 1041.2 L658.5 1040.8 L660.5 1040.3 L662.5 1039.9 L664.5 1039.5 L665.0 1039.4 L666.5 1039.1 L668.5 1038.7 L670.5 1038.4 L672.5 1038.0 L674.5 1037.7 L676.5 1037.3 L678.5 1037.0 L680.0 1036.7 L680.5 1036.6 L682.5 1036.2 L684.5 1035.8 L686.5 1035.4 L688.5 1035.0 L690.5 1034.6 L692.5 1034.1 L694.5 1033.7 L696.5 1033.3 L698.5 1032.8 L700.5 1032.4 L702.5 1032.0 L704.5 1031.5 L706.5 1031.1 L708.5 1030.7 L710.5 1030.2 L712.5 1029.8 L714.5 1029.4 L715.1 1029.3 L716.5 1029.0 L718.5 1028.6 L720.5 1028.2 L722.5 1027.8 L724.5 1027.4 L726.5 1027.0 L728.5 1026.6 L730.5 1026.3 L732.5 1025.9 L734.5 1025.5 L736.5 1025.1 L738.5 1024.7 L740.5 1024.3 L742.5 1023.9 L744.5 1023.6 L746.5 1023.2 L748.5 1022.8 L750.5 1022.4 L752.5 1022.1 L754.5 1021.7 L756.5 1021.3 L758.5 1020.9 L760.5 1020.5 L762.5 1020.2 L762.9 1020.1 L764.5 1019.8 L766.5 1019.4 L768.5 1019.0 L770.5 1018.7 L772.5 1018.3 L774.5 1017.9 L776.5 1017.5 L778.5 1017.1 L780.5 1016.8 L782.5 1016.4 L784.5 1016.0 L786.5 1015.6 L788.5 1015.2 L790.5 1014.9 L792.5 1014.5 L794.5 1014.1 L796.5 1013.8 L798.5 1013.4 L800.5 1013.1 L802.5 1012.7 L804.5 1012.4 L806.5 1012.0 L808.5 1011.7 L810.5 1011.4 L811.7 1011.2 L812.5 1011.1 L814.5 1010.8 L816.5 1010.5 L818.5 1010.2 L820.5 1009.9 L822.5 1009.6 L824.5 1009.3 L826.5 1009.0 L828.5 1008.7 L830.5 1008.4 L832.5 1008.1 L834.5 1007.9 L836.5 1007.6 L838.5 1007.3 L840.5 1007.0 L842.5 1006.8 L844.5 1006.5 L846.5 1006.2 L848.5 1006.0 L850.5 1005.7 L852.5 1005.4 L854.5 1005.2 L856.5 1004.9 L858.5 1004.7 L860.5 1004.4 L860.6 1004.4 L862.5 1004.2 L864.5 1003.9 L866.5 1003.6 L868.5 1003.4 L870.5 1003.1 L872.5 1002.9 L874.5 1002.6 L876.5 1002.3 L878.5 1002.1 L880.5 1001.8 L882.5 1001.6 L884.5 1001.3 L886.5 1001.1 L888.5 1000.8 L890.5 1000.6 L892.5 1000.3 L894.5 1000.1 L896.5 999.9 L898.5 999.6 L900.5 999.4 L902.5 999.2 L904.5 999.0 L906.5 998.8 L908.5 998.6 L909.5 998.5 L910.5 998.4 L912.5 998.2 L914.5 998.0 L916.5 997.9 L918.5 997.7 L920.5 997.5 L922.5 997.3 L924.5 997.2 L926.5 997.0 L928.5 996.8 L930.5 996.7 L932.5 996.5 L934.5 996.4 L936.5 996.2 L938.5 996.1 L940.5 995.9 L942.5 995.8 L944.5 995.6 L946.5 995.5 L948.5 995.3 L950.5 995.2 L952.5 995.0 L954.5 994.9 L956.5 994.7 L958.3 994.6 L958.5 994.6 L960.5 994.4 L962.5 994.3 L964.5 994.1 L966.5 993.9 L968.5 993.8 L970.5 993.6 L972.5 993.4 L974.5 993.3 L976.5 993.1 L978.5 992.9 L980.5 992.8 L982.5 992.6 L984.5 992.4 L986.5 992.3 L988.5 992.1 L990.5 992.0 L992.5 991.8 L994.5 991.7 L996.5 991.6 L998.5 991.4 L1000.5 991.3 L1002.5 991.2 L1004.5 991.1 L1006.5 991.1 L1008.3 991.0 L1008.5 991.0 L1010.5 990.9 L1012.5 990.9 L1014.5 990.8 L1016.5 990.7 L1018.5 990.7 L1020.5 990.6 L1022.5 990.6 L1024.5 990.5 L1026.5 990.5 L1028.5 990.4 L1030.5 990.4 L1032.5 990.3 L1034.5 990.3 L1036.5 990.2 L1038.5 990.2 L1040.5 990.1 L1042.5 990.1 L1044.5 990.1 L1046.5 990.1 L1048.5 990.0 L1050.5 990.0 L1052.5 990.0 L1054.5 990.0 L1056.5 990.0 L1057.1 990.0 L1058.5 990.0 L1060.5 990.0 L1062.5 990.0 L1064.5 990.0 L1066.5 990.0 L1068.5 990.0 L1070.5 990.0 L1072.5 990.1 L1074.5 990.1 L1076.5 990.1 L1078.5 990.1 L1080.5 990.1 L1082.5 990.1 L1084.5 990.1 L1086.5 990.2 L1088.5 990.2 L1090.5 990.2 L1092.5 990.2 L1094.5 990.2 L1096.5 990.3 L1098.5 990.3 L1100.5 990.3 L1102.5 990.3 L1104.5 990.4 L1106.5 990.4 L1107.1 990.4 L1108.5 990.4 L1110.5 990.4 L1112.5 990.5 L1114.5 990.5 L1116.5 990.5 L1118.5 990.6 L1120.5 990.6 L1122.5 990.7 L1124.5 990.7 L1126.5 990.8 L1128.5 990.8 L1130.5 990.9 L1132.5 990.9 L1134.5 991.0 L1136.5 991.0 L1138.5 991.1 L1140.5 991.2 L1142.5 991.2 L1144.5 991.3 L1146.5 991.4 L1148.5 991.4 L1150.5 991.5 L1152.5 991.6 L1154.5 991.6 L1156.1 991.7 L1156.5 991.7 L1158.5 991.8 L1160.5 991.9 L1162.5 992.0 L1164.5 992.0 L1166.5 992.1 L1168.5 992.2 L1170.5 992.3 L1172.5 992.5 L1174.5 992.6 L1176.5 992.7 L1178.5 992.8 L1180.5 992.9 L1182.5 993.0 L1184.5 993.2 L1186.5 993.3 L1188.5 993.4 L1190.5 993.6 L1192.5 993.7 L1194.5 993.8 L1196.5 994.0 L1198.5 994.1 L1200.5 994.3 L1202.5 994.4 L1204.5 994.6 L1205.0 994.6 L1206.5 994.7 L1208.5 994.9 L1210.5 995.0 L1212.5 995.2 L1214.5 995.4 L1216.5 995.6 L1218.5 995.7 L1220.5 995.9 L1222.5 996.1 L1224.5 996.3 L1226.5 996.5 L1228.5 996.7 L1230.5 996.9 L1232.5 997.1 L1234.5 997.4 L1236.5 997.6 L1238.5 997.8 L1240.5 998.0 L1242.5 998.2 L1244.5 998.4 L1246.5 998.7 L1248.5 998.9 L1250.5 999.1 L1252.5 999.3 L1253.9 999.5 L1254.5 999.6 L1256.5 999.8 L1258.5 1000.0 L1260.5 1000.3 L1262.5 1000.5 L1264.5 1000.8 L1266.5 1001.0 L1268.5 1001.2 L1270.5 1001.5 L1272.5 1001.8 L1274.5 1002.0 L1276.5 1002.3 L1278.5 1002.5 L1280.5 1002.8 L1282.5 1003.1 L1284.5 1003.3 L1286.5 1003.6 L1288.5 1003.9 L1290.5 1004.1 L1292.5 1004.4 L1294.5 1004.7 L1296.5 1004.9 L1298.5 1005.2 L1300.5 1005.5 L1302.5 1005.7 L1303.8 1005.9 L1304.5 1006.0 L1306.5 1006.3 L1308.5 1006.5 L1310.5 1006.8 L1312.5 1007.0 L1314.5 1007.3 L1316.5 1007.5 L1318.5 1007.8 L1320.5 1008.1 L1322.5 1008.3 L1324.5 1008.6 L1326.5 1008.8 L1328.5 1009.1 L1330.5 1009.3 L1332.5 1009.6 L1334.5 1009.9 L1336.5 1010.1 L1338.5 1010.4 L1340.5 1010.7 L1342.5 1011.0 L1344.5 1011.3 L1346.5 1011.5 L1348.5 1011.8 L1350.5 1012.1 L1351.6 1012.3 L1352.5 1012.4 L1354.5 1012.7 L1356.5 1013.1 L1358.5 1013.4 L1360.5 1013.7 L1362.5 1014.0 L1364.5 1014.4 L1366.5 1014.7 L1368.5 1015.1 L1370.5 1015.4 L1372.5 1015.8 L1374.5 1016.1 L1376.5 1016.5 L1378.5 1016.9 L1380.5 1017.2 L1382.5 1017.6 L1384.5 1017.9 L1386.5 1018.3 L1388.5 1018.7 L1390.5 1019.0 L1392.5 1019.4 L1394.5 1019.7 L1396.5 1020.1 L1398.5 1020.5 L1400.5 1020.8 L1402.5 1021.1 L1404.5 1021.5 L1406.5 1021.8 L1408.5 1022.2 L1410.5 1022.5 L1412.5 1022.9 L1414.5 1023.2 L1416.5 1023.5 L1418.5 1023.9 L1420.5 1024.2 L1422.5 1024.6 L1424.5 1024.9 L1426.5 1025.2 L1428.5 1025.6 L1430.5 1025.9 L1432.5 1026.3 L1434.5 1026.6 L1436.5 1027.0 L1438.5 1027.3 L1440.5 1027.7 L1442.5 1028.0 L1444.5 1028.4 L1446.5 1028.8 L1448.5 1029.2 L1449.3 1029.3 L1450.5 1029.5 L1452.5 1029.9 L1454.5 1030.3 L1456.5 1030.7 L1458.5 1031.1 L1460.5 1031.5 L1462.5 1031.9 L1464.5 1032.3 L1466.5 1032.7 L1468.5 1033.1 L1470.5 1033.5 L1472.5 1033.9 L1474.5 1034.4 L1476.5 1034.8 L1478.5 1035.2 L1480.5 1035.6 L1482.5 1036.0 L1484.5 1036.4 L1486.5 1036.8 L1488.5 1037.3 L1490.5 1037.7 L1492.5 1038.1 L1494.5 1038.5 L1496.1 1038.8 L1496.5 1038.9 L1498.5 1039.3 L1500.5 1039.7 L1502.5 1040.1 L1504.5 1040.5 L1506.5 1040.9 L1508.5 1041.3 L1510.5 1041.7 L1512.5 1042.0 L1514.5 1042.4 L1516.5 1042.8 L1518.5 1043.2 L1520.5 1043.6 L1522.5 1044.0 L1524.5 1044.4 L1526.5 1044.8 L1528.5 1045.2 L1530.5 1045.6 L1532.5 1046.0 L1534.5 1046.4 L1536.5 1046.7 L1538.5 1047.1 L1540.5 1047.5 L1542.5 1047.9 L1544.5 1048.3 L1544.9 1048.4 L1546.5 1048.7 L1548.5 1049.1 L1550.5 1049.5 L1552.5 1049.9 L1554.5 1050.3 L1556.5 1050.7 L1558.5 1051.1 L1560.5 1051.5 L1562.5 1051.9 L1564.5 1052.3 L1566.5 1052.7 L1568.5 1053.1 L1570.5 1053.5 L1572.5 1053.9 L1574.5 1054.3 L1576.5 1054.7 L1578.5 1055.1 L1580.5 1055.5 L1582.5 1055.9 L1584.5 1056.3 L1586.5 1056.7 L1588.5 1057.1 L1590.5 1057.5 L1592.5 1057.9 L1594.0 1058.2 L1594.5 1058.3 L1596.5 1058.7 L1598.5 1059.1 L1600.5 1059.5 L1602.5 1059.9 L1604.5 1060.3 L1606.5 1060.7 L1608.5 1061.1 L1610.5 1061.5 L1612.5 1061.9 L1614.5 1062.3 L1616.5 1062.7 L1618.5 1063.1 L1620.5 1063.5 L1622.5 1063.9 L1624.5 1064.3 L1626.5 1064.7 L1628.5 1065.1 L1630.5 1065.5 L1632.5 1065.9 L1634.5 1066.3 L1636.5 1066.6 L1638.5 1067.0 L1640.5 1067.4 L1642.5 1067.7 L1642.9 1067.8 L1644.5 1068.1 L1646.5 1068.4 L1648.5 1068.8 L1650.5 1069.1 L1652.5 1069.4 L1654.5 1069.8 L1656.5 1070.1 L1658.5 1070.4 L1660.5 1070.8 L1662.5 1071.1 L1664.5 1071.4 L1666.5 1071.7 L1668.5 1072.0 L1670.5 1072.4 L1672.5 1072.7 L1674.5 1073.0 L1676.5 1073.3 L1678.5 1073.6 L1680.5 1073.9 L1682.5 1074.2 L1684.5 1074.5 L1686.5 1074.8 L1688.5 1075.1 L1690.5 1075.4 L1691.7 1075.6 L1692.5 1075.7 L1694.5 1076.0 L1696.5 1076.3 L1698.5 1076.6 L1700.5 1076.9 L1702.5 1077.2 L1704.5 1077.5 L1706.5 1077.9 L1708.5 1078.2 L1710.5 1078.5 L1712.5 1078.8 L1714.5 1079.1 L1716.5 1079.4 L1718.5 1079.6 L1720.5 1079.9 L1722.5 1080.2 L1724.5 1080.5 L1726.5 1080.8 L1728.5 1081.1 L1730.5 1081.3 L1732.5 1081.6 L1734.5 1081.9 L1736.5 1082.1 L1738.5 1082.3 L1740.5 1082.6 L1740.6 1082.6 L1742.5 1082.8 L1744.5 1083.1 L1746.5 1083.3 L1748.5 1083.5 L1750.5 1083.7 L1752.5 1083.9 L1754.5 1084.2 L1756.5 1084.4 L1758.5 1084.6 L1760.5 1084.8 L1762.5 1085.0 L1764.5 1085.2 L1766.5 1085.4 L1768.5 1085.6 L1770.5 1085.8 L1772.5 1086.0 L1774.5 1086.2 L1776.5 1086.3 L1778.5 1086.5 L1780.5 1086.7 L1782.5 1086.9 L1784.5 1087.1 L1786.5 1087.2 L1788.5 1087.4 L1789.5 1087.5 L1790.5 1087.6 L1792.5 1087.8 L1794.5 1087.9 L1796.5 1088.1 L1798.5 1088.2 L1800.5 1088.4 L1802.5 1088.6 L1804.5 1088.7 L1806.5 1088.9 L1808.5 1089.0 L1810.5 1089.2 L1812.5 1089.3 L1814.5 1089.5 L1816.5 1089.6 L1818.5 1089.8 L1820.5 1089.9 L1822.5 1090.0 L1824.5 1090.2 L1826.5 1090.3 L1828.5 1090.5 L1830.5 1090.6 L1832.5 1090.7 L1834.5 1090.9 L1836.5 1091.0 L1838.3 1091.1 L1838.5 1091.1 L1840.5 1091.2 L1842.5 1091.4 L1844.5 1091.5 L1846.5 1091.6 L1848.5 1091.7 L1850.5 1091.8 L1852.5 1091.9 L1854.5 1092.0 L1856.5 1092.1 L1858.5 1092.2 L1860.5 1092.4 L1862.5 1092.5 L1864.5 1092.6 L1866.5 1092.7 L1868.5 1092.8 L1870.5 1092.9 L1872.5 1093.0 L1874.5 1093.1 L1876.5 1093.2 L1878.5 1093.3 L1880.5 1093.4 L1882.5 1093.5 L1884.5 1093.7 L1886.5 1093.8 L1888.3 1093.9 L1888.5 1093.9 L1890.5 1094.0 L1892.5 1094.2 L1894.5 1094.3 L1896.5 1094.4 L1898.5 1094.6 L1900.5 1094.7 L1902.5 1094.9 L1904.5 1095.0 L1906.5 1095.2 L1908.5 1095.3 L1910.5 1095.5 L1912.5 1095.6 L1914.5 1095.8 L1916.5 1095.9 L1918.5 1096.1 L1920.5 1096.3 L1922.5 1096.4 L1924.5 1096.6 L1926.5 1096.7 L1928.5 1096.9 L1930.5 1097.0 L1932.5 1097.2 L1934.5 1097.4 L1936.1 1097.5 L1936.5 1097.5 L1938.5 1097.7 L1940.5 1097.8 L1942.5 1098.0 L1944.5 1098.2 L1946.5 1098.3 L1948.5 1098.5 L1950.5 1098.6 L1952.5 1098.8 L1954.5 1098.9 L1956.5 1099.1 L1958.5 1099.2 L1960.5 1099.4 L1962.5 1099.6 L1964.5 1099.7 L1966.5 1099.9 L1968.5 1100.1 L1970.5 1100.3 L1972.5 1100.4 L1974.5 1100.6 L1976.5 1100.8 L1978.5 1101.0 L1980.5 1101.2 L1982.5 1101.4 L1984.5 1101.6 L1986.0 1101.8 L1986.5 1101.9 L1988.5 1102.1 L1990.5 1102.3 L1992.5 1102.6 L1994.5 1102.9 L1996.5 1103.2 L1998.5 1103.5 L2000.5 1103.8 L2002.5 1104.1 L2004.5 1104.5 L2006.5 1104.8 L2008.5 1105.2 L2010.5 1105.5 L2012.5 1105.8 L2014.5 1106.2 L2016.5 1106.5 L2018.5 1106.9 L2020.5 1107.2 L2022.5 1107.6 L2024.5 1107.9 L2026.5 1108.3 L2028.5 1108.6 L2030.5 1108.9 L2032.5 1109.2 L2033.9 1109.4 L2034.5 1109.5 L2036.5 1109.8 L2038.5 1110.1 L2040.5 1110.3 L2042.5 1110.6 L2044.5 1110.9 L2046.5 1111.2 L2048.5 1111.4 L2050.5 1111.7 L2052.5 1112.0 L2054.5 1112.2 L2056.5 1112.5 L2058.5 1112.7 L2060.5 1113.0"/>
<path stroke="#00ff00" stroke-width="11.8" stroke-dasharray="49.7 12.05 24.75 12.05" d="M254.5 1236.2 L256.5 1235.9 L258.5 1235.5 L260.5 1235.2 L262.5 1234.9 L264.5 1234.6 L266.5 1234.3 L268.5 1233.9 L270.5 1233.6 L272.5 1233.4 L274.5 1233.1 L276.5 1232.8 L278.5 1232.5 L280.5 1232.3 L282.5 1232.0 L284.5 1231.8 L286.5 1231.5 L288.5 1231.3 L290.5 1231.1 L292.5 1230.9 L294.5 1230.7 L296.5 1230.5 L298.5 1230.3 L300.5 1230.1 L302.5 1229.9 L304.5 1229.7 L306.5 1229.6 L308.5 1229.4 L310.5 1229.2 L312.5 1229.0 L314.5 1228.8 L316.5 1228.6 L318.5 1228.4 L320.5 1228.2 L322.5 1228.0 L324.5 1227.7 L326.5 1227.5 L328.2 1227.3 L328.5 1227.3 L330.5 1227.0 L332.5 1226.7 L334.5 1226.5 L336.5 1226.2 L338.5 1225.9 L340.5 1225.6 L342.5 1225.3 L344.5 1225.0 L346.5 1224.7 L348.5 1224.3 L350.5 1224.0 L352.5 1223.7 L354.5 1223.4 L356.5 1223.0 L358.5 1222.7 L360.5 1222.3 L362.5 1222.0 L364.5 1221.6 L366.5 1221.3 L368.5 1220.9 L370.5 1220.6 L372.5 1220.2 L374.5 1219.8 L376.5 1219.5 L378.1 1219.2 L378.5 1219.1 L380.5 1218.8 L382.5 1218.4 L384.5 1218.0 L386.5 1217.7 L388.5 1217.3 L390.5 1216.9 L392.5 1216.5 L394.5 1216.1 L396.5 1215.7 L398.5 1215.3 L400.5 1214.9 L402.5 1214.5 L404.5 1214.1 L406.5 1213.7 L408.5 1213.3 L410.5 1212.9 L412.5 1212.5 L414.5 1212.1 L416.5 1211.7 L418.5 1211.3 L420.5 1210.8 L422.5 1210.4 L424.5 1210.0 L425.9 1209.7 L426.5 1209.6 L428.5 1209.2 L430.5 1208.7 L432.5 1208.3 L434.5 1207.9 L436.5 1207.4 L438.5 1207.0 L440.5 1206.6 L442.5 1206.1 L444.5 1205.7 L446.5 1205.3 L448.5 1204.8 L450.5 1204.4 L452.5 1203.9 L454.5 1203.5 L456.5 1203.0 L458.5 1202.6 L460.5 1202.1 L462.5 1201.6 L464.5 1201.2 L466.5 1200.7 L468.5 1200.2 L470.5 1199.8 L472.5 1199.3 L473.7 1199.0 L474.5 1198.8 L476.5 1198.3 L478.5 1197.8 L480.5 1197.3 L482.5 1196.8 L484.5 1196.3 L486.5 1195.8 L488.5 1195.3 L490.5 1194.8 L492.5 1194.2 L494.5 1193.7 L496.5 1193.2 L498.5 1192.6 L500.5 1192.1 L502.5 1191.6 L504.5 1191.0 L506.5 1190.5 L508.5 1190.0 L510.5 1189.4 L512.5 1188.9 L514.5 1188.4 L516.5 1187.8 L518.5 1187.3 L520.5 1186.8 L522.5 1186.3 L524.5 1185.8 L526.5 1185.3 L528.5 1184.7 L530.5 1184.2 L532.5 1183.7 L534.5 1183.2 L536.5 1182.7 L538.5 1182.2 L540.5 1181.7 L542.5 1181.2 L544.5 1180.6 L546.5 1180.1 L548.5 1179.6 L550.5 1179.1 L552.5 1178.6 L554.5 1178.1 L556.5 1177.6 L558.5 1177.1 L560.5 1176.5 L562.5 1176.0 L564.5 1175.5 L566.5 1175.0 L568.3 1174.5 L568.5 1174.4 L570.5 1173.9 L572.5 1173.4 L574.5 1172.9 L576.5 1172.3 L578.5 1171.8 L580.5 1171.3 L582.5 1170.7 L584.5 1170.2 L586.5 1169.6 L588.5 1169.1 L590.5 1168.6 L592.5 1168.0 L594.5 1167.5 L596.5 1166.9 L598.5 1166.4 L600.5 1165.9 L602.5 1165.3 L604.5 1164.8 L606.5 1164.3 L608.5 1163.7 L610.5 1163.2 L612.5 1162.7 L614.5 1162.1 L616.1 1161.7 L616.5 1161.6 L618.5 1161.1 L620.5 1160.6 L622.5 1160.0 L624.5 1159.5 L626.5 1159.0 L628.5 1158.5 L630.5 1158.0 L632.5 1157.5 L634.5 1157.0 L636.5 1156.6 L638.5 1156.1 L640.5 1155.6 L642.5 1155.1 L644.5 1154.5 L646.5 1154.0 L648.5 1153.5 L650.5 1153.0 L652.5 1152.5 L654.5 1151.9 L656.5 1151.4 L658.5 1150.8 L660.5 1150.3 L662.5 1149.7 L664.5 1149.1 L664.9 1149.0 L666.5 1148.5 L668.5 1147.8 L670.5 1147.1 L672.5 1146.4 L674.5 1145.7 L676.5 1145.0 L678.5 1144.4 L680.0 1144.0 L680.5 1143.9 L682.5 1143.4 L684.5 1142.9 L686.5 1142.5 L688.5 1142.1 L690.5 1141.7 L692.5 1141.3 L694.5 1140.9 L696.5 1140.5 L698.5 1140.2 L700.5 1139.8 L702.5 1139.4 L704.5 1139.1 L706.5 1138.7 L708.5 1138.3 L710.5 1137.9 L711.9 1137.6 L712.5 1137.5 L714.5 1137.0 L716.5 1136.6 L718.5 1136.2 L720.5 1135.7 L722.5 1135.3 L724.5 1134.8 L726.5 1134.3 L728.5 1133.9 L730.5 1133.4 L732.5 1132.9 L734.5 1132.5 L736.5 1132.0 L738.5 1131.5 L740.5 1131.1 L742.5 1130.6 L744.5 1130.1 L746.5 1129.7 L748.5 1129.2 L750.5 1128.8 L752.5 1128.3 L754.5 1127.9 L756.5 1127.4 L758.5 1127.0 L758.6 1127.0 L760.5 1126.6 L762.5 1126.2 L764.5 1125.8 L766.5 1125.3 L768.5 1124.9 L770.5 1124.5 L772.5 1124.1 L774.5 1123.7 L776.5 1123.3 L778.5 1122.9 L780.5 1122.5 L782.5 1122.1 L784.5 1121.7 L786.5 1121.3 L788.5 1120.9 L790.5 1120.5 L792.5 1120.1 L794.5 1119.7 L796.5 1119.4 L798.5 1119.0 L800.5 1118.6 L802.5 1118.3 L804.5 1117.9 L806.5 1117.6 L807.5 1117.4 L808.5 1117.2 L810.5 1116.9 L812.5 1116.6 L814.5 1116.2 L816.5 1115.9 L818.5 1115.6 L820.5 1115.3 L822.5 1114.9 L824.5 1114.6 L826.5 1114.3 L828.5 1114.0 L830.5 1113.7 L832.5 1113.4 L834.5 1113.1 L836.5 1112.8 L838.5 1112.5 L840.5 1112.2 L842.5 1112.0 L844.5 1111.7 L846.5 1111.4 L848.5 1111.1 L850.5 1110.8 L852.5 1110.5 L854.5 1110.3 L856.3 1110.0 L856.5 1110.0 L858.5 1109.7 L860.5 1109.4 L862.5 1109.1 L864.5 1108.9 L866.5 1108.6 L868.5 1108.3 L870.5 1108.1 L872.5 1107.8 L874.5 1107.5 L876.5 1107.3 L878.5 1107.0 L880.5 1106.7 L882.5 1106.5 L884.5 1106.2 L886.5 1106.0 L888.5 1105.7 L890.5 1105.4 L892.5 1105.2 L894.5 1104.9 L896.5 1104.7 L898.5 1104.4 L900.5 1104.2 L902.5 1103.9 L904.5 1103.7 L905.2 1103.6 L906.5 1103.4 L908.5 1103.2 L910.5 1102.9 L912.5 1102.7 L914.5 1102.4 L916.5 1102.2 L918.5 1101.9 L920.5 1101.7 L922.5 1101.4 L924.5 1101.2 L926.5 1100.9 L928.5 1100.7 L930.5 1100.5 L932.5 1100.2 L934.5 1100.0 L936.5 1099.8 L938.5 1099.5 L940.5 1099.3 L942.5 1099.1 L944.5 1098.9 L946.5 1098.7 L948.5 1098.4 L950.5 1098.2 L952.5 1098.1 L954.1 1097.9 L954.5 1097.9 L956.5 1097.7 L958.5 1097.5 L960.5 1097.3 L962.5 1097.1 L964.5 1097.0 L966.5 1096.8 L968.5 1096.6 L970.5 1096.5 L972.5 1096.3 L974.5 1096.1 L976.5 1096.0 L978.5 1095.8 L980.5 1095.7 L982.5 1095.5 L984.5 1095.4 L986.5 1095.2 L988.5 1095.1 L990.5 1094.9 L992.5 1094.8 L994.5 1094.7 L996.5 1094.5 L998.5 1094.4 L1000.5 1094.3 L1002.5 1094.1 L1002.9 1094.1 L1004.5 1094.0 L1006.5 1093.9 L1008.5 1093.7 L1010.5 1093.6 L1012.5 1093.5 L1014.5 1093.4 L1016.5 1093.3 L1018.5 1093.1 L1020.5 1093.0 L1022.5 1092.9 L1024.5 1092.8 L1026.5 1092.7 L1028.5 1092.6 L1030.5 1092.4 L1032.5 1092.3 L1034.5 1092.2 L1036.5 1092.1 L1038.5 1092.0 L1040.5 1091.9 L1042.5 1091.9 L1044.5 1091.8 L1046.5 1091.7 L1048.5 1091.6 L1050.5 1091.5 L1051.8 1091.5 L1052.5 1091.5 L1054.5 1091.4 L1056.5 1091.3 L1058.5 1091.3 L1060.5 1091.2 L1062.5 1091.2 L1064.5 1091.1 L1066.5 1091.0 L1068.5 1091.0 L1070.5 1090.9 L1072.5 1090.9 L1074.5 1090.8 L1076.5 1090.8 L1078.5 1090.7 L1080.5 1090.7 L1082.5 1090.6 L1084.5 1090.6 L1086.5 1090.6 L1088.5 1090.5 L1090.5 1090.5 L1092.5 1090.4 L1094.5 1090.4 L1096.5 1090.4 L1098.5 1090.3 L1100.5 1090.3 L1101.7 1090.3 L1102.5 1090.3 L1104.5 1090.3 L1106.5 1090.2 L1108.5 1090.2 L1110.5 1090.2 L1112.5 1090.1 L1114.5 1090.1 L1116.5 1090.1 L1118.5 1090.1 L1120.5 1090.0 L1122.5 1090.0 L1124.5 1090.0 L1126.5 1090.0 L1128.5 1089.9 L1130.5 1089.9 L1132.5 1089.9 L1134.5 1089.9 L1136.5 1089.9 L1138.5 1089.9 L1140.5 1089.8 L1142.5 1089.8 L1144.5 1089.8 L1146.5 1089.8 L1148.5 1089.8 L1150.5 1089.8 L1151.9 1089.8 L1152.5 1089.8 L1154.5 1089.8 L1156.5 1089.8 L1158.5 1089.8 L1160.5 1089.9 L1162.5 1089.9 L1164.5 1089.9 L1166.5 1089.9 L1168.5 1090.0 L1170.5 1090.0 L1172.5 1090.1 L1174.5 1090.1 L1176.5 1090.2 L1178.5 1090.2 L1180.5 1090.3 L1182.5 1090.3 L1184.5 1090.4 L1186.5 1090.5 L1188.5 1090.5 L1190.5 1090.6 L1192.5 1090.6 L1194.5 1090.7 L1196.5 1090.8 L1198.5 1090.8 L1200.5 1090.9 L1200.7 1090.9 L1202.5 1091.0 L1204.5 1091.0 L1206.5 1091.1 L1208.5 1091.2 L1210.5 1091.2 L1212.5 1091.3 L1214.5 1091.4 L1216.5 1091.5 L1218.5 1091.5 L1220.5 1091.6 L1222.5 1091.7 L1224.5 1091.8 L1226.5 1091.9 L1228.5 1092.0 L1230.5 1092.1 L1232.5 1092.2 L1234.5 1092.3 L1236.5 1092.4 L1238.5 1092.5 L1240.5 1092.6 L1242.5 1092.7 L1244.5 1092.7 L1246.5 1092.8 L1248.5 1092.9 L1249.6 1093.0 L1250.5 1093.0 L1252.5 1093.1 L1254.5 1093.2 L1256.5 1093.3 L1258.5 1093.4 L1260.5 1093.5 L1262.5 1093.6 L1264.5 1093.8 L1266.5 1093.9 L1268.5 1094.0 L1270.5 1094.1 L1272.5 1094.2 L1274.5 1094.3 L1276.5 1094.4 L1278.5 1094.5 L1280.5 1094.6 L1282.5 1094.8 L1284.5 1094.9 L1286.5 1095.0 L1288.5 1095.1 L1290.5 1095.3 L1292.5 1095.4 L1294.5 1095.5 L1296.5 1095.7 L1298.5 1095.8 L1300.5 1095.9 L1302.5 1096.1 L1304.5 1096.3 L1306.5 1096.4 L1308.5 1096.6 L1310.5 1096.8 L1312.5 1097.0 L1314.5 1097.2 L1316.5 1097.3 L1318.5 1097.5 L1320.5 1097.7 L1322.5 1097.9 L1324.5 1098.1 L1326.5 1098.3 L1328.5 1098.6 L1330.5 1098.8 L1332.5 1099.0 L1334.5 1099.2 L1336.5 1099.4 L1338.5 1099.6 L1340.5 1099.8 L1342.5 1100.0 L1344.5 1100.1 L1346.5 1100.3 L1348.4 1100.5 L1348.5 1100.5 L1350.5 1100.7 L1352.5 1100.9 L1354.5 1101.0 L1356.5 1101.2 L1358.5 1101.4 L1360.5 1101.5 L1362.5 1101.7 L1364.5 1101.9 L1366.5 1102.1 L1368.5 1102.2 L1370.5 1102.4 L1372.5 1102.5 L1374.5 1102.7 L1376.5 1102.9 L1378.5 1103.0 L1380.5 1103.2 L1382.5 1103.4 L1384.5 1103.5 L1386.5 1103.7 L1388.5 1103.9 L1390.5 1104.0 L1392.5 1104.2 L1394.5 1104.4 L1396.5 1104.5 L1398.3 1104.7 L1398.5 1104.7 L1400.5 1104.9 L1402.5 1105.1 L1404.5 1105.2 L1406.5 1105.4 L1408.5 1105.6 L1410.5 1105.8 L1412.5 1105.9 L1414.5 1106.1 L1416.5 1106.3 L1418.5 1106.5 L1420.5 1106.6 L1422.5 1106.8 L1424.5 1107.0 L1426.5 1107.2 L1428.5 1107.4 L1430.5 1107.5 L1432.5 1107.7 L1434.5 1107.9 L1436.5 1108.1 L1438.5 1108.2 L1440.5 1108.4 L1442.5 1108.6 L1444.5 1108.8 L1446.5 1108.9 L1447.2 1109.0 L1448.5 1109.1 L1450.5 1109.3 L1452.5 1109.5 L1454.5 1109.6 L1456.5 1109.8 L1458.5 1110.0 L1460.5 1110.1 L1462.5 1110.3 L1464.5 1110.5 L1466.5 1110.7 L1468.5 1110.8 L1470.5 1111.0 L1472.5 1111.2 L1474.5 1111.3 L1476.5 1111.5 L1478.5 1111.7 L1480.5 1111.9 L1482.5 1112.0 L1484.5 1112.2 L1486.5 1112.4 L1488.5 1112.5 L1490.5 1112.7 L1492.5 1112.9 L1494.5 1113.1 L1496.1 1113.2 L1496.5 1113.2 L1498.5 1113.4 L1500.5 1113.6 L1502.5 1113.7 L1504.5 1113.9 L1506.5 1114.1 L1508.5 1114.2 L1510.5 1114.4 L1512.5 1114.6 L1514.5 1114.7 L1516.5 1114.9 L1518.5 1115.1 L1520.5 1115.2 L1522.5 1115.4 L1524.5 1115.6 L1526.5 1115.7 L1528.5 1115.9 L1530.5 1116.1 L1532.5 1116.2 L1534.5 1116.4 L1536.5 1116.6 L1538.5 1116.8 L1540.5 1117.0 L1542.5 1117.2 L1544.5 1117.4 L1544.9 1117.4 L1546.5 1117.6 L1548.5 1117.8 L1550.5 1118.0 L1552.5 1118.2 L1554.5 1118.4 L1556.5 1118.6 L1558.5 1118.9 L1560.5 1119.1 L1562.5 1119.4 L1564.5 1119.6 L1566.5 1119.8 L1568.5 1120.1 L1570.5 1120.3 L1572.5 1120.6 L1574.5 1120.8 L1576.5 1121.0 L1578.5 1121.3 L1580.5 1121.5 L1582.5 1121.8 L1584.5 1122.0 L1586.5 1122.2 L1588.5 1122.4 L1590.5 1122.6 L1592.5 1122.8 L1594.0 1123.0 L1594.5 1123.0 L1596.5 1123.2 L1598.5 1123.4 L1600.5 1123.6 L1602.5 1123.9 L1604.5 1124.1 L1606.5 1124.2 L1608.5 1124.4 L1610.5 1124.6 L1612.5 1124.8 L1614.5 1125.0 L1616.5 1125.2 L1618.5 1125.4 L1620.5 1125.6 L1622.5 1125.8 L1624.5 1125.9 L1626.5 1126.1 L1628.5 1126.3 L1630.5 1126.4 L1632.5 1126.6 L1634.5 1126.7 L1636.5 1126.9 L1638.5 1127.0 L1640.5 1127.2 L1642.5 1127.3 L1642.9 1127.3 L1644.5 1127.4 L1646.5 1127.5 L1648.5 1127.6 L1650.5 1127.7 L1652.5 1127.8 L1654.5 1127.9 L1656.5 1128.0 L1658.5 1128.1 L1660.5 1128.2 L1662.5 1128.3 L1664.5 1128.4 L1666.5 1128.5 L1668.5 1128.5 L1670.5 1128.6 L1672.5 1128.7 L1674.5 1128.8 L1676.5 1128.8 L1678.5 1128.9 L1680.5 1129.0 L1682.5 1129.1 L1684.5 1129.1 L1686.5 1129.2 L1688.5 1129.3 L1690.5 1129.4 L1691.7 1129.4 L1692.5 1129.4 L1694.5 1129.5 L1696.5 1129.6 L1698.5 1129.6 L1700.5 1129.7 L1702.5 1129.8 L1704.5 1129.9 L1706.5 1129.9 L1708.5 1130.0 L1710.5 1130.1 L1712.5 1130.1 L1714.5 1130.2 L1716.5 1130.3 L1718.5 1130.3 L1720.5 1130.4 L1722.5 1130.5 L1724.5 1130.5 L1726.5 1130.6 L1728.5 1130.6 L1730.5 1130.7 L1732.5 1130.7 L1734.5 1130.8 L1736.5 1130.8 L1738.5 1130.9 L1740.5 1130.9 L1741.7 1130.9 L1742.5 1130.9 L1744.5 1130.9 L1746.5 1131.0 L1748.5 1131.0 L1750.5 1131.0 L1752.5 1131.0 L1754.5 1131.1 L1756.5 1131.1 L1758.5 1131.1 L1760.5 1131.1 L1762.5 1131.1 L1764.5 1131.2 L1766.5 1131.2 L1768.5 1131.2 L1770.5 1131.2 L1772.5 1131.2 L1774.5 1131.2 L1776.5 1131.3 L1778.5 1131.3 L1780.5 1131.3 L1782.5 1131.3 L1784.5 1131.3 L1786.5 1131.3 L1788.5 1131.3 L1790.5 1131.3 L1792.5 1131.3 L1794.5 1131.3 L1796.5 1131.3 L1798.5 1131.3 L1800.5 1131.3 L1802.5 1131.2 L1804.5 1131.2 L1806.5 1131.2 L1808.5 1131.2 L1810.5 1131.2 L1812.5 1131.1 L1814.5 1131.1 L1816.5 1131.1 L1818.5 1131.1 L1820.5 1131.0 L1822.5 1131.0 L1824.5 1131.0 L1826.5 1131.0 L1828.5 1131.0 L1830.5 1130.9 L1832.5 1130.9 L1834.5 1130.9 L1836.5 1130.9 L1838.5 1130.9 L1840.5 1130.9 L1842.5 1130.9 L1844.5 1130.9 L1846.5 1130.9 L1848.5 1130.9 L1850.5 1130.9 L1852.5 1130.9 L1854.5 1130.9 L1856.5 1130.9 L1858.5 1130.9 L1860.5 1130.9 L1862.5 1130.9 L1864.5 1130.9 L1866.5 1130.9 L1868.5 1130.9 L1870.5 1130.9 L1872.5 1130.9 L1874.5 1130.9 L1876.5 1130.9 L1878.5 1130.9 L1880.5 1130.9 L1882.5 1130.9 L1884.5 1130.9 L1886.5 1130.9 L1888.5 1130.9 L1889.3 1130.9 L1890.5 1130.9 L1892.5 1130.9 L1894.5 1130.9 L1896.5 1130.9 L1898.5 1130.9 L1900.5 1130.9 L1902.5 1131.0 L1904.5 1131.0 L1906.5 1131.0 L1908.5 1131.0 L1910.5 1131.1 L1912.5 1131.1 L1914.5 1131.1 L1916.5 1131.1 L1918.5 1131.2 L1920.5 1131.2 L1922.5 1131.2 L1924.5 1131.3 L1926.5 1131.3 L1928.5 1131.3 L1930.5 1131.4 L1932.5 1131.4 L1934.5 1131.4 L1936.5 1131.5 L1938.2 1131.5 L1938.5 1131.5 L1940.5 1131.5 L1942.5 1131.6 L1944.5 1131.6 L1946.5 1131.6 L1948.5 1131.7 L1950.5 1131.7 L1952.5 1131.8 L1954.5 1131.8 L1956.5 1131.8 L1958.5 1131.9 L1960.5 1131.9 L1962.5 1132.0 L1964.5 1132.0 L1966.5 1132.1 L1968.5 1132.1 L1970.5 1132.2 L1972.5 1132.2 L1974.5 1132.3 L1976.5 1132.4 L1978.5 1132.4 L1980.5 1132.5 L1982.5 1132.5 L1984.5 1132.6 L1986.5 1132.7 L1987.2 1132.7 L1988.5 1132.7 L1990.5 1132.8 L1992.5 1132.9 L1994.5 1133.0 L1996.5 1133.1 L1998.5 1133.2 L2000.5 1133.3 L2002.5 1133.4 L2004.5 1133.5 L2006.5 1133.6 L2008.5 1133.7 L2010.5 1133.8 L2012.5 1133.9 L2014.5 1134.0 L2016.5 1134.2 L2018.5 1134.3 L2020.5 1134.4 L2022.5 1134.6 L2024.5 1134.7 L2026.5 1134.8 L2028.5 1135.0 L2030.5 1135.1 L2032.5 1135.3 L2034.5 1135.4 L2036.0 1135.5 L2036.5 1135.5 L2038.5 1135.7 L2040.5 1135.8 L2042.5 1136.0 L2044.5 1136.2 L2046.5 1136.4 L2048.5 1136.5 L2050.5 1136.7 L2052.5 1136.9 L2054.5 1137.1 L2056.5 1137.3 L2058.5 1137.5 L2060.5 1137.7"/>
<path stroke="#00ff00" stroke-width="13.2" shape-rendering="crispEdges" stroke-dasharray="49.7 12.05 24.75 12.05" d="M254.5 1236.2 L256.5 1235.9 L258.5 1235.5 L260.5 1235.2 L262.5 1234.9 L264.5 1234.6 L266.5 1234.3 L268.5 1233.9 L270.5 1233.6 L272.5 1233.4 L274.5 1233.1 L276.5 1232.8 L278.5 1232.5 L280.5 1232.3 L282.5 1232.0 L284.5 1231.8 L286.5 1231.5 L288.5 1231.3 L290.5 1231.1 L292.5 1230.9 L294.5 1230.7 L296.5 1230.5 L298.5 1230.3 L300.5 1230.1 L302.5 1229.9 L304.5 1229.7 L306.5 1229.6 L308.5 1229.4 L310.5 1229.2 L312.5 1229.0 L314.5 1228.8 L316.5 1228.6 L318.5 1228.4 L320.5 1228.2 L322.5 1228.0 L324.5 1227.7 L326.5 1227.5 L328.2 1227.3 L328.5 1227.3 L330.5 1227.0 L332.5 1226.7 L334.5 1226.5 L336.5 1226.2 L338.5 1225.9 L340.5 1225.6 L342.5 1225.3 L344.5 1225.0 L346.5 1224.7 L348.5 1224.3 L350.5 1224.0 L352.5 1223.7 L354.5 1223.4 L356.5 1223.0 L358.5 1222.7 L360.5 1222.3 L362.5 1222.0 L364.5 1221.6 L366.5 1221.3 L368.5 1220.9 L370.5 1220.6 L372.5 1220.2 L374.5 1219.8 L376.5 1219.5 L378.1 1219.2 L378.5 1219.1 L380.5 1218.8 L382.5 1218.4 L384.5 1218.0 L386.5 1217.7 L388.5 1217.3 L390.5 1216.9 L392.5 1216.5 L394.5 1216.1 L396.5 1215.7 L398.5 1215.3 L400.5 1214.9 L402.5 1214.5 L404.5 1214.1 L406.5 1213.7 L408.5 1213.3 L410.5 1212.9 L412.5 1212.5 L414.5 1212.1 L416.5 1211.7 L418.5 1211.3 L420.5 1210.8 L422.5 1210.4 L424.5 1210.0 L425.9 1209.7 L426.5 1209.6 L428.5 1209.2 L430.5 1208.7 L432.5 1208.3 L434.5 1207.9 L436.5 1207.4 L438.5 1207.0 L440.5 1206.6 L442.5 1206.1 L444.5 1205.7 L446.5 1205.3 L448.5 1204.8 L450.5 1204.4 L452.5 1203.9 L454.5 1203.5 L456.5 1203.0 L458.5 1202.6 L460.5 1202.1 L462.5 1201.6 L464.5 1201.2 L466.5 1200.7 L468.5 1200.2 L470.5 1199.8 L472.5 1199.3 L473.7 1199.0 L474.5 1198.8 L476.5 1198.3 L478.5 1197.8 L480.5 1197.3 L482.5 1196.8 L484.5 1196.3 L486.5 1195.8 L488.5 1195.3 L490.5 1194.8 L492.5 1194.2 L494.5 1193.7 L496.5 1193.2 L498.5 1192.6 L500.5 1192.1 L502.5 1191.6 L504.5 1191.0 L506.5 1190.5 L508.5 1190.0 L510.5 1189.4 L512.5 1188.9 L514.5 1188.4 L516.5 1187.8 L518.5 1187.3 L520.5 1186.8 L522.5 1186.3 L524.5 1185.8 L526.5 1185.3 L528.5 1184.7 L530.5 1184.2 L532.5 1183.7 L534.5 1183.2 L536.5 1182.7 L538.5 1182.2 L540.5 1181.7 L542.5 1181.2 L544.5 1180.6 L546.5 1180.1 L548.5 1179.6 L550.5 1179.1 L552.5 1178.6 L554.5 1178.1 L556.5 1177.6 L558.5 1177.1 L560.5 1176.5 L562.5 1176.0 L564.5 1175.5 L566.5 1175.0 L568.3 1174.5 L568.5 1174.4 L570.5 1173.9 L572.5 1173.4 L574.5 1172.9 L576.5 1172.3 L578.5 1171.8 L580.5 1171.3 L582.5 1170.7 L584.5 1170.2 L586.5 1169.6 L588.5 1169.1 L590.5 1168.6 L592.5 1168.0 L594.5 1167.5 L596.5 1166.9 L598.5 1166.4 L600.5 1165.9 L602.5 1165.3 L604.5 1164.8 L606.5 1164.3 L608.5 1163.7 L610.5 1163.2 L612.5 1162.7 L614.5 1162.1 L616.1 1161.7 L616.5 1161.6 L618.5 1161.1 L620.5 1160.6 L622.5 1160.0 L624.5 1159.5 L626.5 1159.0 L628.5 1158.5 L630.5 1158.0 L632.5 1157.5 L634.5 1157.0 L636.5 1156.6 L638.5 1156.1 L640.5 1155.6 L642.5 1155.1 L644.5 1154.5 L646.5 1154.0 L648.5 1153.5 L650.5 1153.0 L652.5 1152.5 L654.5 1151.9 L656.5 1151.4 L658.5 1150.8 L660.5 1150.3 L662.5 1149.7 L664.5 1149.1 L664.9 1149.0 L666.5 1148.5 L668.5 1147.8 L670.5 1147.1 L672.5 1146.4 L674.5 1145.7 L676.5 1145.0 L678.5 1144.4 L680.0 1144.0 L680.5 1143.9 L682.5 1143.4 L684.5 1142.9 L686.5 1142.5 L688.5 1142.1 L690.5 1141.7 L692.5 1141.3 L694.5 1140.9 L696.5 1140.5 L698.5 1140.2 L700.5 1139.8 L702.5 1139.4 L704.5 1139.1 L706.5 1138.7 L708.5 1138.3 L710.5 1137.9 L711.9 1137.6 L712.5 1137.5 L714.5 1137.0 L716.5 1136.6 L718.5 1136.2 L720.5 1135.7 L722.5 1135.3 L724.5 1134.8 L726.5 1134.3 L728.5 1133.9 L730.5 1133.4 L732.5 1132.9 L734.5 1132.5 L736.5 1132.0 L738.5 1131.5 L740.5 1131.1 L742.5 1130.6 L744.5 1130.1 L746.5 1129.7 L748.5 1129.2 L750.5 1128.8 L752.5 1128.3 L754.5 1127.9 L756.5 1127.4 L758.5 1127.0 L758.6 1127.0 L760.5 1126.6 L762.5 1126.2 L764.5 1125.8 L766.5 1125.3 L768.5 1124.9 L770.5 1124.5 L772.5 1124.1 L774.5 1123.7 L776.5 1123.3 L778.5 1122.9 L780.5 1122.5 L782.5 1122.1 L784.5 1121.7 L786.5 1121.3 L788.5 1120.9 L790.5 1120.5 L792.5 1120.1 L794.5 1119.7 L796.5 1119.4 L798.5 1119.0 L800.5 1118.6 L802.5 1118.3 L804.5 1117.9 L806.5 1117.6 L807.5 1117.4 L808.5 1117.2 L810.5 1116.9 L812.5 1116.6 L814.5 1116.2 L816.5 1115.9 L818.5 1115.6 L820.5 1115.3 L822.5 1114.9 L824.5 1114.6 L826.5 1114.3 L828.5 1114.0 L830.5 1113.7 L832.5 1113.4 L834.5 1113.1 L836.5 1112.8 L838.5 1112.5 L840.5 1112.2 L842.5 1112.0 L844.5 1111.7 L846.5 1111.4 L848.5 1111.1 L850.5 1110.8 L852.5 1110.5 L854.5 1110.3 L856.3 1110.0 L856.5 1110.0 L858.5 1109.7 L860.5 1109.4 L862.5 1109.1 L864.5 1108.9 L866.5 1108.6 L868.5 1108.3 L870.5 1108.1 L872.5 1107.8 L874.5 1107.5 L876.5 1107.3 L878.5 1107.0 L880.5 1106.7 L882.5 1106.5 L884.5 1106.2 L886.5 1106.0 L888.5 1105.7 L890.5 1105.4 L892.5 1105.2 L894.5 1104.9 L896.5 1104.7 L898.5 1104.4 L900.5 1104.2 L902.5 1103.9 L904.5 1103.7 L905.2 1103.6 L906.5 1103.4 L908.5 1103.2 L910.5 1102.9 L912.5 1102.7 L914.5 1102.4 L916.5 1102.2 L918.5 1101.9 L920.5 1101.7 L922.5 1101.4 L924.5 1101.2 L926.5 1100.9 L928.5 1100.7 L930.5 1100.5 L932.5 1100.2 L934.5 1100.0 L936.5 1099.8 L938.5 1099.5 L940.5 1099.3 L942.5 1099.1 L944.5 1098.9 L946.5 1098.7 L948.5 1098.4 L950.5 1098.2 L952.5 1098.1 L954.1 1097.9 L954.5 1097.9 L956.5 1097.7 L958.5 1097.5 L960.5 1097.3 L962.5 1097.1 L964.5 1097.0 L966.5 1096.8 L968.5 1096.6 L970.5 1096.5 L972.5 1096.3 L974.5 1096.1 L976.5 1096.0 L978.5 1095.8 L980.5 1095.7 L982.5 1095.5 L984.5 1095.4 L986.5 1095.2 L988.5 1095.1 L990.5 1094.9 L992.5 1094.8 L994.5 1094.7 L996.5 1094.5 L998.5 1094.4 L1000.5 1094.3 L1002.5 1094.1 L1002.9 1094.1 L1004.5 1094.0 L1006.5 1093.9 L1008.5 1093.7 L1010.5 1093.6 L1012.5 1093.5 L1014.5 1093.4 L1016.5 1093.3 L1018.5 1093.1 L1020.5 1093.0 L1022.5 1092.9 L1024.5 1092.8 L1026.5 1092.7 L1028.5 1092.6 L1030.5 1092.4 L1032.5 1092.3 L1034.5 1092.2 L1036.5 1092.1 L1038.5 1092.0 L1040.5 1091.9 L1042.5 1091.9 L1044.5 1091.8 L1046.5 1091.7 L1048.5 1091.6 L1050.5 1091.5 L1051.8 1091.5 L1052.5 1091.5 L1054.5 1091.4 L1056.5 1091.3 L1058.5 1091.3 L1060.5 1091.2 L1062.5 1091.2 L1064.5 1091.1 L1066.5 1091.0 L1068.5 1091.0 L1070.5 1090.9 L1072.5 1090.9 L1074.5 1090.8 L1076.5 1090.8 L1078.5 1090.7 L1080.5 1090.7 L1082.5 1090.6 L1084.5 1090.6 L1086.5 1090.6 L1088.5 1090.5 L1090.5 1090.5 L1092.5 1090.4 L1094.5 1090.4 L1096.5 1090.4 L1098.5 1090.3 L1100.5 1090.3 L1101.7 1090.3 L1102.5 1090.3 L1104.5 1090.3 L1106.5 1090.2 L1108.5 1090.2 L1110.5 1090.2 L1112.5 1090.1 L1114.5 1090.1 L1116.5 1090.1 L1118.5 1090.1 L1120.5 1090.0 L1122.5 1090.0 L1124.5 1090.0 L1126.5 1090.0 L1128.5 1089.9 L1130.5 1089.9 L1132.5 1089.9 L1134.5 1089.9 L1136.5 1089.9 L1138.5 1089.9 L1140.5 1089.8 L1142.5 1089.8 L1144.5 1089.8 L1146.5 1089.8 L1148.5 1089.8 L1150.5 1089.8 L1151.9 1089.8 L1152.5 1089.8 L1154.5 1089.8 L1156.5 1089.8 L1158.5 1089.8 L1160.5 1089.9 L1162.5 1089.9 L1164.5 1089.9 L1166.5 1089.9 L1168.5 1090.0 L1170.5 1090.0 L1172.5 1090.1 L1174.5 1090.1 L1176.5 1090.2 L1178.5 1090.2 L1180.5 1090.3 L1182.5 1090.3 L1184.5 1090.4 L1186.5 1090.5 L1188.5 1090.5 L1190.5 1090.6 L1192.5 1090.6 L1194.5 1090.7 L1196.5 1090.8 L1198.5 1090.8 L1200.5 1090.9 L1200.7 1090.9 L1202.5 1091.0 L1204.5 1091.0 L1206.5 1091.1 L1208.5 1091.2 L1210.5 1091.2 L1212.5 1091.3 L1214.5 1091.4 L1216.5 1091.5 L1218.5 1091.5 L1220.5 1091.6 L1222.5 1091.7 L1224.5 1091.8 L1226.5 1091.9 L1228.5 1092.0 L1230.5 1092.1 L1232.5 1092.2 L1234.5 1092.3 L1236.5 1092.4 L1238.5 1092.5 L1240.5 1092.6 L1242.5 1092.7 L1244.5 1092.7 L1246.5 1092.8 L1248.5 1092.9 L1249.6 1093.0 L1250.5 1093.0 L1252.5 1093.1 L1254.5 1093.2 L1256.5 1093.3 L1258.5 1093.4 L1260.5 1093.5 L1262.5 1093.6 L1264.5 1093.8 L1266.5 1093.9 L1268.5 1094.0 L1270.5 1094.1 L1272.5 1094.2 L1274.5 1094.3 L1276.5 1094.4 L1278.5 1094.5 L1280.5 1094.6 L1282.5 1094.8 L1284.5 1094.9 L1286.5 1095.0 L1288.5 1095.1 L1290.5 1095.3 L1292.5 1095.4 L1294.5 1095.5 L1296.5 1095.7 L1298.5 1095.8 L1300.5 1095.9 L1302.5 1096.1 L1304.5 1096.3 L1306.5 1096.4 L1308.5 1096.6 L1310.5 1096.8 L1312.5 1097.0 L1314.5 1097.2 L1316.5 1097.3 L1318.5 1097.5 L1320.5 1097.7 L1322.5 1097.9 L1324.5 1098.1 L1326.5 1098.3 L1328.5 1098.6 L1330.5 1098.8 L1332.5 1099.0 L1334.5 1099.2 L1336.5 1099.4 L1338.5 1099.6 L1340.5 1099.8 L1342.5 1100.0 L1344.5 1100.1 L1346.5 1100.3 L1348.4 1100.5 L1348.5 1100.5 L1350.5 1100.7 L1352.5 1100.9 L1354.5 1101.0 L1356.5 1101.2 L1358.5 1101.4 L1360.5 1101.5 L1362.5 1101.7 L1364.5 1101.9 L1366.5 1102.1 L1368.5 1102.2 L1370.5 1102.4 L1372.5 1102.5 L1374.5 1102.7 L1376.5 1102.9 L1378.5 1103.0 L1380.5 1103.2 L1382.5 1103.4 L1384.5 1103.5 L1386.5 1103.7 L1388.5 1103.9 L1390.5 1104.0 L1392.5 1104.2 L1394.5 1104.4 L1396.5 1104.5 L1398.3 1104.7 L1398.5 1104.7 L1400.5 1104.9 L1402.5 1105.1 L1404.5 1105.2 L1406.5 1105.4 L1408.5 1105.6 L1410.5 1105.8 L1412.5 1105.9 L1414.5 1106.1 L1416.5 1106.3 L1418.5 1106.5 L1420.5 1106.6 L1422.5 1106.8 L1424.5 1107.0 L1426.5 1107.2 L1428.5 1107.4 L1430.5 1107.5 L1432.5 1107.7 L1434.5 1107.9 L1436.5 1108.1 L1438.5 1108.2 L1440.5 1108.4 L1442.5 1108.6 L1444.5 1108.8 L1446.5 1108.9 L1447.2 1109.0 L1448.5 1109.1 L1450.5 1109.3 L1452.5 1109.5 L1454.5 1109.6 L1456.5 1109.8 L1458.5 1110.0 L1460.5 1110.1 L1462.5 1110.3 L1464.5 1110.5 L1466.5 1110.7 L1468.5 1110.8 L1470.5 1111.0 L1472.5 1111.2 L1474.5 1111.3 L1476.5 1111.5 L1478.5 1111.7 L1480.5 1111.9 L1482.5 1112.0 L1484.5 1112.2 L1486.5 1112.4 L1488.5 1112.5 L1490.5 1112.7 L1492.5 1112.9 L1494.5 1113.1 L1496.1 1113.2 L1496.5 1113.2 L1498.5 1113.4 L1500.5 1113.6 L1502.5 1113.7 L1504.5 1113.9 L1506.5 1114.1 L1508.5 1114.2 L1510.5 1114.4 L1512.5 1114.6 L1514.5 1114.7 L1516.5 1114.9 L1518.5 1115.1 L1520.5 1115.2 L1522.5 1115.4 L1524.5 1115.6 L1526.5 1115.7 L1528.5 1115.9 L1530.5 1116.1 L1532.5 1116.2 L1534.5 1116.4 L1536.5 1116.6 L1538.5 1116.8 L1540.5 1117.0 L1542.5 1117.2 L1544.5 1117.4 L1544.9 1117.4 L1546.5 1117.6 L1548.5 1117.8 L1550.5 1118.0 L1552.5 1118.2 L1554.5 1118.4 L1556.5 1118.6 L1558.5 1118.9 L1560.5 1119.1 L1562.5 1119.4 L1564.5 1119.6 L1566.5 1119.8 L1568.5 1120.1 L1570.5 1120.3 L1572.5 1120.6 L1574.5 1120.8 L1576.5 1121.0 L1578.5 1121.3 L1580.5 1121.5 L1582.5 1121.8 L1584.5 1122.0 L1586.5 1122.2 L1588.5 1122.4 L1590.5 1122.6 L1592.5 1122.8 L1594.0 1123.0 L1594.5 1123.0 L1596.5 1123.2 L1598.5 1123.4 L1600.5 1123.6 L1602.5 1123.9 L1604.5 1124.1 L1606.5 1124.2 L1608.5 1124.4 L1610.5 1124.6 L1612.5 1124.8 L1614.5 1125.0 L1616.5 1125.2 L1618.5 1125.4 L1620.5 1125.6 L1622.5 1125.8 L1624.5 1125.9 L1626.5 1126.1 L1628.5 1126.3 L1630.5 1126.4 L1632.5 1126.6 L1634.5 1126.7 L1636.5 1126.9 L1638.5 1127.0 L1640.5 1127.2 L1642.5 1127.3 L1642.9 1127.3 L1644.5 1127.4 L1646.5 1127.5 L1648.5 1127.6 L1650.5 1127.7 L1652.5 1127.8 L1654.5 1127.9 L1656.5 1128.0 L1658.5 1128.1 L1660.5 1128.2 L1662.5 1128.3 L1664.5 1128.4 L1666.5 1128.5 L1668.5 1128.5 L1670.5 1128.6 L1672.5 1128.7 L1674.5 1128.8 L1676.5 1128.8 L1678.5 1128.9 L1680.5 1129.0 L1682.5 1129.1 L1684.5 1129.1 L1686.5 1129.2 L1688.5 1129.3 L1690.5 1129.4 L1691.7 1129.4 L1692.5 1129.4 L1694.5 1129.5 L1696.5 1129.6 L1698.5 1129.6 L1700.5 1129.7 L1702.5 1129.8 L1704.5 1129.9 L1706.5 1129.9 L1708.5 1130.0 L1710.5 1130.1 L1712.5 1130.1 L1714.5 1130.2 L1716.5 1130.3 L1718.5 1130.3 L1720.5 1130.4 L1722.5 1130.5 L1724.5 1130.5 L1726.5 1130.6 L1728.5 1130.6 L1730.5 1130.7 L1732.5 1130.7 L1734.5 1130.8 L1736.5 1130.8 L1738.5 1130.9 L1740.5 1130.9 L1741.7 1130.9 L1742.5 1130.9 L1744.5 1130.9 L1746.5 1131.0 L1748.5 1131.0 L1750.5 1131.0 L1752.5 1131.0 L1754.5 1131.1 L1756.5 1131.1 L1758.5 1131.1 L1760.5 1131.1 L1762.5 1131.1 L1764.5 1131.2 L1766.5 1131.2 L1768.5 1131.2 L1770.5 1131.2 L1772.5 1131.2 L1774.5 1131.2 L1776.5 1131.3 L1778.5 1131.3 L1780.5 1131.3 L1782.5 1131.3 L1784.5 1131.3 L1786.5 1131.3 L1788.5 1131.3 L1790.5 1131.3 L1792.5 1131.3 L1794.5 1131.3 L1796.5 1131.3 L1798.5 1131.3 L1800.5 1131.3 L1802.5 1131.2 L1804.5 1131.2 L1806.5 1131.2 L1808.5 1131.2 L1810.5 1131.2 L1812.5 1131.1 L1814.5 1131.1 L1816.5 1131.1 L1818.5 1131.1 L1820.5 1131.0 L1822.5 1131.0 L1824.5 1131.0 L1826.5 1131.0 L1828.5 1131.0 L1830.5 1130.9 L1832.5 1130.9 L1834.5 1130.9 L1836.5 1130.9 L1838.5 1130.9 L1840.5 1130.9 L1842.5 1130.9 L1844.5 1130.9 L1846.5 1130.9 L1848.5 1130.9 L1850.5 1130.9 L1852.5 1130.9 L1854.5 1130.9 L1856.5 1130.9 L1858.5 1130.9 L1860.5 1130.9 L1862.5 1130.9 L1864.5 1130.9 L1866.5 1130.9 L1868.5 1130.9 L1870.5 1130.9 L1872.5 1130.9 L1874.5 1130.9 L1876.5 1130.9 L1878.5 1130.9 L1880.5 1130.9 L1882.5 1130.9 L1884.5 1130.9 L1886.5 1130.9 L1888.5 1130.9 L1889.3 1130.9 L1890.5 1130.9 L1892.5 1130.9 L1894.5 1130.9 L1896.5 1130.9 L1898.5 1130.9 L1900.5 1130.9 L1902.5 1131.0 L1904.5 1131.0 L1906.5 1131.0 L1908.5 1131.0 L1910.5 1131.1 L1912.5 1131.1 L1914.5 1131.1 L1916.5 1131.1 L1918.5 1131.2 L1920.5 1131.2 L1922.5 1131.2 L1924.5 1131.3 L1926.5 1131.3 L1928.5 1131.3 L1930.5 1131.4 L1932.5 1131.4 L1934.5 1131.4 L1936.5 1131.5 L1938.2 1131.5 L1938.5 1131.5 L1940.5 1131.5 L1942.5 1131.6 L1944.5 1131.6 L1946.5 1131.6 L1948.5 1131.7 L1950.5 1131.7 L1952.5 1131.8 L1954.5 1131.8 L1956.5 1131.8 L1958.5 1131.9 L1960.5 1131.9 L1962.5 1132.0 L1964.5 1132.0 L1966.5 1132.1 L1968.5 1132.1 L1970.5 1132.2 L1972.5 1132.2 L1974.5 1132.3 L1976.5 1132.4 L1978.5 1132.4 L1980.5 1132.5 L1982.5 1132.5 L1984.5 1132.6 L1986.5 1132.7 L1987.2 1132.7 L1988.5 1132.7 L1990.5 1132.8 L1992.5 1132.9 L1994.5 1133.0 L1996.5 1133.1 L1998.5 1133.2 L2000.5 1133.3 L2002.5 1133.4 L2004.5 1133.5 L2006.5 1133.6 L2008.5 1133.7 L2010.5 1133.8 L2012.5 1133.9 L2014.5 1134.0 L2016.5 1134.2 L2018.5 1134.3 L2020.5 1134.4 L2022.5 1134.6 L2024.5 1134.7 L2026.5 1134.8 L2028.5 1135.0 L2030.5 1135.1 L2032.5 1135.3 L2034.5 1135.4 L2036.0 1135.5 L2036.5 1135.5 L2038.5 1135.7 L2040.5 1135.8 L2042.5 1136.0 L2044.5 1136.2 L2046.5 1136.4 L2048.5 1136.5 L2050.5 1136.7 L2052.5 1136.9 L2054.5 1137.1 L2056.5 1137.3 L2058.5 1137.5 L2060.5 1137.7"/>
<path stroke="#00ffff" stroke-width="11.8" stroke-dasharray="49.7 12.05 24.75 12.05" d="M254.5 1334.0 L256.5 1333.8 L258.5 1333.7 L260.5 1333.5 L262.5 1333.3 L264.5 1333.2 L266.5 1333.0 L268.5 1332.9 L270.5 1332.7 L272.5 1332.6 L274.5 1332.4 L276.5 1332.2 L278.5 1332.1 L280.5 1331.9 L282.5 1331.8 L284.5 1331.7 L286.5 1331.5 L288.5 1331.4 L290.5 1331.3 L292.5 1331.1 L294.5 1331.0 L296.5 1330.9 L298.5 1330.8 L300.5 1330.6 L302.5 1330.5 L304.5 1330.4 L306.5 1330.3 L308.5 1330.1 L310.5 1330.0 L312.5 1329.9 L314.5 1329.8 L316.5 1329.6 L318.5 1329.5 L320.5 1329.3 L322.5 1329.2 L324.5 1329.0 L326.5 1328.8 L328.2 1328.7 L328.5 1328.7 L330.5 1328.5 L332.5 1328.3 L334.5 1328.1 L336.5 1327.9 L338.5 1327.7 L340.5 1327.4 L342.5 1327.2 L344.5 1327.0 L346.5 1326.7 L348.5 1326.5 L350.5 1326.2 L352.5 1326.0 L354.5 1325.7 L356.5 1325.4 L358.5 1325.2 L360.5 1324.9 L362.5 1324.6 L364.5 1324.3 L366.5 1324.0 L368.5 1323.7 L370.5 1323.4 L372.5 1323.1 L374.5 1322.8 L376.5 1322.5 L378.1 1322.3 L378.5 1322.2 L380.5 1321.9 L382.5 1321.6 L384.5 1321.3 L386.5 1321.0 L388.5 1320.7 L390.5 1320.3 L392.5 1320.0 L394.5 1319.6 L396.5 1319.3 L398.5 1318.9 L400.5 1318.6 L402.5 1318.2 L404.5 1317.8 L406.5 1317.5 L408.5 1317.1 L410.5 1316.7 L412.5 1316.3 L414.5 1316.0 L416.5 1315.6 L418.5 1315.2 L420.5 1314.8 L422.5 1314.4 L424.5 1314.1 L425.9 1313.8 L426.5 1313.7 L428.5 1313.3 L430.5 1312.9 L432.5 1312.5 L434.5 1312.2 L436.5 1311.8 L438.5 1311.4 L440.5 1311.0 L442.5 1310.6 L444.5 1310.2 L446.5 1309.8 L448.5 1309.4 L450.5 1309.0 L452.5 1308.6 L454.5 1308.2 L456.5 1307.8 L458.5 1307.4 L460.5 1307.0 L462.5 1306.5 L464.5 1306.1 L466.5 1305.7 L468.5 1305.3 L470.5 1304.9 L472.5 1304.5 L473.7 1304.2 L474.5 1304.0 L476.5 1303.6 L478.5 1303.2 L480.5 1302.8 L482.5 1302.3 L484.5 1301.9 L486.5 1301.5 L488.5 1301.0 L490.5 1300.6 L492.5 1300.2 L494.5 1299.7 L496.5 1299.3 L498.5 1298.8 L500.5 1298.4 L502.5 1297.9 L504.5 1297.5 L506.5 1297.0 L508.5 1296.6 L510.5 1296.1 L512.5 1295.7 L514.5 1295.2 L516.5 1294.8 L518.5 1294.3 L520.5 1293.8 L521.5 1293.6 L522.5 1293.4 L524.5 1292.9 L526.5 1292.4 L528.5 1292.0 L530.5 1291.5 L532.5 1291.0 L534.5 1290.5 L536.5 1290.1 L538.5 1289.6 L540.5 1289.1 L542.5 1288.6 L544.5 1288.1 L546.5 1287.6 L548.5 1287.1 L550.5 1286.6 L552.5 1286.1 L554.5 1285.7 L556.5 1285.2 L558.5 1284.6 L560.5 1284.1 L562.5 1283.6 L564.5 1283.1 L566.5 1282.6 L568.5 1282.1 L569.3 1281.9 L570.5 1281.6 L572.5 1281.1 L574.5 1280.5 L576.5 1280.0 L578.5 1279.5 L580.5 1278.9 L582.5 1278.4 L584.5 1277.9 L586.5 1277.3 L588.5 1276.8 L590.5 1276.2 L592.5 1275.7 L594.5 1275.1 L596.5 1274.6 L598.5 1274.0 L600.5 1273.4 L602.5 1272.9 L604.5 1272.3 L606.5 1271.8 L608.5 1271.3 L610.5 1270.7 L612.5 1270.2 L614.5 1269.6 L616.1 1269.2 L616.5 1269.1 L618.5 1268.6 L620.5 1268.0 L622.5 1267.5 L624.5 1267.0 L626.5 1266.4 L628.5 1265.9 L630.5 1265.4 L632.5 1264.9 L634.5 1264.3 L636.5 1263.8 L638.5 1263.3 L640.5 1262.8 L642.5 1262.2 L644.5 1261.7 L646.5 1261.2 L648.5 1260.7 L650.5 1260.1 L652.5 1259.6 L654.5 1259.1 L656.5 1258.6 L658.5 1258.1 L660.5 1257.5 L662.5 1257.0 L664.5 1256.5 L664.9 1256.4 L666.5 1256.0 L668.5 1255.5 L670.5 1254.9 L672.5 1254.4 L674.5 1253.9 L676.5 1253.4 L678.5 1252.9 L680.0 1252.5 L680.5 1252.4 L682.5 1251.9 L684.5 1251.5 L686.5 1251.0 L688.5 1250.6 L690.5 1250.1 L692.5 1249.7 L694.5 1249.2 L696.5 1248.8 L698.5 1248.4 L700.5 1248.0 L702.5 1247.6 L704.5 1247.2 L706.5 1246.8 L708.5 1246.4 L710.5 1246.0 L712.5 1245.6 L712.9 1245.5 L714.5 1245.2 L716.5 1244.8 L718.5 1244.4 L720.5 1244.1 L722.5 1243.7 L724.5 1243.3 L726.5 1243.0 L728.5 1242.6 L730.5 1242.2 L732.5 1241.9 L734.5 1241.5 L736.5 1241.2 L738.5 1240.8 L740.5 1240.5 L742.5 1240.1 L744.5 1239.8 L746.5 1239.5 L748.5 1239.1 L750.5 1238.8 L752.5 1238.4 L754.5 1238.1 L756.5 1237.7 L758.5 1237.4 L760.5 1237.0 L760.7 1237.0 L762.5 1236.7 L764.5 1236.3 L766.5 1236.0 L768.5 1235.6 L770.5 1235.2 L772.5 1234.9 L774.5 1234.5 L776.5 1234.1 L778.5 1233.8 L780.5 1233.4 L782.5 1233.1 L784.5 1232.7 L786.5 1232.3 L788.5 1232.0 L790.5 1231.6 L792.5 1231.3 L794.5 1230.9 L796.5 1230.6 L798.5 1230.3 L800.5 1229.9 L802.5 1229.6 L804.5 1229.3 L806.5 1229.0 L808.5 1228.7 L809.6 1228.5 L810.5 1228.4 L812.5 1228.1 L814.5 1227.8 L816.5 1227.5 L818.5 1227.2 L820.5 1226.9 L822.5 1226.7 L824.5 1226.4 L826.5 1226.1 L828.5 1225.9 L830.5 1225.6 L832.5 1225.4 L834.5 1225.1 L836.5 1224.9 L838.5 1224.6 L840.5 1224.4 L842.5 1224.1 L844.5 1223.9 L846.5 1223.6 L848.5 1223.4 L850.5 1223.1 L852.5 1222.9 L854.5 1222.7 L856.5 1222.4 L858.5 1222.2 L860.5 1222.0 L862.5 1221.7 L864.5 1221.5 L866.5 1221.3 L868.5 1221.0 L870.5 1220.8 L872.5 1220.6 L874.5 1220.4 L876.5 1220.2 L878.5 1219.9 L880.5 1219.7 L882.5 1219.5 L884.5 1219.3 L886.5 1219.1 L888.5 1218.9 L890.5 1218.7 L892.5 1218.4 L894.5 1218.2 L896.5 1218.0 L898.5 1217.8 L900.5 1217.6 L902.5 1217.4 L904.5 1217.2 L906.5 1217.0 L907.3 1216.9 L908.5 1216.8 L910.5 1216.6 L912.5 1216.4 L914.5 1216.1 L916.5 1215.9 L918.5 1215.7 L920.5 1215.5 L922.5 1215.3 L924.5 1215.1 L926.5 1214.9 L928.5 1214.6 L930.5 1214.4 L932.5 1214.2 L934.5 1214.0 L936.5 1213.8 L938.5 1213.6 L940.5 1213.4 L942.5 1213.2 L944.5 1213.0 L946.5 1212.8 L948.5 1212.7 L950.5 1212.5 L952.5 1212.3 L954.5 1212.1 L956.2 1212.0 L956.5 1212.0 L958.5 1211.8 L960.5 1211.7 L962.5 1211.5 L964.5 1211.3 L966.5 1211.2 L968.5 1211.0 L970.5 1210.9 L972.5 1210.7 L974.5 1210.6 L976.5 1210.4 L978.5 1210.3 L980.5 1210.1 L982.5 1210.0 L984.5 1209.9 L986.5 1209.7 L988.5 1209.6 L990.5 1209.5 L992.5 1209.4 L994.5 1209.3 L996.5 1209.2 L998.5 1209.1 L1000.5 1209.0 L1002.5 1208.9 L1004.5 1208.8 L1005.1 1208.8 L1006.5 1208.8 L1008.5 1208.7 L1010.5 1208.6 L1012.5 1208.6 L1014.5 1208.5 L1016.5 1208.5 L1018.5 1208.4 L1020.5 1208.3 L1022.5 1208.3 L1024.5 1208.2 L1026.5 1208.2 L1028.5 1208.2 L1030.5 1208.1 L1032.5 1208.1 L1034.5 1208.0 L1036.5 1208.0 L1038.5 1207.9 L1040.5 1207.9 L1042.5 1207.9 L1044.5 1207.8 L1046.5 1207.8 L1048.5 1207.8 L1050.5 1207.8 L1052.5 1207.7 L1054.5 1207.7 L1055.0 1207.7 L1056.5 1207.7 L1058.5 1207.7 L1060.5 1207.6 L1062.5 1207.6 L1064.5 1207.6 L1066.5 1207.6 L1068.5 1207.5 L1070.5 1207.5 L1072.5 1207.5 L1074.5 1207.5 L1076.5 1207.5 L1078.5 1207.4 L1080.5 1207.4 L1082.5 1207.4 L1084.5 1207.4 L1086.5 1207.4 L1088.5 1207.4 L1090.5 1207.3 L1092.5 1207.3 L1094.5 1207.3 L1096.5 1207.3 L1098.5 1207.3 L1100.5 1207.3 L1102.5 1207.3 L1103.9 1207.3 L1104.5 1207.3 L1106.5 1207.3 L1108.5 1207.4 L1110.5 1207.4 L1112.5 1207.5 L1114.5 1207.6 L1116.5 1207.7 L1118.5 1207.8 L1120.5 1207.9 L1122.5 1208.0 L1124.5 1208.1 L1126.5 1208.2 L1128.5 1208.3 L1129.6 1208.3 L1130.5 1208.3 L1132.5 1208.4 L1134.5 1208.4 L1136.5 1208.4 L1138.5 1208.5 L1140.5 1208.5 L1142.5 1208.5 L1144.5 1208.5 L1146.5 1208.6 L1148.5 1208.6 L1150.5 1208.6 L1152.5 1208.6 L1154.5 1208.7 L1156.5 1208.7 L1158.5 1208.7 L1160.5 1208.7 L1162.5 1208.8 L1164.5 1208.8 L1166.5 1208.8 L1168.5 1208.8 L1170.5 1208.9 L1172.5 1208.9 L1173.1 1208.9 L1174.5 1208.9 L1176.5 1209.0 L1178.5 1209.0 L1180.5 1209.0 L1182.5 1209.1 L1184.5 1209.1 L1186.5 1209.1 L1188.5 1209.2 L1190.5 1209.2 L1192.5 1209.2 L1194.5 1209.3 L1196.5 1209.3 L1198.5 1209.4 L1200.5 1209.4 L1202.5 1209.4 L1204.5 1209.5 L1206.5 1209.5 L1208.5 1209.6 L1210.5 1209.6 L1212.5 1209.7 L1214.5 1209.8 L1215.6 1209.8 L1216.5 1209.8 L1218.5 1209.9 L1220.5 1210.0 L1222.5 1210.1 L1224.5 1210.2 L1226.5 1210.3 L1228.5 1210.4 L1230.5 1210.6 L1232.5 1210.7 L1234.5 1210.8 L1236.5 1211.0 L1238.5 1211.1 L1240.5 1211.3 L1242.5 1211.4 L1244.5 1211.6 L1246.5 1211.8 L1248.5 1211.9 L1250.5 1212.1 L1252.5 1212.2 L1254.5 1212.4 L1256.0 1212.5 L1256.5 1212.5 L1258.5 1212.7 L1260.5 1212.9 L1262.5 1213.0 L1264.5 1213.2 L1266.5 1213.3 L1268.5 1213.5 L1270.5 1213.7 L1272.5 1213.9 L1274.5 1214.0 L1276.5 1214.2 L1278.5 1214.4 L1280.5 1214.6 L1282.5 1214.8 L1284.5 1214.9 L1286.5 1215.1 L1288.5 1215.3 L1290.5 1215.5 L1292.5 1215.7 L1294.5 1215.9 L1296.5 1216.0 L1298.5 1216.2 L1300.5 1216.4 L1302.5 1216.6 L1304.5 1216.8 L1304.8 1216.8 L1306.5 1217.0 L1308.5 1217.1 L1310.5 1217.3 L1312.5 1217.5 L1314.5 1217.7 L1316.5 1217.8 L1318.5 1218.0 L1320.5 1218.2 L1322.5 1218.4 L1324.5 1218.5 L1326.5 1218.7 L1328.5 1218.9 L1330.5 1219.1 L1332.5 1219.2 L1334.5 1219.4 L1336.5 1219.6 L1338.5 1219.8 L1340.5 1220.0 L1342.5 1220.1 L1344.5 1220.3 L1346.5 1220.5 L1348.5 1220.7 L1350.5 1220.9 L1351.6 1221.0 L1352.5 1221.1 L1354.5 1221.3 L1356.5 1221.5 L1358.5 1221.7 L1360.5 1221.9 L1362.5 1222.1 L1364.5 1222.3 L1366.5 1222.5 L1368.5 1222.7 L1370.5 1222.9 L1372.5 1223.1 L1374.5 1223.3 L1376.5 1223.5 L1378.5 1223.7 L1380.5 1223.9 L1382.5 1224.1 L1384.5 1224.3 L1386.5 1224.6 L1388.5 1224.8 L1390.5 1225.0 L1392.5 1225.2 L1394.5 1225.4 L1396.5 1225.6 L1398.5 1225.8 L1399.4 1225.9 L1400.5 1226.0 L1402.5 1226.2 L1404.5 1226.4 L1406.5 1226.6 L1408.5 1226.9 L1410.5 1227.1 L1412.5 1227.3 L1414.5 1227.5 L1416.5 1227.7 L1418.5 1228.0 L1420.5 1228.2 L1422.5 1228.4 L1424.5 1228.6 L1426.5 1228.8 L1428.5 1229.0 L1430.5 1229.2 L1432.5 1229.5 L1434.5 1229.7 L1436.5 1229.9 L1438.5 1230.1 L1440.5 1230.3 L1442.5 1230.5 L1444.5 1230.7 L1446.5 1230.8 L1448.3 1231.0 L1448.5 1231.0 L1450.5 1231.2 L1452.5 1231.4 L1454.5 1231.5 L1456.5 1231.7 L1458.5 1231.9 L1460.5 1232.0 L1462.5 1232.2 L1464.5 1232.3 L1466.5 1232.5 L1468.5 1232.6 L1470.5 1232.8 L1472.5 1232.9 L1474.5 1233.1 L1476.5 1233.2 L1478.5 1233.4 L1480.5 1233.5 L1482.5 1233.7 L1484.5 1233.8 L1486.5 1234.0 L1488.5 1234.1 L1490.5 1234.3 L1492.5 1234.4 L1494.5 1234.6 L1496.5 1234.8 L1497.1 1234.8 L1498.5 1234.9 L1500.5 1235.1 L1502.5 1235.2 L1504.5 1235.4 L1506.5 1235.6 L1508.5 1235.7 L1510.5 1235.9 L1512.5 1236.1 L1514.5 1236.3 L1516.5 1236.4 L1518.5 1236.6 L1520.5 1236.8 L1522.5 1236.9 L1524.5 1237.1 L1526.5 1237.3 L1528.5 1237.4 L1530.5 1237.6 L1532.5 1237.8 L1534.5 1237.9 L1536.5 1238.1 L1538.5 1238.2 L1540.5 1238.4 L1542.5 1238.5 L1544.5 1238.7 L1544.9 1238.7 L1546.5 1238.8 L1548.5 1238.9 L1550.5 1239.1 L1552.5 1239.2 L1554.5 1239.4 L1556.5 1239.5 L1558.5 1239.6 L1560.5 1239.8 L1562.5 1239.9 L1564.5 1240.0 L1566.5 1240.2 L1568.5 1240.3 L1570.5 1240.4 L1572.5 1240.6 L1574.5 1240.7 L1576.5 1240.8 L1578.5 1240.9 L1580.5 1241.0 L1582.5 1241.2 L1584.5 1241.3 L1586.5 1241.4 L1588.5 1241.5 L1590.5 1241.6 L1592.5 1241.7 L1594.5 1241.8 L1596.5 1241.9 L1598.5 1241.9 L1600.0 1242.0 L1600.5 1242.0 L1602.5 1242.1 L1604.5 1242.2 L1606.5 1242.3 L1608.5 1242.3 L1610.5 1242.4 L1612.5 1242.5 L1614.5 1242.6 L1616.5 1242.7 L1618.5 1242.8 L1620.5 1242.8 L1622.5 1242.9 L1624.5 1243.0 L1626.5 1243.1 L1628.5 1243.1 L1630.5 1243.2 L1632.5 1243.2 L1634.5 1243.3 L1636.5 1243.3 L1638.5 1243.4 L1640.5 1243.4 L1642.5 1243.4 L1644.5 1243.5 L1646.5 1243.5 L1648.5 1243.5 L1650.0 1243.5 L1650.5 1243.5 L1652.5 1243.5 L1654.5 1243.5 L1656.5 1243.5 L1658.5 1243.5 L1660.5 1243.5 L1662.5 1243.5 L1664.5 1243.4 L1666.5 1243.4 L1668.5 1243.4 L1670.5 1243.4 L1672.5 1243.4 L1674.5 1243.4 L1676.5 1243.3 L1678.5 1243.3 L1680.5 1243.3 L1682.5 1243.3 L1684.5 1243.2 L1686.5 1243.2 L1688.5 1243.2 L1690.5 1243.1 L1692.5 1243.1 L1694.5 1243.1 L1696.5 1243.1 L1698.5 1243.0 L1700.0 1243.0 L1700.5 1243.0 L1702.5 1243.0 L1704.5 1242.9 L1706.5 1242.9 L1708.5 1242.8 L1710.5 1242.8 L1712.5 1242.8 L1714.5 1242.7 L1716.5 1242.7 L1718.5 1242.6 L1720.5 1242.5 L1722.5 1242.5 L1724.5 1242.4 L1726.5 1242.4 L1728.5 1242.3 L1730.5 1242.2 L1732.5 1242.2 L1734.5 1242.1 L1736.5 1242.0 L1738.5 1241.9 L1740.5 1241.9 L1742.5 1241.8 L1744.5 1241.7 L1746.5 1241.6 L1748.5 1241.5 L1750.5 1241.4 L1752.5 1241.3 L1754.5 1241.3 L1756.5 1241.2 L1758.5 1241.1 L1760.0 1241.0 L1760.5 1241.0 L1762.5 1240.9 L1764.5 1240.8 L1766.5 1240.6 L1768.5 1240.5 L1770.5 1240.4 L1772.5 1240.2 L1774.5 1240.1 L1776.5 1239.9 L1778.5 1239.8 L1780.5 1239.6 L1782.5 1239.5 L1784.5 1239.3 L1786.5 1239.1 L1788.5 1239.0 L1790.5 1238.8 L1791.9 1238.7 L1792.5 1238.7 L1794.5 1238.5 L1796.5 1238.3 L1798.5 1238.1 L1800.5 1238.0 L1802.5 1237.8 L1804.5 1237.6 L1806.5 1237.4 L1808.5 1237.2 L1810.5 1237.1 L1812.5 1236.9 L1814.5 1236.7 L1816.5 1236.5 L1818.5 1236.3 L1820.5 1236.1 L1822.5 1235.9 L1824.5 1235.7 L1826.5 1235.5 L1828.5 1235.3 L1830.5 1235.1 L1832.5 1234.9 L1834.5 1234.7 L1836.5 1234.5 L1838.5 1234.3 L1840.5 1234.1 L1841.7 1234.0 L1842.5 1233.9 L1844.5 1233.7 L1846.5 1233.5 L1848.5 1233.3 L1850.5 1233.1 L1852.5 1232.9 L1854.5 1232.6 L1856.5 1232.4 L1858.5 1232.2 L1860.5 1232.0 L1862.5 1231.7 L1864.5 1231.5 L1866.5 1231.3 L1868.5 1231.1 L1870.5 1230.9 L1872.5 1230.6 L1874.5 1230.4 L1876.5 1230.2 L1878.5 1230.0 L1880.5 1229.9 L1882.5 1229.7 L1884.5 1229.5 L1886.5 1229.4 L1888.5 1229.2 L1890.5 1229.1 L1891.6 1229.0 L1892.5 1228.9 L1894.5 1228.8 L1896.5 1228.7 L1898.5 1228.6 L1900.5 1228.5 L1902.5 1228.4 L1904.5 1228.3 L1906.5 1228.2 L1908.5 1228.1 L1910.5 1228.0 L1912.5 1227.9 L1914.5 1227.8 L1916.5 1227.7 L1918.5 1227.6 L1920.5 1227.5 L1922.5 1227.4 L1924.5 1227.3 L1926.5 1227.3 L1928.5 1227.2 L1930.5 1227.1 L1932.5 1227.0 L1934.5 1227.0 L1936.5 1226.9 L1938.5 1226.9 L1940.5 1226.8 L1942.5 1226.7 L1944.5 1226.7 L1946.5 1226.6 L1948.5 1226.6 L1950.5 1226.5 L1952.5 1226.5 L1954.5 1226.4 L1956.5 1226.3 L1958.5 1226.3 L1960.5 1226.2 L1962.5 1226.2 L1964.5 1226.1 L1966.5 1226.1 L1968.5 1226.0 L1970.5 1226.0 L1972.5 1226.0 L1974.5 1225.9 L1976.5 1225.9 L1978.5 1225.9 L1980.5 1225.8 L1982.5 1225.8 L1984.5 1225.8 L1986.5 1225.8 L1988.5 1225.8 L1989.3 1225.8 L1990.5 1225.8 L1992.5 1225.8 L1994.5 1225.8 L1996.5 1225.8 L1998.5 1225.8 L2000.5 1225.8 L2002.5 1225.8 L2004.5 1225.8 L2006.5 1225.8 L2008.5 1225.8 L2010.5 1225.8 L2012.5 1225.8 L2014.5 1225.8 L2016.5 1225.8 L2018.5 1225.8 L2020.5 1225.8 L2022.5 1225.8 L2024.5 1225.8 L2026.5 1225.8 L2028.5 1225.8 L2030.5 1225.8 L2032.5 1225.8 L2034.5 1225.8 L2036.5 1225.8 L2038.2 1225.8 L2038.5 1225.8 L2040.5 1225.8 L2042.5 1225.8 L2044.5 1225.8 L2046.5 1225.8 L2048.5 1225.8 L2050.5 1225.8 L2052.5 1225.8 L2054.5 1225.8 L2056.5 1225.8 L2058.5 1225.8 L2060.5 1225.8"/>
<path stroke="#00ffff" stroke-width="13.2" shape-rendering="crispEdges" stroke-dasharray="49.7 12.05 24.75 12.05" d="M254.5 1334.0 L256.5 1333.8 L258.5 1333.7 L260.5 1333.5 L262.5 1333.3 L264.5 1333.2 L266.5 1333.0 L268.5 1332.9 L270.5 1332.7 L272.5 1332.6 L274.5 1332.4 L276.5 1332.2 L278.5 1332.1 L280.5 1331.9 L282.5 1331.8 L284.5 1331.7 L286.5 1331.5 L288.5 1331.4 L290.5 1331.3 L292.5 1331.1 L294.5 1331.0 L296.5 1330.9 L298.5 1330.8 L300.5 1330.6 L302.5 1330.5 L304.5 1330.4 L306.5 1330.3 L308.5 1330.1 L310.5 1330.0 L312.5 1329.9 L314.5 1329.8 L316.5 1329.6 L318.5 1329.5 L320.5 1329.3 L322.5 1329.2 L324.5 1329.0 L326.5 1328.8 L328.2 1328.7 L328.5 1328.7 L330.5 1328.5 L332.5 1328.3 L334.5 1328.1 L336.5 1327.9 L338.5 1327.7 L340.5 1327.4 L342.5 1327.2 L344.5 1327.0 L346.5 1326.7 L348.5 1326.5 L350.5 1326.2 L352.5 1326.0 L354.5 1325.7 L356.5 1325.4 L358.5 1325.2 L360.5 1324.9 L362.5 1324.6 L364.5 1324.3 L366.5 1324.0 L368.5 1323.7 L370.5 1323.4 L372.5 1323.1 L374.5 1322.8 L376.5 1322.5 L378.1 1322.3 L378.5 1322.2 L380.5 1321.9 L382.5 1321.6 L384.5 1321.3 L386.5 1321.0 L388.5 1320.7 L390.5 1320.3 L392.5 1320.0 L394.5 1319.6 L396.5 1319.3 L398.5 1318.9 L400.5 1318.6 L402.5 1318.2 L404.5 1317.8 L406.5 1317.5 L408.5 1317.1 L410.5 1316.7 L412.5 1316.3 L414.5 1316.0 L416.5 1315.6 L418.5 1315.2 L420.5 1314.8 L422.5 1314.4 L424.5 1314.1 L425.9 1313.8 L426.5 1313.7 L428.5 1313.3 L430.5 1312.9 L432.5 1312.5 L434.5 1312.2 L436.5 1311.8 L438.5 1311.4 L440.5 1311.0 L442.5 1310.6 L444.5 1310.2 L446.5 1309.8 L448.5 1309.4 L450.5 1309.0 L452.5 1308.6 L454.5 1308.2 L456.5 1307.8 L458.5 1307.4 L460.5 1307.0 L462.5 1306.5 L464.5 1306.1 L466.5 1305.7 L468.5 1305.3 L470.5 1304.9 L472.5 1304.5 L473.7 1304.2 L474.5 1304.0 L476.5 1303.6 L478.5 1303.2 L480.5 1302.8 L482.5 1302.3 L484.5 1301.9 L486.5 1301.5 L488.5 1301.0 L490.5 1300.6 L492.5 1300.2 L494.5 1299.7 L496.5 1299.3 L498.5 1298.8 L500.5 1298.4 L502.5 1297.9 L504.5 1297.5 L506.5 1297.0 L508.5 1296.6 L510.5 1296.1 L512.5 1295.7 L514.5 1295.2 L516.5 1294.8 L518.5 1294.3 L520.5 1293.8 L521.5 1293.6 L522.5 1293.4 L524.5 1292.9 L526.5 1292.4 L528.5 1292.0 L530.5 1291.5 L532.5 1291.0 L534.5 1290.5 L536.5 1290.1 L538.5 1289.6 L540.5 1289.1 L542.5 1288.6 L544.5 1288.1 L546.5 1287.6 L548.5 1287.1 L550.5 1286.6 L552.5 1286.1 L554.5 1285.7 L556.5 1285.2 L558.5 1284.6 L560.5 1284.1 L562.5 1283.6 L564.5 1283.1 L566.5 1282.6 L568.5 1282.1 L569.3 1281.9 L570.5 1281.6 L572.5 1281.1 L574.5 1280.5 L576.5 1280.0 L578.5 1279.5 L580.5 1278.9 L582.5 1278.4 L584.5 1277.9 L586.5 1277.3 L588.5 1276.8 L590.5 1276.2 L592.5 1275.7 L594.5 1275.1 L596.5 1274.6 L598.5 1274.0 L600.5 1273.4 L602.5 1272.9 L604.5 1272.3 L606.5 1271.8 L608.5 1271.3 L610.5 1270.7 L612.5 1270.2 L614.5 1269.6 L616.1 1269.2 L616.5 1269.1 L618.5 1268.6 L620.5 1268.0 L622.5 1267.5 L624.5 1267.0 L626.5 1266.4 L628.5 1265.9 L630.5 1265.4 L632.5 1264.9 L634.5 1264.3 L636.5 1263.8 L638.5 1263.3 L640.5 1262.8 L642.5 1262.2 L644.5 1261.7 L646.5 1261.2 L648.5 1260.7 L650.5 1260.1 L652.5 1259.6 L654.5 1259.1 L656.5 1258.6 L658.5 1258.1 L660.5 1257.5 L662.5 1257.0 L664.5 1256.5 L664.9 1256.4 L666.5 1256.0 L668.5 1255.5 L670.5 1254.9 L672.5 1254.4 L674.5 1253.9 L676.5 1253.4 L678.5 1252.9 L680.0 1252.5 L680.5 1252.4 L682.5 1251.9 L684.5 1251.5 L686.5 1251.0 L688.5 1250.6 L690.5 1250.1 L692.5 1249.7 L694.5 1249.2 L696.5 1248.8 L698.5 1248.4 L700.5 1248.0 L702.5 1247.6 L704.5 1247.2 L706.5 1246.8 L708.5 1246.4 L710.5 1246.0 L712.5 1245.6 L712.9 1245.5 L714.5 1245.2 L716.5 1244.8 L718.5 1244.4 L720.5 1244.1 L722.5 1243.7 L724.5 1243.3 L726.5 1243.0 L728.5 1242.6 L730.5 1242.2 L732.5 1241.9 L734.5 1241.5 L736.5 1241.2 L738.5 1240.8 L740.5 1240.5 L742.5 1240.1 L744.5 1239.8 L746.5 1239.5 L748.5 1239.1 L750.5 1238.8 L752.5 1238.4 L754.5 1238.1 L756.5 1237.7 L758.5 1237.4 L760.5 1237.0 L760.7 1237.0 L762.5 1236.7 L764.5 1236.3 L766.5 1236.0 L768.5 1235.6 L770.5 1235.2 L772.5 1234.9 L774.5 1234.5 L776.5 1234.1 L778.5 1233.8 L780.5 1233.4 L782.5 1233.1 L784.5 1232.7 L786.5 1232.3 L788.5 1232.0 L790.5 1231.6 L792.5 1231.3 L794.5 1230.9 L796.5 1230.6 L798.5 1230.3 L800.5 1229.9 L802.5 1229.6 L804.5 1229.3 L806.5 1229.0 L808.5 1228.7 L809.6 1228.5 L810.5 1228.4 L812.5 1228.1 L814.5 1227.8 L816.5 1227.5 L818.5 1227.2 L820.5 1226.9 L822.5 1226.7 L824.5 1226.4 L826.5 1226.1 L828.5 1225.9 L830.5 1225.6 L832.5 1225.4 L834.5 1225.1 L836.5 1224.9 L838.5 1224.6 L840.5 1224.4 L842.5 1224.1 L844.5 1223.9 L846.5 1223.6 L848.5 1223.4 L850.5 1223.1 L852.5 1222.9 L854.5 1222.7 L856.5 1222.4 L858.5 1222.2 L860.5 1222.0 L862.5 1221.7 L864.5 1221.5 L866.5 1221.3 L868.5 1221.0 L870.5 1220.8 L872.5 1220.6 L874.5 1220.4 L876.5 1220.2 L878.5 1219.9 L880.5 1219.7 L882.5 1219.5 L884.5 1219.3 L886.5 1219.1 L888.5 1218.9 L890.5 1218.7 L892.5 1218.4 L894.5 1218.2 L896.5 1218.0 L898.5 1217.8 L900.5 1217.6 L902.5 1217.4 L904.5 1217.2 L906.5 1217.0 L907.3 1216.9 L908.5 1216.8 L910.5 1216.6 L912.5 1216.4 L914.5 1216.1 L916.5 1215.9 L918.5 1215.7 L920.5 1215.5 L922.5 1215.3 L924.5 1215.1 L926.5 1214.9 L928.5 1214.6 L930.5 1214.4 L932.5 1214.2 L934.5 1214.0 L936.5 1213.8 L938.5 1213.6 L940.5 1213.4 L942.5 1213.2 L944.5 1213.0 L946.5 1212.8 L948.5 1212.7 L950.5 1212.5 L952.5 1212.3 L954.5 1212.1 L956.2 1212.0 L956.5 1212.0 L958.5 1211.8 L960.5 1211.7 L962.5 1211.5 L964.5 1211.3 L966.5 1211.2 L968.5 1211.0 L970.5 1210.9 L972.5 1210.7 L974.5 1210.6 L976.5 1210.4 L978.5 1210.3 L980.5 1210.1 L982.5 1210.0 L984.5 1209.9 L986.5 1209.7 L988.5 1209.6 L990.5 1209.5 L992.5 1209.4 L994.5 1209.3 L996.5 1209.2 L998.5 1209.1 L1000.5 1209.0 L1002.5 1208.9 L1004.5 1208.8 L1005.1 1208.8 L1006.5 1208.8 L1008.5 1208.7 L1010.5 1208.6 L1012.5 1208.6 L1014.5 1208.5 L1016.5 1208.5 L1018.5 1208.4 L1020.5 1208.3 L1022.5 1208.3 L1024.5 1208.2 L1026.5 1208.2 L1028.5 1208.2 L1030.5 1208.1 L1032.5 1208.1 L1034.5 1208.0 L1036.5 1208.0 L1038.5 1207.9 L1040.5 1207.9 L1042.5 1207.9 L1044.5 1207.8 L1046.5 1207.8 L1048.5 1207.8 L1050.5 1207.8 L1052.5 1207.7 L1054.5 1207.7 L1055.0 1207.7 L1056.5 1207.7 L1058.5 1207.7 L1060.5 1207.6 L1062.5 1207.6 L1064.5 1207.6 L1066.5 1207.6 L1068.5 1207.5 L1070.5 1207.5 L1072.5 1207.5 L1074.5 1207.5 L1076.5 1207.5 L1078.5 1207.4 L1080.5 1207.4 L1082.5 1207.4 L1084.5 1207.4 L1086.5 1207.4 L1088.5 1207.4 L1090.5 1207.3 L1092.5 1207.3 L1094.5 1207.3 L1096.5 1207.3 L1098.5 1207.3 L1100.5 1207.3 L1102.5 1207.3 L1103.9 1207.3 L1104.5 1207.3 L1106.5 1207.3 L1108.5 1207.4 L1110.5 1207.4 L1112.5 1207.5 L1114.5 1207.6 L1116.5 1207.7 L1118.5 1207.8 L1120.5 1207.9 L1122.5 1208.0 L1124.5 1208.1 L1126.5 1208.2 L1128.5 1208.3 L1129.6 1208.3 L1130.5 1208.3 L1132.5 1208.4 L1134.5 1208.4 L1136.5 1208.4 L1138.5 1208.5 L1140.5 1208.5 L1142.5 1208.5 L1144.5 1208.5 L1146.5 1208.6 L1148.5 1208.6 L1150.5 1208.6 L1152.5 1208.6 L1154.5 1208.7 L1156.5 1208.7 L1158.5 1208.7 L1160.5 1208.7 L1162.5 1208.8 L1164.5 1208.8 L1166.5 1208.8 L1168.5 1208.8 L1170.5 1208.9 L1172.5 1208.9 L1173.1 1208.9 L1174.5 1208.9 L1176.5 1209.0 L1178.5 1209.0 L1180.5 1209.0 L1182.5 1209.1 L1184.5 1209.1 L1186.5 1209.1 L1188.5 1209.2 L1190.5 1209.2 L1192.5 1209.2 L1194.5 1209.3 L1196.5 1209.3 L1198.5 1209.4 L1200.5 1209.4 L1202.5 1209.4 L1204.5 1209.5 L1206.5 1209.5 L1208.5 1209.6 L1210.5 1209.6 L1212.5 1209.7 L1214.5 1209.8 L1215.6 1209.8 L1216.5 1209.8 L1218.5 1209.9 L1220.5 1210.0 L1222.5 1210.1 L1224.5 1210.2 L1226.5 1210.3 L1228.5 1210.4 L1230.5 1210.6 L1232.5 1210.7 L1234.5 1210.8 L1236.5 1211.0 L1238.5 1211.1 L1240.5 1211.3 L1242.5 1211.4 L1244.5 1211.6 L1246.5 1211.8 L1248.5 1211.9 L1250.5 1212.1 L1252.5 1212.2 L1254.5 1212.4 L1256.0 1212.5 L1256.5 1212.5 L1258.5 1212.7 L1260.5 1212.9 L1262.5 1213.0 L1264.5 1213.2 L1266.5 1213.3 L1268.5 1213.5 L1270.5 1213.7 L1272.5 1213.9 L1274.5 1214.0 L1276.5 1214.2 L1278.5 1214.4 L1280.5 1214.6 L1282.5 1214.8 L1284.5 1214.9 L1286.5 1215.1 L1288.5 1215.3 L1290.5 1215.5 L1292.5 1215.7 L1294.5 1215.9 L1296.5 1216.0 L1298.5 1216.2 L1300.5 1216.4 L1302.5 1216.6 L1304.5 1216.8 L1304.8 1216.8 L1306.5 1217.0 L1308.5 1217.1 L1310.5 1217.3 L1312.5 1217.5 L1314.5 1217.7 L1316.5 1217.8 L1318.5 1218.0 L1320.5 1218.2 L1322.5 1218.4 L1324.5 1218.5 L1326.5 1218.7 L1328.5 1218.9 L1330.5 1219.1 L1332.5 1219.2 L1334.5 1219.4 L1336.5 1219.6 L1338.5 1219.8 L1340.5 1220.0 L1342.5 1220.1 L1344.5 1220.3 L1346.5 1220.5 L1348.5 1220.7 L1350.5 1220.9 L1351.6 1221.0 L1352.5 1221.1 L1354.5 1221.3 L1356.5 1221.5 L1358.5 1221.7 L1360.5 1221.9 L1362.5 1222.1 L1364.5 1222.3 L1366.5 1222.5 L1368.5 1222.7 L1370.5 1222.9 L1372.5 1223.1 L1374.5 1223.3 L1376.5 1223.5 L1378.5 1223.7 L1380.5 1223.9 L1382.5 1224.1 L1384.5 1224.3 L1386.5 1224.6 L1388.5 1224.8 L1390.5 1225.0 L1392.5 1225.2 L1394.5 1225.4 L1396.5 1225.6 L1398.5 1225.8 L1399.4 1225.9 L1400.5 1226.0 L1402.5 1226.2 L1404.5 1226.4 L1406.5 1226.6 L1408.5 1226.9 L1410.5 1227.1 L1412.5 1227.3 L1414.5 1227.5 L1416.5 1227.7 L1418.5 1228.0 L1420.5 1228.2 L1422.5 1228.4 L1424.5 1228.6 L1426.5 1228.8 L1428.5 1229.0 L1430.5 1229.2 L1432.5 1229.5 L1434.5 1229.7 L1436.5 1229.9 L1438.5 1230.1 L1440.5 1230.3 L1442.5 1230.5 L1444.5 1230.7 L1446.5 1230.8 L1448.3 1231.0 L1448.5 1231.0 L1450.5 1231.2 L1452.5 1231.4 L1454.5 1231.5 L1456.5 1231.7 L1458.5 1231.9 L1460.5 1232.0 L1462.5 1232.2 L1464.5 1232.3 L1466.5 1232.5 L1468.5 1232.6 L1470.5 1232.8 L1472.5 1232.9 L1474.5 1233.1 L1476.5 1233.2 L1478.5 1233.4 L1480.5 1233.5 L1482.5 1233.7 L1484.5 1233.8 L1486.5 1234.0 L1488.5 1234.1 L1490.5 1234.3 L1492.5 1234.4 L1494.5 1234.6 L1496.5 1234.8 L1497.1 1234.8 L1498.5 1234.9 L1500.5 1235.1 L1502.5 1235.2 L1504.5 1235.4 L1506.5 1235.6 L1508.5 1235.7 L1510.5 1235.9 L1512.5 1236.1 L1514.5 1236.3 L1516.5 1236.4 L1518.5 1236.6 L1520.5 1236.8 L1522.5 1236.9 L1524.5 1237.1 L1526.5 1237.3 L1528.5 1237.4 L1530.5 1237.6 L1532.5 1237.8 L1534.5 1237.9 L1536.5 1238.1 L1538.5 1238.2 L1540.5 1238.4 L1542.5 1238.5 L1544.5 1238.7 L1544.9 1238.7 L1546.5 1238.8 L1548.5 1238.9 L1550.5 1239.1 L1552.5 1239.2 L1554.5 1239.4 L1556.5 1239.5 L1558.5 1239.6 L1560.5 1239.8 L1562.5 1239.9 L1564.5 1240.0 L1566.5 1240.2 L1568.5 1240.3 L1570.5 1240.4 L1572.5 1240.6 L1574.5 1240.7 L1576.5 1240.8 L1578.5 1240.9 L1580.5 1241.0 L1582.5 1241.2 L1584.5 1241.3 L1586.5 1241.4 L1588.5 1241.5 L1590.5 1241.6 L1592.5 1241.7 L1594.5 1241.8 L1596.5 1241.9 L1598.5 1241.9 L1600.0 1242.0 L1600.5 1242.0 L1602.5 1242.1 L1604.5 1242.2 L1606.5 1242.3 L1608.5 1242.3 L1610.5 1242.4 L1612.5 1242.5 L1614.5 1242.6 L1616.5 1242.7 L1618.5 1242.8 L1620.5 1242.8 L1622.5 1242.9 L1624.5 1243.0 L1626.5 1243.1 L1628.5 1243.1 L1630.5 1243.2 L1632.5 1243.2 L1634.5 1243.3 L1636.5 1243.3 L1638.5 1243.4 L1640.5 1243.4 L1642.5 1243.4 L1644.5 1243.5 L1646.5 1243.5 L1648.5 1243.5 L1650.0 1243.5 L1650.5 1243.5 L1652.5 1243.5 L1654.5 1243.5 L1656.5 1243.5 L1658.5 1243.5 L1660.5 1243.5 L1662.5 1243.5 L1664.5 1243.4 L1666.5 1243.4 L1668.5 1243.4 L1670.5 1243.4 L1672.5 1243.4 L1674.5 1243.4 L1676.5 1243.3 L1678.5 1243.3 L1680.5 1243.3 L1682.5 1243.3 L1684.5 1243.2 L1686.5 1243.2 L1688.5 1243.2 L1690.5 1243.1 L1692.5 1243.1 L1694.5 1243.1 L1696.5 1243.1 L1698.5 1243.0 L1700.0 1243.0 L1700.5 1243.0 L1702.5 1243.0 L1704.5 1242.9 L1706.5 1242.9 L1708.5 1242.8 L1710.5 1242.8 L1712.5 1242.8 L1714.5 1242.7 L1716.5 1242.7 L1718.5 1242.6 L1720.5 1242.5 L1722.5 1242.5 L1724.5 1242.4 L1726.5 1242.4 L1728.5 1242.3 L1730.5 1242.2 L1732.5 1242.2 L1734.5 1242.1 L1736.5 1242.0 L1738.5 1241.9 L1740.5 1241.9 L1742.5 1241.8 L1744.5 1241.7 L1746.5 1241.6 L1748.5 1241.5 L1750.5 1241.4 L1752.5 1241.3 L1754.5 1241.3 L1756.5 1241.2 L1758.5 1241.1 L1760.0 1241.0 L1760.5 1241.0 L1762.5 1240.9 L1764.5 1240.8 L1766.5 1240.6 L1768.5 1240.5 L1770.5 1240.4 L1772.5 1240.2 L1774.5 1240.1 L1776.5 1239.9 L1778.5 1239.8 L1780.5 1239.6 L1782.5 1239.5 L1784.5 1239.3 L1786.5 1239.1 L1788.5 1239.0 L1790.5 1238.8 L1791.9 1238.7 L1792.5 1238.7 L1794.5 1238.5 L1796.5 1238.3 L1798.5 1238.1 L1800.5 1238.0 L1802.5 1237.8 L1804.5 1237.6 L1806.5 1237.4 L1808.5 1237.2 L1810.5 1237.1 L1812.5 1236.9 L1814.5 1236.7 L1816.5 1236.5 L1818.5 1236.3 L1820.5 1236.1 L1822.5 1235.9 L1824.5 1235.7 L1826.5 1235.5 L1828.5 1235.3 L1830.5 1235.1 L1832.5 1234.9 L1834.5 1234.7 L1836.5 1234.5 L1838.5 1234.3 L1840.5 1234.1 L1841.7 1234.0 L1842.5 1233.9 L1844.5 1233.7 L1846.5 1233.5 L1848.5 1233.3 L1850.5 1233.1 L1852.5 1232.9 L1854.5 1232.6 L1856.5 1232.4 L1858.5 1232.2 L1860.5 1232.0 L1862.5 1231.7 L1864.5 1231.5 L1866.5 1231.3 L1868.5 1231.1 L1870.5 1230.9 L1872.5 1230.6 L1874.5 1230.4 L1876.5 1230.2 L1878.5 1230.0 L1880.5 1229.9 L1882.5 1229.7 L1884.5 1229.5 L1886.5 1229.4 L1888.5 1229.2 L1890.5 1229.1 L1891.6 1229.0 L1892.5 1228.9 L1894.5 1228.8 L1896.5 1228.7 L1898.5 1228.6 L1900.5 1228.5 L1902.5 1228.4 L1904.5 1228.3 L1906.5 1228.2 L1908.5 1228.1 L1910.5 1228.0 L1912.5 1227.9 L1914.5 1227.8 L1916.5 1227.7 L1918.5 1227.6 L1920.5 1227.5 L1922.5 1227.4 L1924.5 1227.3 L1926.5 1227.3 L1928.5 1227.2 L1930.5 1227.1 L1932.5 1227.0 L1934.5 1227.0 L1936.5 1226.9 L1938.5 1226.9 L1940.5 1226.8 L1942.5 1226.7 L1944.5 1226.7 L1946.5 1226.6 L1948.5 1226.6 L1950.5 1226.5 L1952.5 1226.5 L1954.5 1226.4 L1956.5 1226.3 L1958.5 1226.3 L1960.5 1226.2 L1962.5 1226.2 L1964.5 1226.1 L1966.5 1226.1 L1968.5 1226.0 L1970.5 1226.0 L1972.5 1226.0 L1974.5 1225.9 L1976.5 1225.9 L1978.5 1225.9 L1980.5 1225.8 L1982.5 1225.8 L1984.5 1225.8 L1986.5 1225.8 L1988.5 1225.8 L1989.3 1225.8 L1990.5 1225.8 L1992.5 1225.8 L1994.5 1225.8 L1996.5 1225.8 L1998.5 1225.8 L2000.5 1225.8 L2002.5 1225.8 L2004.5 1225.8 L2006.5 1225.8 L2008.5 1225.8 L2010.5 1225.8 L2012.5 1225.8 L2014.5 1225.8 L2016.5 1225.8 L2018.5 1225.8 L2020.5 1225.8 L2022.5 1225.8 L2024.5 1225.8 L2026.5 1225.8 L2028.5 1225.8 L2030.5 1225.8 L2032.5 1225.8 L2034.5 1225.8 L2036.5 1225.8 L2038.2 1225.8 L2038.5 1225.8 L2040.5 1225.8 L2042.5 1225.8 L2044.5 1225.8 L2046.5 1225.8 L2048.5 1225.8 L2050.5 1225.8 L2052.5 1225.8 L2054.5 1225.8 L2056.5 1225.8 L2058.5 1225.8 L2060.5 1225.8"/>
</g>
<rect x="251.8" y="168.6" width="415.9" height="735.8" fill="#ffffff" stroke="#262626" stroke-width="3"/>
<line x1="263" y1="210.5" x2="387" y2="210.5" stroke="#ff0000" stroke-width="13" shape-rendering="crispEdges"/>
<text transform="translate(395.3,229.3) scale(0.9800,1)" font-size="58.5" fill="#000000">S11 meas</text>
<line x1="263" y1="283.5" x2="387" y2="283.5" stroke="#0000ff" stroke-width="13" shape-rendering="crispEdges"/>
<text transform="translate(395.3,301.8) scale(0.9800,1)" font-size="58.5" fill="#000000">S21 meas</text>
<line x1="263" y1="355.5" x2="387" y2="355.5" stroke="#000000" stroke-width="13" shape-rendering="crispEdges"/>
<text transform="translate(395.3,374.3) scale(0.9800,1)" font-size="58.5" fill="#000000">S31 meas</text>
<line x1="263" y1="428.5" x2="387" y2="428.5" stroke="#00ff00" stroke-width="13" shape-rendering="crispEdges"/>
<text transform="translate(395.3,446.8) scale(0.9800,1)" font-size="58.5" fill="#000000">S41 meas</text>
<line x1="263" y1="500.5" x2="387" y2="500.5" stroke="#00ffff" stroke-width="13" shape-rendering="crispEdges"/>
<text transform="translate(395.3,519.3) scale(0.9800,1)" font-size="58.5" fill="#000000">S51 meas</text>
<line x1="263" y1="573.0" x2="387" y2="573.0" stroke="#ff0000" stroke-width="14" shape-rendering="crispEdges" stroke-dasharray="50 12 25 12"/>
<text transform="translate(395.3,591.8) scale(0.9800,1)" font-size="58.5" fill="#000000">S11 sim</text>
<line x1="263" y1="645.5" x2="387" y2="645.5" stroke="#0000ff" stroke-width="13" shape-rendering="crispEdges" stroke-dasharray="50 12 25 12"/>
<text transform="translate(395.3,664.3) scale(0.9800,1)" font-size="58.5" fill="#000000">S21 sim</text>
<line x1="263" y1="718.0" x2="387" y2="718.0" stroke="#000000" stroke-width="14" shape-rendering="crispEdges" stroke-dasharray="50 12 25 12"/>
<text transform="translate(395.3,736.8) scale(0.9800,1)" font-size="58.5" fill="#000000">S31 sim</text>
<line x1="263" y1="790.5" x2="387" y2="790.5" stroke="#00ff00" stroke-width="13" shape-rendering="crispEdges" stroke-dasharray="50 12 25 12"/>
<text transform="translate(395.3,809.3) scale(0.9800,1)" font-size="58.5" fill="#000000">S41 sim</text>
<line x1="263" y1="863.0" x2="387" y2="863.0" stroke="#00ffff" stroke-width="14" shape-rendering="crispEdges" stroke-dasharray="50 12 25 12"/>
<text transform="translate(395.3,881.8) scale(0.9800,1)" font-size="58.5" fill="#000000">S51 sim</text>
<text transform="translate(252.3,1593.3) scale(0.9600,1)" font-size="64.6" text-anchor="middle" fill="#262626">23</text>
<text transform="translate(704.2,1593.3) scale(0.9600,1)" font-size="64.6" text-anchor="middle" fill="#262626">23.5</text>
<text transform="translate(1153.8,1593.3) scale(0.9600,1)" font-size="64.6" text-anchor="middle" fill="#262626">24</text>
<text transform="translate(1607.2,1593.3) scale(0.9600,1)" font-size="64.6" text-anchor="middle" fill="#262626">24.5</text>
<text transform="translate(2057.3,1593.3) scale(0.9600,1)" font-size="64.6" text-anchor="middle" fill="#262626">25</text>
<text transform="translate(230.6,81.8) scale(0.9600,1)" font-size="64.6" text-anchor="end" fill="#262626">0</text>
<text transform="translate(214.5,324.4) scale(0.9600,1)" font-size="64.6" text-anchor="end" fill="#262626">-10</text>
<text transform="translate(214.5,566.1) scale(0.9600,1)" font-size="64.6" text-anchor="end" fill="#262626">-20</text>
<text transform="translate(214.5,808.7) scale(0.9600,1)" font-size="64.6" text-anchor="end" fill="#262626">-30</text>
<text transform="translate(214.5,1050.3) scale(0.9600,1)" font-size="64.6" text-anchor="end" fill="#262626">-40</text>
<text transform="translate(214.5,1293.7) scale(0.9600,1)" font-size="64.6" text-anchor="end" fill="#262626">-50</text>
<text transform="translate(214.5,1535.7) scale(0.9600,1)" font-size="64.6" text-anchor="end" fill="#262626">-60</text>
<text transform="translate(1154.9,1677.2) scale(0.9756,1)" font-size="69.2" text-anchor="middle" fill="#262626">Frequency (GHz)</text>
<text transform="translate(101.0,780.0) rotate(-90) scale(0.9756,1)" font-size="69.2" text-anchor="middle" fill="#262626">Scattering Parameters (dB)</text>
</svg></body></html>
